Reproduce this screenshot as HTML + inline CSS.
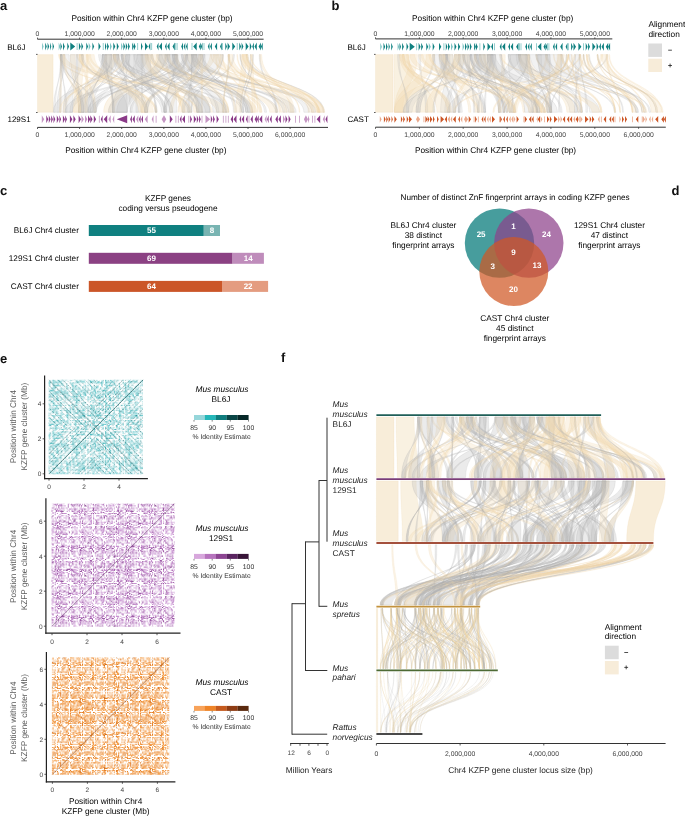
<!DOCTYPE html><html><head><meta charset="utf-8"><style>html,body{margin:0;padding:0;background:#fff;width:685px;height:816px;overflow:hidden}text{font-family:"Liberation Sans",sans-serif}.r0{fill:#f1dcb4;fill-opacity:0.5;stroke:#ecd3a4;stroke-opacity:0.6;stroke-width:0.3}.r1{fill:#f1dcb4;fill-opacity:0.3;stroke:#ecd3a4;stroke-opacity:0.6;stroke-width:0.3}.r2{fill:#bcbcbc;fill-opacity:0.2;stroke:#a8a8a8;stroke-opacity:0.6;stroke-width:0.3}.r3{fill:#f1dcb4;fill-opacity:0.4;stroke:#ecd3a4;stroke-opacity:0.5;stroke-width:0.3}.r4{fill:#f1dcb4;fill-opacity:0.3;stroke:#ecd3a4;stroke-opacity:0.5;stroke-width:0.3}.r5{fill:#bcbcbc;fill-opacity:0.3;stroke:#a8a8a8;stroke-opacity:0.6;stroke-width:0.3}.r6{fill:#bcbcbc;fill-opacity:0.3;stroke:#a8a8a8;stroke-opacity:0.5;stroke-width:0.3}.r7{fill:#f1dcb4;fill-opacity:0.3;stroke:#ecd3a4;stroke-opacity:0.4;stroke-width:0.3}.r8{fill:#bcbcbc;fill-opacity:0.2;stroke:#a8a8a8;stroke-opacity:0.4;stroke-width:0.3}.r9{fill:#f1dcb4;fill-opacity:0.2;stroke:#ecd3a4;stroke-opacity:0.3;stroke-width:0.3}.r10{fill:#bcbcbc;fill-opacity:0.1;stroke:#a8a8a8;stroke-opacity:0.2;stroke-width:0.3}</style></head><body><svg width="685" height="816" viewBox="0 0 685 816" style="font-family:'Liberation Sans',sans-serif;display:block;text-rendering:geometricPrecision;will-change:transform"><rect width="685" height="816" fill="#fff"/><text x="0" y="9.8" font-size="13" font-weight="bold" fill="#111">a</text><text x="331.4" y="9.8" font-size="13" font-weight="bold" fill="#111">b</text><text x="0" y="194.9" font-size="13" font-weight="bold" fill="#111">c</text><text x="671.6" y="195.2" font-size="13" font-weight="bold" fill="#111">d</text><text x="0" y="362.9" font-size="13" font-weight="bold" fill="#111">e</text><text x="281" y="361.5" font-size="13" font-weight="bold" fill="#111">f</text><path class="r0" d="M37.5 54.6C37.5 83.5 37.5 83.5 37.5 112.3L53.1 112.3C53.1 83.5 53.1 83.5 53.1 54.6Z"/><path class="r1" d="M150.9 54.6C150.9 83.5 250.5 83.5 250.5 112.3L256.9 112.3C256.9 83.5 158.5 83.5 158.5 54.6Z"/><path class="r2" d="M150.9 54.6C150.9 83.5 202.6 83.5 202.6 112.3L201.4 112.3C201.4 83.5 152.6 83.5 152.6 54.6Z"/><path class="r2" d="M233 54.6C233 83.5 184.3 83.5 184.3 112.3L182.8 112.3C182.8 83.5 234.5 83.5 234.5 54.6Z"/><path class="r1" d="M88.7 54.6C88.7 83.5 190.2 83.5 190.2 112.3L192 112.3C192 83.5 90.6 83.5 90.6 54.6Z"/><path class="r1" d="M185.9 54.6C185.9 83.5 311.6 83.5 311.6 112.3L320.2 112.3C320.2 83.5 196.7 83.5 196.7 54.6Z"/><path class="r2" d="M198.8 54.6C198.8 83.5 127.2 83.5 127.2 112.3L108.4 112.3C108.4 83.5 204.9 83.5 204.9 54.6Z"/><path class="r1" d="M70.3 54.6C70.3 83.5 78.6 83.5 78.6 112.3L81 112.3C81 83.5 75.2 83.5 75.2 54.6Z"/><path class="r2" d="M185.9 54.6C185.9 83.5 226.5 83.5 226.5 112.3L222.5 112.3C222.5 83.5 192.6 83.5 192.6 54.6Z"/><path class="r1" d="M183.6 54.6C183.6 83.5 227.7 83.5 227.7 112.3L228.9 112.3C228.9 83.5 185.3 83.5 185.3 54.6Z"/><path class="r2" d="M164.9 54.6C164.9 83.5 127.2 83.5 127.2 112.3L116.7 112.3C116.7 83.5 166.6 83.5 166.6 54.6Z"/><path class="r1" d="M145 54.6C145 83.5 316.7 83.5 316.7 112.3L320.2 112.3C320.2 83.5 148 83.5 148 54.6Z"/><path class="r1" d="M213 54.6C213 83.5 280.7 83.5 280.7 112.3L285.2 112.3C285.2 83.5 218.9 83.5 218.9 54.6Z"/><path class="r2" d="M121.1 54.6C121.1 83.5 166.3 83.5 166.3 112.3L164 112.3C164 83.5 122.8 83.5 122.8 54.6Z"/><path class="r2" d="M141 54.6C141 83.5 143 83.5 143 112.3L141.2 112.3C141.2 83.5 142.7 83.5 142.7 54.6Z"/><path class="r2" d="M60.5 54.6C60.5 83.5 55.3 83.5 55.3 112.3L53.5 112.3C53.5 83.5 62 83.5 62 54.6Z"/><path class="r2" d="M259.2 54.6C259.2 83.5 277.2 83.5 277.2 112.3L275.9 112.3C275.9 83.5 260.3 83.5 260.3 54.6Z"/><path class="r2" d="M181.2 54.6C181.2 83.5 266.6 83.5 266.6 112.3L264.6 112.3C264.6 83.5 183 83.5 183 54.6Z"/><path class="r2" d="M128.1 54.6C128.1 83.5 140.6 83.5 140.6 112.3L136 112.3C136 83.5 133.9 83.5 133.9 54.6Z"/><path class="r2" d="M222.2 54.6C222.2 83.5 191.6 83.5 191.6 112.3L190.6 112.3C190.6 83.5 223.1 83.5 223.1 54.6Z"/><path class="r1" d="M58.7 54.6C58.7 83.5 155.2 83.5 155.2 112.3L157 112.3C157 83.5 60.3 83.5 60.3 54.6Z"/><path class="r2" d="M203.1 54.6C203.1 83.5 236.5 83.5 236.5 112.3L233.5 112.3C233.5 83.5 204.9 83.5 204.9 54.6Z"/><path class="r1" d="M215.4 54.6C215.4 83.5 234.2 83.5 234.2 112.3L235.8 112.3C235.8 83.5 216.5 83.5 216.5 54.6Z"/><path class="r1" d="M58.7 54.6C58.7 83.5 216.6 83.5 216.6 112.3L226.5 112.3C226.5 83.5 64.8 83.5 64.8 54.6Z"/><path class="r1" d="M123.4 54.6C123.4 83.5 59.4 83.5 59.4 112.3L61.1 112.3C61.1 83.5 125.2 83.5 125.2 54.6Z"/><path class="r1" d="M141 54.6C141 83.5 193.8 83.5 193.8 112.3L200.8 112.3C200.8 83.5 150.3 83.5 150.3 54.6Z"/><path class="r1" d="M78.9 54.6C78.9 83.5 73.4 83.5 73.4 112.3L81 112.3C81 83.5 83.2 83.5 83.2 54.6Z"/><path class="r2" d="M113.3 54.6C113.3 83.5 166.3 83.5 166.3 112.3L164 112.3C164 83.5 115.3 83.5 115.3 54.6Z"/><path class="r2" d="M136.9 54.6C136.9 83.5 96.1 83.5 96.1 112.3L88 112.3C88 83.5 148 83.5 148 54.6Z"/><path class="r2" d="M193.2 54.6C193.2 83.5 249.9 83.5 249.9 112.3L248.1 112.3C248.1 83.5 196.7 83.5 196.7 54.6Z"/><path class="r2" d="M191.4 54.6C191.4 83.5 315.6 83.5 315.6 112.3L311.6 112.3C311.6 83.5 196.7 83.5 196.7 54.6Z"/><path class="r1" d="M239.8 54.6C239.8 83.5 308.4 83.5 308.4 112.3L309.1 112.3C309.1 83.5 240.6 83.5 240.6 54.6Z"/><path class="r2" d="M193.2 54.6C193.2 83.5 309.5 83.5 309.5 112.3L303.9 112.3C303.9 83.5 202.5 83.5 202.5 54.6Z"/><path class="r2" d="M110 54.6C110 83.5 92.6 83.5 92.6 112.3L85 112.3C85 83.5 118.8 83.5 118.8 54.6Z"/><path class="r2" d="M102.2 54.6C102.2 83.5 127.2 83.5 127.2 112.3L112.5 112.3C112.5 83.5 106.5 83.5 106.5 54.6Z"/><path class="r2" d="M185.9 54.6C185.9 83.5 131.9 83.5 131.9 112.3L130.1 112.3C130.1 83.5 187.6 83.5 187.6 54.6Z"/><path class="r2" d="M63 54.6C63 83.5 87.4 83.5 87.4 112.3L81.5 112.3C81.5 83.5 69.1 83.5 69.1 54.6Z"/><path class="r2" d="M113.3 54.6C113.3 83.5 228.9 83.5 228.9 112.3L225.4 112.3C225.4 83.5 118.8 83.5 118.8 54.6Z"/><path class="r2" d="M121.1 54.6C121.1 83.5 244.1 83.5 244.1 112.3L241.7 112.3C241.7 83.5 122.8 83.5 122.8 54.6Z"/><path class="r1" d="M86.3 54.6C86.3 83.5 141.2 83.5 141.2 112.3L153.5 112.3C153.5 83.5 94.2 83.5 94.2 54.6Z"/><path class="r2" d="M191.4 54.6C191.4 83.5 189.7 83.5 189.7 112.3L187.9 112.3C187.9 83.5 192.6 83.5 192.6 54.6Z"/><path class="r1" d="M220.5 54.6C220.5 83.5 177.8 83.5 177.8 112.3L178.7 112.3C178.7 83.5 221.3 83.5 221.3 54.6Z"/><path class="r2" d="M121.1 54.6C121.1 83.5 172.7 83.5 172.7 112.3L169.8 112.3C169.8 83.5 122.8 83.5 122.8 54.6Z"/><path class="r1" d="M76.5 54.6C76.5 83.5 196.8 83.5 196.8 112.3L198.5 112.3C198.5 83.5 77.7 83.5 77.7 54.6Z"/><path class="r2" d="M200.8 54.6C200.8 83.5 247.6 83.5 247.6 112.3L245.8 112.3C245.8 83.5 202.5 83.5 202.5 54.6Z"/><path class="r2" d="M183.6 54.6C183.6 83.5 96.1 83.5 96.1 112.3L93.8 112.3C93.8 83.5 185.3 83.5 185.3 54.6Z"/><path class="r1" d="M210.1 54.6C210.1 83.5 141.1 83.5 141.1 112.3L145.4 112.3C145.4 83.5 214.8 83.5 214.8 54.6Z"/><path class="r2" d="M193.2 54.6C193.2 83.5 147.6 83.5 147.6 112.3L144.7 112.3C144.7 83.5 196.7 83.5 196.7 54.6Z"/><path class="r2" d="M125.8 54.6C125.8 83.5 83.9 83.5 83.9 112.3L78.6 112.3C78.6 83.5 129.9 83.5 129.9 54.6Z"/><path class="r2" d="M174.8 54.6C174.8 83.5 110.7 83.5 110.7 112.3L108.4 112.3C108.4 83.5 176.6 83.5 176.6 54.6Z"/><path class="r1" d="M228.2 54.6C228.2 83.5 259.9 83.5 259.9 112.3L261.5 112.3C261.5 83.5 229.4 83.5 229.4 54.6Z"/><path class="r2" d="M246.4 54.6C246.4 83.5 324.3 83.5 324.3 112.3L323.3 112.3C323.3 83.5 247.9 83.5 247.9 54.6Z"/><path class="r1" d="M246.4 54.6C246.4 83.5 257.3 83.5 257.3 112.3L258.2 112.3C258.2 83.5 247.9 83.5 247.9 54.6Z"/><path class="r2" d="M185.9 54.6C185.9 83.5 147.6 83.5 147.6 112.3L144.7 112.3C144.7 83.5 187.6 83.5 187.6 54.6Z"/><path class="r1" d="M113.3 54.6C113.3 83.5 182.1 83.5 182.1 112.3L189.7 112.3C189.7 83.5 118.8 83.5 118.8 54.6Z"/><path class="r1" d="M259.6 54.6C259.6 83.5 290.5 83.5 290.5 112.3L294.3 112.3C294.3 83.5 261.7 83.5 261.7 54.6Z"/><path class="r1" d="M156.7 54.6C156.7 83.5 103.7 83.5 103.7 112.3L114.2 112.3C114.2 83.5 166.6 83.5 166.6 54.6Z"/><path class="r1" d="M60.5 54.6C60.5 83.5 59.4 83.5 59.4 112.3L61.1 112.3C61.1 83.5 62 83.5 62 54.6Z"/><path class="r1" d="M107.1 54.6C107.1 83.5 73.4 83.5 73.4 112.3L83.9 112.3C83.9 83.5 115.3 83.5 115.3 54.6Z"/><path class="r1" d="M200.8 54.6C200.8 83.5 201.4 83.5 201.4 112.3L202.6 112.3C202.6 83.5 202.5 83.5 202.5 54.6Z"/><path class="r2" d="M133.9 54.6C133.9 83.5 198.5 83.5 198.5 112.3L196.8 112.3C196.8 83.5 135.7 83.5 135.7 54.6Z"/><path class="r2" d="M172.5 54.6C172.5 83.5 287.5 83.5 287.5 112.3L283 112.3C283 83.5 176.6 83.5 176.6 54.6Z"/><path class="r1" d="M164.9 54.6C164.9 83.5 179.7 83.5 179.7 112.3L181.5 112.3C181.5 83.5 166.6 83.5 166.6 54.6Z"/><path class="r2" d="M102.2 54.6C102.2 83.5 189.7 83.5 189.7 112.3L187.9 112.3C187.9 83.5 104.1 83.5 104.1 54.6Z"/><path class="r2" d="M250.3 54.6C250.3 83.5 240.7 83.5 240.7 112.3L239.8 112.3C239.8 83.5 251.2 83.5 251.2 54.6Z"/><path class="r2" d="M164.9 54.6C164.9 83.5 277.8 83.5 277.8 112.3L275.3 112.3C275.3 83.5 166.6 83.5 166.6 54.6Z"/><path class="r1" d="M210.6 54.6C210.6 83.5 323.3 83.5 323.3 112.3L324.3 112.3C324.3 83.5 211.4 83.5 211.4 54.6Z"/><path class="r1" d="M81.4 54.6C81.4 83.5 93.8 83.5 93.8 112.3L96.1 112.3C96.1 83.5 83.2 83.5 83.2 54.6Z"/><path class="r1" d="M241.6 54.6C241.6 83.5 236.2 83.5 236.2 112.3L241.5 112.3C241.5 83.5 246.3 83.5 246.3 54.6Z"/><path class="r2" d="M150.9 54.6C150.9 83.5 247.6 83.5 247.6 112.3L245.8 112.3C245.8 83.5 152.6 83.5 152.6 54.6Z"/><path class="r1" d="M246.4 54.6C246.4 83.5 299.2 83.5 299.2 112.3L299.9 112.3C299.9 83.5 247.9 83.5 247.9 54.6Z"/><path class="r2" d="M181.2 54.6C181.2 83.5 252.8 83.5 252.8 112.3L245.8 112.3C245.8 83.5 187.6 83.5 187.6 54.6Z"/><path class="r2" d="M60.5 54.6C60.5 83.5 96.1 83.5 96.1 112.3L93.8 112.3C93.8 83.5 62 83.5 62 54.6Z"/><path class="r2" d="M60.5 54.6C60.5 83.5 83.9 83.5 83.9 112.3L81.5 112.3C81.5 83.5 62 83.5 62 54.6Z"/><path class="r1" d="M228.2 54.6C228.2 83.5 286 83.5 286 112.3L287 112.3C287 83.5 229.4 83.5 229.4 54.6Z"/><path class="r2" d="M70.3 54.6C70.3 83.5 83.9 83.5 83.9 112.3L78.6 112.3C78.6 83.5 77.7 83.5 77.7 54.6Z"/><path class="r2" d="M113.3 54.6C113.3 83.5 58.8 83.5 58.8 112.3L53.5 112.3C53.5 83.5 118.8 83.5 118.8 54.6Z"/><path class="r2" d="M174.8 54.6C174.8 83.5 166.3 83.5 166.3 112.3L164 112.3C164 83.5 176.6 83.5 176.6 54.6Z"/><path class="r1" d="M227.8 54.6C227.8 83.5 288.2 83.5 288.2 112.3L293.5 112.3C293.5 83.5 232.7 83.5 232.7 54.6Z"/><path class="r2" d="M167.2 54.6C167.2 83.5 252.8 83.5 252.8 112.3L248.1 112.3C248.1 83.5 174.8 83.5 174.8 54.6Z"/><path class="r1" d="M243.3 54.6C243.3 83.5 318.7 83.5 318.7 112.3L322.8 112.3C322.8 83.5 246.8 83.5 246.8 54.6Z"/><path class="r1" d="M86.3 54.6C86.3 83.5 85 83.5 85 112.3L87.4 112.3C87.4 83.5 88.1 83.5 88.1 54.6Z"/><path class="r2" d="M136.9 54.6C136.9 83.5 202.6 83.5 202.6 112.3L196.8 112.3C196.8 83.5 148 83.5 148 54.6Z"/><path class="r2" d="M228.2 54.6C228.2 83.5 223.8 83.5 223.8 112.3L222.9 112.3C222.9 83.5 229.4 83.5 229.4 54.6Z"/><path class="r1" d="M198.8 54.6C198.8 83.5 169.8 83.5 169.8 112.3L172.7 112.3C172.7 83.5 200.8 83.5 200.8 54.6Z"/><path class="r2" d="M105 54.6C105 83.5 114.2 83.5 114.2 112.3L112.5 112.3C112.5 83.5 106.5 83.5 106.5 54.6Z"/><path class="r2" d="M123.4 54.6C123.4 83.5 210.2 83.5 210.2 112.3L205.5 112.3C205.5 83.5 125.2 83.5 125.2 54.6Z"/><path class="r1" d="M113.3 54.6C113.3 83.5 210.8 83.5 210.8 112.3L212.5 112.3C212.5 83.5 115.3 83.5 115.3 54.6Z"/><path class="r2" d="M167.2 54.6C167.2 83.5 210.2 83.5 210.2 112.3L199.1 112.3C199.1 83.5 176.6 83.5 176.6 54.6Z"/><path class="r1" d="M145 54.6C145 83.5 182.1 83.5 182.1 112.3L185 112.3C185 83.5 148 83.5 148 54.6Z"/><path class="r1" d="M105 54.6C105 83.5 62.9 83.5 62.9 112.3L65 112.3C65 83.5 106.5 83.5 106.5 54.6Z"/><path class="r2" d="M98.5 54.6C98.5 83.5 164 83.5 164 112.3L161.6 112.3C161.6 83.5 100.7 83.5 100.7 54.6Z"/><path class="r2" d="M159 54.6C159 83.5 210.2 83.5 210.2 112.3L199.1 112.3C199.1 83.5 169.6 83.5 169.6 54.6Z"/><path class="r2" d="M239.8 54.6C239.8 83.5 277.2 83.5 277.2 112.3L275.9 112.3C275.9 83.5 240.6 83.5 240.6 54.6Z"/><path class="r1" d="M222.2 54.6C222.2 83.5 251.1 83.5 251.1 112.3L252.2 112.3C252.2 83.5 223.1 83.5 223.1 54.6Z"/><path class="r1" d="M241.6 54.6C241.6 83.5 309.9 83.5 309.9 112.3L313.7 112.3C313.7 83.5 246.3 83.5 246.3 54.6Z"/><path class="r2" d="M113.3 54.6C113.3 83.5 138.3 83.5 138.3 112.3L130.1 112.3C130.1 83.5 122.8 83.5 122.8 54.6Z"/><path class="r2" d="M105 54.6C105 83.5 87.4 83.5 87.4 112.3L78.6 112.3C78.6 83.5 111.8 83.5 111.8 54.6Z"/><path class="r2" d="M172.5 54.6C172.5 83.5 218.9 83.5 218.9 112.3L213.1 112.3C213.1 83.5 176.6 83.5 176.6 54.6Z"/><path class="r2" d="M174.8 54.6C174.8 83.5 72.4 83.5 72.4 112.3L65.2 112.3C65.2 83.5 177.7 83.5 177.7 54.6Z"/><path class="r2" d="M60.5 54.6C60.5 83.5 61.1 83.5 61.1 112.3L56.8 112.3C56.8 83.5 64.8 83.5 64.8 54.6Z"/><path class="r1" d="M174.8 54.6C174.8 83.5 225.4 83.5 225.4 112.3L228.9 112.3C228.9 83.5 177.7 83.5 177.7 54.6Z"/><path class="r2" d="M76.5 54.6C76.5 83.5 72.4 83.5 72.4 112.3L62.9 112.3C62.9 83.5 83.2 83.5 83.2 54.6Z"/><path class="r2" d="M156.7 54.6C156.7 83.5 296.2 83.5 296.2 112.3L288.6 112.3C288.6 83.5 162 83.5 162 54.6Z"/><path class="r2" d="M116.8 54.6C116.8 83.5 147.6 83.5 147.6 112.3L144.7 112.3C144.7 83.5 118.8 83.5 118.8 54.6Z"/><path class="r1" d="M148.5 54.6C148.5 83.5 269.7 83.5 269.7 112.3L277.8 112.3C277.8 83.5 152.6 83.5 152.6 54.6Z"/><path class="r2" d="M172.5 54.6C172.5 83.5 176.8 83.5 176.8 112.3L164 112.3C164 83.5 177.7 83.5 177.7 54.6Z"/><path class="r2" d="M60.5 54.6C60.5 83.5 67 83.5 67 112.3L65.2 112.3C65.2 83.5 62 83.5 62 54.6Z"/><path class="r1" d="M63 54.6C63 83.5 78.6 83.5 78.6 112.3L81 112.3C81 83.5 64.8 83.5 64.8 54.6Z"/><path class="r2" d="M125.8 54.6C125.8 83.5 127.2 83.5 127.2 112.3L112.5 112.3C112.5 83.5 129.9 83.5 129.9 54.6Z"/><path class="r1" d="M78.9 54.6C78.9 83.5 138.9 83.5 138.9 112.3L147.6 112.3C147.6 83.5 88.1 83.5 88.1 54.6Z"/><path class="r2" d="M191.4 54.6C191.4 83.5 192 83.5 192 112.3L182.1 112.3C182.1 83.5 200.8 83.5 200.8 54.6Z"/><path class="r1" d="M250.8 54.6C250.8 83.5 252.1 83.5 252.1 112.3L255.3 112.3C255.3 83.5 252.9 83.5 252.9 54.6Z"/><path class="r1" d="M236.8 54.6C236.8 83.5 279 83.5 279 112.3L280.3 112.3C280.3 83.5 237.7 83.5 237.7 54.6Z"/><path class="r2" d="M172.5 54.6C172.5 83.5 226.5 83.5 226.5 112.3L216.6 112.3C216.6 83.5 177.7 83.5 177.7 54.6Z"/><path class="r1" d="M242.1 54.6C242.1 83.5 317.6 83.5 317.6 112.3L319.3 112.3C319.3 83.5 242.9 83.5 242.9 54.6Z"/><path class="r2" d="M252.6 54.6C252.6 83.5 243.5 83.5 243.5 112.3L242.3 112.3C242.3 83.5 253.5 83.5 253.5 54.6Z"/><path class="r1" d="M250.3 54.6C250.3 83.5 317.6 83.5 317.6 112.3L319.3 112.3C319.3 83.5 251.2 83.5 251.2 54.6Z"/><path class="r1" d="M217 54.6C217 83.5 319.4 83.5 319.4 112.3L324.7 112.3C324.7 83.5 221.3 83.5 221.3 54.6Z"/><path class="r1" d="M228.2 54.6C228.2 83.5 222.9 83.5 222.9 112.3L223.8 112.3C223.8 83.5 229.4 83.5 229.4 54.6Z"/><path class="r1" d="M78.9 54.6C78.9 83.5 155.2 83.5 155.2 112.3L157 112.3C157 83.5 80.8 83.5 80.8 54.6Z"/><path class="r2" d="M81.4 54.6C81.4 83.5 147.6 83.5 147.6 112.3L144.7 112.3C144.7 83.5 83.2 83.5 83.2 54.6Z"/><path class="r1" d="M167.2 54.6C167.2 83.5 259.2 83.5 259.2 112.3L262.2 112.3C262.2 83.5 169.6 83.5 169.6 54.6Z"/><path class="r2" d="M159 54.6C159 83.5 96.1 83.5 96.1 112.3L88 112.3C88 83.5 169.6 83.5 169.6 54.6Z"/><path class="r2" d="M191.4 54.6C191.4 83.5 244.1 83.5 244.1 112.3L241.7 112.3C241.7 83.5 192.6 83.5 192.6 54.6Z"/><path class="r2" d="M102.2 54.6C102.2 83.5 90.3 83.5 90.3 112.3L88 112.3C88 83.5 104.1 83.5 104.1 54.6Z"/><path class="r2" d="M121.1 54.6C121.1 83.5 172.7 83.5 172.7 112.3L169.8 112.3C169.8 83.5 127.5 83.5 127.5 54.6Z"/><path class="r2" d="M203.1 54.6C203.1 83.5 166.3 83.5 166.3 112.3L164 112.3C164 83.5 223.5 83.5 223.5 54.6Z"/><path class="r2" d="M125.8 54.6C125.8 83.5 157 83.5 157 112.3L155.2 112.3C155.2 83.5 142.7 83.5 142.7 54.6Z"/><path class="r2" d="M167.2 54.6C167.2 83.5 198.5 83.5 198.5 112.3L196.8 112.3C196.8 83.5 183 83.5 183 54.6Z"/><path class="r2" d="M185.9 54.6C185.9 83.5 92.6 83.5 92.6 112.3L90.3 112.3C90.3 83.5 202.5 83.5 202.5 54.6Z"/><path class="r2" d="M102.2 54.6C102.2 83.5 114.2 83.5 114.2 112.3L112.5 112.3C112.5 83.5 111.8 83.5 111.8 54.6Z"/><path class="r2" d="M133.9 54.6C133.9 83.5 157 83.5 157 112.3L155.2 112.3C155.2 83.5 150.3 83.5 150.3 54.6Z"/><path class="r2" d="M102.2 54.6C102.2 83.5 72.4 83.5 72.4 112.3L69.9 112.3C69.9 83.5 111.8 83.5 111.8 54.6Z"/><text x="152" y="20.6" font-size="8.3" text-anchor="middle">Position within Chr4 KZFP gene cluster (bp)</text><line x1="37.5" y1="39.2" x2="263.6" y2="39.2" stroke="#333" stroke-width="1"/><line x1="37.5" y1="39.2" x2="37.5" y2="37.6" stroke="#333" stroke-width="0.8"/><text x="37.5" y="35.9" font-size="6.8" text-anchor="middle" fill="#444">0</text><line x1="79.6" y1="39.2" x2="79.6" y2="37.6" stroke="#333" stroke-width="0.8"/><text x="79.6" y="35.9" font-size="6.8" text-anchor="middle" fill="#444">1,000,000</text><line x1="121.7" y1="39.2" x2="121.7" y2="37.6" stroke="#333" stroke-width="0.8"/><text x="121.7" y="35.9" font-size="6.8" text-anchor="middle" fill="#444">2,000,000</text><line x1="163.8" y1="39.2" x2="163.8" y2="37.6" stroke="#333" stroke-width="0.8"/><text x="163.8" y="35.9" font-size="6.8" text-anchor="middle" fill="#444">3,000,000</text><line x1="205.9" y1="39.2" x2="205.9" y2="37.6" stroke="#333" stroke-width="0.8"/><text x="205.9" y="35.9" font-size="6.8" text-anchor="middle" fill="#444">4,000,000</text><line x1="248" y1="39.2" x2="248" y2="37.6" stroke="#333" stroke-width="0.8"/><text x="248" y="35.9" font-size="6.8" text-anchor="middle" fill="#444">5,000,000</text><line x1="37.5" y1="127.4" x2="328" y2="127.4" stroke="#333" stroke-width="1"/><line x1="37.5" y1="127.4" x2="37.5" y2="129" stroke="#333" stroke-width="0.8"/><text x="37.5" y="137.2" font-size="6.8" text-anchor="middle" fill="#444">0</text><line x1="79.6" y1="127.4" x2="79.6" y2="129" stroke="#333" stroke-width="0.8"/><text x="79.6" y="137.2" font-size="6.8" text-anchor="middle" fill="#444">1,000,000</text><line x1="121.7" y1="127.4" x2="121.7" y2="129" stroke="#333" stroke-width="0.8"/><text x="121.7" y="137.2" font-size="6.8" text-anchor="middle" fill="#444">2,000,000</text><line x1="163.8" y1="127.4" x2="163.8" y2="129" stroke="#333" stroke-width="0.8"/><text x="163.8" y="137.2" font-size="6.8" text-anchor="middle" fill="#444">3,000,000</text><line x1="205.9" y1="127.4" x2="205.9" y2="129" stroke="#333" stroke-width="0.8"/><text x="205.9" y="137.2" font-size="6.8" text-anchor="middle" fill="#444">4,000,000</text><line x1="248" y1="127.4" x2="248" y2="129" stroke="#333" stroke-width="0.8"/><text x="248" y="137.2" font-size="6.8" text-anchor="middle" fill="#444">5,000,000</text><line x1="290.1" y1="127.4" x2="290.1" y2="129" stroke="#333" stroke-width="0.8"/><text x="290.1" y="137.2" font-size="6.8" text-anchor="middle" fill="#444">6,000,000</text><text x="145.8" y="152.7" font-size="8.3" text-anchor="middle">Position within Chr4 KZFP gene cluster (bp)</text><text x="25.4" y="49.8" font-size="8" text-anchor="end">BL6J</text><text x="30.6" y="122.2" font-size="8" text-anchor="end">129S1</text><line x1="36" y1="54.4" x2="37.6" y2="54.4" stroke="#333" stroke-width="0.8"/><line x1="36" y1="112.5" x2="37.6" y2="112.5" stroke="#333" stroke-width="0.8"/><path d="M45.2 42.6L46.8 46.6L45.2 50.6ZM47.6 42.6L49.2 46.6L47.6 50.6ZM50.1 42.6L51.3 46.6L50.1 50.6ZM52.6 42.6L54.1 46.6L52.6 50.6ZM60.5 42.6L62 46.6L60.5 50.6ZM63 42.6L64.8 46.6L63 50.6ZM67.3 42.6L69.1 46.6L67.3 50.6ZM70.3 42.6L75.2 46.6L70.3 50.6ZM78.9 42.6L80.8 46.6L78.9 50.6ZM81.4 42.6L83.2 46.6L81.4 50.6ZM86.3 42.6L88.1 46.6L86.3 50.6ZM92.4 42.6L94.2 46.6L92.4 50.6ZM98.5 42.6L100.7 46.6L98.5 50.6ZM105 42.6L106.5 46.6L105 50.6ZM107.1 42.6L109 46.6L107.1 50.6ZM113.3 42.6L115.3 46.6L113.3 50.6ZM116.8 42.6L118.8 46.6L116.8 50.6ZM123.4 42.6L125.2 46.6L123.4 50.6ZM125.8 42.6L127.5 46.6L125.8 50.6ZM128.1 42.6L129.9 46.6L128.1 50.6ZM132.2 42.6L133.9 46.6L132.2 50.6ZM133.9 42.6L135.7 46.6L133.9 50.6ZM141 42.6L142.7 46.6L141 50.6ZM145 42.6L148 46.6L145 50.6ZM150.3 42.6L148.5 46.6L150.3 50.6ZM158.5 42.6L156.7 46.6L158.5 50.6ZM162 42.6L159 46.6L162 50.6ZM166.6 42.6L164.9 46.6L166.6 50.6ZM169.6 42.6L167.2 46.6L169.6 50.6ZM174.8 42.6L172.5 46.6L174.8 50.6ZM183 42.6L181.2 46.6L183 50.6ZM185.3 42.6L183.6 46.6L185.3 50.6ZM187.6 42.6L185.9 46.6L187.6 50.6ZM196.7 42.6L193.2 46.6L196.7 50.6ZM200.8 42.6L198.8 46.6L200.8 50.6ZM202.5 42.6L200.8 46.6L202.5 50.6ZM209.5 42.6L207.8 46.6L209.5 50.6ZM211.9 42.6L210.1 46.6L211.9 50.6ZM217.1 42.6L214.8 46.6L217.1 50.6ZM221.8 42.6L220 46.6L221.8 50.6ZM225.3 42.6L227 46.6L225.3 50.6ZM227.6 42.6L230 46.6L227.6 50.6ZM232.3 42.6L235.2 46.6L232.3 50.6ZM239.3 42.6L241.1 46.6L239.3 50.6ZM241.6 42.6L243.4 46.6L241.6 50.6ZM245.7 42.6L248.6 46.6L245.7 50.6ZM249.8 42.6L251.6 46.6L249.8 50.6ZM253.9 42.6L252.2 46.6L253.9 50.6ZM256.8 42.6L254.5 46.6L256.8 50.6ZM260.9 42.6L258.6 46.6L260.9 50.6ZM262.7 42.6L260.9 46.6L262.7 50.6Z" fill="#0f8080"/><path d="M42.1 42.6L43.6 46.6L42.1 50.6ZM58.7 42.6L60.3 46.6L58.7 50.6ZM76.7 43.1h0.8v7h-0.8ZM88.7 42.6L90.6 46.6L88.7 50.6ZM102.8 43.1h0.8v7h-0.8ZM110 42.6L111.8 46.6L110 50.6ZM121.1 42.6L122.8 46.6L121.1 50.6ZM137.3 43.1h0.8v7h-0.8ZM151.3 43.1h0.8v7h-0.8ZM175.3 43.1h0.8v7h-0.8ZM176.7 43.1h0.8v7h-0.8ZM191.6 43.1h0.8v7h-0.8ZM203.6 43.1h0.8v7h-0.8ZM222.2 43.1h0.8v7h-0.8ZM236.8 43.1h0.8v7h-0.8Z" fill="#7cc3c3"/><path d="M46.3 115.3L48.3 119.3L46.3 123.3ZM48.8 115.3L50.6 119.3L48.8 123.3ZM51.2 115.3L52.9 119.3L51.2 123.3ZM53.5 115.3L55.3 119.3L53.5 123.3ZM56.8 115.3L58.8 119.3L56.8 123.3ZM59.4 115.3L61.1 119.3L59.4 123.3ZM62.9 115.3L65 119.3L62.9 123.3ZM65.2 115.3L67 119.3L65.2 123.3ZM69.9 115.3L72.4 119.3L69.9 123.3ZM73.4 115.3L75.7 119.3L73.4 123.3ZM78.6 115.3L81 119.3L78.6 123.3ZM88 115.3L90.3 119.3L88 123.3ZM90.3 115.3L92.6 119.3L90.3 123.3ZM93.8 115.3L96.1 119.3L93.8 123.3ZM102.6 115.3L100.8 119.3L102.6 123.3ZM107.2 115.3L103.7 119.3L107.2 123.3ZM127.2 115.3L116.7 119.3L127.2 123.3ZM131.9 115.3L130.1 119.3L131.9 123.3ZM134.8 115.3L132.4 119.3L134.8 123.3ZM140.6 115.3L138.9 119.3L140.6 123.3ZM143 115.3L141.2 119.3L143 123.3ZM169.8 115.3L172.7 119.3L169.8 123.3ZM181.5 115.3L179.7 119.3L181.5 123.3ZM185 115.3L182.1 119.3L185 123.3ZM190.2 115.3L192 119.3L190.2 123.3ZM193.8 115.3L196.2 119.3L193.8 123.3ZM196.8 115.3L198.5 119.3L196.8 123.3ZM199.1 115.3L200.8 119.3L199.1 123.3ZM210.8 115.3L212.5 119.3L210.8 123.3ZM213.1 115.3L214.9 119.3L213.1 123.3ZM216.6 115.3L218.9 119.3L216.6 123.3ZM233 115.3L230.6 119.3L233 123.3ZM236.5 115.3L233.5 119.3L236.5 123.3ZM241.1 115.3L239.4 119.3L241.1 123.3ZM244.1 115.3L241.7 119.3L244.1 123.3ZM247.6 115.3L245.8 119.3L247.6 123.3ZM252.8 115.3L250.5 119.3L252.8 123.3ZM256.9 115.3L254.6 119.3L256.9 123.3ZM258.7 115.3L256.9 119.3L258.7 123.3ZM262.2 115.3L259.2 119.3L262.2 123.3ZM268.6 115.3L267.1 119.3L268.6 123.3ZM271.7 115.3L269.7 119.3L271.7 123.3ZM277.8 115.3L275.3 119.3L277.8 123.3ZM280.9 115.3L278.4 119.3L280.9 123.3ZM285.5 115.3L287.5 119.3L285.5 123.3ZM288.6 115.3L290.6 119.3L288.6 123.3ZM320.2 115.3L316.7 119.3L320.2 123.3ZM327.4 115.3L325.4 119.3L327.4 123.3Z" fill="#8a3a88"/><path d="M41.8 115.3L44.2 119.3L41.8 123.3ZM81.5 115.3L83.9 119.3L81.5 123.3ZM85 115.3L87.4 119.3L85 123.3ZM98.9 115.8h0.8v7h-0.8ZM110.7 115.3L108.4 119.3L110.7 123.3ZM114.2 115.3L112.5 119.3L114.2 123.3ZM138.3 115.3L136 119.3L138.3 123.3ZM147.6 115.3L144.7 119.3L147.6 123.3ZM153.5 115.3L151.7 119.3L153.5 123.3ZM155.7 115.8h0.8v7h-0.8ZM164 115.3L161.6 119.3L164 123.3ZM164 115.3L166.3 119.3L164 123.3ZM175.5 115.8h0.8v7h-0.8ZM177.9 115.8h0.8v7h-0.8ZM188.4 115.8h0.8v7h-0.8ZM201.6 115.8h0.8v7h-0.8ZM205.5 115.3L210.2 119.3L205.5 123.3ZM222.9 115.8h0.8v7h-0.8ZM225.5 115.8h0.8v7h-0.8ZM227.9 115.8h0.8v7h-0.8ZM248.6 115.8h0.8v7h-0.8ZM266.6 115.3L264.6 119.3L266.6 123.3ZM283 115.3L285 119.3L283 123.3ZM295.1 115.8h0.8v7h-0.8ZM299.2 115.8h0.8v7h-0.8ZM305.9 115.3L303.9 119.3L305.9 123.3ZM305.9 115.3L308 119.3L305.9 123.3ZM308 115.3L309.5 119.3L308 123.3ZM312 115.8h0.8v7h-0.8ZM314.5 115.8h0.8v7h-0.8ZM324.8 115.3L322.8 119.3L324.8 123.3Z" fill="#c596c3"/><path class="r0" d="M375.5 54.6C375.5 83.5 375.5 83.5 375.5 112.3L393 112.3C393 83.5 393 83.5 393 54.6Z"/><path class="r3" d="M393.9 54.6C393.9 83.5 393.9 83.5 393.9 112.3L434.7 112.3C434.7 83.5 408.4 83.5 408.4 54.6Z"/><path class="r2" d="M606.4 54.6C606.4 83.5 504.4 83.5 504.4 112.3L503.6 112.3C503.6 83.5 607.6 83.5 607.6 54.6Z"/><path class="r2" d="M491.1 54.6C491.1 83.5 500.2 83.5 500.2 112.3L498.5 112.3C498.5 83.5 493 83.5 493 54.6Z"/><path class="r2" d="M458.1 54.6C458.1 83.5 449.9 83.5 449.9 112.3L444.7 112.3C444.7 83.5 464.3 83.5 464.3 54.6Z"/><path class="r1" d="M600.3 54.6C600.3 83.5 533.3 83.5 533.3 112.3L536.2 112.3C536.2 83.5 602.7 83.5 602.7 54.6Z"/><path class="r2" d="M487.5 54.6C487.5 83.5 540 83.5 540 112.3L536.5 112.3C536.5 83.5 493 83.5 493 54.6Z"/><path class="r1" d="M474.1 54.6C474.1 83.5 452.9 83.5 452.9 112.3L455.8 112.3C455.8 83.5 475.9 83.5 475.9 54.6Z"/><path class="r2" d="M527.7 54.6C527.7 83.5 500.2 83.5 500.2 112.3L498.5 112.3C498.5 83.5 529.4 83.5 529.4 54.6Z"/><path class="r1" d="M566.1 54.6C566.1 83.5 580.9 83.5 580.9 112.3L582 112.3C582 83.5 567 83.5 567 54.6Z"/><path class="r2" d="M525.2 54.6C525.2 83.5 551.7 83.5 551.7 112.3L547 112.3C547 83.5 529.4 83.5 529.4 54.6Z"/><path class="r1" d="M527.7 54.6C527.7 83.5 578 83.5 578 112.3L579.7 112.3C579.7 83.5 529.4 83.5 529.4 54.6Z"/><path class="r1" d="M439 54.6C439 83.5 475.1 83.5 475.1 112.3L483.3 112.3C483.3 83.5 447.4 83.5 447.4 54.6Z"/><path class="r2" d="M442.9 54.6C442.9 83.5 420.1 83.5 420.1 112.3L416 112.3C416 83.5 447.4 83.5 447.4 54.6Z"/><path class="r1" d="M402.1 54.6C402.1 83.5 543.5 83.5 543.5 112.3L545.3 112.3C545.3 83.5 403.9 83.5 403.9 54.6Z"/><path class="r1" d="M583.1 54.6C583.1 83.5 541 83.5 541 112.3L541.9 112.3C541.9 83.5 584 83.5 584 54.6Z"/><path class="r2" d="M518.5 54.6C518.5 83.5 599.6 83.5 599.6 112.3L589.7 112.3C589.7 83.5 527 83.5 527 54.6Z"/><path class="r2" d="M445.8 54.6C445.8 83.5 420.1 83.5 420.1 112.3L417.8 112.3C417.8 83.5 447.4 83.5 447.4 54.6Z"/><path class="r1" d="M558.3 54.6C558.3 83.5 513.2 83.5 513.2 112.3L517 112.3C517 83.5 564.4 83.5 564.4 54.6Z"/><path class="r2" d="M418.6 54.6C418.6 83.5 427.7 83.5 427.7 112.3L425.4 112.3C425.4 83.5 420.6 83.5 420.6 54.6Z"/><path class="r1" d="M406.5 54.6C406.5 83.5 447.6 83.5 447.6 112.3L449.9 112.3C449.9 83.5 408.4 83.5 408.4 54.6Z"/><path class="r1" d="M579.2 54.6C579.2 83.5 453.6 83.5 453.6 112.3L455.1 112.3C455.1 83.5 580.7 83.5 580.7 54.6Z"/><path class="r2" d="M579.2 54.6C579.2 83.5 587.6 83.5 587.6 112.3L585.9 112.3C585.9 83.5 580.7 83.5 580.7 54.6Z"/><path class="r2" d="M474.1 54.6C474.1 83.5 557.5 83.5 557.5 112.3L549.9 112.3C549.9 83.5 477.8 83.5 477.8 54.6Z"/><path class="r2" d="M442.9 54.6C442.9 83.5 449.9 83.5 449.9 112.3L440.6 112.3C440.6 83.5 450 83.5 450 54.6Z"/><path class="r1" d="M442.9 54.6C442.9 83.5 468.7 83.5 468.7 112.3L471 112.3C471 83.5 444.9 83.5 444.9 54.6Z"/><path class="r2" d="M445.8 54.6C445.8 83.5 485.6 83.5 485.6 112.3L483.9 112.3C483.9 83.5 447.4 83.5 447.4 54.6Z"/><path class="r1" d="M553.3 54.6C553.3 83.5 619.8 83.5 619.8 112.3L620.5 112.3C620.5 83.5 554.2 83.5 554.2 54.6Z"/><path class="r1" d="M418.6 54.6C418.6 83.5 540.6 83.5 540.6 112.3L545.3 112.3C545.3 83.5 423.1 83.5 423.1 54.6Z"/><path class="r2" d="M568.8 54.6C568.8 83.5 646 83.5 646 112.3L643.9 112.3C643.9 83.5 571.5 83.5 571.5 54.6Z"/><path class="r1" d="M409.7 54.6C409.7 83.5 513.6 83.5 513.6 112.3L515.4 112.3C515.4 83.5 414.8 83.5 414.8 54.6Z"/><path class="r2" d="M518.5 54.6C518.5 83.5 540 83.5 540 112.3L531.8 112.3C531.8 83.5 527 83.5 527 54.6Z"/><path class="r2" d="M535.8 54.6C535.8 83.5 615.8 83.5 615.8 112.3L614.3 112.3C614.3 83.5 537 83.5 537 54.6Z"/><path class="r1" d="M399.5 54.6C399.5 83.5 437 83.5 437 112.3L447 112.3C447 83.5 408.4 83.5 408.4 54.6Z"/><path class="r2" d="M560.8 54.6C560.8 83.5 559.4 83.5 559.4 112.3L558.6 112.3C558.6 83.5 562 83.5 562 54.6Z"/><path class="r2" d="M469.9 54.6C469.9 83.5 504.9 83.5 504.9 112.3L503.1 112.3C503.1 83.5 471.7 83.5 471.7 54.6Z"/><path class="r1" d="M597.1 54.6C597.1 83.5 632.1 83.5 632.1 112.3L632.8 112.3C632.8 83.5 598 83.5 598 54.6Z"/><path class="r2" d="M469.9 54.6C469.9 83.5 545.3 83.5 545.3 112.3L543.5 112.3C543.5 83.5 471.7 83.5 471.7 54.6Z"/><path class="r2" d="M566.1 54.6C566.1 83.5 533.1 83.5 533.1 112.3L532.2 112.3C532.2 83.5 567 83.5 567 54.6Z"/><path class="r2" d="M439 54.6C439 83.5 507.8 83.5 507.8 112.3L506.1 112.3C506.1 83.5 441.3 83.5 441.3 54.6Z"/><path class="r2" d="M487.5 54.6C487.5 83.5 515.4 83.5 515.4 112.3L509 112.3C509 83.5 495.4 83.5 495.4 54.6Z"/><path class="r1" d="M560.8 54.6C560.8 83.5 641.8 83.5 641.8 112.3L642.5 112.3C642.5 83.5 562 83.5 562 54.6Z"/><path class="r1" d="M448 54.6C448 83.5 540.6 83.5 540.6 112.3L545.3 112.3C545.3 83.5 452.9 83.5 452.9 54.6Z"/><path class="r1" d="M479 54.6C479 83.5 531.8 83.5 531.8 112.3L540 112.3C540 83.5 490.6 83.5 490.6 54.6Z"/><path class="r2" d="M487.5 54.6C487.5 83.5 485.6 83.5 485.6 112.3L483.9 112.3C483.9 83.5 490.6 83.5 490.6 54.6Z"/><path class="r1" d="M579.2 54.6C579.2 83.5 662 83.5 662 112.3L663.2 112.3C663.2 83.5 580.7 83.5 580.7 54.6Z"/><path class="r2" d="M432.7 54.6C432.7 83.5 462.3 83.5 462.3 112.3L458.2 112.3C458.2 83.5 441.3 83.5 441.3 54.6Z"/><path class="r1" d="M567.9 54.6C567.9 83.5 500.6 83.5 500.6 112.3L501.5 112.3C501.5 83.5 568.8 83.5 568.8 54.6Z"/><path class="r1" d="M601.4 54.6C601.4 83.5 651.3 83.5 651.3 112.3L655.9 112.3C655.9 83.5 605.9 83.5 605.9 54.6Z"/><path class="r2" d="M475.9 54.6C475.9 83.5 500.2 83.5 500.2 112.3L498.5 112.3C498.5 83.5 477.8 83.5 477.8 54.6Z"/><path class="r2" d="M458.1 54.6C458.1 83.5 479.2 83.5 479.2 112.3L477.4 112.3C477.4 83.5 460.2 83.5 460.2 54.6Z"/><path class="r1" d="M454.5 54.6C454.5 83.5 425.4 83.5 425.4 112.3L432.4 112.3C432.4 83.5 464.3 83.5 464.3 54.6Z"/><path class="r2" d="M537.7 54.6C537.7 83.5 551.7 83.5 551.7 112.3L549.9 112.3C549.9 83.5 541.3 83.5 541.3 54.6Z"/><path class="r2" d="M458.1 54.6C458.1 83.5 504.9 83.5 504.9 112.3L498.5 112.3C498.5 83.5 466.8 83.5 466.8 54.6Z"/><path class="r1" d="M586.2 54.6C586.2 83.5 614.7 83.5 614.7 112.3L615.4 112.3C615.4 83.5 587.1 83.5 587.1 54.6Z"/><path class="r1" d="M462.6 54.6C462.6 83.5 509 83.5 509 112.3L515.4 112.3C515.4 83.5 469.2 83.5 469.2 54.6Z"/><path class="r2" d="M432.7 54.6C432.7 83.5 417.8 83.5 417.8 112.3L416 112.3C416 83.5 434.6 83.5 434.6 54.6Z"/><path class="r1" d="M399.5 54.6C399.5 83.5 477.4 83.5 477.4 112.3L479.2 112.3C479.2 83.5 401 83.5 401 54.6Z"/><path class="r1" d="M502.1 54.6C502.1 83.5 498.5 83.5 498.5 112.3L500.2 112.3C500.2 83.5 505.2 83.5 505.2 54.6Z"/><path class="r1" d="M583.1 54.6C583.1 83.5 632.1 83.5 632.1 112.3L632.8 112.3C632.8 83.5 584 83.5 584 54.6Z"/><path class="r2" d="M467.5 54.6C467.5 83.5 474.8 83.5 474.8 112.3L473.4 112.3C473.4 83.5 469.2 83.5 469.2 54.6Z"/><path class="r2" d="M588.6 54.6C588.6 83.5 642.5 83.5 642.5 112.3L641.8 112.3C641.8 83.5 589.5 83.5 589.5 54.6Z"/><path class="r2" d="M518.5 54.6C518.5 83.5 638.3 83.5 638.3 112.3L635.8 112.3C635.8 83.5 520.4 83.5 520.4 54.6Z"/><path class="r2" d="M518.5 54.6C518.5 83.5 582.6 83.5 582.6 112.3L580.3 112.3C580.3 83.5 520.4 83.5 520.4 54.6Z"/><path class="r1" d="M499.7 54.6C499.7 83.5 645.5 83.5 645.5 112.3L647 112.3C647 83.5 501.5 83.5 501.5 54.6Z"/><path class="r2" d="M474.1 54.6C474.1 83.5 549.4 83.5 549.4 112.3L547 112.3C547 83.5 475.9 83.5 475.9 54.6Z"/><path class="r2" d="M508.2 54.6C508.2 83.5 578 83.5 578 112.3L569.8 112.3C569.8 83.5 518.5 83.5 518.5 54.6Z"/><path class="r2" d="M432.7 54.6C432.7 83.5 455.8 83.5 455.8 112.3L452.9 112.3C452.9 83.5 434.6 83.5 434.6 54.6Z"/><path class="r1" d="M402.1 54.6C402.1 83.5 447.6 83.5 447.6 112.3L449.9 112.3C449.9 83.5 403.9 83.5 403.9 54.6Z"/><path class="r1" d="M527.7 54.6C527.7 83.5 536.5 83.5 536.5 112.3L537.7 112.3C537.7 83.5 529.4 83.5 529.4 54.6Z"/><path class="r1" d="M402.1 54.6C402.1 83.5 450.5 83.5 450.5 112.3L452.2 112.3C452.2 83.5 403.9 83.5 403.9 54.6Z"/><path class="r1" d="M483.3 54.6C483.3 83.5 523 83.5 523 112.3L524.7 112.3C524.7 83.5 485.1 83.5 485.1 54.6Z"/><path class="r1" d="M518.5 54.6C518.5 83.5 566.9 83.5 566.9 112.3L575.1 112.3C575.1 83.5 527 83.5 527 54.6Z"/><path class="r1" d="M439 54.6C439 83.5 592 83.5 592 112.3L599.6 112.3C599.6 83.5 444.9 83.5 444.9 54.6Z"/><path class="r1" d="M409.7 54.6C409.7 83.5 394.4 83.5 394.4 112.3L402.6 112.3C402.6 83.5 417.4 83.5 417.4 54.6Z"/><path class="r2" d="M454.5 54.6C454.5 83.5 408.5 83.5 408.5 112.3L403.2 112.3C403.2 83.5 460.2 83.5 460.2 54.6Z"/><path class="r1" d="M474.1 54.6C474.1 83.5 540.6 83.5 540.6 112.3L542.4 112.3C542.4 83.5 475.9 83.5 475.9 54.6Z"/><path class="r1" d="M560.8 54.6C560.8 83.5 614.7 83.5 614.7 112.3L615.4 112.3C615.4 83.5 562 83.5 562 54.6Z"/><path class="r1" d="M567.9 54.6C567.9 83.5 506.5 83.5 506.5 112.3L507.4 112.3C507.4 83.5 568.8 83.5 568.8 54.6Z"/><path class="r2" d="M491.1 54.6C491.1 83.5 459.9 83.5 459.9 112.3L458.2 112.3C458.2 83.5 493 83.5 493 54.6Z"/><path class="r1" d="M421.2 54.6C421.2 83.5 509 83.5 509 112.3L515.4 112.3C515.4 83.5 430.8 83.5 430.8 54.6Z"/><path class="r2" d="M445.8 54.6C445.8 83.5 434.7 83.5 434.7 112.3L433 112.3C433 83.5 447.4 83.5 447.4 54.6Z"/><path class="r2" d="M574.1 54.6C574.1 83.5 551.2 83.5 551.2 112.3L550.4 112.3C550.4 83.5 575.4 83.5 575.4 54.6Z"/><path class="r2" d="M491.1 54.6C491.1 83.5 533.6 83.5 533.6 112.3L524.7 112.3C524.7 83.5 501.5 83.5 501.5 54.6Z"/><path class="r2" d="M462.6 54.6C462.6 83.5 531.3 83.5 531.3 112.3L528.9 112.3C528.9 83.5 464.3 83.5 464.3 54.6Z"/><path class="r1" d="M574.1 54.6C574.1 83.5 492.8 83.5 492.8 112.3L494.2 112.3C494.2 83.5 575.4 83.5 575.4 54.6Z"/><path class="r1" d="M545.6 54.6C545.6 83.5 600.5 83.5 600.5 112.3L602 112.3C602 83.5 547.4 83.5 547.4 54.6Z"/><path class="r2" d="M454.5 54.6C454.5 83.5 540 83.5 540 112.3L537.7 112.3C537.7 83.5 456.5 83.5 456.5 54.6Z"/><path class="r1" d="M586.8 54.6C586.8 83.5 633.4 83.5 633.4 112.3L636.6 112.3C636.6 83.5 588.9 83.5 588.9 54.6Z"/><path class="r1" d="M606.4 54.6C606.4 83.5 619.8 83.5 619.8 112.3L620.5 112.3C620.5 83.5 607.6 83.5 607.6 54.6Z"/><path class="r2" d="M597.1 54.6C597.1 83.5 657.5 83.5 657.5 112.3L656 112.3C656 83.5 598 83.5 598 54.6Z"/><path class="r1" d="M545.6 54.6C545.6 83.5 513.6 83.5 513.6 112.3L515.4 112.3C515.4 83.5 547.4 83.5 547.4 54.6Z"/><path class="r2" d="M508.2 54.6C508.2 83.5 562.2 83.5 562.2 112.3L560.5 112.3C560.5 83.5 510 83.5 510 54.6Z"/><path class="r1" d="M454.5 54.6C454.5 83.5 394.4 83.5 394.4 112.3L402.6 112.3C402.6 83.5 460.2 83.5 460.2 54.6Z"/><path class="r1" d="M567.9 54.6C567.9 83.5 503.6 83.5 503.6 112.3L504.4 112.3C504.4 83.5 568.8 83.5 568.8 54.6Z"/><path class="r1" d="M426.3 54.6C426.3 83.5 394.4 83.5 394.4 112.3L405 112.3C405 83.5 434.6 83.5 434.6 54.6Z"/><path class="r1" d="M608.7 54.6C608.7 83.5 657.4 83.5 657.4 112.3L661.7 112.3C661.7 83.5 609.6 83.5 609.6 54.6Z"/><path class="r2" d="M397.6 54.6C397.6 83.5 408.5 83.5 408.5 112.3L406.7 112.3C406.7 83.5 399.2 83.5 399.2 54.6Z"/><path class="r2" d="M462.6 54.6C462.6 83.5 507.8 83.5 507.8 112.3L506.1 112.3C506.1 83.5 464.3 83.5 464.3 54.6Z"/><path class="r2" d="M445.8 54.6C445.8 83.5 537.7 83.5 537.7 112.3L536.5 112.3C536.5 83.5 447.4 83.5 447.4 54.6Z"/><path class="r1" d="M428.8 54.6C428.8 83.5 528.9 83.5 528.9 112.3L531.3 112.3C531.3 83.5 430.8 83.5 430.8 54.6Z"/><path class="r1" d="M535.8 54.6C535.8 83.5 600.5 83.5 600.5 112.3L602 112.3C602 83.5 537 83.5 537 54.6Z"/><path class="r1" d="M579.2 54.6C579.2 83.5 614.7 83.5 614.7 112.3L615.4 112.3C615.4 83.5 580.7 83.5 580.7 54.6Z"/><path class="r1" d="M586.2 54.6C586.2 83.5 632.1 83.5 632.1 112.3L632.8 112.3C632.8 83.5 587.1 83.5 587.1 54.6Z"/><path class="r2" d="M583.1 54.6C583.1 83.5 623.5 83.5 623.5 112.3L622.5 112.3C622.5 83.5 584 83.5 584 54.6Z"/><path class="r2" d="M510.6 54.6C510.6 83.5 455.8 83.5 455.8 112.3L447.6 112.3C447.6 83.5 520.4 83.5 520.4 54.6Z"/><path class="r1" d="M479 54.6C479 83.5 549.9 83.5 549.9 112.3L551.7 112.3C551.7 83.5 480.8 83.5 480.8 54.6Z"/><path class="r1" d="M557.1 54.6C557.1 83.5 545 83.5 545 112.3L547.9 112.3C547.9 83.5 560.7 83.5 560.7 54.6Z"/><path class="r2" d="M499.7 54.6C499.7 83.5 537.7 83.5 537.7 112.3L536.5 112.3C536.5 83.5 501.5 83.5 501.5 54.6Z"/><path class="r2" d="M469.9 54.6C469.9 83.5 510.7 83.5 510.7 112.3L509 112.3C509 83.5 471.7 83.5 471.7 54.6Z"/><path class="r1" d="M571.5 54.6C571.5 83.5 580.9 83.5 580.9 112.3L582 112.3C582 83.5 572.4 83.5 572.4 54.6Z"/><path class="r1" d="M567.9 54.6C567.9 83.5 643.4 83.5 643.4 112.3L644.5 112.3C644.5 83.5 568.8 83.5 568.8 54.6Z"/><path class="r1" d="M606.4 54.6C606.4 83.5 643.4 83.5 643.4 112.3L644.5 112.3C644.5 83.5 607.6 83.5 607.6 54.6Z"/><path class="r2" d="M465 54.6C465 83.5 485.6 83.5 485.6 112.3L481.5 112.3C481.5 83.5 469.2 83.5 469.2 54.6Z"/><path class="r2" d="M575.5 54.6C575.5 83.5 576.8 83.5 576.8 112.3L574.5 112.3C574.5 83.5 579.4 83.5 579.4 54.6Z"/><path class="r2" d="M479 54.6C479 83.5 412 83.5 412 112.3L403.2 112.3C403.2 83.5 490.6 83.5 490.6 54.6Z"/><path class="r1" d="M597.1 54.6C597.1 83.5 656 83.5 656 112.3L657.5 112.3C657.5 83.5 598 83.5 598 54.6Z"/><path class="r2" d="M545.6 54.6C545.6 83.5 650.6 83.5 650.6 112.3L649 112.3C649 83.5 562.6 83.5 562.6 54.6Z"/><path class="r2" d="M537.7 54.6C537.7 83.5 551.7 83.5 551.7 112.3L549.9 112.3C549.9 83.5 549.9 83.5 549.9 54.6Z"/><path class="r2" d="M516.1 54.6C516.1 83.5 549.4 83.5 549.4 112.3L547 112.3C547 83.5 529.4 83.5 529.4 54.6Z"/><path class="r2" d="M530.1 54.6C530.1 83.5 582.6 83.5 582.6 112.3L580.3 112.3C580.3 83.5 549.9 83.5 549.9 54.6Z"/><path class="r2" d="M439 54.6C439 83.5 459.9 83.5 459.9 112.3L458.2 112.3C458.2 83.5 452.9 83.5 452.9 54.6Z"/><path class="r2" d="M469.9 54.6C469.9 83.5 551.7 83.5 551.7 112.3L549.9 112.3C549.9 83.5 480.8 83.5 480.8 54.6Z"/><path class="r2" d="M469.9 54.6C469.9 83.5 504.9 83.5 504.9 112.3L503.1 112.3C503.1 83.5 485.1 83.5 485.1 54.6Z"/><path class="r2" d="M508.2 54.6C508.2 83.5 513.1 83.5 513.1 112.3L511.3 112.3C511.3 83.5 527 83.5 527 54.6Z"/><path class="r2" d="M487.5 54.6C487.5 83.5 479.2 83.5 479.2 112.3L477.4 112.3C477.4 83.5 495.4 83.5 495.4 54.6Z"/><path class="r2" d="M535.8 54.6C535.8 83.5 638.3 83.5 638.3 112.3L635.8 112.3C635.8 83.5 547.4 83.5 547.4 54.6Z"/><path class="r2" d="M475.9 54.6C475.9 83.5 579.7 83.5 579.7 112.3L578 112.3C578 83.5 495.4 83.5 495.4 54.6Z"/><text x="492.7" y="20.6" font-size="8.3" text-anchor="middle">Position within Chr4 KZFP gene cluster (bp)</text><line x1="375.5" y1="38.9" x2="612.3" y2="38.9" stroke="#333" stroke-width="1"/><line x1="375.5" y1="38.9" x2="375.5" y2="37.3" stroke="#333" stroke-width="0.8"/><text x="375.5" y="35.9" font-size="6.8" text-anchor="middle" fill="#444">0</text><line x1="419.4" y1="38.9" x2="419.4" y2="37.3" stroke="#333" stroke-width="0.8"/><text x="419.4" y="35.9" font-size="6.8" text-anchor="middle" fill="#444">1,000,000</text><line x1="463.2" y1="38.9" x2="463.2" y2="37.3" stroke="#333" stroke-width="0.8"/><text x="463.2" y="35.9" font-size="6.8" text-anchor="middle" fill="#444">2,000,000</text><line x1="507.1" y1="38.9" x2="507.1" y2="37.3" stroke="#333" stroke-width="0.8"/><text x="507.1" y="35.9" font-size="6.8" text-anchor="middle" fill="#444">3,000,000</text><line x1="550.9" y1="38.9" x2="550.9" y2="37.3" stroke="#333" stroke-width="0.8"/><text x="550.9" y="35.9" font-size="6.8" text-anchor="middle" fill="#444">4,000,000</text><line x1="594.8" y1="38.9" x2="594.8" y2="37.3" stroke="#333" stroke-width="0.8"/><text x="594.8" y="35.9" font-size="6.8" text-anchor="middle" fill="#444">5,000,000</text><line x1="375.5" y1="127.2" x2="665.8" y2="127.2" stroke="#333" stroke-width="1"/><line x1="375.5" y1="127.2" x2="375.5" y2="128.8" stroke="#333" stroke-width="0.8"/><text x="375.5" y="137.2" font-size="6.8" text-anchor="middle" fill="#444">0</text><line x1="419.4" y1="127.2" x2="419.4" y2="128.8" stroke="#333" stroke-width="0.8"/><text x="419.4" y="137.2" font-size="6.8" text-anchor="middle" fill="#444">1,000,000</text><line x1="463.2" y1="127.2" x2="463.2" y2="128.8" stroke="#333" stroke-width="0.8"/><text x="463.2" y="137.2" font-size="6.8" text-anchor="middle" fill="#444">2,000,000</text><line x1="507.1" y1="127.2" x2="507.1" y2="128.8" stroke="#333" stroke-width="0.8"/><text x="507.1" y="137.2" font-size="6.8" text-anchor="middle" fill="#444">3,000,000</text><line x1="550.9" y1="127.2" x2="550.9" y2="128.8" stroke="#333" stroke-width="0.8"/><text x="550.9" y="137.2" font-size="6.8" text-anchor="middle" fill="#444">4,000,000</text><line x1="594.8" y1="127.2" x2="594.8" y2="128.8" stroke="#333" stroke-width="0.8"/><text x="594.8" y="137.2" font-size="6.8" text-anchor="middle" fill="#444">5,000,000</text><line x1="638.6" y1="127.2" x2="638.6" y2="128.8" stroke="#333" stroke-width="0.8"/><text x="638.6" y="137.2" font-size="6.8" text-anchor="middle" fill="#444">6,000,000</text><text x="495.5" y="152.7" font-size="8.3" text-anchor="middle">Position within Chr4 KZFP gene cluster (bp)</text><text x="365.7" y="49.8" font-size="8" text-anchor="end">BL6J</text><text x="368.8" y="122.2" font-size="8" text-anchor="end">CAST</text><line x1="374" y1="54.4" x2="375.6" y2="54.4" stroke="#333" stroke-width="0.8"/><line x1="374" y1="112.5" x2="375.6" y2="112.5" stroke="#333" stroke-width="0.8"/><path d="M383.5 42.8L385.2 46.8L383.5 50.8ZM386 42.8L387.7 46.8L386 50.8ZM388.6 42.8L389.9 46.8L388.6 50.8ZM391.2 42.8L392.8 46.8L391.2 50.8ZM399.5 42.8L401 46.8L399.5 50.8ZM402.1 42.8L403.9 46.8L402.1 50.8ZM406.5 42.8L408.4 46.8L406.5 50.8ZM409.7 42.8L414.8 46.8L409.7 50.8ZM418.6 42.8L420.6 46.8L418.6 50.8ZM421.2 42.8L423.1 46.8L421.2 50.8ZM426.3 42.8L428.2 46.8L426.3 50.8ZM432.7 42.8L434.6 46.8L432.7 50.8ZM439 42.8L441.3 46.8L439 50.8ZM445.8 42.8L447.4 46.8L445.8 50.8ZM448 42.8L450 46.8L448 50.8ZM454.5 42.8L456.5 46.8L454.5 50.8ZM458.1 42.8L460.2 46.8L458.1 50.8ZM465 42.8L466.8 46.8L465 50.8ZM467.5 42.8L469.2 46.8L467.5 50.8ZM469.9 42.8L471.7 46.8L469.9 50.8ZM474.1 42.8L475.9 46.8L474.1 50.8ZM475.9 42.8L477.8 46.8L475.9 50.8ZM483.3 42.8L485.1 46.8L483.3 50.8ZM487.5 42.8L490.6 46.8L487.5 50.8ZM493 42.8L491.1 46.8L493 50.8ZM501.5 42.8L499.7 46.8L501.5 50.8ZM505.2 42.8L502.1 46.8L505.2 50.8ZM510 42.8L508.2 46.8L510 50.8ZM513.1 42.8L510.6 46.8L513.1 50.8ZM518.5 42.8L516.1 46.8L518.5 50.8ZM527 42.8L525.2 46.8L527 50.8ZM529.4 42.8L527.7 46.8L529.4 50.8ZM531.8 42.8L530.1 46.8L531.8 50.8ZM541.3 42.8L537.7 46.8L541.3 50.8ZM545.6 42.8L543.5 46.8L545.6 50.8ZM547.4 42.8L545.6 46.8L547.4 50.8ZM554.6 42.8L552.9 46.8L554.6 50.8ZM557.1 42.8L555.3 46.8L557.1 50.8ZM562.6 42.8L560.2 46.8L562.6 50.8ZM567.5 42.8L565.6 46.8L567.5 50.8ZM571.1 42.8L572.9 46.8L571.1 50.8ZM573.5 42.8L576 46.8L573.5 50.8ZM578.4 42.8L581.4 46.8L578.4 50.8ZM585.7 42.8L587.6 46.8L585.7 50.8ZM588.1 42.8L590 46.8L588.1 50.8ZM592.4 42.8L595.4 46.8L592.4 50.8ZM596.6 42.8L598.5 46.8L596.6 50.8ZM600.9 42.8L599.1 46.8L600.9 50.8ZM603.9 42.8L601.5 46.8L603.9 50.8ZM608.2 42.8L605.8 46.8L608.2 50.8ZM610.1 42.8L608.2 46.8L610.1 50.8Z" fill="#0f8080"/><path d="M380.3 42.8L381.9 46.8L380.3 50.8ZM397.6 42.8L399.2 46.8L397.6 50.8ZM416.3 43.3h0.8v7h-0.8ZM428.8 42.8L430.8 46.8L428.8 50.8ZM443.5 43.3h0.8v7h-0.8ZM451 42.8L452.9 46.8L451 50.8ZM462.6 42.8L464.3 46.8L462.6 50.8ZM479.5 43.3h0.8v7h-0.8ZM494.1 43.3h0.8v7h-0.8ZM519 43.3h0.8v7h-0.8ZM520.6 43.3h0.8v7h-0.8ZM536 43.3h0.8v7h-0.8ZM548.5 43.3h0.8v7h-0.8ZM567.9 43.3h0.8v7h-0.8ZM583.2 43.3h0.8v7h-0.8Z" fill="#7cc3c3"/><path d="M383.9 115.9L385.7 119.3L383.9 122.7ZM386.3 115.9L388 119.3L386.3 122.7ZM388.6 115.9L390.4 119.3L388.6 122.7ZM391.5 115.9L392.9 119.3L391.5 122.7ZM394.4 115.9L396.8 119.3L394.4 122.7ZM400.9 115.9L402.6 119.3L400.9 122.7ZM403.2 115.9L405 119.3L403.2 122.7ZM406.7 115.9L408.5 119.3L406.7 122.7ZM409 115.9L412 119.3L409 122.7ZM425.4 115.9L427.7 119.3L425.4 122.7ZM427.7 115.9L429.5 119.3L427.7 122.7ZM430 115.9L432.4 119.3L430 122.7ZM433 115.9L434.7 119.3L433 122.7ZM437 115.9L438.8 119.3L437 122.7ZM440.6 115.9L444.1 119.3L440.6 122.7ZM447 115.9L444.7 119.3L447 122.7ZM455.8 115.9L452.9 119.3L455.8 122.7ZM459.9 115.9L458.2 119.3L459.9 122.7ZM468.7 115.9L471 119.3L468.7 122.7ZM475.1 115.9L476.9 119.3L475.1 122.7ZM483.3 115.9L481.5 119.3L483.3 122.7ZM485.6 115.9L483.9 119.3L485.6 122.7ZM492 115.9L495 119.3L492 122.7ZM500.2 115.9L502 119.3L500.2 122.7ZM504.9 115.9L503.1 119.3L504.9 122.7ZM507.8 115.9L506.1 119.3L507.8 122.7ZM516.6 115.9L518.9 119.3L516.6 122.7ZM524.7 115.9L527.1 119.3L524.7 122.7ZM531.3 115.9L528.9 119.3L531.3 122.7ZM533.6 115.9L531.8 119.3L533.6 122.7ZM540 115.9L537.7 119.3L540 122.7ZM547 115.9L549.4 119.3L547 122.7ZM549.9 115.9L551.7 119.3L549.9 122.7ZM554 115.9L557.5 119.3L554 122.7ZM565.1 115.9L562.8 119.3L565.1 122.7ZM569.2 115.9L566.9 119.3L569.2 122.7ZM572.1 115.9L569.8 119.3L572.1 122.7ZM578 115.9L575.6 119.3L578 122.7ZM585 115.9L588.5 119.3L585 122.7ZM589.7 115.9L591.4 119.3L589.7 122.7ZM592 115.9L594.3 119.3L592 122.7ZM606.1 115.9L603.6 119.3L606.1 122.7ZM611.2 115.9L609.2 119.3L611.2 122.7ZM613.8 115.9L611.8 119.3L613.8 122.7ZM622 115.9L624 119.3L622 122.7ZM625 115.9L627.1 119.3L625 122.7ZM638.3 115.9L635.8 119.3L638.3 122.7ZM658.2 115.9L655.2 119.3L658.2 122.7ZM663.9 115.9L661.3 119.3L663.9 122.7ZM665.9 115.9L663.9 119.3L665.9 122.7Z" fill="#cc5626"/><path d="M379.8 115.9L381.6 119.3L379.8 122.7ZM417.8 115.9L416 119.3L417.8 122.7ZM417.8 115.9L420.1 119.3L417.8 122.7ZM423.5 116.4h0.8v5.8h-0.8ZM449.9 115.9L447.6 119.3L449.9 122.7ZM452.2 115.9L450.5 119.3L452.2 122.7ZM462.3 115.9L460.5 119.3L462.3 122.7ZM465.8 115.9L464 119.3L465.8 122.7ZM465.8 115.9L468.1 119.3L465.8 122.7ZM473.7 116.4h0.8v5.8h-0.8ZM477.9 116.4h0.8v5.8h-0.8ZM488.5 115.9L486.8 119.3L488.5 122.7ZM490.9 115.9L489.1 119.3L490.9 122.7ZM499 116.4h0.8v5.8h-0.8ZM510.7 115.9L509 119.3L510.7 122.7ZM513.1 115.9L511.3 119.3L513.1 122.7ZM513.6 115.9L515.4 119.3L513.6 122.7ZM523.5 116.4h0.8v5.8h-0.8ZM537.7 115.9L536.5 119.3L537.7 122.7ZM540.6 115.9L542.4 119.3L540.6 122.7ZM544 116.4h0.8v5.8h-0.8ZM558.1 115.9L559.9 119.3L558.1 122.7ZM560.5 115.9L562.2 119.3L560.5 122.7ZM575.1 115.9L573.3 119.3L575.1 122.7ZM579.7 115.9L578 119.3L579.7 122.7ZM580.3 115.9L582.6 119.3L580.3 122.7ZM599.6 115.9L597.8 119.3L599.6 122.7ZM600.9 116.4h0.8v5.8h-0.8ZM614.6 116.4h0.8v5.8h-0.8ZM619.4 115.9L620.9 119.3L619.4 122.7ZM632.1 116.4h0.8v5.8h-0.8ZM641.8 116.4h0.8v5.8h-0.8ZM642.9 115.9L645 119.3L642.9 122.7ZM645.5 115.9L647 119.3L645.5 122.7ZM650.6 115.9L649 119.3L650.6 122.7ZM653.1 115.9L651.6 119.3L653.1 122.7Z" fill="#eaa98c"/><text x="648.4" y="27.2" font-size="8.3">Alignment</text><text x="648.4" y="36.9" font-size="8.3">direction</text><rect x="648.3" y="43.5" width="13.7" height="13.4" fill="#dcdcdc"/><rect x="648.3" y="58.7" width="13.7" height="13.3" fill="#f7ecd9"/><line x1="668.2" y1="50.2" x2="671.9" y2="50.2" stroke="#222" stroke-width="0.8"/><line x1="668.2" y1="65.5" x2="672" y2="65.5" stroke="#222" stroke-width="0.8"/><line x1="670.1" y1="63.6" x2="670.1" y2="67.4" stroke="#222" stroke-width="0.8"/><text x="168" y="201" font-size="8.3" text-anchor="middle">KZFP genes</text><text x="168" y="211" font-size="8.3" text-anchor="middle">coding versus pseudogene</text><rect x="88.8" y="225" width="115" height="11" fill="#0f8080"/><rect x="203.8" y="225" width="16.2" height="11" fill="#78b4b2"/><text x="78.9" y="233.4" font-size="8.2" text-anchor="end">BL6J Chr4 cluster</text><text x="151.4" y="233.3" font-size="8" text-anchor="middle" font-weight="bold" fill="#fff">55</text><text x="211.9" y="233.3" font-size="8" text-anchor="middle" font-weight="bold" fill="#fff">8</text><rect x="88.8" y="252.8" width="143.8" height="11" fill="#8b4183"/><rect x="232.6" y="252.8" width="31.3" height="11" fill="#bf8cbb"/><text x="78.9" y="261.2" font-size="8.2" text-anchor="end">129S1 Chr4 cluster</text><text x="151.4" y="261.1" font-size="8" text-anchor="middle" font-weight="bold" fill="#fff">69</text><text x="248.2" y="261.1" font-size="8" text-anchor="middle" font-weight="bold" fill="#fff">14</text><rect x="88.8" y="280.9" width="133.2" height="11" fill="#cb5628"/><rect x="222" y="280.9" width="46.1" height="11" fill="#e49c80"/><text x="78.9" y="289.3" font-size="8.2" text-anchor="end">CAST Chr4 cluster</text><text x="151.4" y="289.2" font-size="8" text-anchor="middle" font-weight="bold" fill="#fff">64</text><text x="248.1" y="289.2" font-size="8" text-anchor="middle" font-weight="bold" fill="#fff">22</text><text x="515.1" y="200" font-size="8.2" text-anchor="middle">Number of distinct ZnF fingerprint arrays in coding KZFP genes</text><circle cx="499.5" cy="243.1" r="34.7" fill="#007777" fill-opacity="0.72"/><circle cx="528.8" cy="243.1" r="34.7" fill="#8e418b" fill-opacity="0.72"/><circle cx="513.8" cy="271.6" r="34.5" fill="#d05824" fill-opacity="0.72"/><text x="481.1" y="236.8" font-size="8" text-anchor="middle" font-weight="bold" fill="#fff">25</text><text x="513.4" y="229.4" font-size="8" text-anchor="middle" font-weight="bold" fill="#fff">1</text><text x="546.5" y="236.9" font-size="8" text-anchor="middle" font-weight="bold" fill="#fff">24</text><text x="513.5" y="254.6" font-size="8" text-anchor="middle" font-weight="bold" fill="#fff">9</text><text x="492.8" y="269" font-size="8" text-anchor="middle" font-weight="bold" fill="#fff">3</text><text x="537" y="268.3" font-size="8" text-anchor="middle" font-weight="bold" fill="#fff">13</text><text x="513.5" y="291.9" font-size="8" text-anchor="middle" font-weight="bold" fill="#fff">20</text><text x="423.4" y="228.3" font-size="8.3" text-anchor="middle">BL6J Chr4 cluster</text><text x="423.4" y="238" font-size="8.3" text-anchor="middle">38 distinct</text><text x="423.4" y="247.7" font-size="8.3" text-anchor="middle">fingerprint arrays</text><text x="609.4" y="228.3" font-size="8.3" text-anchor="middle">129S1 Chr4 cluster</text><text x="609.4" y="238" font-size="8.3" text-anchor="middle">47 distinct</text><text x="609.4" y="247.7" font-size="8.3" text-anchor="middle">fingerprint arrays</text><text x="514.8" y="321.1" font-size="8.3" text-anchor="middle">CAST Chr4 cluster</text><text x="514.8" y="330.8" font-size="8.3" text-anchor="middle">45 distinct</text><text x="514.8" y="340.5" font-size="8.3" text-anchor="middle">fingerprint arrays</text><defs><pattern id="pT" x="0" y="0" width="52.5" height="52.5" patternUnits="userSpaceOnUse"><path d="M0 8.8h1.2v1.2h-1.2ZM0 13.8h1.2v1.2h-1.2ZM0 16.2h1.2v1.2h-1.2ZM0 17.5h1.2v1.2h-1.2ZM0 20h1.2v1.2h-1.2ZM0 21.2h1.2v1.2h-1.2ZM0 23.8h1.2v1.2h-1.2ZM0 25h1.2v1.2h-1.2ZM0 26.2h1.2v1.2h-1.2ZM0 33.8h1.2v1.2h-1.2ZM0 38.8h1.2v1.2h-1.2ZM0 42.5h1.2v1.2h-1.2ZM0 45h1.2v1.2h-1.2ZM1.2 2.5h1.2v1.2h-1.2ZM1.2 3.8h1.2v1.2h-1.2ZM1.2 10h1.2v1.2h-1.2ZM1.2 12.5h1.2v1.2h-1.2ZM1.2 13.8h1.2v1.2h-1.2ZM1.2 16.2h1.2v1.2h-1.2ZM1.2 21.2h1.2v1.2h-1.2ZM1.2 22.5h1.2v1.2h-1.2ZM1.2 37.5h1.2v1.2h-1.2ZM1.2 40h1.2v1.2h-1.2ZM1.2 43.8h1.2v1.2h-1.2ZM1.2 47.5h1.2v1.2h-1.2ZM1.2 50h1.2v1.2h-1.2ZM2.5 0h1.2v1.2h-1.2ZM2.5 1.2h1.2v1.2h-1.2ZM2.5 2.5h1.2v1.2h-1.2ZM2.5 10h1.2v1.2h-1.2ZM2.5 12.5h1.2v1.2h-1.2ZM2.5 15h1.2v1.2h-1.2ZM2.5 23.8h1.2v1.2h-1.2ZM2.5 31.2h1.2v1.2h-1.2ZM2.5 43.8h1.2v1.2h-1.2ZM2.5 45h1.2v1.2h-1.2ZM2.5 47.5h1.2v1.2h-1.2ZM3.8 3.8h1.2v1.2h-1.2ZM3.8 8.8h1.2v1.2h-1.2ZM3.8 13.8h1.2v1.2h-1.2ZM3.8 15h1.2v1.2h-1.2ZM3.8 25h1.2v1.2h-1.2ZM3.8 27.5h1.2v1.2h-1.2ZM3.8 32.5h1.2v1.2h-1.2ZM3.8 40h1.2v1.2h-1.2ZM3.8 42.5h1.2v1.2h-1.2ZM3.8 43.8h1.2v1.2h-1.2ZM3.8 46.2h1.2v1.2h-1.2ZM3.8 47.5h1.2v1.2h-1.2ZM3.8 51.2h1.2v1.2h-1.2ZM5 7.5h1.2v1.2h-1.2ZM5 16.2h1.2v1.2h-1.2ZM5 22.5h1.2v1.2h-1.2ZM5 23.8h1.2v1.2h-1.2ZM5 27.5h1.2v1.2h-1.2ZM5 31.2h1.2v1.2h-1.2ZM5 35h1.2v1.2h-1.2ZM5 37.5h1.2v1.2h-1.2ZM5 43.8h1.2v1.2h-1.2ZM5 46.2h1.2v1.2h-1.2ZM5 47.5h1.2v1.2h-1.2ZM6.2 2.5h1.2v1.2h-1.2ZM6.2 3.8h1.2v1.2h-1.2ZM6.2 7.5h1.2v1.2h-1.2ZM6.2 25h1.2v1.2h-1.2ZM6.2 37.5h1.2v1.2h-1.2ZM6.2 51.2h1.2v1.2h-1.2ZM7.5 1.2h1.2v1.2h-1.2ZM7.5 5h1.2v1.2h-1.2ZM7.5 7.5h1.2v1.2h-1.2ZM7.5 8.8h1.2v1.2h-1.2ZM7.5 11.2h1.2v1.2h-1.2ZM7.5 17.5h1.2v1.2h-1.2ZM7.5 20h1.2v1.2h-1.2ZM7.5 21.2h1.2v1.2h-1.2ZM7.5 28.8h1.2v1.2h-1.2ZM7.5 30h1.2v1.2h-1.2ZM7.5 38.8h1.2v1.2h-1.2ZM7.5 40h1.2v1.2h-1.2ZM7.5 45h1.2v1.2h-1.2ZM7.5 46.2h1.2v1.2h-1.2ZM7.5 47.5h1.2v1.2h-1.2ZM7.5 50h1.2v1.2h-1.2ZM8.8 0h1.2v1.2h-1.2ZM8.8 1.2h1.2v1.2h-1.2ZM8.8 2.5h1.2v1.2h-1.2ZM8.8 3.8h1.2v1.2h-1.2ZM8.8 11.2h1.2v1.2h-1.2ZM8.8 12.5h1.2v1.2h-1.2ZM8.8 13.8h1.2v1.2h-1.2ZM8.8 20h1.2v1.2h-1.2ZM8.8 22.5h1.2v1.2h-1.2ZM8.8 30h1.2v1.2h-1.2ZM8.8 35h1.2v1.2h-1.2ZM8.8 37.5h1.2v1.2h-1.2ZM8.8 41.2h1.2v1.2h-1.2ZM8.8 42.5h1.2v1.2h-1.2ZM8.8 43.8h1.2v1.2h-1.2ZM8.8 45h1.2v1.2h-1.2ZM8.8 46.2h1.2v1.2h-1.2ZM8.8 47.5h1.2v1.2h-1.2ZM10 0h1.2v1.2h-1.2ZM10 16.2h1.2v1.2h-1.2ZM10 23.8h1.2v1.2h-1.2ZM10 33.8h1.2v1.2h-1.2ZM11.2 7.5h1.2v1.2h-1.2ZM11.2 11.2h1.2v1.2h-1.2ZM11.2 13.8h1.2v1.2h-1.2ZM11.2 20h1.2v1.2h-1.2ZM11.2 21.2h1.2v1.2h-1.2ZM11.2 22.5h1.2v1.2h-1.2ZM11.2 27.5h1.2v1.2h-1.2ZM11.2 28.8h1.2v1.2h-1.2ZM11.2 30h1.2v1.2h-1.2ZM11.2 40h1.2v1.2h-1.2ZM11.2 41.2h1.2v1.2h-1.2ZM11.2 42.5h1.2v1.2h-1.2ZM11.2 46.2h1.2v1.2h-1.2ZM11.2 48.8h1.2v1.2h-1.2ZM12.5 1.2h1.2v1.2h-1.2ZM12.5 2.5h1.2v1.2h-1.2ZM12.5 7.5h1.2v1.2h-1.2ZM12.5 8.8h1.2v1.2h-1.2ZM12.5 11.2h1.2v1.2h-1.2ZM12.5 12.5h1.2v1.2h-1.2ZM12.5 30h1.2v1.2h-1.2ZM12.5 31.2h1.2v1.2h-1.2ZM12.5 32.5h1.2v1.2h-1.2ZM12.5 42.5h1.2v1.2h-1.2ZM13.8 0h1.2v1.2h-1.2ZM13.8 1.2h1.2v1.2h-1.2ZM13.8 3.8h1.2v1.2h-1.2ZM13.8 8.8h1.2v1.2h-1.2ZM13.8 11.2h1.2v1.2h-1.2ZM13.8 17.5h1.2v1.2h-1.2ZM13.8 23.8h1.2v1.2h-1.2ZM13.8 25h1.2v1.2h-1.2ZM13.8 26.2h1.2v1.2h-1.2ZM13.8 30h1.2v1.2h-1.2ZM13.8 35h1.2v1.2h-1.2ZM15 0h1.2v1.2h-1.2ZM15 1.2h1.2v1.2h-1.2ZM15 5h1.2v1.2h-1.2ZM15 11.2h1.2v1.2h-1.2ZM15 23.8h1.2v1.2h-1.2ZM15 25h1.2v1.2h-1.2ZM15 26.2h1.2v1.2h-1.2ZM15 27.5h1.2v1.2h-1.2ZM15 28.8h1.2v1.2h-1.2ZM15 30h1.2v1.2h-1.2ZM15 32.5h1.2v1.2h-1.2ZM15 42.5h1.2v1.2h-1.2ZM15 43.8h1.2v1.2h-1.2ZM15 45h1.2v1.2h-1.2ZM15 48.8h1.2v1.2h-1.2ZM15 51.2h1.2v1.2h-1.2ZM16.2 32.5h1.2v1.2h-1.2ZM16.2 40h1.2v1.2h-1.2ZM16.2 42.5h1.2v1.2h-1.2ZM17.5 0h1.2v1.2h-1.2ZM17.5 2.5h1.2v1.2h-1.2ZM17.5 5h1.2v1.2h-1.2ZM17.5 11.2h1.2v1.2h-1.2ZM17.5 20h1.2v1.2h-1.2ZM17.5 21.2h1.2v1.2h-1.2ZM17.5 23.8h1.2v1.2h-1.2ZM17.5 28.8h1.2v1.2h-1.2ZM17.5 40h1.2v1.2h-1.2ZM17.5 42.5h1.2v1.2h-1.2ZM17.5 47.5h1.2v1.2h-1.2ZM17.5 48.8h1.2v1.2h-1.2ZM17.5 50h1.2v1.2h-1.2ZM18.8 17.5h1.2v1.2h-1.2ZM18.8 28.8h1.2v1.2h-1.2ZM18.8 33.8h1.2v1.2h-1.2ZM18.8 36.2h1.2v1.2h-1.2ZM20 6.2h1.2v1.2h-1.2ZM20 7.5h1.2v1.2h-1.2ZM20 16.2h1.2v1.2h-1.2ZM20 18.8h1.2v1.2h-1.2ZM20 23.8h1.2v1.2h-1.2ZM20 25h1.2v1.2h-1.2ZM20 26.2h1.2v1.2h-1.2ZM20 27.5h1.2v1.2h-1.2ZM20 28.8h1.2v1.2h-1.2ZM20 30h1.2v1.2h-1.2ZM20 32.5h1.2v1.2h-1.2ZM20 36.2h1.2v1.2h-1.2ZM20 40h1.2v1.2h-1.2ZM20 42.5h1.2v1.2h-1.2ZM20 43.8h1.2v1.2h-1.2ZM20 48.8h1.2v1.2h-1.2ZM20 50h1.2v1.2h-1.2ZM21.2 2.5h1.2v1.2h-1.2ZM21.2 3.8h1.2v1.2h-1.2ZM21.2 8.8h1.2v1.2h-1.2ZM21.2 11.2h1.2v1.2h-1.2ZM21.2 20h1.2v1.2h-1.2ZM21.2 22.5h1.2v1.2h-1.2ZM21.2 23.8h1.2v1.2h-1.2ZM21.2 25h1.2v1.2h-1.2ZM21.2 30h1.2v1.2h-1.2ZM21.2 37.5h1.2v1.2h-1.2ZM21.2 38.8h1.2v1.2h-1.2ZM21.2 45h1.2v1.2h-1.2ZM21.2 46.2h1.2v1.2h-1.2ZM21.2 47.5h1.2v1.2h-1.2ZM21.2 50h1.2v1.2h-1.2ZM22.5 1.2h1.2v1.2h-1.2ZM22.5 7.5h1.2v1.2h-1.2ZM22.5 8.8h1.2v1.2h-1.2ZM22.5 13.8h1.2v1.2h-1.2ZM22.5 15h1.2v1.2h-1.2ZM22.5 25h1.2v1.2h-1.2ZM22.5 26.2h1.2v1.2h-1.2ZM22.5 27.5h1.2v1.2h-1.2ZM22.5 28.8h1.2v1.2h-1.2ZM22.5 31.2h1.2v1.2h-1.2ZM22.5 35h1.2v1.2h-1.2ZM22.5 36.2h1.2v1.2h-1.2ZM22.5 37.5h1.2v1.2h-1.2ZM22.5 42.5h1.2v1.2h-1.2ZM22.5 48.8h1.2v1.2h-1.2ZM22.5 50h1.2v1.2h-1.2ZM23.8 0h1.2v1.2h-1.2ZM23.8 1.2h1.2v1.2h-1.2ZM23.8 3.8h1.2v1.2h-1.2ZM23.8 7.5h1.2v1.2h-1.2ZM23.8 8.8h1.2v1.2h-1.2ZM23.8 13.8h1.2v1.2h-1.2ZM23.8 15h1.2v1.2h-1.2ZM23.8 17.5h1.2v1.2h-1.2ZM23.8 20h1.2v1.2h-1.2ZM23.8 21.2h1.2v1.2h-1.2ZM23.8 27.5h1.2v1.2h-1.2ZM23.8 30h1.2v1.2h-1.2ZM23.8 32.5h1.2v1.2h-1.2ZM23.8 41.2h1.2v1.2h-1.2ZM23.8 48.8h1.2v1.2h-1.2ZM25 0h1.2v1.2h-1.2ZM25 1.2h1.2v1.2h-1.2ZM25 8.8h1.2v1.2h-1.2ZM25 10h1.2v1.2h-1.2ZM25 15h1.2v1.2h-1.2ZM25 18.8h1.2v1.2h-1.2ZM25 21.2h1.2v1.2h-1.2ZM25 22.5h1.2v1.2h-1.2ZM25 23.8h1.2v1.2h-1.2ZM25 25h1.2v1.2h-1.2ZM25 28.8h1.2v1.2h-1.2ZM25 31.2h1.2v1.2h-1.2ZM25 35h1.2v1.2h-1.2ZM25 38.8h1.2v1.2h-1.2ZM25 41.2h1.2v1.2h-1.2ZM25 48.8h1.2v1.2h-1.2ZM25 50h1.2v1.2h-1.2ZM25 51.2h1.2v1.2h-1.2ZM26.2 3.8h1.2v1.2h-1.2ZM26.2 7.5h1.2v1.2h-1.2ZM26.2 16.2h1.2v1.2h-1.2ZM26.2 23.8h1.2v1.2h-1.2ZM26.2 26.2h1.2v1.2h-1.2ZM26.2 31.2h1.2v1.2h-1.2ZM26.2 35h1.2v1.2h-1.2ZM26.2 40h1.2v1.2h-1.2ZM26.2 43.8h1.2v1.2h-1.2ZM26.2 46.2h1.2v1.2h-1.2ZM26.2 47.5h1.2v1.2h-1.2ZM26.2 48.8h1.2v1.2h-1.2ZM27.5 3.8h1.2v1.2h-1.2ZM27.5 12.5h1.2v1.2h-1.2ZM27.5 13.8h1.2v1.2h-1.2ZM27.5 17.5h1.2v1.2h-1.2ZM27.5 21.2h1.2v1.2h-1.2ZM27.5 22.5h1.2v1.2h-1.2ZM27.5 23.8h1.2v1.2h-1.2ZM27.5 28.8h1.2v1.2h-1.2ZM27.5 37.5h1.2v1.2h-1.2ZM27.5 41.2h1.2v1.2h-1.2ZM27.5 42.5h1.2v1.2h-1.2ZM27.5 43.8h1.2v1.2h-1.2ZM27.5 45h1.2v1.2h-1.2ZM27.5 46.2h1.2v1.2h-1.2ZM27.5 47.5h1.2v1.2h-1.2ZM27.5 48.8h1.2v1.2h-1.2ZM27.5 50h1.2v1.2h-1.2ZM28.8 3.8h1.2v1.2h-1.2ZM28.8 7.5h1.2v1.2h-1.2ZM28.8 11.2h1.2v1.2h-1.2ZM28.8 12.5h1.2v1.2h-1.2ZM28.8 22.5h1.2v1.2h-1.2ZM28.8 30h1.2v1.2h-1.2ZM28.8 31.2h1.2v1.2h-1.2ZM28.8 32.5h1.2v1.2h-1.2ZM28.8 35h1.2v1.2h-1.2ZM28.8 40h1.2v1.2h-1.2ZM28.8 42.5h1.2v1.2h-1.2ZM28.8 43.8h1.2v1.2h-1.2ZM28.8 45h1.2v1.2h-1.2ZM28.8 46.2h1.2v1.2h-1.2ZM28.8 47.5h1.2v1.2h-1.2ZM28.8 50h1.2v1.2h-1.2ZM30 3.8h1.2v1.2h-1.2ZM30 7.5h1.2v1.2h-1.2ZM30 8.8h1.2v1.2h-1.2ZM30 20h1.2v1.2h-1.2ZM30 21.2h1.2v1.2h-1.2ZM30 22.5h1.2v1.2h-1.2ZM30 25h1.2v1.2h-1.2ZM30 26.2h1.2v1.2h-1.2ZM30 28.8h1.2v1.2h-1.2ZM30 31.2h1.2v1.2h-1.2ZM30 35h1.2v1.2h-1.2ZM30 37.5h1.2v1.2h-1.2ZM30 43.8h1.2v1.2h-1.2ZM30 46.2h1.2v1.2h-1.2ZM31.2 3.8h1.2v1.2h-1.2ZM31.2 5h1.2v1.2h-1.2ZM31.2 7.5h1.2v1.2h-1.2ZM31.2 11.2h1.2v1.2h-1.2ZM31.2 12.5h1.2v1.2h-1.2ZM31.2 17.5h1.2v1.2h-1.2ZM31.2 21.2h1.2v1.2h-1.2ZM31.2 22.5h1.2v1.2h-1.2ZM31.2 23.8h1.2v1.2h-1.2ZM31.2 27.5h1.2v1.2h-1.2ZM31.2 30h1.2v1.2h-1.2ZM31.2 33.8h1.2v1.2h-1.2ZM31.2 35h1.2v1.2h-1.2ZM31.2 37.5h1.2v1.2h-1.2ZM31.2 41.2h1.2v1.2h-1.2ZM31.2 46.2h1.2v1.2h-1.2ZM31.2 50h1.2v1.2h-1.2ZM32.5 0h1.2v1.2h-1.2ZM32.5 3.8h1.2v1.2h-1.2ZM32.5 5h1.2v1.2h-1.2ZM32.5 7.5h1.2v1.2h-1.2ZM32.5 10h1.2v1.2h-1.2ZM32.5 11.2h1.2v1.2h-1.2ZM32.5 15h1.2v1.2h-1.2ZM32.5 21.2h1.2v1.2h-1.2ZM32.5 22.5h1.2v1.2h-1.2ZM32.5 23.8h1.2v1.2h-1.2ZM32.5 25h1.2v1.2h-1.2ZM32.5 38.8h1.2v1.2h-1.2ZM32.5 41.2h1.2v1.2h-1.2ZM32.5 46.2h1.2v1.2h-1.2ZM32.5 50h1.2v1.2h-1.2ZM33.8 22.5h1.2v1.2h-1.2ZM33.8 23.8h1.2v1.2h-1.2ZM33.8 38.8h1.2v1.2h-1.2ZM33.8 46.2h1.2v1.2h-1.2ZM35 2.5h1.2v1.2h-1.2ZM35 13.8h1.2v1.2h-1.2ZM35 15h1.2v1.2h-1.2ZM35 20h1.2v1.2h-1.2ZM35 21.2h1.2v1.2h-1.2ZM35 22.5h1.2v1.2h-1.2ZM35 30h1.2v1.2h-1.2ZM35 32.5h1.2v1.2h-1.2ZM35 37.5h1.2v1.2h-1.2ZM35 38.8h1.2v1.2h-1.2ZM35 41.2h1.2v1.2h-1.2ZM35 42.5h1.2v1.2h-1.2ZM35 43.8h1.2v1.2h-1.2ZM35 45h1.2v1.2h-1.2ZM35 46.2h1.2v1.2h-1.2ZM35 50h1.2v1.2h-1.2ZM35 51.2h1.2v1.2h-1.2ZM36.2 0h1.2v1.2h-1.2ZM36.2 6.2h1.2v1.2h-1.2ZM36.2 12.5h1.2v1.2h-1.2ZM36.2 16.2h1.2v1.2h-1.2ZM36.2 31.2h1.2v1.2h-1.2ZM36.2 40h1.2v1.2h-1.2ZM37.5 0h1.2v1.2h-1.2ZM37.5 8.8h1.2v1.2h-1.2ZM37.5 15h1.2v1.2h-1.2ZM37.5 22.5h1.2v1.2h-1.2ZM37.5 26.2h1.2v1.2h-1.2ZM37.5 28.8h1.2v1.2h-1.2ZM37.5 40h1.2v1.2h-1.2ZM37.5 43.8h1.2v1.2h-1.2ZM38.8 6.2h1.2v1.2h-1.2ZM38.8 7.5h1.2v1.2h-1.2ZM38.8 23.8h1.2v1.2h-1.2ZM38.8 26.2h1.2v1.2h-1.2ZM38.8 28.8h1.2v1.2h-1.2ZM38.8 30h1.2v1.2h-1.2ZM38.8 32.5h1.2v1.2h-1.2ZM38.8 42.5h1.2v1.2h-1.2ZM38.8 43.8h1.2v1.2h-1.2ZM38.8 46.2h1.2v1.2h-1.2ZM38.8 47.5h1.2v1.2h-1.2ZM38.8 48.8h1.2v1.2h-1.2ZM38.8 50h1.2v1.2h-1.2ZM40 8.8h1.2v1.2h-1.2ZM40 12.5h1.2v1.2h-1.2ZM40 21.2h1.2v1.2h-1.2ZM40 25h1.2v1.2h-1.2ZM40 26.2h1.2v1.2h-1.2ZM40 32.5h1.2v1.2h-1.2ZM40 37.5h1.2v1.2h-1.2ZM40 41.2h1.2v1.2h-1.2ZM40 42.5h1.2v1.2h-1.2ZM40 50h1.2v1.2h-1.2ZM41.2 3.8h1.2v1.2h-1.2ZM41.2 5h1.2v1.2h-1.2ZM41.2 12.5h1.2v1.2h-1.2ZM41.2 13.8h1.2v1.2h-1.2ZM41.2 15h1.2v1.2h-1.2ZM41.2 17.5h1.2v1.2h-1.2ZM41.2 18.8h1.2v1.2h-1.2ZM41.2 20h1.2v1.2h-1.2ZM41.2 21.2h1.2v1.2h-1.2ZM41.2 23.8h1.2v1.2h-1.2ZM41.2 27.5h1.2v1.2h-1.2ZM41.2 28.8h1.2v1.2h-1.2ZM41.2 32.5h1.2v1.2h-1.2ZM41.2 33.8h1.2v1.2h-1.2ZM41.2 37.5h1.2v1.2h-1.2ZM41.2 42.5h1.2v1.2h-1.2ZM41.2 43.8h1.2v1.2h-1.2ZM41.2 45h1.2v1.2h-1.2ZM41.2 47.5h1.2v1.2h-1.2ZM41.2 48.8h1.2v1.2h-1.2ZM42.5 1.2h1.2v1.2h-1.2ZM42.5 6.2h1.2v1.2h-1.2ZM42.5 8.8h1.2v1.2h-1.2ZM42.5 13.8h1.2v1.2h-1.2ZM42.5 15h1.2v1.2h-1.2ZM42.5 20h1.2v1.2h-1.2ZM42.5 21.2h1.2v1.2h-1.2ZM42.5 22.5h1.2v1.2h-1.2ZM42.5 26.2h1.2v1.2h-1.2ZM42.5 27.5h1.2v1.2h-1.2ZM42.5 28.8h1.2v1.2h-1.2ZM42.5 33.8h1.2v1.2h-1.2ZM42.5 37.5h1.2v1.2h-1.2ZM42.5 42.5h1.2v1.2h-1.2ZM42.5 46.2h1.2v1.2h-1.2ZM42.5 47.5h1.2v1.2h-1.2ZM42.5 48.8h1.2v1.2h-1.2ZM42.5 50h1.2v1.2h-1.2ZM43.8 0h1.2v1.2h-1.2ZM43.8 1.2h1.2v1.2h-1.2ZM43.8 2.5h1.2v1.2h-1.2ZM43.8 17.5h1.2v1.2h-1.2ZM43.8 25h1.2v1.2h-1.2ZM43.8 35h1.2v1.2h-1.2ZM43.8 37.5h1.2v1.2h-1.2ZM43.8 40h1.2v1.2h-1.2ZM43.8 41.2h1.2v1.2h-1.2ZM43.8 42.5h1.2v1.2h-1.2ZM43.8 43.8h1.2v1.2h-1.2ZM43.8 51.2h1.2v1.2h-1.2ZM45 1.2h1.2v1.2h-1.2ZM45 8.8h1.2v1.2h-1.2ZM45 10h1.2v1.2h-1.2ZM45 22.5h1.2v1.2h-1.2ZM45 23.8h1.2v1.2h-1.2ZM45 25h1.2v1.2h-1.2ZM45 35h1.2v1.2h-1.2ZM45 37.5h1.2v1.2h-1.2ZM45 41.2h1.2v1.2h-1.2ZM45 50h1.2v1.2h-1.2ZM46.2 2.5h1.2v1.2h-1.2ZM46.2 7.5h1.2v1.2h-1.2ZM46.2 15h1.2v1.2h-1.2ZM46.2 21.2h1.2v1.2h-1.2ZM46.2 26.2h1.2v1.2h-1.2ZM46.2 27.5h1.2v1.2h-1.2ZM46.2 37.5h1.2v1.2h-1.2ZM46.2 41.2h1.2v1.2h-1.2ZM46.2 42.5h1.2v1.2h-1.2ZM46.2 50h1.2v1.2h-1.2ZM47.5 5h1.2v1.2h-1.2ZM47.5 21.2h1.2v1.2h-1.2ZM47.5 23.8h1.2v1.2h-1.2ZM47.5 26.2h1.2v1.2h-1.2ZM47.5 27.5h1.2v1.2h-1.2ZM47.5 32.5h1.2v1.2h-1.2ZM47.5 35h1.2v1.2h-1.2ZM47.5 36.2h1.2v1.2h-1.2ZM47.5 46.2h1.2v1.2h-1.2ZM48.8 0h1.2v1.2h-1.2ZM48.8 2.5h1.2v1.2h-1.2ZM48.8 3.8h1.2v1.2h-1.2ZM48.8 8.8h1.2v1.2h-1.2ZM48.8 12.5h1.2v1.2h-1.2ZM48.8 21.2h1.2v1.2h-1.2ZM48.8 22.5h1.2v1.2h-1.2ZM48.8 26.2h1.2v1.2h-1.2ZM48.8 32.5h1.2v1.2h-1.2ZM48.8 37.5h1.2v1.2h-1.2ZM48.8 38.8h1.2v1.2h-1.2ZM48.8 41.2h1.2v1.2h-1.2ZM48.8 42.5h1.2v1.2h-1.2ZM48.8 46.2h1.2v1.2h-1.2ZM48.8 47.5h1.2v1.2h-1.2ZM50 1.2h1.2v1.2h-1.2ZM50 12.5h1.2v1.2h-1.2ZM50 13.8h1.2v1.2h-1.2ZM50 15h1.2v1.2h-1.2ZM50 23.8h1.2v1.2h-1.2ZM50 25h1.2v1.2h-1.2ZM50 26.2h1.2v1.2h-1.2ZM50 27.5h1.2v1.2h-1.2ZM50 28.8h1.2v1.2h-1.2ZM50 30h1.2v1.2h-1.2ZM50 35h1.2v1.2h-1.2ZM50 37.5h1.2v1.2h-1.2ZM50 38.8h1.2v1.2h-1.2ZM50 40h1.2v1.2h-1.2ZM50 42.5h1.2v1.2h-1.2ZM50 45h1.2v1.2h-1.2ZM50 50h1.2v1.2h-1.2ZM51.2 41.2h1.2v1.2h-1.2ZM51.2 43.8h1.2v1.2h-1.2ZM51.2 47.5h1.2v1.2h-1.2Z" fill="#ace0e3"/><path d="M0 1.2h1.2v1.2h-1.2ZM0 3.8h1.2v1.2h-1.2ZM0 11.2h1.2v1.2h-1.2ZM0 15h1.2v1.2h-1.2ZM0 22.5h1.2v1.2h-1.2ZM0 28.8h1.2v1.2h-1.2ZM0 32.5h1.2v1.2h-1.2ZM0 35h1.2v1.2h-1.2ZM0 37.5h1.2v1.2h-1.2ZM0 47.5h1.2v1.2h-1.2ZM0 51.2h1.2v1.2h-1.2ZM1.2 15h1.2v1.2h-1.2ZM1.2 17.5h1.2v1.2h-1.2ZM1.2 18.8h1.2v1.2h-1.2ZM1.2 20h1.2v1.2h-1.2ZM1.2 25h1.2v1.2h-1.2ZM1.2 30h1.2v1.2h-1.2ZM1.2 35h1.2v1.2h-1.2ZM1.2 36.2h1.2v1.2h-1.2ZM1.2 42.5h1.2v1.2h-1.2ZM2.5 5h1.2v1.2h-1.2ZM2.5 6.2h1.2v1.2h-1.2ZM2.5 7.5h1.2v1.2h-1.2ZM2.5 8.8h1.2v1.2h-1.2ZM2.5 13.8h1.2v1.2h-1.2ZM2.5 17.5h1.2v1.2h-1.2ZM2.5 20h1.2v1.2h-1.2ZM2.5 25h1.2v1.2h-1.2ZM2.5 37.5h1.2v1.2h-1.2ZM3.8 0h1.2v1.2h-1.2ZM3.8 5h1.2v1.2h-1.2ZM3.8 7.5h1.2v1.2h-1.2ZM3.8 23.8h1.2v1.2h-1.2ZM3.8 37.5h1.2v1.2h-1.2ZM3.8 38.8h1.2v1.2h-1.2ZM5 0h1.2v1.2h-1.2ZM5 1.2h1.2v1.2h-1.2ZM5 3.8h1.2v1.2h-1.2ZM5 17.5h1.2v1.2h-1.2ZM5 25h1.2v1.2h-1.2ZM5 40h1.2v1.2h-1.2ZM5 41.2h1.2v1.2h-1.2ZM6.2 12.5h1.2v1.2h-1.2ZM6.2 13.8h1.2v1.2h-1.2ZM6.2 17.5h1.2v1.2h-1.2ZM6.2 23.8h1.2v1.2h-1.2ZM6.2 47.5h1.2v1.2h-1.2ZM6.2 50h1.2v1.2h-1.2ZM7.5 0h1.2v1.2h-1.2ZM7.5 2.5h1.2v1.2h-1.2ZM7.5 13.8h1.2v1.2h-1.2ZM7.5 15h1.2v1.2h-1.2ZM7.5 22.5h1.2v1.2h-1.2ZM7.5 26.2h1.2v1.2h-1.2ZM7.5 32.5h1.2v1.2h-1.2ZM7.5 35h1.2v1.2h-1.2ZM7.5 36.2h1.2v1.2h-1.2ZM7.5 37.5h1.2v1.2h-1.2ZM7.5 42.5h1.2v1.2h-1.2ZM8.8 8.8h1.2v1.2h-1.2ZM8.8 21.2h1.2v1.2h-1.2ZM8.8 23.8h1.2v1.2h-1.2ZM8.8 25h1.2v1.2h-1.2ZM8.8 31.2h1.2v1.2h-1.2ZM8.8 50h1.2v1.2h-1.2ZM10 17.5h1.2v1.2h-1.2ZM10 46.2h1.2v1.2h-1.2ZM10 51.2h1.2v1.2h-1.2ZM11.2 0h1.2v1.2h-1.2ZM11.2 1.2h1.2v1.2h-1.2ZM11.2 23.8h1.2v1.2h-1.2ZM11.2 25h1.2v1.2h-1.2ZM11.2 35h1.2v1.2h-1.2ZM12.5 22.5h1.2v1.2h-1.2ZM12.5 25h1.2v1.2h-1.2ZM12.5 27.5h1.2v1.2h-1.2ZM12.5 28.8h1.2v1.2h-1.2ZM12.5 37.5h1.2v1.2h-1.2ZM12.5 40h1.2v1.2h-1.2ZM13.8 7.5h1.2v1.2h-1.2ZM13.8 16.2h1.2v1.2h-1.2ZM13.8 21.2h1.2v1.2h-1.2ZM13.8 41.2h1.2v1.2h-1.2ZM13.8 42.5h1.2v1.2h-1.2ZM13.8 46.2h1.2v1.2h-1.2ZM13.8 47.5h1.2v1.2h-1.2ZM13.8 48.8h1.2v1.2h-1.2ZM15 2.5h1.2v1.2h-1.2ZM15 20h1.2v1.2h-1.2ZM15 46.2h1.2v1.2h-1.2ZM15 47.5h1.2v1.2h-1.2ZM15 50h1.2v1.2h-1.2ZM16.2 7.5h1.2v1.2h-1.2ZM16.2 27.5h1.2v1.2h-1.2ZM16.2 43.8h1.2v1.2h-1.2ZM17.5 3.8h1.2v1.2h-1.2ZM17.5 12.5h1.2v1.2h-1.2ZM17.5 43.8h1.2v1.2h-1.2ZM17.5 45h1.2v1.2h-1.2ZM18.8 16.2h1.2v1.2h-1.2ZM18.8 23.8h1.2v1.2h-1.2ZM18.8 37.5h1.2v1.2h-1.2ZM20 0h1.2v1.2h-1.2ZM20 11.2h1.2v1.2h-1.2ZM20 20h1.2v1.2h-1.2ZM20 46.2h1.2v1.2h-1.2ZM21.2 26.2h1.2v1.2h-1.2ZM21.2 31.2h1.2v1.2h-1.2ZM21.2 41.2h1.2v1.2h-1.2ZM21.2 43.8h1.2v1.2h-1.2ZM22.5 0h1.2v1.2h-1.2ZM22.5 2.5h1.2v1.2h-1.2ZM22.5 3.8h1.2v1.2h-1.2ZM22.5 5h1.2v1.2h-1.2ZM22.5 10h1.2v1.2h-1.2ZM22.5 11.2h1.2v1.2h-1.2ZM22.5 17.5h1.2v1.2h-1.2ZM22.5 21.2h1.2v1.2h-1.2ZM22.5 32.5h1.2v1.2h-1.2ZM22.5 45h1.2v1.2h-1.2ZM23.8 12.5h1.2v1.2h-1.2ZM23.8 26.2h1.2v1.2h-1.2ZM23.8 31.2h1.2v1.2h-1.2ZM23.8 35h1.2v1.2h-1.2ZM23.8 40h1.2v1.2h-1.2ZM23.8 45h1.2v1.2h-1.2ZM25 11.2h1.2v1.2h-1.2ZM25 26.2h1.2v1.2h-1.2ZM25 32.5h1.2v1.2h-1.2ZM25 42.5h1.2v1.2h-1.2ZM25 45h1.2v1.2h-1.2ZM26.2 0h1.2v1.2h-1.2ZM26.2 1.2h1.2v1.2h-1.2ZM26.2 13.8h1.2v1.2h-1.2ZM26.2 20h1.2v1.2h-1.2ZM26.2 21.2h1.2v1.2h-1.2ZM26.2 25h1.2v1.2h-1.2ZM26.2 32.5h1.2v1.2h-1.2ZM27.5 11.2h1.2v1.2h-1.2ZM27.5 26.2h1.2v1.2h-1.2ZM28.8 0h1.2v1.2h-1.2ZM28.8 2.5h1.2v1.2h-1.2ZM28.8 8.8h1.2v1.2h-1.2ZM28.8 13.8h1.2v1.2h-1.2ZM28.8 23.8h1.2v1.2h-1.2ZM28.8 28.8h1.2v1.2h-1.2ZM28.8 38.8h1.2v1.2h-1.2ZM28.8 48.8h1.2v1.2h-1.2ZM30 11.2h1.2v1.2h-1.2ZM30 13.8h1.2v1.2h-1.2ZM30 18.8h1.2v1.2h-1.2ZM30 36.2h1.2v1.2h-1.2ZM30 41.2h1.2v1.2h-1.2ZM30 42.5h1.2v1.2h-1.2ZM30 45h1.2v1.2h-1.2ZM31.2 13.8h1.2v1.2h-1.2ZM31.2 26.2h1.2v1.2h-1.2ZM31.2 40h1.2v1.2h-1.2ZM31.2 42.5h1.2v1.2h-1.2ZM31.2 45h1.2v1.2h-1.2ZM32.5 8.8h1.2v1.2h-1.2ZM32.5 17.5h1.2v1.2h-1.2ZM32.5 20h1.2v1.2h-1.2ZM32.5 27.5h1.2v1.2h-1.2ZM32.5 35h1.2v1.2h-1.2ZM33.8 5h1.2v1.2h-1.2ZM33.8 7.5h1.2v1.2h-1.2ZM33.8 8.8h1.2v1.2h-1.2ZM35 3.8h1.2v1.2h-1.2ZM35 11.2h1.2v1.2h-1.2ZM35 17.5h1.2v1.2h-1.2ZM35 25h1.2v1.2h-1.2ZM35 28.8h1.2v1.2h-1.2ZM35 31.2h1.2v1.2h-1.2ZM35 40h1.2v1.2h-1.2ZM36.2 47.5h1.2v1.2h-1.2ZM37.5 3.8h1.2v1.2h-1.2ZM37.5 5h1.2v1.2h-1.2ZM37.5 12.5h1.2v1.2h-1.2ZM37.5 30h1.2v1.2h-1.2ZM37.5 33.8h1.2v1.2h-1.2ZM37.5 37.5h1.2v1.2h-1.2ZM37.5 46.2h1.2v1.2h-1.2ZM37.5 47.5h1.2v1.2h-1.2ZM38.8 11.2h1.2v1.2h-1.2ZM38.8 18.8h1.2v1.2h-1.2ZM38.8 20h1.2v1.2h-1.2ZM38.8 37.5h1.2v1.2h-1.2ZM38.8 41.2h1.2v1.2h-1.2ZM38.8 45h1.2v1.2h-1.2ZM40 0h1.2v1.2h-1.2ZM40 1.2h1.2v1.2h-1.2ZM40 2.5h1.2v1.2h-1.2ZM40 5h1.2v1.2h-1.2ZM40 7.5h1.2v1.2h-1.2ZM40 13.8h1.2v1.2h-1.2ZM40 23.8h1.2v1.2h-1.2ZM40 35h1.2v1.2h-1.2ZM40 43.8h1.2v1.2h-1.2ZM40 47.5h1.2v1.2h-1.2ZM41.2 1.2h1.2v1.2h-1.2ZM41.2 7.5h1.2v1.2h-1.2ZM41.2 10h1.2v1.2h-1.2ZM41.2 11.2h1.2v1.2h-1.2ZM41.2 26.2h1.2v1.2h-1.2ZM41.2 31.2h1.2v1.2h-1.2ZM41.2 38.8h1.2v1.2h-1.2ZM41.2 51.2h1.2v1.2h-1.2ZM42.5 5h1.2v1.2h-1.2ZM42.5 23.8h1.2v1.2h-1.2ZM42.5 25h1.2v1.2h-1.2ZM42.5 45h1.2v1.2h-1.2ZM43.8 5h1.2v1.2h-1.2ZM43.8 12.5h1.2v1.2h-1.2ZM43.8 15h1.2v1.2h-1.2ZM43.8 18.8h1.2v1.2h-1.2ZM43.8 20h1.2v1.2h-1.2ZM43.8 28.8h1.2v1.2h-1.2ZM43.8 30h1.2v1.2h-1.2ZM43.8 46.2h1.2v1.2h-1.2ZM43.8 47.5h1.2v1.2h-1.2ZM45 5h1.2v1.2h-1.2ZM45 13.8h1.2v1.2h-1.2ZM45 15h1.2v1.2h-1.2ZM45 18.8h1.2v1.2h-1.2ZM45 43.8h1.2v1.2h-1.2ZM45 46.2h1.2v1.2h-1.2ZM45 47.5h1.2v1.2h-1.2ZM45 48.8h1.2v1.2h-1.2ZM46.2 1.2h1.2v1.2h-1.2ZM46.2 6.2h1.2v1.2h-1.2ZM46.2 13.8h1.2v1.2h-1.2ZM46.2 23.8h1.2v1.2h-1.2ZM46.2 28.8h1.2v1.2h-1.2ZM46.2 32.5h1.2v1.2h-1.2ZM46.2 35h1.2v1.2h-1.2ZM46.2 36.2h1.2v1.2h-1.2ZM46.2 40h1.2v1.2h-1.2ZM46.2 43.8h1.2v1.2h-1.2ZM46.2 47.5h1.2v1.2h-1.2ZM47.5 2.5h1.2v1.2h-1.2ZM47.5 15h1.2v1.2h-1.2ZM47.5 20h1.2v1.2h-1.2ZM47.5 30h1.2v1.2h-1.2ZM47.5 41.2h1.2v1.2h-1.2ZM47.5 45h1.2v1.2h-1.2ZM47.5 47.5h1.2v1.2h-1.2ZM47.5 50h1.2v1.2h-1.2ZM48.8 5h1.2v1.2h-1.2ZM48.8 13.8h1.2v1.2h-1.2ZM48.8 15h1.2v1.2h-1.2ZM48.8 17.5h1.2v1.2h-1.2ZM48.8 36.2h1.2v1.2h-1.2ZM48.8 50h1.2v1.2h-1.2ZM50 3.8h1.2v1.2h-1.2ZM50 5h1.2v1.2h-1.2ZM50 32.5h1.2v1.2h-1.2ZM50 41.2h1.2v1.2h-1.2ZM50 51.2h1.2v1.2h-1.2ZM51.2 0h1.2v1.2h-1.2ZM51.2 3.8h1.2v1.2h-1.2ZM51.2 20h1.2v1.2h-1.2ZM51.2 26.2h1.2v1.2h-1.2Z" fill="#6fcbd0"/><path d="M0 7.5h1.2v1.2h-1.2ZM0 12.5h1.2v1.2h-1.2ZM0 27.5h1.2v1.2h-1.2ZM0 41.2h1.2v1.2h-1.2ZM0 43.8h1.2v1.2h-1.2ZM1.2 1.2h1.2v1.2h-1.2ZM1.2 48.8h1.2v1.2h-1.2ZM2.5 26.2h1.2v1.2h-1.2ZM2.5 40h1.2v1.2h-1.2ZM2.5 41.2h1.2v1.2h-1.2ZM3.8 17.5h1.2v1.2h-1.2ZM3.8 28.8h1.2v1.2h-1.2ZM3.8 31.2h1.2v1.2h-1.2ZM3.8 45h1.2v1.2h-1.2ZM5 12.5h1.2v1.2h-1.2ZM5 15h1.2v1.2h-1.2ZM5 30h1.2v1.2h-1.2ZM5 32.5h1.2v1.2h-1.2ZM7.5 48.8h1.2v1.2h-1.2ZM8.8 16.2h1.2v1.2h-1.2ZM10 8.8h1.2v1.2h-1.2ZM10 11.2h1.2v1.2h-1.2ZM10 26.2h1.2v1.2h-1.2ZM11.2 5h1.2v1.2h-1.2ZM11.2 6.2h1.2v1.2h-1.2ZM12.5 3.8h1.2v1.2h-1.2ZM13.8 18.8h1.2v1.2h-1.2ZM13.8 43.8h1.2v1.2h-1.2ZM16.2 37.5h1.2v1.2h-1.2ZM17.5 8.8h1.2v1.2h-1.2ZM17.5 15h1.2v1.2h-1.2ZM17.5 31.2h1.2v1.2h-1.2ZM17.5 41.2h1.2v1.2h-1.2ZM20 15h1.2v1.2h-1.2ZM20 17.5h1.2v1.2h-1.2ZM20 21.2h1.2v1.2h-1.2ZM20 22.5h1.2v1.2h-1.2ZM20 38.8h1.2v1.2h-1.2ZM20 41.2h1.2v1.2h-1.2ZM21.2 28.8h1.2v1.2h-1.2ZM22.5 18.8h1.2v1.2h-1.2ZM23.8 28.8h1.2v1.2h-1.2ZM23.8 33.8h1.2v1.2h-1.2ZM23.8 37.5h1.2v1.2h-1.2ZM25 6.2h1.2v1.2h-1.2ZM25 7.5h1.2v1.2h-1.2ZM25 13.8h1.2v1.2h-1.2ZM25 43.8h1.2v1.2h-1.2ZM26.2 42.5h1.2v1.2h-1.2ZM26.2 50h1.2v1.2h-1.2ZM27.5 2.5h1.2v1.2h-1.2ZM27.5 27.5h1.2v1.2h-1.2ZM30 47.5h1.2v1.2h-1.2ZM31.2 2.5h1.2v1.2h-1.2ZM31.2 25h1.2v1.2h-1.2ZM31.2 47.5h1.2v1.2h-1.2ZM31.2 48.8h1.2v1.2h-1.2ZM32.5 1.2h1.2v1.2h-1.2ZM32.5 6.2h1.2v1.2h-1.2ZM32.5 26.2h1.2v1.2h-1.2ZM35 1.2h1.2v1.2h-1.2ZM35 47.5h1.2v1.2h-1.2ZM37.5 13.8h1.2v1.2h-1.2ZM37.5 17.5h1.2v1.2h-1.2ZM37.5 25h1.2v1.2h-1.2ZM37.5 41.2h1.2v1.2h-1.2ZM38.8 13.8h1.2v1.2h-1.2ZM38.8 21.2h1.2v1.2h-1.2ZM38.8 27.5h1.2v1.2h-1.2ZM38.8 38.8h1.2v1.2h-1.2ZM40 40h1.2v1.2h-1.2ZM40 46.2h1.2v1.2h-1.2ZM41.2 2.5h1.2v1.2h-1.2ZM41.2 8.8h1.2v1.2h-1.2ZM41.2 22.5h1.2v1.2h-1.2ZM41.2 41.2h1.2v1.2h-1.2ZM42.5 43.8h1.2v1.2h-1.2ZM45 7.5h1.2v1.2h-1.2ZM45 27.5h1.2v1.2h-1.2ZM45 30h1.2v1.2h-1.2ZM46.2 30h1.2v1.2h-1.2ZM46.2 46.2h1.2v1.2h-1.2ZM48.8 16.2h1.2v1.2h-1.2ZM48.8 28.8h1.2v1.2h-1.2ZM50 7.5h1.2v1.2h-1.2ZM50 22.5h1.2v1.2h-1.2ZM51.2 22.5h1.2v1.2h-1.2ZM51.2 33.8h1.2v1.2h-1.2Z" fill="#35b0b5"/><path d="M11.1 27.5L13.3 25.6M34.4 6.9L36.2 4M34.4 25.1L36.2 22.7M34.4 42.7L36.2 44.6M42.7 34.4L44.6 36.2M45.5 51.8L48.3 48.9M48.9 33.6L51.8 31.8" stroke="#1d4f52" stroke-width="0.55" stroke-opacity="0.5" fill="none"/></pattern><pattern id="pP" x="0" y="0" width="70" height="70" patternUnits="userSpaceOnUse"><path d="M0 1.1h1.1v1.1h-1.1ZM0 6.6h1.1v1.1h-1.1ZM0 8.8h1.1v1.1h-1.1ZM0 14.2h1.1v1.1h-1.1ZM0 33.9h1.1v1.1h-1.1ZM0 45.9h1.1v1.1h-1.1ZM0 52.5h1.1v1.1h-1.1ZM0 56.9h1.1v1.1h-1.1ZM0 67.8h1.1v1.1h-1.1ZM1.1 4.4h1.1v1.1h-1.1ZM1.1 10.9h1.1v1.1h-1.1ZM1.1 12h1.1v1.1h-1.1ZM1.1 15.3h1.1v1.1h-1.1ZM1.1 17.5h1.1v1.1h-1.1ZM1.1 18.6h1.1v1.1h-1.1ZM1.1 19.7h1.1v1.1h-1.1ZM1.1 20.8h1.1v1.1h-1.1ZM1.1 25.2h1.1v1.1h-1.1ZM1.1 30.6h1.1v1.1h-1.1ZM1.1 31.7h1.1v1.1h-1.1ZM1.1 40.5h1.1v1.1h-1.1ZM1.1 42.7h1.1v1.1h-1.1ZM1.1 43.8h1.1v1.1h-1.1ZM1.1 47h1.1v1.1h-1.1ZM1.1 48.1h1.1v1.1h-1.1ZM1.1 49.2h1.1v1.1h-1.1ZM1.1 50.3h1.1v1.1h-1.1ZM1.1 51.4h1.1v1.1h-1.1ZM1.1 52.5h1.1v1.1h-1.1ZM1.1 62.3h1.1v1.1h-1.1ZM1.1 63.4h1.1v1.1h-1.1ZM1.1 67.8h1.1v1.1h-1.1ZM1.1 68.9h1.1v1.1h-1.1ZM2.2 4.4h1.1v1.1h-1.1ZM2.2 10.9h1.1v1.1h-1.1ZM2.2 18.6h1.1v1.1h-1.1ZM2.2 19.7h1.1v1.1h-1.1ZM2.2 26.2h1.1v1.1h-1.1ZM2.2 31.7h1.1v1.1h-1.1ZM2.2 36.1h1.1v1.1h-1.1ZM2.2 39.4h1.1v1.1h-1.1ZM2.2 48.1h1.1v1.1h-1.1ZM2.2 49.2h1.1v1.1h-1.1ZM2.2 52.5h1.1v1.1h-1.1ZM2.2 54.7h1.1v1.1h-1.1ZM3.3 1.1h1.1v1.1h-1.1ZM3.3 3.3h1.1v1.1h-1.1ZM3.3 4.4h1.1v1.1h-1.1ZM3.3 6.6h1.1v1.1h-1.1ZM3.3 8.8h1.1v1.1h-1.1ZM3.3 15.3h1.1v1.1h-1.1ZM3.3 16.4h1.1v1.1h-1.1ZM3.3 17.5h1.1v1.1h-1.1ZM3.3 18.6h1.1v1.1h-1.1ZM3.3 27.3h1.1v1.1h-1.1ZM3.3 28.4h1.1v1.1h-1.1ZM3.3 37.2h1.1v1.1h-1.1ZM3.3 40.5h1.1v1.1h-1.1ZM3.3 41.6h1.1v1.1h-1.1ZM3.3 47h1.1v1.1h-1.1ZM3.3 54.7h1.1v1.1h-1.1ZM3.3 60.2h1.1v1.1h-1.1ZM3.3 61.2h1.1v1.1h-1.1ZM3.3 63.4h1.1v1.1h-1.1ZM4.4 9.8h1.1v1.1h-1.1ZM4.4 10.9h1.1v1.1h-1.1ZM4.4 13.1h1.1v1.1h-1.1ZM4.4 15.3h1.1v1.1h-1.1ZM4.4 20.8h1.1v1.1h-1.1ZM4.4 25.2h1.1v1.1h-1.1ZM4.4 26.2h1.1v1.1h-1.1ZM4.4 32.8h1.1v1.1h-1.1ZM4.4 33.9h1.1v1.1h-1.1ZM4.4 37.2h1.1v1.1h-1.1ZM4.4 38.3h1.1v1.1h-1.1ZM4.4 39.4h1.1v1.1h-1.1ZM4.4 42.7h1.1v1.1h-1.1ZM4.4 45.9h1.1v1.1h-1.1ZM4.4 52.5h1.1v1.1h-1.1ZM4.4 53.6h1.1v1.1h-1.1ZM4.4 60.2h1.1v1.1h-1.1ZM4.4 62.3h1.1v1.1h-1.1ZM4.4 63.4h1.1v1.1h-1.1ZM4.4 64.5h1.1v1.1h-1.1ZM4.4 67.8h1.1v1.1h-1.1ZM5.5 3.3h1.1v1.1h-1.1ZM5.5 8.8h1.1v1.1h-1.1ZM5.5 9.8h1.1v1.1h-1.1ZM5.5 10.9h1.1v1.1h-1.1ZM5.5 15.3h1.1v1.1h-1.1ZM5.5 19.7h1.1v1.1h-1.1ZM5.5 26.2h1.1v1.1h-1.1ZM5.5 37.2h1.1v1.1h-1.1ZM5.5 39.4h1.1v1.1h-1.1ZM5.5 41.6h1.1v1.1h-1.1ZM5.5 43.8h1.1v1.1h-1.1ZM5.5 45.9h1.1v1.1h-1.1ZM5.5 47h1.1v1.1h-1.1ZM5.5 49.2h1.1v1.1h-1.1ZM5.5 56.9h1.1v1.1h-1.1ZM5.5 58h1.1v1.1h-1.1ZM5.5 65.6h1.1v1.1h-1.1ZM6.6 0h1.1v1.1h-1.1ZM6.6 1.1h1.1v1.1h-1.1ZM6.6 4.4h1.1v1.1h-1.1ZM6.6 7.7h1.1v1.1h-1.1ZM6.6 12h1.1v1.1h-1.1ZM6.6 15.3h1.1v1.1h-1.1ZM6.6 17.5h1.1v1.1h-1.1ZM6.6 18.6h1.1v1.1h-1.1ZM6.6 28.4h1.1v1.1h-1.1ZM6.6 32.8h1.1v1.1h-1.1ZM6.6 38.3h1.1v1.1h-1.1ZM6.6 40.5h1.1v1.1h-1.1ZM6.6 41.6h1.1v1.1h-1.1ZM6.6 43.8h1.1v1.1h-1.1ZM6.6 45.9h1.1v1.1h-1.1ZM6.6 48.1h1.1v1.1h-1.1ZM6.6 51.4h1.1v1.1h-1.1ZM6.6 52.5h1.1v1.1h-1.1ZM6.6 56.9h1.1v1.1h-1.1ZM6.6 59.1h1.1v1.1h-1.1ZM6.6 60.2h1.1v1.1h-1.1ZM6.6 67.8h1.1v1.1h-1.1ZM7.7 7.7h1.1v1.1h-1.1ZM7.7 15.3h1.1v1.1h-1.1ZM7.7 19.7h1.1v1.1h-1.1ZM7.7 24.1h1.1v1.1h-1.1ZM7.7 32.8h1.1v1.1h-1.1ZM7.7 35h1.1v1.1h-1.1ZM7.7 49.2h1.1v1.1h-1.1ZM7.7 56.9h1.1v1.1h-1.1ZM7.7 58h1.1v1.1h-1.1ZM7.7 62.3h1.1v1.1h-1.1ZM7.7 63.4h1.1v1.1h-1.1ZM7.7 67.8h1.1v1.1h-1.1ZM7.7 68.9h1.1v1.1h-1.1ZM8.8 4.4h1.1v1.1h-1.1ZM8.8 6.6h1.1v1.1h-1.1ZM8.8 8.8h1.1v1.1h-1.1ZM8.8 9.8h1.1v1.1h-1.1ZM8.8 10.9h1.1v1.1h-1.1ZM8.8 12h1.1v1.1h-1.1ZM8.8 13.1h1.1v1.1h-1.1ZM8.8 17.5h1.1v1.1h-1.1ZM8.8 27.3h1.1v1.1h-1.1ZM8.8 39.4h1.1v1.1h-1.1ZM8.8 43.8h1.1v1.1h-1.1ZM8.8 47h1.1v1.1h-1.1ZM8.8 49.2h1.1v1.1h-1.1ZM8.8 50.3h1.1v1.1h-1.1ZM8.8 60.2h1.1v1.1h-1.1ZM8.8 61.2h1.1v1.1h-1.1ZM8.8 63.4h1.1v1.1h-1.1ZM9.8 1.1h1.1v1.1h-1.1ZM9.8 3.3h1.1v1.1h-1.1ZM9.8 6.6h1.1v1.1h-1.1ZM9.8 7.7h1.1v1.1h-1.1ZM9.8 17.5h1.1v1.1h-1.1ZM9.8 18.6h1.1v1.1h-1.1ZM9.8 20.8h1.1v1.1h-1.1ZM9.8 24.1h1.1v1.1h-1.1ZM9.8 32.8h1.1v1.1h-1.1ZM9.8 33.9h1.1v1.1h-1.1ZM9.8 35h1.1v1.1h-1.1ZM9.8 36.1h1.1v1.1h-1.1ZM9.8 40.5h1.1v1.1h-1.1ZM9.8 48.1h1.1v1.1h-1.1ZM9.8 50.3h1.1v1.1h-1.1ZM9.8 51.4h1.1v1.1h-1.1ZM9.8 54.7h1.1v1.1h-1.1ZM9.8 67.8h1.1v1.1h-1.1ZM10.9 3.3h1.1v1.1h-1.1ZM10.9 4.4h1.1v1.1h-1.1ZM10.9 6.6h1.1v1.1h-1.1ZM10.9 16.4h1.1v1.1h-1.1ZM10.9 17.5h1.1v1.1h-1.1ZM10.9 19.7h1.1v1.1h-1.1ZM10.9 23h1.1v1.1h-1.1ZM10.9 26.2h1.1v1.1h-1.1ZM10.9 28.4h1.1v1.1h-1.1ZM10.9 32.8h1.1v1.1h-1.1ZM10.9 42.7h1.1v1.1h-1.1ZM10.9 52.5h1.1v1.1h-1.1ZM10.9 61.2h1.1v1.1h-1.1ZM10.9 62.3h1.1v1.1h-1.1ZM10.9 63.4h1.1v1.1h-1.1ZM10.9 66.7h1.1v1.1h-1.1ZM12 1.1h1.1v1.1h-1.1ZM12 4.4h1.1v1.1h-1.1ZM12 9.8h1.1v1.1h-1.1ZM12 13.1h1.1v1.1h-1.1ZM12 23h1.1v1.1h-1.1ZM12 25.2h1.1v1.1h-1.1ZM12 28.4h1.1v1.1h-1.1ZM12 38.3h1.1v1.1h-1.1ZM12 40.5h1.1v1.1h-1.1ZM12 47h1.1v1.1h-1.1ZM12 48.1h1.1v1.1h-1.1ZM12 50.3h1.1v1.1h-1.1ZM12 52.5h1.1v1.1h-1.1ZM12 54.7h1.1v1.1h-1.1ZM12 58h1.1v1.1h-1.1ZM12 61.2h1.1v1.1h-1.1ZM12 62.3h1.1v1.1h-1.1ZM12 63.4h1.1v1.1h-1.1ZM12 64.5h1.1v1.1h-1.1ZM12 65.6h1.1v1.1h-1.1ZM12 68.9h1.1v1.1h-1.1ZM13.1 4.4h1.1v1.1h-1.1ZM13.1 17.5h1.1v1.1h-1.1ZM13.1 18.6h1.1v1.1h-1.1ZM13.1 20.8h1.1v1.1h-1.1ZM13.1 23h1.1v1.1h-1.1ZM13.1 27.3h1.1v1.1h-1.1ZM13.1 28.4h1.1v1.1h-1.1ZM13.1 29.5h1.1v1.1h-1.1ZM13.1 32.8h1.1v1.1h-1.1ZM13.1 33.9h1.1v1.1h-1.1ZM13.1 36.1h1.1v1.1h-1.1ZM13.1 40.5h1.1v1.1h-1.1ZM13.1 43.8h1.1v1.1h-1.1ZM13.1 47h1.1v1.1h-1.1ZM13.1 48.1h1.1v1.1h-1.1ZM13.1 50.3h1.1v1.1h-1.1ZM13.1 51.4h1.1v1.1h-1.1ZM13.1 54.7h1.1v1.1h-1.1ZM13.1 55.8h1.1v1.1h-1.1ZM13.1 60.2h1.1v1.1h-1.1ZM13.1 62.3h1.1v1.1h-1.1ZM13.1 63.4h1.1v1.1h-1.1ZM13.1 66.7h1.1v1.1h-1.1ZM13.1 67.8h1.1v1.1h-1.1ZM13.1 68.9h1.1v1.1h-1.1ZM14.2 6.6h1.1v1.1h-1.1ZM14.2 8.8h1.1v1.1h-1.1ZM14.2 14.2h1.1v1.1h-1.1ZM14.2 19.7h1.1v1.1h-1.1ZM14.2 20.8h1.1v1.1h-1.1ZM14.2 25.2h1.1v1.1h-1.1ZM14.2 27.3h1.1v1.1h-1.1ZM14.2 28.4h1.1v1.1h-1.1ZM14.2 31.7h1.1v1.1h-1.1ZM14.2 33.9h1.1v1.1h-1.1ZM14.2 38.3h1.1v1.1h-1.1ZM14.2 39.4h1.1v1.1h-1.1ZM14.2 41.6h1.1v1.1h-1.1ZM14.2 42.7h1.1v1.1h-1.1ZM14.2 43.8h1.1v1.1h-1.1ZM14.2 44.8h1.1v1.1h-1.1ZM14.2 45.9h1.1v1.1h-1.1ZM14.2 47h1.1v1.1h-1.1ZM14.2 54.7h1.1v1.1h-1.1ZM14.2 56.9h1.1v1.1h-1.1ZM14.2 58h1.1v1.1h-1.1ZM14.2 59.1h1.1v1.1h-1.1ZM14.2 62.3h1.1v1.1h-1.1ZM14.2 68.9h1.1v1.1h-1.1ZM15.3 3.3h1.1v1.1h-1.1ZM15.3 4.4h1.1v1.1h-1.1ZM15.3 6.6h1.1v1.1h-1.1ZM15.3 25.2h1.1v1.1h-1.1ZM15.3 26.2h1.1v1.1h-1.1ZM15.3 27.3h1.1v1.1h-1.1ZM15.3 28.4h1.1v1.1h-1.1ZM15.3 30.6h1.1v1.1h-1.1ZM15.3 32.8h1.1v1.1h-1.1ZM15.3 36.1h1.1v1.1h-1.1ZM15.3 37.2h1.1v1.1h-1.1ZM15.3 39.4h1.1v1.1h-1.1ZM15.3 42.7h1.1v1.1h-1.1ZM15.3 43.8h1.1v1.1h-1.1ZM15.3 48.1h1.1v1.1h-1.1ZM15.3 49.2h1.1v1.1h-1.1ZM15.3 50.3h1.1v1.1h-1.1ZM15.3 62.3h1.1v1.1h-1.1ZM16.4 4.4h1.1v1.1h-1.1ZM16.4 7.7h1.1v1.1h-1.1ZM16.4 12h1.1v1.1h-1.1ZM16.4 21.9h1.1v1.1h-1.1ZM16.4 24.1h1.1v1.1h-1.1ZM16.4 26.2h1.1v1.1h-1.1ZM16.4 31.7h1.1v1.1h-1.1ZM16.4 35h1.1v1.1h-1.1ZM16.4 64.5h1.1v1.1h-1.1ZM17.5 2.2h1.1v1.1h-1.1ZM17.5 3.3h1.1v1.1h-1.1ZM17.5 9.8h1.1v1.1h-1.1ZM17.5 12h1.1v1.1h-1.1ZM17.5 13.1h1.1v1.1h-1.1ZM17.5 14.2h1.1v1.1h-1.1ZM17.5 18.6h1.1v1.1h-1.1ZM17.5 26.2h1.1v1.1h-1.1ZM17.5 27.3h1.1v1.1h-1.1ZM17.5 28.4h1.1v1.1h-1.1ZM17.5 30.6h1.1v1.1h-1.1ZM17.5 33.9h1.1v1.1h-1.1ZM17.5 39.4h1.1v1.1h-1.1ZM17.5 41.6h1.1v1.1h-1.1ZM17.5 43.8h1.1v1.1h-1.1ZM17.5 47h1.1v1.1h-1.1ZM17.5 50.3h1.1v1.1h-1.1ZM17.5 53.6h1.1v1.1h-1.1ZM17.5 58h1.1v1.1h-1.1ZM17.5 66.7h1.1v1.1h-1.1ZM18.6 1.1h1.1v1.1h-1.1ZM18.6 3.3h1.1v1.1h-1.1ZM18.6 4.4h1.1v1.1h-1.1ZM18.6 14.2h1.1v1.1h-1.1ZM18.6 17.5h1.1v1.1h-1.1ZM18.6 18.6h1.1v1.1h-1.1ZM18.6 20.8h1.1v1.1h-1.1ZM18.6 23h1.1v1.1h-1.1ZM18.6 27.3h1.1v1.1h-1.1ZM18.6 32.8h1.1v1.1h-1.1ZM18.6 36.1h1.1v1.1h-1.1ZM18.6 37.2h1.1v1.1h-1.1ZM18.6 39.4h1.1v1.1h-1.1ZM18.6 41.6h1.1v1.1h-1.1ZM18.6 43.8h1.1v1.1h-1.1ZM18.6 50.3h1.1v1.1h-1.1ZM18.6 60.2h1.1v1.1h-1.1ZM18.6 62.3h1.1v1.1h-1.1ZM18.6 63.4h1.1v1.1h-1.1ZM18.6 64.5h1.1v1.1h-1.1ZM18.6 65.6h1.1v1.1h-1.1ZM19.7 2.2h1.1v1.1h-1.1ZM19.7 6.6h1.1v1.1h-1.1ZM19.7 8.8h1.1v1.1h-1.1ZM19.7 9.8h1.1v1.1h-1.1ZM19.7 12h1.1v1.1h-1.1ZM19.7 13.1h1.1v1.1h-1.1ZM19.7 15.3h1.1v1.1h-1.1ZM19.7 31.7h1.1v1.1h-1.1ZM19.7 32.8h1.1v1.1h-1.1ZM19.7 36.1h1.1v1.1h-1.1ZM19.7 37.2h1.1v1.1h-1.1ZM19.7 41.6h1.1v1.1h-1.1ZM19.7 47h1.1v1.1h-1.1ZM19.7 48.1h1.1v1.1h-1.1ZM19.7 49.2h1.1v1.1h-1.1ZM19.7 51.4h1.1v1.1h-1.1ZM19.7 60.2h1.1v1.1h-1.1ZM19.7 63.4h1.1v1.1h-1.1ZM19.7 65.6h1.1v1.1h-1.1ZM19.7 66.7h1.1v1.1h-1.1ZM19.7 67.8h1.1v1.1h-1.1ZM20.8 2.2h1.1v1.1h-1.1ZM20.8 4.4h1.1v1.1h-1.1ZM20.8 10.9h1.1v1.1h-1.1ZM20.8 17.5h1.1v1.1h-1.1ZM20.8 20.8h1.1v1.1h-1.1ZM20.8 24.1h1.1v1.1h-1.1ZM20.8 25.2h1.1v1.1h-1.1ZM20.8 26.2h1.1v1.1h-1.1ZM20.8 33.9h1.1v1.1h-1.1ZM20.8 36.1h1.1v1.1h-1.1ZM20.8 38.3h1.1v1.1h-1.1ZM20.8 40.5h1.1v1.1h-1.1ZM20.8 41.6h1.1v1.1h-1.1ZM20.8 42.7h1.1v1.1h-1.1ZM20.8 45.9h1.1v1.1h-1.1ZM20.8 48.1h1.1v1.1h-1.1ZM20.8 50.3h1.1v1.1h-1.1ZM20.8 52.5h1.1v1.1h-1.1ZM20.8 54.7h1.1v1.1h-1.1ZM20.8 60.2h1.1v1.1h-1.1ZM20.8 61.2h1.1v1.1h-1.1ZM20.8 63.4h1.1v1.1h-1.1ZM21.9 1.1h1.1v1.1h-1.1ZM21.9 5.5h1.1v1.1h-1.1ZM21.9 14.2h1.1v1.1h-1.1ZM21.9 21.9h1.1v1.1h-1.1ZM21.9 23h1.1v1.1h-1.1ZM21.9 39.4h1.1v1.1h-1.1ZM21.9 49.2h1.1v1.1h-1.1ZM21.9 55.8h1.1v1.1h-1.1ZM21.9 60.2h1.1v1.1h-1.1ZM23 6.6h1.1v1.1h-1.1ZM23 13.1h1.1v1.1h-1.1ZM23 15.3h1.1v1.1h-1.1ZM23 24.1h1.1v1.1h-1.1ZM23 25.2h1.1v1.1h-1.1ZM23 26.2h1.1v1.1h-1.1ZM23 30.6h1.1v1.1h-1.1ZM23 31.7h1.1v1.1h-1.1ZM23 43.8h1.1v1.1h-1.1ZM23 48.1h1.1v1.1h-1.1ZM23 49.2h1.1v1.1h-1.1ZM23 53.6h1.1v1.1h-1.1ZM23 55.8h1.1v1.1h-1.1ZM23 67.8h1.1v1.1h-1.1ZM23 68.9h1.1v1.1h-1.1ZM24.1 6.6h1.1v1.1h-1.1ZM24.1 15.3h1.1v1.1h-1.1ZM24.1 28.4h1.1v1.1h-1.1ZM24.1 45.9h1.1v1.1h-1.1ZM24.1 56.9h1.1v1.1h-1.1ZM24.1 62.3h1.1v1.1h-1.1ZM25.2 0h1.1v1.1h-1.1ZM25.2 2.2h1.1v1.1h-1.1ZM25.2 3.3h1.1v1.1h-1.1ZM25.2 4.4h1.1v1.1h-1.1ZM25.2 5.5h1.1v1.1h-1.1ZM25.2 12h1.1v1.1h-1.1ZM25.2 16.4h1.1v1.1h-1.1ZM25.2 17.5h1.1v1.1h-1.1ZM25.2 18.6h1.1v1.1h-1.1ZM25.2 31.7h1.1v1.1h-1.1ZM25.2 39.4h1.1v1.1h-1.1ZM25.2 40.5h1.1v1.1h-1.1ZM25.2 41.6h1.1v1.1h-1.1ZM25.2 45.9h1.1v1.1h-1.1ZM25.2 48.1h1.1v1.1h-1.1ZM25.2 49.2h1.1v1.1h-1.1ZM25.2 59.1h1.1v1.1h-1.1ZM25.2 63.4h1.1v1.1h-1.1ZM25.2 64.5h1.1v1.1h-1.1ZM25.2 65.6h1.1v1.1h-1.1ZM26.2 4.4h1.1v1.1h-1.1ZM26.2 13.1h1.1v1.1h-1.1ZM26.2 14.2h1.1v1.1h-1.1ZM26.2 16.4h1.1v1.1h-1.1ZM26.2 18.6h1.1v1.1h-1.1ZM26.2 26.2h1.1v1.1h-1.1ZM26.2 29.5h1.1v1.1h-1.1ZM26.2 33.9h1.1v1.1h-1.1ZM26.2 36.1h1.1v1.1h-1.1ZM26.2 42.7h1.1v1.1h-1.1ZM26.2 56.9h1.1v1.1h-1.1ZM26.2 58h1.1v1.1h-1.1ZM26.2 59.1h1.1v1.1h-1.1ZM26.2 65.6h1.1v1.1h-1.1ZM26.2 68.9h1.1v1.1h-1.1ZM27.3 1.1h1.1v1.1h-1.1ZM27.3 12h1.1v1.1h-1.1ZM27.3 14.2h1.1v1.1h-1.1ZM27.3 18.6h1.1v1.1h-1.1ZM27.3 20.8h1.1v1.1h-1.1ZM27.3 21.9h1.1v1.1h-1.1ZM27.3 28.4h1.1v1.1h-1.1ZM27.3 37.2h1.1v1.1h-1.1ZM27.3 40.5h1.1v1.1h-1.1ZM27.3 42.7h1.1v1.1h-1.1ZM27.3 43.8h1.1v1.1h-1.1ZM27.3 49.2h1.1v1.1h-1.1ZM27.3 54.7h1.1v1.1h-1.1ZM27.3 55.8h1.1v1.1h-1.1ZM27.3 58h1.1v1.1h-1.1ZM27.3 59.1h1.1v1.1h-1.1ZM27.3 63.4h1.1v1.1h-1.1ZM27.3 68.9h1.1v1.1h-1.1ZM28.4 6.6h1.1v1.1h-1.1ZM28.4 8.8h1.1v1.1h-1.1ZM28.4 14.2h1.1v1.1h-1.1ZM28.4 17.5h1.1v1.1h-1.1ZM28.4 18.6h1.1v1.1h-1.1ZM28.4 26.2h1.1v1.1h-1.1ZM28.4 28.4h1.1v1.1h-1.1ZM28.4 32.8h1.1v1.1h-1.1ZM28.4 33.9h1.1v1.1h-1.1ZM28.4 36.1h1.1v1.1h-1.1ZM28.4 38.3h1.1v1.1h-1.1ZM28.4 39.4h1.1v1.1h-1.1ZM28.4 45.9h1.1v1.1h-1.1ZM28.4 48.1h1.1v1.1h-1.1ZM28.4 49.2h1.1v1.1h-1.1ZM28.4 50.3h1.1v1.1h-1.1ZM28.4 52.5h1.1v1.1h-1.1ZM28.4 55.8h1.1v1.1h-1.1ZM28.4 63.4h1.1v1.1h-1.1ZM28.4 65.6h1.1v1.1h-1.1ZM29.5 5.5h1.1v1.1h-1.1ZM29.5 7.7h1.1v1.1h-1.1ZM29.5 28.4h1.1v1.1h-1.1ZM29.5 39.4h1.1v1.1h-1.1ZM29.5 66.7h1.1v1.1h-1.1ZM29.5 67.8h1.1v1.1h-1.1ZM30.6 2.2h1.1v1.1h-1.1ZM30.6 9.8h1.1v1.1h-1.1ZM30.6 13.1h1.1v1.1h-1.1ZM30.6 14.2h1.1v1.1h-1.1ZM30.6 23h1.1v1.1h-1.1ZM30.6 29.5h1.1v1.1h-1.1ZM30.6 30.6h1.1v1.1h-1.1ZM30.6 32.8h1.1v1.1h-1.1ZM30.6 33.9h1.1v1.1h-1.1ZM30.6 35h1.1v1.1h-1.1ZM30.6 38.3h1.1v1.1h-1.1ZM30.6 42.7h1.1v1.1h-1.1ZM30.6 43.8h1.1v1.1h-1.1ZM30.6 44.8h1.1v1.1h-1.1ZM30.6 50.3h1.1v1.1h-1.1ZM30.6 55.8h1.1v1.1h-1.1ZM30.6 60.2h1.1v1.1h-1.1ZM30.6 61.2h1.1v1.1h-1.1ZM30.6 62.3h1.1v1.1h-1.1ZM30.6 67.8h1.1v1.1h-1.1ZM31.7 8.8h1.1v1.1h-1.1ZM31.7 17.5h1.1v1.1h-1.1ZM31.7 21.9h1.1v1.1h-1.1ZM31.7 27.3h1.1v1.1h-1.1ZM31.7 31.7h1.1v1.1h-1.1ZM31.7 32.8h1.1v1.1h-1.1ZM31.7 38.3h1.1v1.1h-1.1ZM31.7 40.5h1.1v1.1h-1.1ZM31.7 43.8h1.1v1.1h-1.1ZM31.7 54.7h1.1v1.1h-1.1ZM31.7 63.4h1.1v1.1h-1.1ZM31.7 64.5h1.1v1.1h-1.1ZM31.7 68.9h1.1v1.1h-1.1ZM32.8 2.2h1.1v1.1h-1.1ZM32.8 7.7h1.1v1.1h-1.1ZM32.8 9.8h1.1v1.1h-1.1ZM32.8 12h1.1v1.1h-1.1ZM32.8 15.3h1.1v1.1h-1.1ZM32.8 19.7h1.1v1.1h-1.1ZM32.8 26.2h1.1v1.1h-1.1ZM32.8 27.3h1.1v1.1h-1.1ZM32.8 31.7h1.1v1.1h-1.1ZM32.8 33.9h1.1v1.1h-1.1ZM32.8 45.9h1.1v1.1h-1.1ZM32.8 47h1.1v1.1h-1.1ZM32.8 61.2h1.1v1.1h-1.1ZM32.8 63.4h1.1v1.1h-1.1ZM32.8 65.6h1.1v1.1h-1.1ZM33.9 0h1.1v1.1h-1.1ZM33.9 1.1h1.1v1.1h-1.1ZM33.9 2.2h1.1v1.1h-1.1ZM33.9 13.1h1.1v1.1h-1.1ZM33.9 15.3h1.1v1.1h-1.1ZM33.9 21.9h1.1v1.1h-1.1ZM33.9 23h1.1v1.1h-1.1ZM33.9 28.4h1.1v1.1h-1.1ZM33.9 32.8h1.1v1.1h-1.1ZM33.9 38.3h1.1v1.1h-1.1ZM33.9 39.4h1.1v1.1h-1.1ZM33.9 40.5h1.1v1.1h-1.1ZM33.9 45.9h1.1v1.1h-1.1ZM33.9 47h1.1v1.1h-1.1ZM33.9 52.5h1.1v1.1h-1.1ZM33.9 55.8h1.1v1.1h-1.1ZM33.9 59.1h1.1v1.1h-1.1ZM33.9 61.2h1.1v1.1h-1.1ZM33.9 62.3h1.1v1.1h-1.1ZM35 3.3h1.1v1.1h-1.1ZM35 5.5h1.1v1.1h-1.1ZM35 17.5h1.1v1.1h-1.1ZM35 18.6h1.1v1.1h-1.1ZM35 20.8h1.1v1.1h-1.1ZM35 23h1.1v1.1h-1.1ZM35 40.5h1.1v1.1h-1.1ZM35 48.1h1.1v1.1h-1.1ZM36.1 1.1h1.1v1.1h-1.1ZM36.1 2.2h1.1v1.1h-1.1ZM36.1 5.5h1.1v1.1h-1.1ZM36.1 6.6h1.1v1.1h-1.1ZM36.1 7.7h1.1v1.1h-1.1ZM36.1 14.2h1.1v1.1h-1.1ZM36.1 19.7h1.1v1.1h-1.1ZM36.1 23h1.1v1.1h-1.1ZM36.1 30.6h1.1v1.1h-1.1ZM36.1 33.9h1.1v1.1h-1.1ZM36.1 37.2h1.1v1.1h-1.1ZM36.1 38.3h1.1v1.1h-1.1ZM36.1 40.5h1.1v1.1h-1.1ZM36.1 42.7h1.1v1.1h-1.1ZM36.1 45.9h1.1v1.1h-1.1ZM36.1 50.3h1.1v1.1h-1.1ZM36.1 51.4h1.1v1.1h-1.1ZM36.1 52.5h1.1v1.1h-1.1ZM36.1 56.9h1.1v1.1h-1.1ZM36.1 58h1.1v1.1h-1.1ZM36.1 63.4h1.1v1.1h-1.1ZM36.1 67.8h1.1v1.1h-1.1ZM37.2 2.2h1.1v1.1h-1.1ZM37.2 3.3h1.1v1.1h-1.1ZM37.2 6.6h1.1v1.1h-1.1ZM37.2 8.8h1.1v1.1h-1.1ZM37.2 9.8h1.1v1.1h-1.1ZM37.2 24.1h1.1v1.1h-1.1ZM37.2 26.2h1.1v1.1h-1.1ZM37.2 27.3h1.1v1.1h-1.1ZM37.2 30.6h1.1v1.1h-1.1ZM37.2 35h1.1v1.1h-1.1ZM37.2 37.2h1.1v1.1h-1.1ZM37.2 47h1.1v1.1h-1.1ZM37.2 50.3h1.1v1.1h-1.1ZM37.2 52.5h1.1v1.1h-1.1ZM37.2 61.2h1.1v1.1h-1.1ZM37.2 62.3h1.1v1.1h-1.1ZM37.2 63.4h1.1v1.1h-1.1ZM37.2 65.6h1.1v1.1h-1.1ZM37.2 66.7h1.1v1.1h-1.1ZM37.2 67.8h1.1v1.1h-1.1ZM38.3 3.3h1.1v1.1h-1.1ZM38.3 8.8h1.1v1.1h-1.1ZM38.3 13.1h1.1v1.1h-1.1ZM38.3 14.2h1.1v1.1h-1.1ZM38.3 15.3h1.1v1.1h-1.1ZM38.3 16.4h1.1v1.1h-1.1ZM38.3 18.6h1.1v1.1h-1.1ZM38.3 24.1h1.1v1.1h-1.1ZM38.3 27.3h1.1v1.1h-1.1ZM38.3 29.5h1.1v1.1h-1.1ZM38.3 36.1h1.1v1.1h-1.1ZM38.3 41.6h1.1v1.1h-1.1ZM38.3 43.8h1.1v1.1h-1.1ZM38.3 47h1.1v1.1h-1.1ZM38.3 48.1h1.1v1.1h-1.1ZM38.3 50.3h1.1v1.1h-1.1ZM38.3 52.5h1.1v1.1h-1.1ZM38.3 55.8h1.1v1.1h-1.1ZM38.3 59.1h1.1v1.1h-1.1ZM38.3 60.2h1.1v1.1h-1.1ZM38.3 61.2h1.1v1.1h-1.1ZM38.3 62.3h1.1v1.1h-1.1ZM38.3 65.6h1.1v1.1h-1.1ZM39.4 5.5h1.1v1.1h-1.1ZM39.4 6.6h1.1v1.1h-1.1ZM39.4 10.9h1.1v1.1h-1.1ZM39.4 14.2h1.1v1.1h-1.1ZM39.4 27.3h1.1v1.1h-1.1ZM39.4 31.7h1.1v1.1h-1.1ZM39.4 32.8h1.1v1.1h-1.1ZM39.4 33.9h1.1v1.1h-1.1ZM39.4 37.2h1.1v1.1h-1.1ZM39.4 43.8h1.1v1.1h-1.1ZM39.4 51.4h1.1v1.1h-1.1ZM39.4 55.8h1.1v1.1h-1.1ZM39.4 60.2h1.1v1.1h-1.1ZM39.4 62.3h1.1v1.1h-1.1ZM39.4 63.4h1.1v1.1h-1.1ZM40.5 5.5h1.1v1.1h-1.1ZM40.5 7.7h1.1v1.1h-1.1ZM40.5 10.9h1.1v1.1h-1.1ZM40.5 12h1.1v1.1h-1.1ZM40.5 23h1.1v1.1h-1.1ZM40.5 25.2h1.1v1.1h-1.1ZM40.5 26.2h1.1v1.1h-1.1ZM40.5 28.4h1.1v1.1h-1.1ZM40.5 30.6h1.1v1.1h-1.1ZM40.5 37.2h1.1v1.1h-1.1ZM40.5 39.4h1.1v1.1h-1.1ZM40.5 51.4h1.1v1.1h-1.1ZM40.5 54.7h1.1v1.1h-1.1ZM40.5 58h1.1v1.1h-1.1ZM40.5 59.1h1.1v1.1h-1.1ZM40.5 61.2h1.1v1.1h-1.1ZM40.5 62.3h1.1v1.1h-1.1ZM40.5 63.4h1.1v1.1h-1.1ZM41.6 1.1h1.1v1.1h-1.1ZM41.6 2.2h1.1v1.1h-1.1ZM41.6 3.3h1.1v1.1h-1.1ZM41.6 4.4h1.1v1.1h-1.1ZM41.6 5.5h1.1v1.1h-1.1ZM41.6 15.3h1.1v1.1h-1.1ZM41.6 17.5h1.1v1.1h-1.1ZM41.6 25.2h1.1v1.1h-1.1ZM41.6 26.2h1.1v1.1h-1.1ZM41.6 36.1h1.1v1.1h-1.1ZM41.6 37.2h1.1v1.1h-1.1ZM41.6 38.3h1.1v1.1h-1.1ZM41.6 40.5h1.1v1.1h-1.1ZM41.6 42.7h1.1v1.1h-1.1ZM41.6 43.8h1.1v1.1h-1.1ZM41.6 47h1.1v1.1h-1.1ZM41.6 51.4h1.1v1.1h-1.1ZM41.6 56.9h1.1v1.1h-1.1ZM41.6 59.1h1.1v1.1h-1.1ZM41.6 60.2h1.1v1.1h-1.1ZM41.6 61.2h1.1v1.1h-1.1ZM42.7 0h1.1v1.1h-1.1ZM42.7 2.2h1.1v1.1h-1.1ZM42.7 6.6h1.1v1.1h-1.1ZM42.7 7.7h1.1v1.1h-1.1ZM42.7 8.8h1.1v1.1h-1.1ZM42.7 10.9h1.1v1.1h-1.1ZM42.7 13.1h1.1v1.1h-1.1ZM42.7 23h1.1v1.1h-1.1ZM42.7 26.2h1.1v1.1h-1.1ZM42.7 27.3h1.1v1.1h-1.1ZM42.7 42.7h1.1v1.1h-1.1ZM42.7 44.8h1.1v1.1h-1.1ZM42.7 47h1.1v1.1h-1.1ZM42.7 48.1h1.1v1.1h-1.1ZM42.7 50.3h1.1v1.1h-1.1ZM42.7 66.7h1.1v1.1h-1.1ZM42.7 68.9h1.1v1.1h-1.1ZM43.8 3.3h1.1v1.1h-1.1ZM43.8 12h1.1v1.1h-1.1ZM43.8 13.1h1.1v1.1h-1.1ZM43.8 15.3h1.1v1.1h-1.1ZM43.8 18.6h1.1v1.1h-1.1ZM43.8 26.2h1.1v1.1h-1.1ZM43.8 28.4h1.1v1.1h-1.1ZM43.8 37.2h1.1v1.1h-1.1ZM43.8 39.4h1.1v1.1h-1.1ZM43.8 41.6h1.1v1.1h-1.1ZM43.8 51.4h1.1v1.1h-1.1ZM43.8 59.1h1.1v1.1h-1.1ZM43.8 62.3h1.1v1.1h-1.1ZM43.8 68.9h1.1v1.1h-1.1ZM44.8 8.8h1.1v1.1h-1.1ZM44.8 14.2h1.1v1.1h-1.1ZM44.8 42.7h1.1v1.1h-1.1ZM44.8 64.5h1.1v1.1h-1.1ZM44.8 66.7h1.1v1.1h-1.1ZM45.9 8.8h1.1v1.1h-1.1ZM45.9 9.8h1.1v1.1h-1.1ZM45.9 13.1h1.1v1.1h-1.1ZM45.9 20.8h1.1v1.1h-1.1ZM45.9 25.2h1.1v1.1h-1.1ZM45.9 32.8h1.1v1.1h-1.1ZM45.9 33.9h1.1v1.1h-1.1ZM45.9 40.5h1.1v1.1h-1.1ZM45.9 45.9h1.1v1.1h-1.1ZM45.9 47h1.1v1.1h-1.1ZM45.9 48.1h1.1v1.1h-1.1ZM45.9 50.3h1.1v1.1h-1.1ZM45.9 52.5h1.1v1.1h-1.1ZM45.9 53.6h1.1v1.1h-1.1ZM45.9 54.7h1.1v1.1h-1.1ZM45.9 59.1h1.1v1.1h-1.1ZM45.9 63.4h1.1v1.1h-1.1ZM45.9 67.8h1.1v1.1h-1.1ZM45.9 68.9h1.1v1.1h-1.1ZM47 0h1.1v1.1h-1.1ZM47 10.9h1.1v1.1h-1.1ZM47 13.1h1.1v1.1h-1.1ZM47 14.2h1.1v1.1h-1.1ZM47 17.5h1.1v1.1h-1.1ZM47 18.6h1.1v1.1h-1.1ZM47 26.2h1.1v1.1h-1.1ZM47 32.8h1.1v1.1h-1.1ZM47 41.6h1.1v1.1h-1.1ZM47 45.9h1.1v1.1h-1.1ZM47 51.4h1.1v1.1h-1.1ZM47 52.5h1.1v1.1h-1.1ZM47 56.9h1.1v1.1h-1.1ZM47 59.1h1.1v1.1h-1.1ZM47 60.2h1.1v1.1h-1.1ZM47 62.3h1.1v1.1h-1.1ZM48.1 10.9h1.1v1.1h-1.1ZM48.1 12h1.1v1.1h-1.1ZM48.1 15.3h1.1v1.1h-1.1ZM48.1 21.9h1.1v1.1h-1.1ZM48.1 26.2h1.1v1.1h-1.1ZM48.1 29.5h1.1v1.1h-1.1ZM48.1 35h1.1v1.1h-1.1ZM48.1 36.1h1.1v1.1h-1.1ZM48.1 38.3h1.1v1.1h-1.1ZM48.1 43.8h1.1v1.1h-1.1ZM48.1 44.8h1.1v1.1h-1.1ZM48.1 48.1h1.1v1.1h-1.1ZM48.1 49.2h1.1v1.1h-1.1ZM48.1 51.4h1.1v1.1h-1.1ZM48.1 52.5h1.1v1.1h-1.1ZM48.1 56.9h1.1v1.1h-1.1ZM48.1 65.6h1.1v1.1h-1.1ZM49.2 3.3h1.1v1.1h-1.1ZM49.2 7.7h1.1v1.1h-1.1ZM49.2 27.3h1.1v1.1h-1.1ZM49.2 28.4h1.1v1.1h-1.1ZM49.2 38.3h1.1v1.1h-1.1ZM49.2 40.5h1.1v1.1h-1.1ZM49.2 41.6h1.1v1.1h-1.1ZM49.2 44.8h1.1v1.1h-1.1ZM49.2 48.1h1.1v1.1h-1.1ZM49.2 49.2h1.1v1.1h-1.1ZM49.2 50.3h1.1v1.1h-1.1ZM49.2 52.5h1.1v1.1h-1.1ZM49.2 58h1.1v1.1h-1.1ZM49.2 59.1h1.1v1.1h-1.1ZM49.2 62.3h1.1v1.1h-1.1ZM49.2 63.4h1.1v1.1h-1.1ZM49.2 67.8h1.1v1.1h-1.1ZM50.3 2.2h1.1v1.1h-1.1ZM50.3 3.3h1.1v1.1h-1.1ZM50.3 8.8h1.1v1.1h-1.1ZM50.3 12h1.1v1.1h-1.1ZM50.3 13.1h1.1v1.1h-1.1ZM50.3 18.6h1.1v1.1h-1.1ZM50.3 23h1.1v1.1h-1.1ZM50.3 30.6h1.1v1.1h-1.1ZM50.3 33.9h1.1v1.1h-1.1ZM50.3 35h1.1v1.1h-1.1ZM50.3 37.2h1.1v1.1h-1.1ZM50.3 38.3h1.1v1.1h-1.1ZM50.3 42.7h1.1v1.1h-1.1ZM50.3 43.8h1.1v1.1h-1.1ZM50.3 45.9h1.1v1.1h-1.1ZM50.3 47h1.1v1.1h-1.1ZM50.3 49.2h1.1v1.1h-1.1ZM50.3 55.8h1.1v1.1h-1.1ZM50.3 60.2h1.1v1.1h-1.1ZM50.3 62.3h1.1v1.1h-1.1ZM50.3 65.6h1.1v1.1h-1.1ZM50.3 68.9h1.1v1.1h-1.1ZM51.4 1.1h1.1v1.1h-1.1ZM51.4 3.3h1.1v1.1h-1.1ZM51.4 5.5h1.1v1.1h-1.1ZM51.4 6.6h1.1v1.1h-1.1ZM51.4 8.8h1.1v1.1h-1.1ZM51.4 10.9h1.1v1.1h-1.1ZM51.4 12h1.1v1.1h-1.1ZM51.4 27.3h1.1v1.1h-1.1ZM51.4 30.6h1.1v1.1h-1.1ZM51.4 32.8h1.1v1.1h-1.1ZM51.4 38.3h1.1v1.1h-1.1ZM51.4 40.5h1.1v1.1h-1.1ZM51.4 41.6h1.1v1.1h-1.1ZM51.4 42.7h1.1v1.1h-1.1ZM51.4 43.8h1.1v1.1h-1.1ZM51.4 49.2h1.1v1.1h-1.1ZM51.4 50.3h1.1v1.1h-1.1ZM51.4 52.5h1.1v1.1h-1.1ZM51.4 56.9h1.1v1.1h-1.1ZM51.4 58h1.1v1.1h-1.1ZM51.4 61.2h1.1v1.1h-1.1ZM51.4 64.5h1.1v1.1h-1.1ZM51.4 65.6h1.1v1.1h-1.1ZM52.5 3.3h1.1v1.1h-1.1ZM52.5 10.9h1.1v1.1h-1.1ZM52.5 12h1.1v1.1h-1.1ZM52.5 15.3h1.1v1.1h-1.1ZM52.5 19.7h1.1v1.1h-1.1ZM52.5 26.2h1.1v1.1h-1.1ZM52.5 29.5h1.1v1.1h-1.1ZM52.5 31.7h1.1v1.1h-1.1ZM52.5 37.2h1.1v1.1h-1.1ZM52.5 39.4h1.1v1.1h-1.1ZM52.5 42.7h1.1v1.1h-1.1ZM52.5 44.8h1.1v1.1h-1.1ZM52.5 47h1.1v1.1h-1.1ZM52.5 49.2h1.1v1.1h-1.1ZM52.5 50.3h1.1v1.1h-1.1ZM52.5 56.9h1.1v1.1h-1.1ZM52.5 61.2h1.1v1.1h-1.1ZM52.5 65.6h1.1v1.1h-1.1ZM52.5 66.7h1.1v1.1h-1.1ZM53.6 9.8h1.1v1.1h-1.1ZM53.6 13.1h1.1v1.1h-1.1ZM53.6 18.6h1.1v1.1h-1.1ZM53.6 30.6h1.1v1.1h-1.1ZM53.6 35h1.1v1.1h-1.1ZM53.6 39.4h1.1v1.1h-1.1ZM53.6 41.6h1.1v1.1h-1.1ZM53.6 52.5h1.1v1.1h-1.1ZM53.6 65.6h1.1v1.1h-1.1ZM54.7 4.4h1.1v1.1h-1.1ZM54.7 10.9h1.1v1.1h-1.1ZM54.7 12h1.1v1.1h-1.1ZM54.7 23h1.1v1.1h-1.1ZM54.7 28.4h1.1v1.1h-1.1ZM54.7 30.6h1.1v1.1h-1.1ZM54.7 31.7h1.1v1.1h-1.1ZM54.7 37.2h1.1v1.1h-1.1ZM54.7 38.3h1.1v1.1h-1.1ZM54.7 42.7h1.1v1.1h-1.1ZM54.7 44.8h1.1v1.1h-1.1ZM54.7 45.9h1.1v1.1h-1.1ZM54.7 48.1h1.1v1.1h-1.1ZM54.7 52.5h1.1v1.1h-1.1ZM54.7 60.2h1.1v1.1h-1.1ZM54.7 61.2h1.1v1.1h-1.1ZM54.7 62.3h1.1v1.1h-1.1ZM54.7 68.9h1.1v1.1h-1.1ZM55.8 0h1.1v1.1h-1.1ZM55.8 2.2h1.1v1.1h-1.1ZM55.8 4.4h1.1v1.1h-1.1ZM55.8 8.8h1.1v1.1h-1.1ZM55.8 9.8h1.1v1.1h-1.1ZM55.8 10.9h1.1v1.1h-1.1ZM55.8 12h1.1v1.1h-1.1ZM55.8 13.1h1.1v1.1h-1.1ZM55.8 28.4h1.1v1.1h-1.1ZM55.8 29.5h1.1v1.1h-1.1ZM55.8 31.7h1.1v1.1h-1.1ZM55.8 33.9h1.1v1.1h-1.1ZM55.8 42.7h1.1v1.1h-1.1ZM55.8 49.2h1.1v1.1h-1.1ZM55.8 50.3h1.1v1.1h-1.1ZM55.8 60.2h1.1v1.1h-1.1ZM55.8 61.2h1.1v1.1h-1.1ZM55.8 62.3h1.1v1.1h-1.1ZM55.8 65.6h1.1v1.1h-1.1ZM56.9 4.4h1.1v1.1h-1.1ZM56.9 5.5h1.1v1.1h-1.1ZM56.9 6.6h1.1v1.1h-1.1ZM56.9 8.8h1.1v1.1h-1.1ZM56.9 12h1.1v1.1h-1.1ZM56.9 20.8h1.1v1.1h-1.1ZM56.9 26.2h1.1v1.1h-1.1ZM56.9 45.9h1.1v1.1h-1.1ZM56.9 48.1h1.1v1.1h-1.1ZM56.9 58h1.1v1.1h-1.1ZM56.9 62.3h1.1v1.1h-1.1ZM56.9 63.4h1.1v1.1h-1.1ZM56.9 68.9h1.1v1.1h-1.1ZM58 1.1h1.1v1.1h-1.1ZM58 2.2h1.1v1.1h-1.1ZM58 3.3h1.1v1.1h-1.1ZM58 4.4h1.1v1.1h-1.1ZM58 5.5h1.1v1.1h-1.1ZM58 12h1.1v1.1h-1.1ZM58 13.1h1.1v1.1h-1.1ZM58 25.2h1.1v1.1h-1.1ZM58 29.5h1.1v1.1h-1.1ZM58 35h1.1v1.1h-1.1ZM58 36.1h1.1v1.1h-1.1ZM58 40.5h1.1v1.1h-1.1ZM58 42.7h1.1v1.1h-1.1ZM58 43.8h1.1v1.1h-1.1ZM58 55.8h1.1v1.1h-1.1ZM58 62.3h1.1v1.1h-1.1ZM58 64.5h1.1v1.1h-1.1ZM59.1 1.1h1.1v1.1h-1.1ZM59.1 2.2h1.1v1.1h-1.1ZM59.1 10.9h1.1v1.1h-1.1ZM59.1 13.1h1.1v1.1h-1.1ZM59.1 18.6h1.1v1.1h-1.1ZM59.1 20.8h1.1v1.1h-1.1ZM59.1 24.1h1.1v1.1h-1.1ZM59.1 28.4h1.1v1.1h-1.1ZM59.1 41.6h1.1v1.1h-1.1ZM59.1 55.8h1.1v1.1h-1.1ZM59.1 56.9h1.1v1.1h-1.1ZM59.1 60.2h1.1v1.1h-1.1ZM59.1 62.3h1.1v1.1h-1.1ZM59.1 67.8h1.1v1.1h-1.1ZM60.2 3.3h1.1v1.1h-1.1ZM60.2 10.9h1.1v1.1h-1.1ZM60.2 13.1h1.1v1.1h-1.1ZM60.2 18.6h1.1v1.1h-1.1ZM60.2 19.7h1.1v1.1h-1.1ZM60.2 23h1.1v1.1h-1.1ZM60.2 24.1h1.1v1.1h-1.1ZM60.2 27.3h1.1v1.1h-1.1ZM60.2 32.8h1.1v1.1h-1.1ZM60.2 35h1.1v1.1h-1.1ZM60.2 38.3h1.1v1.1h-1.1ZM60.2 43.8h1.1v1.1h-1.1ZM60.2 45.9h1.1v1.1h-1.1ZM60.2 47h1.1v1.1h-1.1ZM60.2 55.8h1.1v1.1h-1.1ZM60.2 59.1h1.1v1.1h-1.1ZM60.2 60.2h1.1v1.1h-1.1ZM60.2 61.2h1.1v1.1h-1.1ZM60.2 63.4h1.1v1.1h-1.1ZM60.2 64.5h1.1v1.1h-1.1ZM61.2 3.3h1.1v1.1h-1.1ZM61.2 5.5h1.1v1.1h-1.1ZM61.2 12h1.1v1.1h-1.1ZM61.2 28.4h1.1v1.1h-1.1ZM61.2 30.6h1.1v1.1h-1.1ZM61.2 31.7h1.1v1.1h-1.1ZM61.2 36.1h1.1v1.1h-1.1ZM61.2 37.2h1.1v1.1h-1.1ZM61.2 51.4h1.1v1.1h-1.1ZM61.2 52.5h1.1v1.1h-1.1ZM61.2 54.7h1.1v1.1h-1.1ZM61.2 56.9h1.1v1.1h-1.1ZM61.2 58h1.1v1.1h-1.1ZM61.2 68.9h1.1v1.1h-1.1ZM62.3 1.1h1.1v1.1h-1.1ZM62.3 2.2h1.1v1.1h-1.1ZM62.3 4.4h1.1v1.1h-1.1ZM62.3 10.9h1.1v1.1h-1.1ZM62.3 13.1h1.1v1.1h-1.1ZM62.3 15.3h1.1v1.1h-1.1ZM62.3 17.5h1.1v1.1h-1.1ZM62.3 18.6h1.1v1.1h-1.1ZM62.3 38.3h1.1v1.1h-1.1ZM62.3 39.4h1.1v1.1h-1.1ZM62.3 40.5h1.1v1.1h-1.1ZM62.3 42.7h1.1v1.1h-1.1ZM62.3 47h1.1v1.1h-1.1ZM62.3 48.1h1.1v1.1h-1.1ZM62.3 49.2h1.1v1.1h-1.1ZM62.3 50.3h1.1v1.1h-1.1ZM62.3 56.9h1.1v1.1h-1.1ZM62.3 58h1.1v1.1h-1.1ZM62.3 59.1h1.1v1.1h-1.1ZM62.3 63.4h1.1v1.1h-1.1ZM62.3 68.9h1.1v1.1h-1.1ZM63.4 1.1h1.1v1.1h-1.1ZM63.4 2.2h1.1v1.1h-1.1ZM63.4 3.3h1.1v1.1h-1.1ZM63.4 8.8h1.1v1.1h-1.1ZM63.4 15.3h1.1v1.1h-1.1ZM63.4 18.6h1.1v1.1h-1.1ZM63.4 25.2h1.1v1.1h-1.1ZM63.4 27.3h1.1v1.1h-1.1ZM63.4 33.9h1.1v1.1h-1.1ZM63.4 37.2h1.1v1.1h-1.1ZM63.4 39.4h1.1v1.1h-1.1ZM63.4 52.5h1.1v1.1h-1.1ZM63.4 54.7h1.1v1.1h-1.1ZM63.4 56.9h1.1v1.1h-1.1ZM63.4 61.2h1.1v1.1h-1.1ZM63.4 62.3h1.1v1.1h-1.1ZM63.4 64.5h1.1v1.1h-1.1ZM63.4 67.8h1.1v1.1h-1.1ZM63.4 68.9h1.1v1.1h-1.1ZM64.5 27.3h1.1v1.1h-1.1ZM64.5 49.2h1.1v1.1h-1.1ZM64.5 51.4h1.1v1.1h-1.1ZM64.5 54.7h1.1v1.1h-1.1ZM64.5 55.8h1.1v1.1h-1.1ZM64.5 60.2h1.1v1.1h-1.1ZM64.5 62.3h1.1v1.1h-1.1ZM65.6 2.2h1.1v1.1h-1.1ZM65.6 6.6h1.1v1.1h-1.1ZM65.6 8.8h1.1v1.1h-1.1ZM65.6 12h1.1v1.1h-1.1ZM65.6 26.2h1.1v1.1h-1.1ZM65.6 27.3h1.1v1.1h-1.1ZM65.6 30.6h1.1v1.1h-1.1ZM65.6 32.8h1.1v1.1h-1.1ZM65.6 33.9h1.1v1.1h-1.1ZM65.6 44.8h1.1v1.1h-1.1ZM65.6 49.2h1.1v1.1h-1.1ZM65.6 50.3h1.1v1.1h-1.1ZM65.6 61.2h1.1v1.1h-1.1ZM65.6 68.9h1.1v1.1h-1.1ZM66.7 17.5h1.1v1.1h-1.1ZM66.7 18.6h1.1v1.1h-1.1ZM66.7 26.2h1.1v1.1h-1.1ZM66.7 42.7h1.1v1.1h-1.1ZM66.7 48.1h1.1v1.1h-1.1ZM66.7 55.8h1.1v1.1h-1.1ZM66.7 62.3h1.1v1.1h-1.1ZM66.7 66.7h1.1v1.1h-1.1ZM67.8 1.1h1.1v1.1h-1.1ZM67.8 19.7h1.1v1.1h-1.1ZM67.8 27.3h1.1v1.1h-1.1ZM67.8 37.2h1.1v1.1h-1.1ZM67.8 40.5h1.1v1.1h-1.1ZM67.8 48.1h1.1v1.1h-1.1ZM67.8 49.2h1.1v1.1h-1.1ZM67.8 52.5h1.1v1.1h-1.1ZM67.8 59.1h1.1v1.1h-1.1ZM67.8 61.2h1.1v1.1h-1.1ZM67.8 65.6h1.1v1.1h-1.1ZM68.9 1.1h1.1v1.1h-1.1ZM68.9 7.7h1.1v1.1h-1.1ZM68.9 13.1h1.1v1.1h-1.1ZM68.9 19.7h1.1v1.1h-1.1ZM68.9 20.8h1.1v1.1h-1.1ZM68.9 24.1h1.1v1.1h-1.1ZM68.9 25.2h1.1v1.1h-1.1ZM68.9 29.5h1.1v1.1h-1.1ZM68.9 33.9h1.1v1.1h-1.1ZM68.9 37.2h1.1v1.1h-1.1ZM68.9 42.7h1.1v1.1h-1.1ZM68.9 45.9h1.1v1.1h-1.1ZM68.9 47h1.1v1.1h-1.1ZM68.9 50.3h1.1v1.1h-1.1ZM68.9 51.4h1.1v1.1h-1.1ZM68.9 54.7h1.1v1.1h-1.1ZM68.9 59.1h1.1v1.1h-1.1ZM68.9 62.3h1.1v1.1h-1.1ZM68.9 63.4h1.1v1.1h-1.1ZM68.9 65.6h1.1v1.1h-1.1Z" fill="#e2c4e7"/><path d="M0 2.2h1.1v1.1h-1.1ZM0 5.5h1.1v1.1h-1.1ZM0 7.7h1.1v1.1h-1.1ZM0 9.8h1.1v1.1h-1.1ZM0 18.6h1.1v1.1h-1.1ZM0 29.5h1.1v1.1h-1.1ZM0 35h1.1v1.1h-1.1ZM0 49.2h1.1v1.1h-1.1ZM1.1 2.2h1.1v1.1h-1.1ZM1.1 5.5h1.1v1.1h-1.1ZM1.1 9.8h1.1v1.1h-1.1ZM1.1 13.1h1.1v1.1h-1.1ZM1.1 26.2h1.1v1.1h-1.1ZM1.1 32.8h1.1v1.1h-1.1ZM1.1 54.7h1.1v1.1h-1.1ZM1.1 55.8h1.1v1.1h-1.1ZM1.1 58h1.1v1.1h-1.1ZM1.1 59.1h1.1v1.1h-1.1ZM1.1 60.2h1.1v1.1h-1.1ZM2.2 2.2h1.1v1.1h-1.1ZM2.2 8.8h1.1v1.1h-1.1ZM2.2 14.2h1.1v1.1h-1.1ZM2.2 25.2h1.1v1.1h-1.1ZM2.2 32.8h1.1v1.1h-1.1ZM2.2 33.9h1.1v1.1h-1.1ZM2.2 37.2h1.1v1.1h-1.1ZM2.2 42.7h1.1v1.1h-1.1ZM2.2 55.8h1.1v1.1h-1.1ZM2.2 56.9h1.1v1.1h-1.1ZM2.2 58h1.1v1.1h-1.1ZM2.2 59.1h1.1v1.1h-1.1ZM2.2 68.9h1.1v1.1h-1.1ZM3.3 9.8h1.1v1.1h-1.1ZM3.3 12h1.1v1.1h-1.1ZM3.3 14.2h1.1v1.1h-1.1ZM3.3 20.8h1.1v1.1h-1.1ZM3.3 23h1.1v1.1h-1.1ZM3.3 26.2h1.1v1.1h-1.1ZM3.3 29.5h1.1v1.1h-1.1ZM3.3 31.7h1.1v1.1h-1.1ZM3.3 33.9h1.1v1.1h-1.1ZM3.3 50.3h1.1v1.1h-1.1ZM3.3 52.5h1.1v1.1h-1.1ZM3.3 55.8h1.1v1.1h-1.1ZM3.3 58h1.1v1.1h-1.1ZM3.3 62.3h1.1v1.1h-1.1ZM3.3 65.6h1.1v1.1h-1.1ZM4.4 1.1h1.1v1.1h-1.1ZM4.4 8.8h1.1v1.1h-1.1ZM4.4 12h1.1v1.1h-1.1ZM4.4 14.2h1.1v1.1h-1.1ZM4.4 17.5h1.1v1.1h-1.1ZM4.4 21.9h1.1v1.1h-1.1ZM4.4 23h1.1v1.1h-1.1ZM4.4 36.1h1.1v1.1h-1.1ZM4.4 43.8h1.1v1.1h-1.1ZM4.4 47h1.1v1.1h-1.1ZM4.4 50.3h1.1v1.1h-1.1ZM4.4 65.6h1.1v1.1h-1.1ZM5.5 0h1.1v1.1h-1.1ZM5.5 6.6h1.1v1.1h-1.1ZM5.5 12h1.1v1.1h-1.1ZM5.5 13.1h1.1v1.1h-1.1ZM5.5 18.6h1.1v1.1h-1.1ZM5.5 23h1.1v1.1h-1.1ZM5.5 28.4h1.1v1.1h-1.1ZM5.5 31.7h1.1v1.1h-1.1ZM5.5 32.8h1.1v1.1h-1.1ZM5.5 33.9h1.1v1.1h-1.1ZM5.5 40.5h1.1v1.1h-1.1ZM5.5 42.7h1.1v1.1h-1.1ZM5.5 54.7h1.1v1.1h-1.1ZM6.6 2.2h1.1v1.1h-1.1ZM6.6 6.6h1.1v1.1h-1.1ZM6.6 9.8h1.1v1.1h-1.1ZM6.6 13.1h1.1v1.1h-1.1ZM6.6 20.8h1.1v1.1h-1.1ZM6.6 21.9h1.1v1.1h-1.1ZM6.6 23h1.1v1.1h-1.1ZM6.6 26.2h1.1v1.1h-1.1ZM6.6 31.7h1.1v1.1h-1.1ZM6.6 33.9h1.1v1.1h-1.1ZM6.6 37.2h1.1v1.1h-1.1ZM6.6 42.7h1.1v1.1h-1.1ZM6.6 54.7h1.1v1.1h-1.1ZM6.6 61.2h1.1v1.1h-1.1ZM6.6 66.7h1.1v1.1h-1.1ZM7.7 13.1h1.1v1.1h-1.1ZM7.7 20.8h1.1v1.1h-1.1ZM7.7 47h1.1v1.1h-1.1ZM8.8 1.1h1.1v1.1h-1.1ZM8.8 2.2h1.1v1.1h-1.1ZM8.8 14.2h1.1v1.1h-1.1ZM8.8 20.8h1.1v1.1h-1.1ZM8.8 24.1h1.1v1.1h-1.1ZM8.8 26.2h1.1v1.1h-1.1ZM8.8 28.4h1.1v1.1h-1.1ZM8.8 32.8h1.1v1.1h-1.1ZM8.8 40.5h1.1v1.1h-1.1ZM8.8 45.9h1.1v1.1h-1.1ZM8.8 48.1h1.1v1.1h-1.1ZM8.8 55.8h1.1v1.1h-1.1ZM8.8 66.7h1.1v1.1h-1.1ZM9.8 2.2h1.1v1.1h-1.1ZM9.8 4.4h1.1v1.1h-1.1ZM9.8 8.8h1.1v1.1h-1.1ZM9.8 13.1h1.1v1.1h-1.1ZM9.8 14.2h1.1v1.1h-1.1ZM9.8 23h1.1v1.1h-1.1ZM9.8 25.2h1.1v1.1h-1.1ZM9.8 30.6h1.1v1.1h-1.1ZM9.8 31.7h1.1v1.1h-1.1ZM9.8 37.2h1.1v1.1h-1.1ZM9.8 41.6h1.1v1.1h-1.1ZM9.8 52.5h1.1v1.1h-1.1ZM9.8 56.9h1.1v1.1h-1.1ZM9.8 61.2h1.1v1.1h-1.1ZM9.8 63.4h1.1v1.1h-1.1ZM9.8 64.5h1.1v1.1h-1.1ZM9.8 68.9h1.1v1.1h-1.1ZM10.9 0h1.1v1.1h-1.1ZM10.9 1.1h1.1v1.1h-1.1ZM10.9 8.8h1.1v1.1h-1.1ZM10.9 9.8h1.1v1.1h-1.1ZM10.9 18.6h1.1v1.1h-1.1ZM10.9 20.8h1.1v1.1h-1.1ZM10.9 21.9h1.1v1.1h-1.1ZM10.9 39.4h1.1v1.1h-1.1ZM10.9 41.6h1.1v1.1h-1.1ZM10.9 45.9h1.1v1.1h-1.1ZM10.9 47h1.1v1.1h-1.1ZM10.9 56.9h1.1v1.1h-1.1ZM10.9 67.8h1.1v1.1h-1.1ZM12 8.8h1.1v1.1h-1.1ZM12 12h1.1v1.1h-1.1ZM12 14.2h1.1v1.1h-1.1ZM12 18.6h1.1v1.1h-1.1ZM12 20.8h1.1v1.1h-1.1ZM12 27.3h1.1v1.1h-1.1ZM12 31.7h1.1v1.1h-1.1ZM12 35h1.1v1.1h-1.1ZM12 39.4h1.1v1.1h-1.1ZM12 43.8h1.1v1.1h-1.1ZM12 49.2h1.1v1.1h-1.1ZM12 53.6h1.1v1.1h-1.1ZM12 56.9h1.1v1.1h-1.1ZM12 60.2h1.1v1.1h-1.1ZM13.1 5.5h1.1v1.1h-1.1ZM13.1 37.2h1.1v1.1h-1.1ZM13.1 39.4h1.1v1.1h-1.1ZM13.1 41.6h1.1v1.1h-1.1ZM13.1 42.7h1.1v1.1h-1.1ZM13.1 45.9h1.1v1.1h-1.1ZM13.1 52.5h1.1v1.1h-1.1ZM13.1 59.1h1.1v1.1h-1.1ZM13.1 61.2h1.1v1.1h-1.1ZM14.2 5.5h1.1v1.1h-1.1ZM14.2 10.9h1.1v1.1h-1.1ZM14.2 13.1h1.1v1.1h-1.1ZM14.2 21.9h1.1v1.1h-1.1ZM14.2 23h1.1v1.1h-1.1ZM14.2 32.8h1.1v1.1h-1.1ZM14.2 37.2h1.1v1.1h-1.1ZM14.2 49.2h1.1v1.1h-1.1ZM14.2 63.4h1.1v1.1h-1.1ZM15.3 1.1h1.1v1.1h-1.1ZM15.3 2.2h1.1v1.1h-1.1ZM15.3 8.8h1.1v1.1h-1.1ZM15.3 10.9h1.1v1.1h-1.1ZM15.3 18.6h1.1v1.1h-1.1ZM15.3 24.1h1.1v1.1h-1.1ZM15.3 45.9h1.1v1.1h-1.1ZM15.3 47h1.1v1.1h-1.1ZM15.3 51.4h1.1v1.1h-1.1ZM15.3 54.7h1.1v1.1h-1.1ZM15.3 60.2h1.1v1.1h-1.1ZM15.3 61.2h1.1v1.1h-1.1ZM15.3 63.4h1.1v1.1h-1.1ZM15.3 66.7h1.1v1.1h-1.1ZM16.4 5.5h1.1v1.1h-1.1ZM16.4 13.1h1.1v1.1h-1.1ZM16.4 20.8h1.1v1.1h-1.1ZM16.4 36.1h1.1v1.1h-1.1ZM16.4 37.2h1.1v1.1h-1.1ZM16.4 41.6h1.1v1.1h-1.1ZM16.4 44.8h1.1v1.1h-1.1ZM17.5 1.1h1.1v1.1h-1.1ZM17.5 4.4h1.1v1.1h-1.1ZM17.5 5.5h1.1v1.1h-1.1ZM17.5 10.9h1.1v1.1h-1.1ZM17.5 15.3h1.1v1.1h-1.1ZM17.5 16.4h1.1v1.1h-1.1ZM17.5 17.5h1.1v1.1h-1.1ZM17.5 19.7h1.1v1.1h-1.1ZM17.5 23h1.1v1.1h-1.1ZM17.5 25.2h1.1v1.1h-1.1ZM17.5 37.2h1.1v1.1h-1.1ZM17.5 45.9h1.1v1.1h-1.1ZM17.5 51.4h1.1v1.1h-1.1ZM17.5 54.7h1.1v1.1h-1.1ZM17.5 55.8h1.1v1.1h-1.1ZM17.5 62.3h1.1v1.1h-1.1ZM17.5 63.4h1.1v1.1h-1.1ZM18.6 2.2h1.1v1.1h-1.1ZM18.6 5.5h1.1v1.1h-1.1ZM18.6 6.6h1.1v1.1h-1.1ZM18.6 8.8h1.1v1.1h-1.1ZM18.6 25.2h1.1v1.1h-1.1ZM18.6 26.2h1.1v1.1h-1.1ZM18.6 28.4h1.1v1.1h-1.1ZM18.6 29.5h1.1v1.1h-1.1ZM18.6 48.1h1.1v1.1h-1.1ZM18.6 49.2h1.1v1.1h-1.1ZM18.6 58h1.1v1.1h-1.1ZM18.6 59.1h1.1v1.1h-1.1ZM18.6 68.9h1.1v1.1h-1.1ZM19.7 1.1h1.1v1.1h-1.1ZM19.7 3.3h1.1v1.1h-1.1ZM19.7 17.5h1.1v1.1h-1.1ZM19.7 20.8h1.1v1.1h-1.1ZM19.7 27.3h1.1v1.1h-1.1ZM19.7 28.4h1.1v1.1h-1.1ZM19.7 30.6h1.1v1.1h-1.1ZM19.7 33.9h1.1v1.1h-1.1ZM19.7 38.3h1.1v1.1h-1.1ZM19.7 43.8h1.1v1.1h-1.1ZM19.7 45.9h1.1v1.1h-1.1ZM19.7 52.5h1.1v1.1h-1.1ZM19.7 56.9h1.1v1.1h-1.1ZM19.7 61.2h1.1v1.1h-1.1ZM20.8 1.1h1.1v1.1h-1.1ZM20.8 27.3h1.1v1.1h-1.1ZM20.8 29.5h1.1v1.1h-1.1ZM20.8 30.6h1.1v1.1h-1.1ZM20.8 31.7h1.1v1.1h-1.1ZM20.8 32.8h1.1v1.1h-1.1ZM20.8 53.6h1.1v1.1h-1.1ZM20.8 55.8h1.1v1.1h-1.1ZM20.8 56.9h1.1v1.1h-1.1ZM20.8 65.6h1.1v1.1h-1.1ZM21.9 2.2h1.1v1.1h-1.1ZM21.9 4.4h1.1v1.1h-1.1ZM21.9 17.5h1.1v1.1h-1.1ZM21.9 42.7h1.1v1.1h-1.1ZM21.9 44.8h1.1v1.1h-1.1ZM21.9 54.7h1.1v1.1h-1.1ZM21.9 58h1.1v1.1h-1.1ZM21.9 68.9h1.1v1.1h-1.1ZM23 1.1h1.1v1.1h-1.1ZM23 3.3h1.1v1.1h-1.1ZM23 4.4h1.1v1.1h-1.1ZM23 5.5h1.1v1.1h-1.1ZM23 7.7h1.1v1.1h-1.1ZM23 9.8h1.1v1.1h-1.1ZM23 10.9h1.1v1.1h-1.1ZM23 20.8h1.1v1.1h-1.1ZM23 27.3h1.1v1.1h-1.1ZM23 28.4h1.1v1.1h-1.1ZM23 32.8h1.1v1.1h-1.1ZM23 39.4h1.1v1.1h-1.1ZM23 40.5h1.1v1.1h-1.1ZM23 45.9h1.1v1.1h-1.1ZM23 51.4h1.1v1.1h-1.1ZM23 56.9h1.1v1.1h-1.1ZM24.1 7.7h1.1v1.1h-1.1ZM24.1 12h1.1v1.1h-1.1ZM24.1 17.5h1.1v1.1h-1.1ZM24.1 19.7h1.1v1.1h-1.1ZM24.1 21.9h1.1v1.1h-1.1ZM24.1 38.3h1.1v1.1h-1.1ZM24.1 48.1h1.1v1.1h-1.1ZM25.2 1.1h1.1v1.1h-1.1ZM25.2 10.9h1.1v1.1h-1.1ZM25.2 15.3h1.1v1.1h-1.1ZM25.2 33.9h1.1v1.1h-1.1ZM25.2 38.3h1.1v1.1h-1.1ZM25.2 42.7h1.1v1.1h-1.1ZM25.2 47h1.1v1.1h-1.1ZM25.2 50.3h1.1v1.1h-1.1ZM25.2 51.4h1.1v1.1h-1.1ZM25.2 55.8h1.1v1.1h-1.1ZM25.2 58h1.1v1.1h-1.1ZM26.2 0h1.1v1.1h-1.1ZM26.2 2.2h1.1v1.1h-1.1ZM26.2 8.8h1.1v1.1h-1.1ZM26.2 9.8h1.1v1.1h-1.1ZM26.2 17.5h1.1v1.1h-1.1ZM26.2 19.7h1.1v1.1h-1.1ZM26.2 25.2h1.1v1.1h-1.1ZM26.2 32.8h1.1v1.1h-1.1ZM26.2 38.3h1.1v1.1h-1.1ZM26.2 40.5h1.1v1.1h-1.1ZM26.2 41.6h1.1v1.1h-1.1ZM26.2 47h1.1v1.1h-1.1ZM27.3 6.6h1.1v1.1h-1.1ZM27.3 10.9h1.1v1.1h-1.1ZM27.3 13.1h1.1v1.1h-1.1ZM27.3 23h1.1v1.1h-1.1ZM27.3 25.2h1.1v1.1h-1.1ZM27.3 29.5h1.1v1.1h-1.1ZM27.3 31.7h1.1v1.1h-1.1ZM27.3 32.8h1.1v1.1h-1.1ZM27.3 33.9h1.1v1.1h-1.1ZM27.3 39.4h1.1v1.1h-1.1ZM27.3 47h1.1v1.1h-1.1ZM27.3 48.1h1.1v1.1h-1.1ZM27.3 51.4h1.1v1.1h-1.1ZM27.3 65.6h1.1v1.1h-1.1ZM27.3 67.8h1.1v1.1h-1.1ZM28.4 7.7h1.1v1.1h-1.1ZM28.4 13.1h1.1v1.1h-1.1ZM28.4 15.3h1.1v1.1h-1.1ZM28.4 19.7h1.1v1.1h-1.1ZM28.4 23h1.1v1.1h-1.1ZM28.4 25.2h1.1v1.1h-1.1ZM28.4 29.5h1.1v1.1h-1.1ZM28.4 31.7h1.1v1.1h-1.1ZM28.4 42.7h1.1v1.1h-1.1ZM28.4 56.9h1.1v1.1h-1.1ZM28.4 58h1.1v1.1h-1.1ZM28.4 60.2h1.1v1.1h-1.1ZM28.4 68.9h1.1v1.1h-1.1ZM29.5 12h1.1v1.1h-1.1ZM29.5 16.4h1.1v1.1h-1.1ZM29.5 27.3h1.1v1.1h-1.1ZM29.5 38.3h1.1v1.1h-1.1ZM29.5 47h1.1v1.1h-1.1ZM29.5 54.7h1.1v1.1h-1.1ZM29.5 63.4h1.1v1.1h-1.1ZM30.6 3.3h1.1v1.1h-1.1ZM30.6 4.4h1.1v1.1h-1.1ZM30.6 5.5h1.1v1.1h-1.1ZM30.6 12h1.1v1.1h-1.1ZM30.6 18.6h1.1v1.1h-1.1ZM30.6 20.8h1.1v1.1h-1.1ZM30.6 25.2h1.1v1.1h-1.1ZM30.6 31.7h1.1v1.1h-1.1ZM30.6 39.4h1.1v1.1h-1.1ZM30.6 40.5h1.1v1.1h-1.1ZM30.6 48.1h1.1v1.1h-1.1ZM30.6 49.2h1.1v1.1h-1.1ZM30.6 54.7h1.1v1.1h-1.1ZM30.6 59.1h1.1v1.1h-1.1ZM30.6 63.4h1.1v1.1h-1.1ZM30.6 68.9h1.1v1.1h-1.1ZM31.7 1.1h1.1v1.1h-1.1ZM31.7 3.3h1.1v1.1h-1.1ZM31.7 5.5h1.1v1.1h-1.1ZM31.7 12h1.1v1.1h-1.1ZM31.7 14.2h1.1v1.1h-1.1ZM31.7 18.6h1.1v1.1h-1.1ZM31.7 19.7h1.1v1.1h-1.1ZM31.7 28.4h1.1v1.1h-1.1ZM31.7 33.9h1.1v1.1h-1.1ZM31.7 36.1h1.1v1.1h-1.1ZM31.7 39.4h1.1v1.1h-1.1ZM31.7 41.6h1.1v1.1h-1.1ZM31.7 42.7h1.1v1.1h-1.1ZM31.7 49.2h1.1v1.1h-1.1ZM31.7 50.3h1.1v1.1h-1.1ZM31.7 52.5h1.1v1.1h-1.1ZM31.7 53.6h1.1v1.1h-1.1ZM31.7 56.9h1.1v1.1h-1.1ZM31.7 60.2h1.1v1.1h-1.1ZM31.7 61.2h1.1v1.1h-1.1ZM31.7 62.3h1.1v1.1h-1.1ZM31.7 65.6h1.1v1.1h-1.1ZM31.7 66.7h1.1v1.1h-1.1ZM31.7 67.8h1.1v1.1h-1.1ZM32.8 0h1.1v1.1h-1.1ZM32.8 3.3h1.1v1.1h-1.1ZM32.8 6.6h1.1v1.1h-1.1ZM32.8 10.9h1.1v1.1h-1.1ZM32.8 13.1h1.1v1.1h-1.1ZM32.8 18.6h1.1v1.1h-1.1ZM32.8 25.2h1.1v1.1h-1.1ZM32.8 37.2h1.1v1.1h-1.1ZM32.8 38.3h1.1v1.1h-1.1ZM32.8 39.4h1.1v1.1h-1.1ZM32.8 40.5h1.1v1.1h-1.1ZM32.8 41.6h1.1v1.1h-1.1ZM32.8 43.8h1.1v1.1h-1.1ZM32.8 55.8h1.1v1.1h-1.1ZM32.8 59.1h1.1v1.1h-1.1ZM32.8 60.2h1.1v1.1h-1.1ZM32.8 62.3h1.1v1.1h-1.1ZM32.8 67.8h1.1v1.1h-1.1ZM33.9 4.4h1.1v1.1h-1.1ZM33.9 5.5h1.1v1.1h-1.1ZM33.9 8.8h1.1v1.1h-1.1ZM33.9 9.8h1.1v1.1h-1.1ZM33.9 17.5h1.1v1.1h-1.1ZM33.9 19.7h1.1v1.1h-1.1ZM33.9 25.2h1.1v1.1h-1.1ZM33.9 31.7h1.1v1.1h-1.1ZM33.9 36.1h1.1v1.1h-1.1ZM33.9 53.6h1.1v1.1h-1.1ZM33.9 60.2h1.1v1.1h-1.1ZM35 9.8h1.1v1.1h-1.1ZM35 31.7h1.1v1.1h-1.1ZM35 43.8h1.1v1.1h-1.1ZM35 45.9h1.1v1.1h-1.1ZM35 52.5h1.1v1.1h-1.1ZM35 56.9h1.1v1.1h-1.1ZM35 61.2h1.1v1.1h-1.1ZM35 62.3h1.1v1.1h-1.1ZM36.1 8.8h1.1v1.1h-1.1ZM36.1 9.8h1.1v1.1h-1.1ZM36.1 10.9h1.1v1.1h-1.1ZM36.1 12h1.1v1.1h-1.1ZM36.1 20.8h1.1v1.1h-1.1ZM36.1 25.2h1.1v1.1h-1.1ZM36.1 28.4h1.1v1.1h-1.1ZM36.1 48.1h1.1v1.1h-1.1ZM36.1 55.8h1.1v1.1h-1.1ZM36.1 61.2h1.1v1.1h-1.1ZM36.1 64.5h1.1v1.1h-1.1ZM37.2 1.1h1.1v1.1h-1.1ZM37.2 5.5h1.1v1.1h-1.1ZM37.2 20.8h1.1v1.1h-1.1ZM37.2 28.4h1.1v1.1h-1.1ZM37.2 31.7h1.1v1.1h-1.1ZM37.2 42.7h1.1v1.1h-1.1ZM37.2 43.8h1.1v1.1h-1.1ZM37.2 51.4h1.1v1.1h-1.1ZM38.3 1.1h1.1v1.1h-1.1ZM38.3 2.2h1.1v1.1h-1.1ZM38.3 4.4h1.1v1.1h-1.1ZM38.3 5.5h1.1v1.1h-1.1ZM38.3 19.7h1.1v1.1h-1.1ZM38.3 23h1.1v1.1h-1.1ZM38.3 42.7h1.1v1.1h-1.1ZM38.3 49.2h1.1v1.1h-1.1ZM38.3 54.7h1.1v1.1h-1.1ZM38.3 58h1.1v1.1h-1.1ZM38.3 67.8h1.1v1.1h-1.1ZM39.4 4.4h1.1v1.1h-1.1ZM39.4 15.3h1.1v1.1h-1.1ZM39.4 17.5h1.1v1.1h-1.1ZM39.4 18.6h1.1v1.1h-1.1ZM39.4 24.1h1.1v1.1h-1.1ZM39.4 28.4h1.1v1.1h-1.1ZM39.4 39.4h1.1v1.1h-1.1ZM39.4 40.5h1.1v1.1h-1.1ZM39.4 42.7h1.1v1.1h-1.1ZM39.4 47h1.1v1.1h-1.1ZM39.4 50.3h1.1v1.1h-1.1ZM39.4 56.9h1.1v1.1h-1.1ZM39.4 58h1.1v1.1h-1.1ZM39.4 64.5h1.1v1.1h-1.1ZM39.4 65.6h1.1v1.1h-1.1ZM40.5 4.4h1.1v1.1h-1.1ZM40.5 9.8h1.1v1.1h-1.1ZM40.5 13.1h1.1v1.1h-1.1ZM40.5 15.3h1.1v1.1h-1.1ZM40.5 20.8h1.1v1.1h-1.1ZM40.5 32.8h1.1v1.1h-1.1ZM40.5 36.1h1.1v1.1h-1.1ZM40.5 38.3h1.1v1.1h-1.1ZM40.5 45.9h1.1v1.1h-1.1ZM40.5 56.9h1.1v1.1h-1.1ZM40.5 60.2h1.1v1.1h-1.1ZM41.6 9.8h1.1v1.1h-1.1ZM41.6 12h1.1v1.1h-1.1ZM41.6 13.1h1.1v1.1h-1.1ZM41.6 18.6h1.1v1.1h-1.1ZM41.6 19.7h1.1v1.1h-1.1ZM41.6 28.4h1.1v1.1h-1.1ZM41.6 30.6h1.1v1.1h-1.1ZM41.6 31.7h1.1v1.1h-1.1ZM41.6 32.8h1.1v1.1h-1.1ZM41.6 41.6h1.1v1.1h-1.1ZM41.6 64.5h1.1v1.1h-1.1ZM42.7 5.5h1.1v1.1h-1.1ZM42.7 9.8h1.1v1.1h-1.1ZM42.7 12h1.1v1.1h-1.1ZM42.7 14.2h1.1v1.1h-1.1ZM42.7 15.3h1.1v1.1h-1.1ZM42.7 25.2h1.1v1.1h-1.1ZM42.7 36.1h1.1v1.1h-1.1ZM42.7 38.3h1.1v1.1h-1.1ZM42.7 39.4h1.1v1.1h-1.1ZM42.7 41.6h1.1v1.1h-1.1ZM42.7 43.8h1.1v1.1h-1.1ZM42.7 45.9h1.1v1.1h-1.1ZM42.7 55.8h1.1v1.1h-1.1ZM42.7 64.5h1.1v1.1h-1.1ZM43.8 0h1.1v1.1h-1.1ZM43.8 1.1h1.1v1.1h-1.1ZM43.8 5.5h1.1v1.1h-1.1ZM43.8 17.5h1.1v1.1h-1.1ZM43.8 20.8h1.1v1.1h-1.1ZM43.8 23h1.1v1.1h-1.1ZM43.8 31.7h1.1v1.1h-1.1ZM43.8 35h1.1v1.1h-1.1ZM43.8 38.3h1.1v1.1h-1.1ZM43.8 47h1.1v1.1h-1.1ZM43.8 49.2h1.1v1.1h-1.1ZM43.8 55.8h1.1v1.1h-1.1ZM43.8 56.9h1.1v1.1h-1.1ZM43.8 60.2h1.1v1.1h-1.1ZM43.8 61.2h1.1v1.1h-1.1ZM44.8 23h1.1v1.1h-1.1ZM44.8 25.2h1.1v1.1h-1.1ZM44.8 37.2h1.1v1.1h-1.1ZM44.8 41.6h1.1v1.1h-1.1ZM45.9 1.1h1.1v1.1h-1.1ZM45.9 5.5h1.1v1.1h-1.1ZM45.9 6.6h1.1v1.1h-1.1ZM45.9 23h1.1v1.1h-1.1ZM45.9 28.4h1.1v1.1h-1.1ZM45.9 36.1h1.1v1.1h-1.1ZM45.9 39.4h1.1v1.1h-1.1ZM45.9 43.8h1.1v1.1h-1.1ZM45.9 49.2h1.1v1.1h-1.1ZM45.9 55.8h1.1v1.1h-1.1ZM45.9 61.2h1.1v1.1h-1.1ZM45.9 65.6h1.1v1.1h-1.1ZM47 1.1h1.1v1.1h-1.1ZM47 3.3h1.1v1.1h-1.1ZM47 6.6h1.1v1.1h-1.1ZM47 8.8h1.1v1.1h-1.1ZM47 9.8h1.1v1.1h-1.1ZM47 12h1.1v1.1h-1.1ZM47 20.8h1.1v1.1h-1.1ZM47 28.4h1.1v1.1h-1.1ZM47 33.9h1.1v1.1h-1.1ZM47 39.4h1.1v1.1h-1.1ZM47 42.7h1.1v1.1h-1.1ZM47 49.2h1.1v1.1h-1.1ZM47 50.3h1.1v1.1h-1.1ZM47 55.8h1.1v1.1h-1.1ZM47 58h1.1v1.1h-1.1ZM47 68.9h1.1v1.1h-1.1ZM48.1 1.1h1.1v1.1h-1.1ZM48.1 3.3h1.1v1.1h-1.1ZM48.1 5.5h1.1v1.1h-1.1ZM48.1 8.8h1.1v1.1h-1.1ZM48.1 14.2h1.1v1.1h-1.1ZM48.1 17.5h1.1v1.1h-1.1ZM48.1 18.6h1.1v1.1h-1.1ZM48.1 23h1.1v1.1h-1.1ZM48.1 27.3h1.1v1.1h-1.1ZM48.1 31.7h1.1v1.1h-1.1ZM48.1 32.8h1.1v1.1h-1.1ZM48.1 33.9h1.1v1.1h-1.1ZM48.1 37.2h1.1v1.1h-1.1ZM48.1 39.4h1.1v1.1h-1.1ZM48.1 40.5h1.1v1.1h-1.1ZM48.1 41.6h1.1v1.1h-1.1ZM48.1 47h1.1v1.1h-1.1ZM48.1 50.3h1.1v1.1h-1.1ZM48.1 55.8h1.1v1.1h-1.1ZM48.1 62.3h1.1v1.1h-1.1ZM49.2 0h1.1v1.1h-1.1ZM49.2 4.4h1.1v1.1h-1.1ZM49.2 5.5h1.1v1.1h-1.1ZM49.2 6.6h1.1v1.1h-1.1ZM49.2 9.8h1.1v1.1h-1.1ZM49.2 10.9h1.1v1.1h-1.1ZM49.2 12h1.1v1.1h-1.1ZM49.2 16.4h1.1v1.1h-1.1ZM49.2 23h1.1v1.1h-1.1ZM49.2 26.2h1.1v1.1h-1.1ZM49.2 33.9h1.1v1.1h-1.1ZM49.2 36.1h1.1v1.1h-1.1ZM49.2 39.4h1.1v1.1h-1.1ZM49.2 60.2h1.1v1.1h-1.1ZM49.2 61.2h1.1v1.1h-1.1ZM49.2 64.5h1.1v1.1h-1.1ZM49.2 65.6h1.1v1.1h-1.1ZM49.2 68.9h1.1v1.1h-1.1ZM50.3 1.1h1.1v1.1h-1.1ZM50.3 4.4h1.1v1.1h-1.1ZM50.3 7.7h1.1v1.1h-1.1ZM50.3 19.7h1.1v1.1h-1.1ZM50.3 24.1h1.1v1.1h-1.1ZM50.3 26.2h1.1v1.1h-1.1ZM50.3 28.4h1.1v1.1h-1.1ZM50.3 31.7h1.1v1.1h-1.1ZM50.3 32.8h1.1v1.1h-1.1ZM50.3 39.4h1.1v1.1h-1.1ZM50.3 40.5h1.1v1.1h-1.1ZM50.3 48.1h1.1v1.1h-1.1ZM50.3 52.5h1.1v1.1h-1.1ZM50.3 58h1.1v1.1h-1.1ZM50.3 63.4h1.1v1.1h-1.1ZM51.4 0h1.1v1.1h-1.1ZM51.4 17.5h1.1v1.1h-1.1ZM51.4 19.7h1.1v1.1h-1.1ZM51.4 20.8h1.1v1.1h-1.1ZM51.4 33.9h1.1v1.1h-1.1ZM51.4 39.4h1.1v1.1h-1.1ZM51.4 48.1h1.1v1.1h-1.1ZM51.4 53.6h1.1v1.1h-1.1ZM51.4 60.2h1.1v1.1h-1.1ZM51.4 62.3h1.1v1.1h-1.1ZM51.4 68.9h1.1v1.1h-1.1ZM52.5 7.7h1.1v1.1h-1.1ZM52.5 13.1h1.1v1.1h-1.1ZM52.5 21.9h1.1v1.1h-1.1ZM52.5 23h1.1v1.1h-1.1ZM52.5 28.4h1.1v1.1h-1.1ZM52.5 30.6h1.1v1.1h-1.1ZM52.5 32.8h1.1v1.1h-1.1ZM52.5 33.9h1.1v1.1h-1.1ZM52.5 36.1h1.1v1.1h-1.1ZM52.5 38.3h1.1v1.1h-1.1ZM52.5 40.5h1.1v1.1h-1.1ZM52.5 41.6h1.1v1.1h-1.1ZM52.5 48.1h1.1v1.1h-1.1ZM52.5 54.7h1.1v1.1h-1.1ZM52.5 59.1h1.1v1.1h-1.1ZM52.5 60.2h1.1v1.1h-1.1ZM52.5 62.3h1.1v1.1h-1.1ZM53.6 14.2h1.1v1.1h-1.1ZM53.6 16.4h1.1v1.1h-1.1ZM53.6 56.9h1.1v1.1h-1.1ZM53.6 66.7h1.1v1.1h-1.1ZM54.7 0h1.1v1.1h-1.1ZM54.7 1.1h1.1v1.1h-1.1ZM54.7 2.2h1.1v1.1h-1.1ZM54.7 7.7h1.1v1.1h-1.1ZM54.7 9.8h1.1v1.1h-1.1ZM54.7 13.1h1.1v1.1h-1.1ZM54.7 21.9h1.1v1.1h-1.1ZM54.7 24.1h1.1v1.1h-1.1ZM54.7 27.3h1.1v1.1h-1.1ZM54.7 32.8h1.1v1.1h-1.1ZM54.7 33.9h1.1v1.1h-1.1ZM54.7 41.6h1.1v1.1h-1.1ZM54.7 47h1.1v1.1h-1.1ZM54.7 49.2h1.1v1.1h-1.1ZM54.7 50.3h1.1v1.1h-1.1ZM54.7 64.5h1.1v1.1h-1.1ZM54.7 66.7h1.1v1.1h-1.1ZM55.8 1.1h1.1v1.1h-1.1ZM55.8 5.5h1.1v1.1h-1.1ZM55.8 7.7h1.1v1.1h-1.1ZM55.8 14.2h1.1v1.1h-1.1ZM55.8 15.3h1.1v1.1h-1.1ZM55.8 17.5h1.1v1.1h-1.1ZM55.8 30.6h1.1v1.1h-1.1ZM55.8 32.8h1.1v1.1h-1.1ZM55.8 37.2h1.1v1.1h-1.1ZM55.8 38.3h1.1v1.1h-1.1ZM55.8 41.6h1.1v1.1h-1.1ZM55.8 45.9h1.1v1.1h-1.1ZM55.8 52.5h1.1v1.1h-1.1ZM55.8 56.9h1.1v1.1h-1.1ZM55.8 58h1.1v1.1h-1.1ZM55.8 63.4h1.1v1.1h-1.1ZM56.9 2.2h1.1v1.1h-1.1ZM56.9 10.9h1.1v1.1h-1.1ZM56.9 14.2h1.1v1.1h-1.1ZM56.9 18.6h1.1v1.1h-1.1ZM56.9 19.7h1.1v1.1h-1.1ZM56.9 23h1.1v1.1h-1.1ZM56.9 32.8h1.1v1.1h-1.1ZM56.9 36.1h1.1v1.1h-1.1ZM56.9 38.3h1.1v1.1h-1.1ZM56.9 42.7h1.1v1.1h-1.1ZM56.9 43.8h1.1v1.1h-1.1ZM56.9 47h1.1v1.1h-1.1ZM56.9 50.3h1.1v1.1h-1.1ZM56.9 52.5h1.1v1.1h-1.1ZM56.9 56.9h1.1v1.1h-1.1ZM58 0h1.1v1.1h-1.1ZM58 6.6h1.1v1.1h-1.1ZM58 8.8h1.1v1.1h-1.1ZM58 10.9h1.1v1.1h-1.1ZM58 16.4h1.1v1.1h-1.1ZM58 17.5h1.1v1.1h-1.1ZM58 19.7h1.1v1.1h-1.1ZM58 20.8h1.1v1.1h-1.1ZM58 26.2h1.1v1.1h-1.1ZM58 38.3h1.1v1.1h-1.1ZM58 41.6h1.1v1.1h-1.1ZM58 45.9h1.1v1.1h-1.1ZM58 52.5h1.1v1.1h-1.1ZM58 59.1h1.1v1.1h-1.1ZM58 61.2h1.1v1.1h-1.1ZM58 68.9h1.1v1.1h-1.1ZM59.1 3.3h1.1v1.1h-1.1ZM59.1 6.6h1.1v1.1h-1.1ZM59.1 8.8h1.1v1.1h-1.1ZM59.1 9.8h1.1v1.1h-1.1ZM59.1 12h1.1v1.1h-1.1ZM59.1 14.2h1.1v1.1h-1.1ZM59.1 15.3h1.1v1.1h-1.1ZM59.1 17.5h1.1v1.1h-1.1ZM59.1 19.7h1.1v1.1h-1.1ZM59.1 26.2h1.1v1.1h-1.1ZM59.1 27.3h1.1v1.1h-1.1ZM59.1 33.9h1.1v1.1h-1.1ZM59.1 36.1h1.1v1.1h-1.1ZM59.1 48.1h1.1v1.1h-1.1ZM59.1 52.5h1.1v1.1h-1.1ZM59.1 68.9h1.1v1.1h-1.1ZM60.2 2.2h1.1v1.1h-1.1ZM60.2 5.5h1.1v1.1h-1.1ZM60.2 6.6h1.1v1.1h-1.1ZM60.2 8.8h1.1v1.1h-1.1ZM60.2 9.8h1.1v1.1h-1.1ZM60.2 12h1.1v1.1h-1.1ZM60.2 14.2h1.1v1.1h-1.1ZM60.2 15.3h1.1v1.1h-1.1ZM60.2 26.2h1.1v1.1h-1.1ZM60.2 29.5h1.1v1.1h-1.1ZM60.2 30.6h1.1v1.1h-1.1ZM60.2 37.2h1.1v1.1h-1.1ZM60.2 41.6h1.1v1.1h-1.1ZM60.2 48.1h1.1v1.1h-1.1ZM60.2 50.3h1.1v1.1h-1.1ZM60.2 56.9h1.1v1.1h-1.1ZM60.2 65.6h1.1v1.1h-1.1ZM60.2 67.8h1.1v1.1h-1.1ZM61.2 4.4h1.1v1.1h-1.1ZM61.2 8.8h1.1v1.1h-1.1ZM61.2 10.9h1.1v1.1h-1.1ZM61.2 13.1h1.1v1.1h-1.1ZM61.2 14.2h1.1v1.1h-1.1ZM61.2 19.7h1.1v1.1h-1.1ZM61.2 21.9h1.1v1.1h-1.1ZM61.2 23h1.1v1.1h-1.1ZM61.2 25.2h1.1v1.1h-1.1ZM61.2 40.5h1.1v1.1h-1.1ZM61.2 41.6h1.1v1.1h-1.1ZM61.2 42.7h1.1v1.1h-1.1ZM61.2 45.9h1.1v1.1h-1.1ZM61.2 47h1.1v1.1h-1.1ZM61.2 53.6h1.1v1.1h-1.1ZM61.2 59.1h1.1v1.1h-1.1ZM61.2 61.2h1.1v1.1h-1.1ZM61.2 63.4h1.1v1.1h-1.1ZM62.3 0h1.1v1.1h-1.1ZM62.3 5.5h1.1v1.1h-1.1ZM62.3 12h1.1v1.1h-1.1ZM62.3 25.2h1.1v1.1h-1.1ZM62.3 29.5h1.1v1.1h-1.1ZM62.3 31.7h1.1v1.1h-1.1ZM62.3 36.1h1.1v1.1h-1.1ZM62.3 37.2h1.1v1.1h-1.1ZM62.3 41.6h1.1v1.1h-1.1ZM62.3 43.8h1.1v1.1h-1.1ZM62.3 60.2h1.1v1.1h-1.1ZM62.3 61.2h1.1v1.1h-1.1ZM62.3 65.6h1.1v1.1h-1.1ZM62.3 67.8h1.1v1.1h-1.1ZM63.4 6.6h1.1v1.1h-1.1ZM63.4 12h1.1v1.1h-1.1ZM63.4 13.1h1.1v1.1h-1.1ZM63.4 17.5h1.1v1.1h-1.1ZM63.4 23h1.1v1.1h-1.1ZM63.4 31.7h1.1v1.1h-1.1ZM63.4 35h1.1v1.1h-1.1ZM63.4 42.7h1.1v1.1h-1.1ZM63.4 47h1.1v1.1h-1.1ZM63.4 48.1h1.1v1.1h-1.1ZM63.4 49.2h1.1v1.1h-1.1ZM63.4 53.6h1.1v1.1h-1.1ZM63.4 60.2h1.1v1.1h-1.1ZM63.4 63.4h1.1v1.1h-1.1ZM63.4 65.6h1.1v1.1h-1.1ZM64.5 15.3h1.1v1.1h-1.1ZM64.5 23h1.1v1.1h-1.1ZM64.5 37.2h1.1v1.1h-1.1ZM64.5 39.4h1.1v1.1h-1.1ZM64.5 41.6h1.1v1.1h-1.1ZM64.5 43.8h1.1v1.1h-1.1ZM64.5 47h1.1v1.1h-1.1ZM64.5 50.3h1.1v1.1h-1.1ZM64.5 67.8h1.1v1.1h-1.1ZM65.6 1.1h1.1v1.1h-1.1ZM65.6 3.3h1.1v1.1h-1.1ZM65.6 4.4h1.1v1.1h-1.1ZM65.6 17.5h1.1v1.1h-1.1ZM65.6 23h1.1v1.1h-1.1ZM65.6 25.2h1.1v1.1h-1.1ZM65.6 28.4h1.1v1.1h-1.1ZM65.6 31.7h1.1v1.1h-1.1ZM65.6 35h1.1v1.1h-1.1ZM65.6 37.2h1.1v1.1h-1.1ZM65.6 39.4h1.1v1.1h-1.1ZM65.6 43.8h1.1v1.1h-1.1ZM65.6 45.9h1.1v1.1h-1.1ZM65.6 47h1.1v1.1h-1.1ZM65.6 51.4h1.1v1.1h-1.1ZM65.6 54.7h1.1v1.1h-1.1ZM65.6 56.9h1.1v1.1h-1.1ZM65.6 60.2h1.1v1.1h-1.1ZM65.6 63.4h1.1v1.1h-1.1ZM65.6 65.6h1.1v1.1h-1.1ZM65.6 67.8h1.1v1.1h-1.1ZM66.7 1.1h1.1v1.1h-1.1ZM66.7 12h1.1v1.1h-1.1ZM66.7 20.8h1.1v1.1h-1.1ZM66.7 31.7h1.1v1.1h-1.1ZM66.7 37.2h1.1v1.1h-1.1ZM66.7 43.8h1.1v1.1h-1.1ZM67.8 2.2h1.1v1.1h-1.1ZM67.8 4.4h1.1v1.1h-1.1ZM67.8 13.1h1.1v1.1h-1.1ZM67.8 14.2h1.1v1.1h-1.1ZM67.8 15.3h1.1v1.1h-1.1ZM67.8 26.2h1.1v1.1h-1.1ZM67.8 28.4h1.1v1.1h-1.1ZM67.8 30.6h1.1v1.1h-1.1ZM67.8 32.8h1.1v1.1h-1.1ZM67.8 33.9h1.1v1.1h-1.1ZM67.8 36.1h1.1v1.1h-1.1ZM67.8 55.8h1.1v1.1h-1.1ZM67.8 56.9h1.1v1.1h-1.1ZM67.8 63.4h1.1v1.1h-1.1ZM68.9 2.2h1.1v1.1h-1.1ZM68.9 3.3h1.1v1.1h-1.1ZM68.9 5.5h1.1v1.1h-1.1ZM68.9 10.9h1.1v1.1h-1.1ZM68.9 18.6h1.1v1.1h-1.1ZM68.9 28.4h1.1v1.1h-1.1ZM68.9 36.1h1.1v1.1h-1.1ZM68.9 48.1h1.1v1.1h-1.1ZM68.9 55.8h1.1v1.1h-1.1ZM68.9 64.5h1.1v1.1h-1.1Z" fill="#c792cf"/><path d="M0 32.8h1.1v1.1h-1.1ZM0 47h1.1v1.1h-1.1ZM0 60.2h1.1v1.1h-1.1ZM1.1 8.8h1.1v1.1h-1.1ZM1.1 14.2h1.1v1.1h-1.1ZM1.1 37.2h1.1v1.1h-1.1ZM1.1 45.9h1.1v1.1h-1.1ZM1.1 56.9h1.1v1.1h-1.1ZM1.1 61.2h1.1v1.1h-1.1ZM2.2 1.1h1.1v1.1h-1.1ZM2.2 3.3h1.1v1.1h-1.1ZM2.2 9.8h1.1v1.1h-1.1ZM2.2 15.3h1.1v1.1h-1.1ZM2.2 20.8h1.1v1.1h-1.1ZM2.2 28.4h1.1v1.1h-1.1ZM2.2 41.6h1.1v1.1h-1.1ZM2.2 47h1.1v1.1h-1.1ZM2.2 51.4h1.1v1.1h-1.1ZM2.2 61.2h1.1v1.1h-1.1ZM2.2 63.4h1.1v1.1h-1.1ZM3.3 10.9h1.1v1.1h-1.1ZM3.3 30.6h1.1v1.1h-1.1ZM3.3 49.2h1.1v1.1h-1.1ZM3.3 51.4h1.1v1.1h-1.1ZM3.3 56.9h1.1v1.1h-1.1ZM3.3 68.9h1.1v1.1h-1.1ZM4.4 6.6h1.1v1.1h-1.1ZM4.4 18.6h1.1v1.1h-1.1ZM4.4 19.7h1.1v1.1h-1.1ZM4.4 28.4h1.1v1.1h-1.1ZM4.4 29.5h1.1v1.1h-1.1ZM4.4 30.6h1.1v1.1h-1.1ZM4.4 55.8h1.1v1.1h-1.1ZM4.4 58h1.1v1.1h-1.1ZM4.4 61.2h1.1v1.1h-1.1ZM5.5 1.1h1.1v1.1h-1.1ZM5.5 4.4h1.1v1.1h-1.1ZM5.5 25.2h1.1v1.1h-1.1ZM6.6 14.2h1.1v1.1h-1.1ZM6.6 55.8h1.1v1.1h-1.1ZM6.6 58h1.1v1.1h-1.1ZM8.8 3.3h1.1v1.1h-1.1ZM8.8 15.3h1.1v1.1h-1.1ZM8.8 19.7h1.1v1.1h-1.1ZM8.8 21.9h1.1v1.1h-1.1ZM8.8 54.7h1.1v1.1h-1.1ZM8.8 56.9h1.1v1.1h-1.1ZM8.8 64.5h1.1v1.1h-1.1ZM9.8 10.9h1.1v1.1h-1.1ZM9.8 28.4h1.1v1.1h-1.1ZM9.8 59.1h1.1v1.1h-1.1ZM9.8 60.2h1.1v1.1h-1.1ZM9.8 62.3h1.1v1.1h-1.1ZM10.9 5.5h1.1v1.1h-1.1ZM10.9 10.9h1.1v1.1h-1.1ZM10.9 15.3h1.1v1.1h-1.1ZM10.9 27.3h1.1v1.1h-1.1ZM10.9 51.4h1.1v1.1h-1.1ZM10.9 58h1.1v1.1h-1.1ZM10.9 60.2h1.1v1.1h-1.1ZM12 2.2h1.1v1.1h-1.1ZM12 19.7h1.1v1.1h-1.1ZM12 30.6h1.1v1.1h-1.1ZM12 32.8h1.1v1.1h-1.1ZM12 41.6h1.1v1.1h-1.1ZM12 45.9h1.1v1.1h-1.1ZM12 67.8h1.1v1.1h-1.1ZM13.1 9.8h1.1v1.1h-1.1ZM13.1 56.9h1.1v1.1h-1.1ZM14.2 4.4h1.1v1.1h-1.1ZM14.2 15.3h1.1v1.1h-1.1ZM14.2 18.6h1.1v1.1h-1.1ZM14.2 24.1h1.1v1.1h-1.1ZM14.2 48.1h1.1v1.1h-1.1ZM14.2 50.3h1.1v1.1h-1.1ZM14.2 60.2h1.1v1.1h-1.1ZM15.3 9.8h1.1v1.1h-1.1ZM15.3 15.3h1.1v1.1h-1.1ZM15.3 20.8h1.1v1.1h-1.1ZM15.3 40.5h1.1v1.1h-1.1ZM15.3 55.8h1.1v1.1h-1.1ZM15.3 56.9h1.1v1.1h-1.1ZM16.4 61.2h1.1v1.1h-1.1ZM17.5 6.6h1.1v1.1h-1.1ZM17.5 42.7h1.1v1.1h-1.1ZM17.5 52.5h1.1v1.1h-1.1ZM17.5 65.6h1.1v1.1h-1.1ZM18.6 9.8h1.1v1.1h-1.1ZM18.6 12h1.1v1.1h-1.1ZM18.6 33.9h1.1v1.1h-1.1ZM18.6 45.9h1.1v1.1h-1.1ZM18.6 52.5h1.1v1.1h-1.1ZM18.6 61.2h1.1v1.1h-1.1ZM19.7 0h1.1v1.1h-1.1ZM19.7 10.9h1.1v1.1h-1.1ZM19.7 25.2h1.1v1.1h-1.1ZM19.7 50.3h1.1v1.1h-1.1ZM19.7 55.8h1.1v1.1h-1.1ZM19.7 58h1.1v1.1h-1.1ZM20.8 0h1.1v1.1h-1.1ZM20.8 3.3h1.1v1.1h-1.1ZM20.8 8.8h1.1v1.1h-1.1ZM20.8 12h1.1v1.1h-1.1ZM20.8 13.1h1.1v1.1h-1.1ZM20.8 23h1.1v1.1h-1.1ZM20.8 37.2h1.1v1.1h-1.1ZM20.8 49.2h1.1v1.1h-1.1ZM20.8 58h1.1v1.1h-1.1ZM20.8 62.3h1.1v1.1h-1.1ZM21.9 19.7h1.1v1.1h-1.1ZM21.9 47h1.1v1.1h-1.1ZM21.9 59.1h1.1v1.1h-1.1ZM21.9 65.6h1.1v1.1h-1.1ZM23 8.8h1.1v1.1h-1.1ZM23 14.2h1.1v1.1h-1.1ZM23 17.5h1.1v1.1h-1.1ZM23 18.6h1.1v1.1h-1.1ZM23 19.7h1.1v1.1h-1.1ZM23 23h1.1v1.1h-1.1ZM23 54.7h1.1v1.1h-1.1ZM23 60.2h1.1v1.1h-1.1ZM23 61.2h1.1v1.1h-1.1ZM24.1 50.3h1.1v1.1h-1.1ZM25.2 6.6h1.1v1.1h-1.1ZM25.2 7.7h1.1v1.1h-1.1ZM25.2 14.2h1.1v1.1h-1.1ZM25.2 19.7h1.1v1.1h-1.1ZM25.2 23h1.1v1.1h-1.1ZM25.2 29.5h1.1v1.1h-1.1ZM25.2 36.1h1.1v1.1h-1.1ZM25.2 37.2h1.1v1.1h-1.1ZM25.2 52.5h1.1v1.1h-1.1ZM25.2 62.3h1.1v1.1h-1.1ZM26.2 30.6h1.1v1.1h-1.1ZM26.2 31.7h1.1v1.1h-1.1ZM26.2 52.5h1.1v1.1h-1.1ZM26.2 61.2h1.1v1.1h-1.1ZM26.2 67.8h1.1v1.1h-1.1ZM27.3 5.5h1.1v1.1h-1.1ZM27.3 15.3h1.1v1.1h-1.1ZM27.3 17.5h1.1v1.1h-1.1ZM27.3 53.6h1.1v1.1h-1.1ZM27.3 56.9h1.1v1.1h-1.1ZM27.3 61.2h1.1v1.1h-1.1ZM27.3 64.5h1.1v1.1h-1.1ZM28.4 5.5h1.1v1.1h-1.1ZM28.4 12h1.1v1.1h-1.1ZM28.4 54.7h1.1v1.1h-1.1ZM28.4 59.1h1.1v1.1h-1.1ZM29.5 0h1.1v1.1h-1.1ZM29.5 6.6h1.1v1.1h-1.1ZM29.5 58h1.1v1.1h-1.1ZM29.5 65.6h1.1v1.1h-1.1ZM30.6 6.6h1.1v1.1h-1.1ZM30.6 16.4h1.1v1.1h-1.1ZM30.6 21.9h1.1v1.1h-1.1ZM30.6 26.2h1.1v1.1h-1.1ZM30.6 27.3h1.1v1.1h-1.1ZM30.6 36.1h1.1v1.1h-1.1ZM30.6 37.2h1.1v1.1h-1.1ZM30.6 56.9h1.1v1.1h-1.1ZM31.7 2.2h1.1v1.1h-1.1ZM31.7 9.8h1.1v1.1h-1.1ZM31.7 55.8h1.1v1.1h-1.1ZM31.7 58h1.1v1.1h-1.1ZM32.8 14.2h1.1v1.1h-1.1ZM32.8 21.9h1.1v1.1h-1.1ZM32.8 54.7h1.1v1.1h-1.1ZM32.8 58h1.1v1.1h-1.1ZM33.9 3.3h1.1v1.1h-1.1ZM33.9 6.6h1.1v1.1h-1.1ZM33.9 26.2h1.1v1.1h-1.1ZM33.9 27.3h1.1v1.1h-1.1ZM33.9 37.2h1.1v1.1h-1.1ZM33.9 51.4h1.1v1.1h-1.1ZM33.9 58h1.1v1.1h-1.1ZM35 25.2h1.1v1.1h-1.1ZM35 68.9h1.1v1.1h-1.1ZM36.1 15.3h1.1v1.1h-1.1ZM36.1 18.6h1.1v1.1h-1.1ZM36.1 26.2h1.1v1.1h-1.1ZM36.1 36.1h1.1v1.1h-1.1ZM36.1 41.6h1.1v1.1h-1.1ZM36.1 54.7h1.1v1.1h-1.1ZM36.1 59.1h1.1v1.1h-1.1ZM37.2 17.5h1.1v1.1h-1.1ZM37.2 32.8h1.1v1.1h-1.1ZM37.2 38.3h1.1v1.1h-1.1ZM37.2 54.7h1.1v1.1h-1.1ZM37.2 59.1h1.1v1.1h-1.1ZM38.3 6.6h1.1v1.1h-1.1ZM38.3 12h1.1v1.1h-1.1ZM38.3 28.4h1.1v1.1h-1.1ZM38.3 30.6h1.1v1.1h-1.1ZM38.3 38.3h1.1v1.1h-1.1ZM38.3 45.9h1.1v1.1h-1.1ZM38.3 66.7h1.1v1.1h-1.1ZM39.4 3.3h1.1v1.1h-1.1ZM39.4 8.8h1.1v1.1h-1.1ZM39.4 12h1.1v1.1h-1.1ZM39.4 20.8h1.1v1.1h-1.1ZM39.4 23h1.1v1.1h-1.1ZM39.4 26.2h1.1v1.1h-1.1ZM39.4 38.3h1.1v1.1h-1.1ZM39.4 44.8h1.1v1.1h-1.1ZM40.5 3.3h1.1v1.1h-1.1ZM40.5 17.5h1.1v1.1h-1.1ZM40.5 40.5h1.1v1.1h-1.1ZM40.5 43.8h1.1v1.1h-1.1ZM40.5 47h1.1v1.1h-1.1ZM40.5 49.2h1.1v1.1h-1.1ZM40.5 55.8h1.1v1.1h-1.1ZM41.6 8.8h1.1v1.1h-1.1ZM41.6 23h1.1v1.1h-1.1ZM41.6 27.3h1.1v1.1h-1.1ZM41.6 58h1.1v1.1h-1.1ZM41.6 62.3h1.1v1.1h-1.1ZM42.7 4.4h1.1v1.1h-1.1ZM42.7 28.4h1.1v1.1h-1.1ZM42.7 49.2h1.1v1.1h-1.1ZM42.7 52.5h1.1v1.1h-1.1ZM42.7 58h1.1v1.1h-1.1ZM42.7 61.2h1.1v1.1h-1.1ZM43.8 2.2h1.1v1.1h-1.1ZM43.8 8.8h1.1v1.1h-1.1ZM43.8 9.8h1.1v1.1h-1.1ZM43.8 43.8h1.1v1.1h-1.1ZM43.8 50.3h1.1v1.1h-1.1ZM43.8 63.4h1.1v1.1h-1.1ZM43.8 65.6h1.1v1.1h-1.1ZM43.8 66.7h1.1v1.1h-1.1ZM44.8 26.2h1.1v1.1h-1.1ZM44.8 65.6h1.1v1.1h-1.1ZM45.9 12h1.1v1.1h-1.1ZM45.9 16.4h1.1v1.1h-1.1ZM45.9 30.6h1.1v1.1h-1.1ZM45.9 37.2h1.1v1.1h-1.1ZM45.9 38.3h1.1v1.1h-1.1ZM45.9 41.6h1.1v1.1h-1.1ZM45.9 60.2h1.1v1.1h-1.1ZM47 2.2h1.1v1.1h-1.1ZM47 5.5h1.1v1.1h-1.1ZM47 19.7h1.1v1.1h-1.1ZM47 24.1h1.1v1.1h-1.1ZM47 38.3h1.1v1.1h-1.1ZM47 63.4h1.1v1.1h-1.1ZM47 65.6h1.1v1.1h-1.1ZM48.1 9.8h1.1v1.1h-1.1ZM48.1 13.1h1.1v1.1h-1.1ZM48.1 16.4h1.1v1.1h-1.1ZM48.1 19.7h1.1v1.1h-1.1ZM48.1 20.8h1.1v1.1h-1.1ZM48.1 24.1h1.1v1.1h-1.1ZM48.1 28.4h1.1v1.1h-1.1ZM48.1 42.7h1.1v1.1h-1.1ZM49.2 14.2h1.1v1.1h-1.1ZM49.2 21.9h1.1v1.1h-1.1ZM49.2 25.2h1.1v1.1h-1.1ZM50.3 6.6h1.1v1.1h-1.1ZM50.3 20.8h1.1v1.1h-1.1ZM50.3 27.3h1.1v1.1h-1.1ZM51.4 2.2h1.1v1.1h-1.1ZM51.4 9.8h1.1v1.1h-1.1ZM51.4 26.2h1.1v1.1h-1.1ZM51.4 47h1.1v1.1h-1.1ZM51.4 59.1h1.1v1.1h-1.1ZM52.5 1.1h1.1v1.1h-1.1ZM52.5 2.2h1.1v1.1h-1.1ZM52.5 17.5h1.1v1.1h-1.1ZM52.5 25.2h1.1v1.1h-1.1ZM52.5 53.6h1.1v1.1h-1.1ZM52.5 68.9h1.1v1.1h-1.1ZM53.6 10.9h1.1v1.1h-1.1ZM53.6 37.2h1.1v1.1h-1.1ZM53.6 67.8h1.1v1.1h-1.1ZM54.7 5.5h1.1v1.1h-1.1ZM54.7 6.6h1.1v1.1h-1.1ZM54.7 8.8h1.1v1.1h-1.1ZM54.7 14.2h1.1v1.1h-1.1ZM54.7 18.6h1.1v1.1h-1.1ZM54.7 35h1.1v1.1h-1.1ZM54.7 65.6h1.1v1.1h-1.1ZM55.8 3.3h1.1v1.1h-1.1ZM55.8 19.7h1.1v1.1h-1.1ZM55.8 20.8h1.1v1.1h-1.1ZM55.8 40.5h1.1v1.1h-1.1ZM55.8 43.8h1.1v1.1h-1.1ZM55.8 55.8h1.1v1.1h-1.1ZM55.8 59.1h1.1v1.1h-1.1ZM55.8 66.7h1.1v1.1h-1.1ZM56.9 9.8h1.1v1.1h-1.1ZM56.9 13.1h1.1v1.1h-1.1ZM56.9 27.3h1.1v1.1h-1.1ZM56.9 31.7h1.1v1.1h-1.1ZM56.9 35h1.1v1.1h-1.1ZM56.9 37.2h1.1v1.1h-1.1ZM56.9 51.4h1.1v1.1h-1.1ZM56.9 54.7h1.1v1.1h-1.1ZM56.9 66.7h1.1v1.1h-1.1ZM58 7.7h1.1v1.1h-1.1ZM58 15.3h1.1v1.1h-1.1ZM58 31.7h1.1v1.1h-1.1ZM58 37.2h1.1v1.1h-1.1ZM58 48.1h1.1v1.1h-1.1ZM58 60.2h1.1v1.1h-1.1ZM58 65.6h1.1v1.1h-1.1ZM59.1 30.6h1.1v1.1h-1.1ZM59.1 32.8h1.1v1.1h-1.1ZM59.1 38.3h1.1v1.1h-1.1ZM59.1 44.8h1.1v1.1h-1.1ZM59.1 45.9h1.1v1.1h-1.1ZM59.1 65.6h1.1v1.1h-1.1ZM60.2 1.1h1.1v1.1h-1.1ZM60.2 4.4h1.1v1.1h-1.1ZM60.2 20.8h1.1v1.1h-1.1ZM60.2 36.1h1.1v1.1h-1.1ZM60.2 39.4h1.1v1.1h-1.1ZM60.2 42.7h1.1v1.1h-1.1ZM60.2 62.3h1.1v1.1h-1.1ZM60.2 66.7h1.1v1.1h-1.1ZM61.2 15.3h1.1v1.1h-1.1ZM61.2 17.5h1.1v1.1h-1.1ZM61.2 20.8h1.1v1.1h-1.1ZM61.2 33.9h1.1v1.1h-1.1ZM61.2 49.2h1.1v1.1h-1.1ZM61.2 55.8h1.1v1.1h-1.1ZM62.3 3.3h1.1v1.1h-1.1ZM62.3 20.8h1.1v1.1h-1.1ZM62.3 23h1.1v1.1h-1.1ZM62.3 54.7h1.1v1.1h-1.1ZM62.3 55.8h1.1v1.1h-1.1ZM62.3 62.3h1.1v1.1h-1.1ZM63.4 4.4h1.1v1.1h-1.1ZM63.4 9.8h1.1v1.1h-1.1ZM63.4 30.6h1.1v1.1h-1.1ZM63.4 38.3h1.1v1.1h-1.1ZM63.4 43.8h1.1v1.1h-1.1ZM63.4 55.8h1.1v1.1h-1.1ZM63.4 59.1h1.1v1.1h-1.1ZM64.5 30.6h1.1v1.1h-1.1ZM65.6 9.8h1.1v1.1h-1.1ZM65.6 42.7h1.1v1.1h-1.1ZM65.6 62.3h1.1v1.1h-1.1ZM66.7 8.8h1.1v1.1h-1.1ZM66.7 9.8h1.1v1.1h-1.1ZM67.8 8.8h1.1v1.1h-1.1ZM67.8 16.4h1.1v1.1h-1.1ZM67.8 24.1h1.1v1.1h-1.1ZM67.8 31.7h1.1v1.1h-1.1ZM67.8 58h1.1v1.1h-1.1ZM67.8 60.2h1.1v1.1h-1.1ZM67.8 67.8h1.1v1.1h-1.1ZM68.9 4.4h1.1v1.1h-1.1ZM68.9 8.8h1.1v1.1h-1.1ZM68.9 27.3h1.1v1.1h-1.1ZM68.9 32.8h1.1v1.1h-1.1ZM68.9 41.6h1.1v1.1h-1.1Z" fill="#9d5aa6"/><path d="M3.6 16.6L5.3 14.2M3.6 22.5L5.3 24.5M11.4 10.8L13.7 8.5M11.4 60L13.7 57.4M14.2 7.9L16.6 5.7M14.2 14.2L16.6 16.6M14.2 24.5L16.6 22.5M14.2 35.3L16.6 32.9M14.2 67.5L16.6 69.6M17.3 53.8L19.2 51.8M19.8 3L22 0.6M22.5 47.9L24.5 45.8M25.3 32.9L27 35.3M30.7 7.9L32.5 5.7M30.7 36L32.5 37.9M30.7 66.8L32.5 65.3M38.3 30.7L40 32.5M38.3 37.9L40 36M38.3 66.8L40 65.3M40.6 42.4L42.4 40.6M40.6 56.7L42.4 54.4M43.2 22.5L45.3 24.5M43.2 38.3L45.3 40M43.2 62.2L45.3 60.4M43.2 66.8L45.3 65.3M45.8 7.9L47.9 5.7M48.5 53.8L51 51.8M51.8 32.9L53.8 35.3M54.4 62.9L56.7 64.6M57.4 7.9L60 5.7M57.4 45.3L60 43.2M57.4 60L60 57.4M60.4 47.9L62.2 45.8M62.9 22L64.6 19.8M67.5 35.3L69.6 32.9" stroke="#4a2050" stroke-width="0.55" stroke-opacity="0.5" fill="none"/></pattern><pattern id="pO" x="0" y="0" width="70" height="70" patternUnits="userSpaceOnUse"><path d="M0 1.1h1.1v1.1h-1.1ZM0 2.2h1.1v1.1h-1.1ZM0 3.3h1.1v1.1h-1.1ZM0 5.5h1.1v1.1h-1.1ZM0 12h1.1v1.1h-1.1ZM0 17.5h1.1v1.1h-1.1ZM0 19.7h1.1v1.1h-1.1ZM0 20.8h1.1v1.1h-1.1ZM0 21.9h1.1v1.1h-1.1ZM0 32.8h1.1v1.1h-1.1ZM0 33.9h1.1v1.1h-1.1ZM0 35h1.1v1.1h-1.1ZM0 39.4h1.1v1.1h-1.1ZM0 48.1h1.1v1.1h-1.1ZM0 53.6h1.1v1.1h-1.1ZM0 66.7h1.1v1.1h-1.1ZM1.1 2.2h1.1v1.1h-1.1ZM1.1 5.5h1.1v1.1h-1.1ZM1.1 6.6h1.1v1.1h-1.1ZM1.1 12h1.1v1.1h-1.1ZM1.1 15.3h1.1v1.1h-1.1ZM1.1 18.6h1.1v1.1h-1.1ZM1.1 23h1.1v1.1h-1.1ZM1.1 25.2h1.1v1.1h-1.1ZM1.1 29.5h1.1v1.1h-1.1ZM1.1 31.7h1.1v1.1h-1.1ZM1.1 33.9h1.1v1.1h-1.1ZM1.1 37.2h1.1v1.1h-1.1ZM1.1 39.4h1.1v1.1h-1.1ZM1.1 48.1h1.1v1.1h-1.1ZM1.1 53.6h1.1v1.1h-1.1ZM1.1 54.7h1.1v1.1h-1.1ZM1.1 55.8h1.1v1.1h-1.1ZM1.1 61.2h1.1v1.1h-1.1ZM1.1 66.7h1.1v1.1h-1.1ZM1.1 67.8h1.1v1.1h-1.1ZM2.2 6.6h1.1v1.1h-1.1ZM2.2 7.7h1.1v1.1h-1.1ZM2.2 8.8h1.1v1.1h-1.1ZM2.2 12h1.1v1.1h-1.1ZM2.2 17.5h1.1v1.1h-1.1ZM2.2 20.8h1.1v1.1h-1.1ZM2.2 21.9h1.1v1.1h-1.1ZM2.2 23h1.1v1.1h-1.1ZM2.2 29.5h1.1v1.1h-1.1ZM2.2 31.7h1.1v1.1h-1.1ZM2.2 32.8h1.1v1.1h-1.1ZM2.2 33.9h1.1v1.1h-1.1ZM2.2 37.2h1.1v1.1h-1.1ZM2.2 48.1h1.1v1.1h-1.1ZM2.2 49.2h1.1v1.1h-1.1ZM2.2 64.5h1.1v1.1h-1.1ZM2.2 65.6h1.1v1.1h-1.1ZM3.3 0h1.1v1.1h-1.1ZM3.3 4.4h1.1v1.1h-1.1ZM3.3 6.6h1.1v1.1h-1.1ZM3.3 7.7h1.1v1.1h-1.1ZM3.3 14.2h1.1v1.1h-1.1ZM3.3 17.5h1.1v1.1h-1.1ZM3.3 18.6h1.1v1.1h-1.1ZM3.3 21.9h1.1v1.1h-1.1ZM3.3 23h1.1v1.1h-1.1ZM3.3 35h1.1v1.1h-1.1ZM3.3 40.5h1.1v1.1h-1.1ZM3.3 43.8h1.1v1.1h-1.1ZM3.3 49.2h1.1v1.1h-1.1ZM3.3 51.4h1.1v1.1h-1.1ZM3.3 54.7h1.1v1.1h-1.1ZM3.3 62.3h1.1v1.1h-1.1ZM3.3 64.5h1.1v1.1h-1.1ZM4.4 0h1.1v1.1h-1.1ZM4.4 1.1h1.1v1.1h-1.1ZM4.4 5.5h1.1v1.1h-1.1ZM4.4 7.7h1.1v1.1h-1.1ZM4.4 8.8h1.1v1.1h-1.1ZM4.4 12h1.1v1.1h-1.1ZM4.4 14.2h1.1v1.1h-1.1ZM4.4 16.4h1.1v1.1h-1.1ZM4.4 17.5h1.1v1.1h-1.1ZM4.4 19.7h1.1v1.1h-1.1ZM4.4 20.8h1.1v1.1h-1.1ZM4.4 25.2h1.1v1.1h-1.1ZM4.4 31.7h1.1v1.1h-1.1ZM4.4 43.8h1.1v1.1h-1.1ZM4.4 64.5h1.1v1.1h-1.1ZM4.4 67.8h1.1v1.1h-1.1ZM5.5 5.5h1.1v1.1h-1.1ZM5.5 6.6h1.1v1.1h-1.1ZM5.5 7.7h1.1v1.1h-1.1ZM5.5 19.7h1.1v1.1h-1.1ZM5.5 21.9h1.1v1.1h-1.1ZM5.5 27.3h1.1v1.1h-1.1ZM5.5 29.5h1.1v1.1h-1.1ZM5.5 31.7h1.1v1.1h-1.1ZM5.5 39.4h1.1v1.1h-1.1ZM5.5 43.8h1.1v1.1h-1.1ZM5.5 45.9h1.1v1.1h-1.1ZM5.5 55.8h1.1v1.1h-1.1ZM5.5 62.3h1.1v1.1h-1.1ZM5.5 67.8h1.1v1.1h-1.1ZM6.6 1.1h1.1v1.1h-1.1ZM6.6 2.2h1.1v1.1h-1.1ZM6.6 3.3h1.1v1.1h-1.1ZM6.6 6.6h1.1v1.1h-1.1ZM6.6 7.7h1.1v1.1h-1.1ZM6.6 10.9h1.1v1.1h-1.1ZM6.6 12h1.1v1.1h-1.1ZM6.6 17.5h1.1v1.1h-1.1ZM6.6 19.7h1.1v1.1h-1.1ZM6.6 20.8h1.1v1.1h-1.1ZM6.6 25.2h1.1v1.1h-1.1ZM6.6 26.2h1.1v1.1h-1.1ZM6.6 27.3h1.1v1.1h-1.1ZM6.6 33.9h1.1v1.1h-1.1ZM6.6 35h1.1v1.1h-1.1ZM6.6 38.3h1.1v1.1h-1.1ZM6.6 43.8h1.1v1.1h-1.1ZM6.6 47h1.1v1.1h-1.1ZM6.6 50.3h1.1v1.1h-1.1ZM6.6 51.4h1.1v1.1h-1.1ZM6.6 67.8h1.1v1.1h-1.1ZM7.7 0h1.1v1.1h-1.1ZM7.7 2.2h1.1v1.1h-1.1ZM7.7 3.3h1.1v1.1h-1.1ZM7.7 4.4h1.1v1.1h-1.1ZM7.7 7.7h1.1v1.1h-1.1ZM7.7 17.5h1.1v1.1h-1.1ZM7.7 18.6h1.1v1.1h-1.1ZM7.7 20.8h1.1v1.1h-1.1ZM7.7 25.2h1.1v1.1h-1.1ZM7.7 32.8h1.1v1.1h-1.1ZM7.7 33.9h1.1v1.1h-1.1ZM7.7 39.4h1.1v1.1h-1.1ZM7.7 40.5h1.1v1.1h-1.1ZM7.7 43.8h1.1v1.1h-1.1ZM7.7 48.1h1.1v1.1h-1.1ZM7.7 52.5h1.1v1.1h-1.1ZM7.7 56.9h1.1v1.1h-1.1ZM7.7 59.1h1.1v1.1h-1.1ZM7.7 60.2h1.1v1.1h-1.1ZM7.7 61.2h1.1v1.1h-1.1ZM7.7 65.6h1.1v1.1h-1.1ZM8.8 3.3h1.1v1.1h-1.1ZM8.8 4.4h1.1v1.1h-1.1ZM8.8 5.5h1.1v1.1h-1.1ZM8.8 9.8h1.1v1.1h-1.1ZM8.8 10.9h1.1v1.1h-1.1ZM8.8 18.6h1.1v1.1h-1.1ZM8.8 27.3h1.1v1.1h-1.1ZM8.8 29.5h1.1v1.1h-1.1ZM8.8 30.6h1.1v1.1h-1.1ZM8.8 32.8h1.1v1.1h-1.1ZM8.8 39.4h1.1v1.1h-1.1ZM8.8 41.6h1.1v1.1h-1.1ZM8.8 44.8h1.1v1.1h-1.1ZM8.8 45.9h1.1v1.1h-1.1ZM8.8 48.1h1.1v1.1h-1.1ZM8.8 49.2h1.1v1.1h-1.1ZM8.8 51.4h1.1v1.1h-1.1ZM8.8 56.9h1.1v1.1h-1.1ZM8.8 60.2h1.1v1.1h-1.1ZM8.8 61.2h1.1v1.1h-1.1ZM8.8 62.3h1.1v1.1h-1.1ZM8.8 67.8h1.1v1.1h-1.1ZM9.8 0h1.1v1.1h-1.1ZM9.8 8.8h1.1v1.1h-1.1ZM9.8 14.2h1.1v1.1h-1.1ZM9.8 15.3h1.1v1.1h-1.1ZM9.8 17.5h1.1v1.1h-1.1ZM9.8 20.8h1.1v1.1h-1.1ZM9.8 21.9h1.1v1.1h-1.1ZM9.8 26.2h1.1v1.1h-1.1ZM9.8 27.3h1.1v1.1h-1.1ZM9.8 29.5h1.1v1.1h-1.1ZM9.8 32.8h1.1v1.1h-1.1ZM9.8 39.4h1.1v1.1h-1.1ZM9.8 55.8h1.1v1.1h-1.1ZM9.8 58h1.1v1.1h-1.1ZM9.8 60.2h1.1v1.1h-1.1ZM9.8 66.7h1.1v1.1h-1.1ZM10.9 7.7h1.1v1.1h-1.1ZM10.9 8.8h1.1v1.1h-1.1ZM10.9 23h1.1v1.1h-1.1ZM10.9 25.2h1.1v1.1h-1.1ZM10.9 31.7h1.1v1.1h-1.1ZM10.9 35h1.1v1.1h-1.1ZM10.9 52.5h1.1v1.1h-1.1ZM10.9 53.6h1.1v1.1h-1.1ZM10.9 61.2h1.1v1.1h-1.1ZM10.9 64.5h1.1v1.1h-1.1ZM10.9 65.6h1.1v1.1h-1.1ZM12 1.1h1.1v1.1h-1.1ZM12 14.2h1.1v1.1h-1.1ZM12 15.3h1.1v1.1h-1.1ZM12 31.7h1.1v1.1h-1.1ZM12 32.8h1.1v1.1h-1.1ZM12 38.3h1.1v1.1h-1.1ZM12 39.4h1.1v1.1h-1.1ZM12 42.7h1.1v1.1h-1.1ZM12 45.9h1.1v1.1h-1.1ZM12 48.1h1.1v1.1h-1.1ZM12 49.2h1.1v1.1h-1.1ZM12 53.6h1.1v1.1h-1.1ZM12 64.5h1.1v1.1h-1.1ZM12 66.7h1.1v1.1h-1.1ZM12 67.8h1.1v1.1h-1.1ZM13.1 15.3h1.1v1.1h-1.1ZM13.1 18.6h1.1v1.1h-1.1ZM13.1 28.4h1.1v1.1h-1.1ZM13.1 41.6h1.1v1.1h-1.1ZM13.1 43.8h1.1v1.1h-1.1ZM14.2 0h1.1v1.1h-1.1ZM14.2 2.2h1.1v1.1h-1.1ZM14.2 4.4h1.1v1.1h-1.1ZM14.2 8.8h1.1v1.1h-1.1ZM14.2 12h1.1v1.1h-1.1ZM14.2 13.1h1.1v1.1h-1.1ZM14.2 14.2h1.1v1.1h-1.1ZM14.2 15.3h1.1v1.1h-1.1ZM14.2 27.3h1.1v1.1h-1.1ZM14.2 29.5h1.1v1.1h-1.1ZM14.2 33.9h1.1v1.1h-1.1ZM14.2 35h1.1v1.1h-1.1ZM14.2 37.2h1.1v1.1h-1.1ZM14.2 39.4h1.1v1.1h-1.1ZM14.2 41.6h1.1v1.1h-1.1ZM14.2 48.1h1.1v1.1h-1.1ZM14.2 60.2h1.1v1.1h-1.1ZM14.2 62.3h1.1v1.1h-1.1ZM14.2 67.8h1.1v1.1h-1.1ZM15.3 4.4h1.1v1.1h-1.1ZM15.3 6.6h1.1v1.1h-1.1ZM15.3 9.8h1.1v1.1h-1.1ZM15.3 18.6h1.1v1.1h-1.1ZM15.3 21.9h1.1v1.1h-1.1ZM15.3 33.9h1.1v1.1h-1.1ZM15.3 43.8h1.1v1.1h-1.1ZM15.3 49.2h1.1v1.1h-1.1ZM15.3 52.5h1.1v1.1h-1.1ZM15.3 54.7h1.1v1.1h-1.1ZM15.3 65.6h1.1v1.1h-1.1ZM15.3 68.9h1.1v1.1h-1.1ZM16.4 0h1.1v1.1h-1.1ZM16.4 1.1h1.1v1.1h-1.1ZM16.4 5.5h1.1v1.1h-1.1ZM16.4 9.8h1.1v1.1h-1.1ZM16.4 17.5h1.1v1.1h-1.1ZM16.4 19.7h1.1v1.1h-1.1ZM16.4 20.8h1.1v1.1h-1.1ZM16.4 25.2h1.1v1.1h-1.1ZM16.4 31.7h1.1v1.1h-1.1ZM16.4 33.9h1.1v1.1h-1.1ZM16.4 35h1.1v1.1h-1.1ZM16.4 37.2h1.1v1.1h-1.1ZM16.4 38.3h1.1v1.1h-1.1ZM16.4 43.8h1.1v1.1h-1.1ZM16.4 44.8h1.1v1.1h-1.1ZM16.4 47h1.1v1.1h-1.1ZM16.4 48.1h1.1v1.1h-1.1ZM16.4 52.5h1.1v1.1h-1.1ZM16.4 58h1.1v1.1h-1.1ZM16.4 60.2h1.1v1.1h-1.1ZM16.4 63.4h1.1v1.1h-1.1ZM16.4 64.5h1.1v1.1h-1.1ZM16.4 66.7h1.1v1.1h-1.1ZM17.5 0h1.1v1.1h-1.1ZM17.5 5.5h1.1v1.1h-1.1ZM17.5 7.7h1.1v1.1h-1.1ZM17.5 17.5h1.1v1.1h-1.1ZM17.5 21.9h1.1v1.1h-1.1ZM17.5 33.9h1.1v1.1h-1.1ZM17.5 35h1.1v1.1h-1.1ZM17.5 39.4h1.1v1.1h-1.1ZM17.5 43.8h1.1v1.1h-1.1ZM17.5 49.2h1.1v1.1h-1.1ZM17.5 52.5h1.1v1.1h-1.1ZM17.5 60.2h1.1v1.1h-1.1ZM17.5 64.5h1.1v1.1h-1.1ZM17.5 67.8h1.1v1.1h-1.1ZM18.6 5.5h1.1v1.1h-1.1ZM18.6 6.6h1.1v1.1h-1.1ZM18.6 7.7h1.1v1.1h-1.1ZM18.6 9.8h1.1v1.1h-1.1ZM18.6 14.2h1.1v1.1h-1.1ZM18.6 15.3h1.1v1.1h-1.1ZM18.6 17.5h1.1v1.1h-1.1ZM18.6 18.6h1.1v1.1h-1.1ZM18.6 21.9h1.1v1.1h-1.1ZM18.6 27.3h1.1v1.1h-1.1ZM18.6 39.4h1.1v1.1h-1.1ZM18.6 41.6h1.1v1.1h-1.1ZM18.6 43.8h1.1v1.1h-1.1ZM18.6 53.6h1.1v1.1h-1.1ZM18.6 62.3h1.1v1.1h-1.1ZM18.6 64.5h1.1v1.1h-1.1ZM18.6 65.6h1.1v1.1h-1.1ZM18.6 66.7h1.1v1.1h-1.1ZM19.7 1.1h1.1v1.1h-1.1ZM19.7 6.6h1.1v1.1h-1.1ZM19.7 7.7h1.1v1.1h-1.1ZM19.7 10.9h1.1v1.1h-1.1ZM19.7 13.1h1.1v1.1h-1.1ZM19.7 15.3h1.1v1.1h-1.1ZM19.7 16.4h1.1v1.1h-1.1ZM19.7 23h1.1v1.1h-1.1ZM19.7 24.1h1.1v1.1h-1.1ZM19.7 25.2h1.1v1.1h-1.1ZM19.7 26.2h1.1v1.1h-1.1ZM19.7 29.5h1.1v1.1h-1.1ZM19.7 31.7h1.1v1.1h-1.1ZM19.7 37.2h1.1v1.1h-1.1ZM19.7 41.6h1.1v1.1h-1.1ZM19.7 45.9h1.1v1.1h-1.1ZM19.7 48.1h1.1v1.1h-1.1ZM19.7 54.7h1.1v1.1h-1.1ZM19.7 63.4h1.1v1.1h-1.1ZM19.7 65.6h1.1v1.1h-1.1ZM19.7 66.7h1.1v1.1h-1.1ZM19.7 67.8h1.1v1.1h-1.1ZM20.8 3.3h1.1v1.1h-1.1ZM20.8 4.4h1.1v1.1h-1.1ZM20.8 6.6h1.1v1.1h-1.1ZM20.8 8.8h1.1v1.1h-1.1ZM20.8 14.2h1.1v1.1h-1.1ZM20.8 15.3h1.1v1.1h-1.1ZM20.8 21.9h1.1v1.1h-1.1ZM20.8 25.2h1.1v1.1h-1.1ZM20.8 29.5h1.1v1.1h-1.1ZM20.8 37.2h1.1v1.1h-1.1ZM20.8 49.2h1.1v1.1h-1.1ZM20.8 53.6h1.1v1.1h-1.1ZM20.8 56.9h1.1v1.1h-1.1ZM20.8 60.2h1.1v1.1h-1.1ZM20.8 64.5h1.1v1.1h-1.1ZM21.9 1.1h1.1v1.1h-1.1ZM21.9 3.3h1.1v1.1h-1.1ZM21.9 14.2h1.1v1.1h-1.1ZM21.9 15.3h1.1v1.1h-1.1ZM21.9 16.4h1.1v1.1h-1.1ZM21.9 18.6h1.1v1.1h-1.1ZM21.9 19.7h1.1v1.1h-1.1ZM21.9 21.9h1.1v1.1h-1.1ZM21.9 23h1.1v1.1h-1.1ZM21.9 30.6h1.1v1.1h-1.1ZM21.9 31.7h1.1v1.1h-1.1ZM21.9 35h1.1v1.1h-1.1ZM21.9 40.5h1.1v1.1h-1.1ZM21.9 42.7h1.1v1.1h-1.1ZM21.9 45.9h1.1v1.1h-1.1ZM21.9 51.4h1.1v1.1h-1.1ZM21.9 52.5h1.1v1.1h-1.1ZM21.9 53.6h1.1v1.1h-1.1ZM21.9 54.7h1.1v1.1h-1.1ZM21.9 59.1h1.1v1.1h-1.1ZM21.9 62.3h1.1v1.1h-1.1ZM21.9 65.6h1.1v1.1h-1.1ZM21.9 67.8h1.1v1.1h-1.1ZM23 1.1h1.1v1.1h-1.1ZM23 2.2h1.1v1.1h-1.1ZM23 15.3h1.1v1.1h-1.1ZM23 19.7h1.1v1.1h-1.1ZM23 25.2h1.1v1.1h-1.1ZM23 26.2h1.1v1.1h-1.1ZM23 29.5h1.1v1.1h-1.1ZM23 32.8h1.1v1.1h-1.1ZM23 33.9h1.1v1.1h-1.1ZM23 35h1.1v1.1h-1.1ZM23 39.4h1.1v1.1h-1.1ZM23 44.8h1.1v1.1h-1.1ZM23 51.4h1.1v1.1h-1.1ZM23 52.5h1.1v1.1h-1.1ZM23 53.6h1.1v1.1h-1.1ZM23 58h1.1v1.1h-1.1ZM23 64.5h1.1v1.1h-1.1ZM24.1 5.5h1.1v1.1h-1.1ZM24.1 18.6h1.1v1.1h-1.1ZM24.1 19.7h1.1v1.1h-1.1ZM24.1 29.5h1.1v1.1h-1.1ZM24.1 47h1.1v1.1h-1.1ZM24.1 49.2h1.1v1.1h-1.1ZM25.2 9.8h1.1v1.1h-1.1ZM25.2 14.2h1.1v1.1h-1.1ZM25.2 21.9h1.1v1.1h-1.1ZM25.2 23h1.1v1.1h-1.1ZM25.2 27.3h1.1v1.1h-1.1ZM25.2 31.7h1.1v1.1h-1.1ZM25.2 36.1h1.1v1.1h-1.1ZM25.2 37.2h1.1v1.1h-1.1ZM25.2 49.2h1.1v1.1h-1.1ZM25.2 52.5h1.1v1.1h-1.1ZM25.2 53.6h1.1v1.1h-1.1ZM25.2 54.7h1.1v1.1h-1.1ZM25.2 59.1h1.1v1.1h-1.1ZM25.2 60.2h1.1v1.1h-1.1ZM25.2 64.5h1.1v1.1h-1.1ZM25.2 66.7h1.1v1.1h-1.1ZM26.2 6.6h1.1v1.1h-1.1ZM26.2 15.3h1.1v1.1h-1.1ZM26.2 17.5h1.1v1.1h-1.1ZM26.2 20.8h1.1v1.1h-1.1ZM26.2 25.2h1.1v1.1h-1.1ZM26.2 42.7h1.1v1.1h-1.1ZM26.2 44.8h1.1v1.1h-1.1ZM26.2 51.4h1.1v1.1h-1.1ZM26.2 56.9h1.1v1.1h-1.1ZM26.2 61.2h1.1v1.1h-1.1ZM26.2 62.3h1.1v1.1h-1.1ZM27.3 1.1h1.1v1.1h-1.1ZM27.3 2.2h1.1v1.1h-1.1ZM27.3 6.6h1.1v1.1h-1.1ZM27.3 8.8h1.1v1.1h-1.1ZM27.3 12h1.1v1.1h-1.1ZM27.3 15.3h1.1v1.1h-1.1ZM27.3 25.2h1.1v1.1h-1.1ZM27.3 29.5h1.1v1.1h-1.1ZM27.3 37.2h1.1v1.1h-1.1ZM27.3 41.6h1.1v1.1h-1.1ZM27.3 43.8h1.1v1.1h-1.1ZM27.3 47h1.1v1.1h-1.1ZM27.3 54.7h1.1v1.1h-1.1ZM27.3 61.2h1.1v1.1h-1.1ZM27.3 62.3h1.1v1.1h-1.1ZM27.3 64.5h1.1v1.1h-1.1ZM27.3 65.6h1.1v1.1h-1.1ZM27.3 66.7h1.1v1.1h-1.1ZM28.4 14.2h1.1v1.1h-1.1ZM28.4 15.3h1.1v1.1h-1.1ZM28.4 37.2h1.1v1.1h-1.1ZM28.4 41.6h1.1v1.1h-1.1ZM29.5 0h1.1v1.1h-1.1ZM29.5 2.2h1.1v1.1h-1.1ZM29.5 8.8h1.1v1.1h-1.1ZM29.5 9.8h1.1v1.1h-1.1ZM29.5 12h1.1v1.1h-1.1ZM29.5 19.7h1.1v1.1h-1.1ZM29.5 27.3h1.1v1.1h-1.1ZM29.5 29.5h1.1v1.1h-1.1ZM29.5 30.6h1.1v1.1h-1.1ZM29.5 31.7h1.1v1.1h-1.1ZM29.5 43.8h1.1v1.1h-1.1ZM29.5 44.8h1.1v1.1h-1.1ZM29.5 48.1h1.1v1.1h-1.1ZM29.5 49.2h1.1v1.1h-1.1ZM29.5 51.4h1.1v1.1h-1.1ZM29.5 53.6h1.1v1.1h-1.1ZM29.5 58h1.1v1.1h-1.1ZM29.5 65.6h1.1v1.1h-1.1ZM29.5 66.7h1.1v1.1h-1.1ZM30.6 8.8h1.1v1.1h-1.1ZM30.6 14.2h1.1v1.1h-1.1ZM30.6 16.4h1.1v1.1h-1.1ZM30.6 31.7h1.1v1.1h-1.1ZM30.6 56.9h1.1v1.1h-1.1ZM30.6 58h1.1v1.1h-1.1ZM31.7 2.2h1.1v1.1h-1.1ZM31.7 6.6h1.1v1.1h-1.1ZM31.7 10.9h1.1v1.1h-1.1ZM31.7 16.4h1.1v1.1h-1.1ZM31.7 25.2h1.1v1.1h-1.1ZM31.7 27.3h1.1v1.1h-1.1ZM31.7 28.4h1.1v1.1h-1.1ZM31.7 33.9h1.1v1.1h-1.1ZM31.7 39.4h1.1v1.1h-1.1ZM31.7 41.6h1.1v1.1h-1.1ZM31.7 44.8h1.1v1.1h-1.1ZM31.7 45.9h1.1v1.1h-1.1ZM31.7 51.4h1.1v1.1h-1.1ZM31.7 55.8h1.1v1.1h-1.1ZM31.7 56.9h1.1v1.1h-1.1ZM31.7 58h1.1v1.1h-1.1ZM31.7 60.2h1.1v1.1h-1.1ZM31.7 62.3h1.1v1.1h-1.1ZM31.7 67.8h1.1v1.1h-1.1ZM32.8 1.1h1.1v1.1h-1.1ZM32.8 4.4h1.1v1.1h-1.1ZM32.8 5.5h1.1v1.1h-1.1ZM32.8 8.8h1.1v1.1h-1.1ZM32.8 16.4h1.1v1.1h-1.1ZM32.8 32.8h1.1v1.1h-1.1ZM32.8 45.9h1.1v1.1h-1.1ZM32.8 47h1.1v1.1h-1.1ZM32.8 52.5h1.1v1.1h-1.1ZM32.8 54.7h1.1v1.1h-1.1ZM32.8 56.9h1.1v1.1h-1.1ZM32.8 64.5h1.1v1.1h-1.1ZM32.8 65.6h1.1v1.1h-1.1ZM33.9 3.3h1.1v1.1h-1.1ZM33.9 8.8h1.1v1.1h-1.1ZM33.9 9.8h1.1v1.1h-1.1ZM33.9 14.2h1.1v1.1h-1.1ZM33.9 15.3h1.1v1.1h-1.1ZM33.9 19.7h1.1v1.1h-1.1ZM33.9 27.3h1.1v1.1h-1.1ZM33.9 39.4h1.1v1.1h-1.1ZM33.9 41.6h1.1v1.1h-1.1ZM33.9 48.1h1.1v1.1h-1.1ZM33.9 52.5h1.1v1.1h-1.1ZM33.9 56.9h1.1v1.1h-1.1ZM33.9 58h1.1v1.1h-1.1ZM35 1.1h1.1v1.1h-1.1ZM35 9.8h1.1v1.1h-1.1ZM35 14.2h1.1v1.1h-1.1ZM35 20.8h1.1v1.1h-1.1ZM35 23h1.1v1.1h-1.1ZM35 25.2h1.1v1.1h-1.1ZM35 29.5h1.1v1.1h-1.1ZM35 31.7h1.1v1.1h-1.1ZM35 37.2h1.1v1.1h-1.1ZM35 38.3h1.1v1.1h-1.1ZM35 48.1h1.1v1.1h-1.1ZM35 54.7h1.1v1.1h-1.1ZM35 60.2h1.1v1.1h-1.1ZM35 64.5h1.1v1.1h-1.1ZM35 65.6h1.1v1.1h-1.1ZM36.1 0h1.1v1.1h-1.1ZM36.1 9.8h1.1v1.1h-1.1ZM36.1 14.2h1.1v1.1h-1.1ZM36.1 23h1.1v1.1h-1.1ZM36.1 24.1h1.1v1.1h-1.1ZM36.1 25.2h1.1v1.1h-1.1ZM36.1 27.3h1.1v1.1h-1.1ZM36.1 42.7h1.1v1.1h-1.1ZM36.1 48.1h1.1v1.1h-1.1ZM36.1 56.9h1.1v1.1h-1.1ZM37.2 6.6h1.1v1.1h-1.1ZM37.2 9.8h1.1v1.1h-1.1ZM37.2 15.3h1.1v1.1h-1.1ZM37.2 18.6h1.1v1.1h-1.1ZM37.2 20.8h1.1v1.1h-1.1ZM37.2 21.9h1.1v1.1h-1.1ZM37.2 23h1.1v1.1h-1.1ZM37.2 27.3h1.1v1.1h-1.1ZM37.2 33.9h1.1v1.1h-1.1ZM37.2 38.3h1.1v1.1h-1.1ZM37.2 50.3h1.1v1.1h-1.1ZM37.2 58h1.1v1.1h-1.1ZM38.3 0h1.1v1.1h-1.1ZM38.3 30.6h1.1v1.1h-1.1ZM38.3 33.9h1.1v1.1h-1.1ZM38.3 43.8h1.1v1.1h-1.1ZM38.3 50.3h1.1v1.1h-1.1ZM39.4 4.4h1.1v1.1h-1.1ZM39.4 9.8h1.1v1.1h-1.1ZM39.4 12h1.1v1.1h-1.1ZM39.4 13.1h1.1v1.1h-1.1ZM39.4 14.2h1.1v1.1h-1.1ZM39.4 17.5h1.1v1.1h-1.1ZM39.4 21.9h1.1v1.1h-1.1ZM39.4 31.7h1.1v1.1h-1.1ZM39.4 41.6h1.1v1.1h-1.1ZM39.4 45.9h1.1v1.1h-1.1ZM39.4 47h1.1v1.1h-1.1ZM39.4 48.1h1.1v1.1h-1.1ZM39.4 54.7h1.1v1.1h-1.1ZM39.4 55.8h1.1v1.1h-1.1ZM39.4 60.2h1.1v1.1h-1.1ZM39.4 64.5h1.1v1.1h-1.1ZM39.4 65.6h1.1v1.1h-1.1ZM40.5 3.3h1.1v1.1h-1.1ZM40.5 5.5h1.1v1.1h-1.1ZM40.5 6.6h1.1v1.1h-1.1ZM40.5 15.3h1.1v1.1h-1.1ZM40.5 16.4h1.1v1.1h-1.1ZM40.5 21.9h1.1v1.1h-1.1ZM40.5 26.2h1.1v1.1h-1.1ZM40.5 27.3h1.1v1.1h-1.1ZM40.5 35h1.1v1.1h-1.1ZM40.5 40.5h1.1v1.1h-1.1ZM40.5 45.9h1.1v1.1h-1.1ZM40.5 47h1.1v1.1h-1.1ZM40.5 53.6h1.1v1.1h-1.1ZM40.5 63.4h1.1v1.1h-1.1ZM41.6 1.1h1.1v1.1h-1.1ZM41.6 3.3h1.1v1.1h-1.1ZM41.6 6.6h1.1v1.1h-1.1ZM41.6 8.8h1.1v1.1h-1.1ZM41.6 15.3h1.1v1.1h-1.1ZM41.6 17.5h1.1v1.1h-1.1ZM41.6 23h1.1v1.1h-1.1ZM41.6 32.8h1.1v1.1h-1.1ZM41.6 45.9h1.1v1.1h-1.1ZM41.6 50.3h1.1v1.1h-1.1ZM41.6 55.8h1.1v1.1h-1.1ZM41.6 58h1.1v1.1h-1.1ZM41.6 60.2h1.1v1.1h-1.1ZM41.6 65.6h1.1v1.1h-1.1ZM41.6 67.8h1.1v1.1h-1.1ZM42.7 4.4h1.1v1.1h-1.1ZM42.7 8.8h1.1v1.1h-1.1ZM42.7 29.5h1.1v1.1h-1.1ZM42.7 33.9h1.1v1.1h-1.1ZM42.7 41.6h1.1v1.1h-1.1ZM42.7 43.8h1.1v1.1h-1.1ZM42.7 47h1.1v1.1h-1.1ZM43.8 1.1h1.1v1.1h-1.1ZM43.8 6.6h1.1v1.1h-1.1ZM43.8 7.7h1.1v1.1h-1.1ZM43.8 12h1.1v1.1h-1.1ZM43.8 13.1h1.1v1.1h-1.1ZM43.8 15.3h1.1v1.1h-1.1ZM43.8 16.4h1.1v1.1h-1.1ZM43.8 19.7h1.1v1.1h-1.1ZM43.8 32.8h1.1v1.1h-1.1ZM43.8 33.9h1.1v1.1h-1.1ZM43.8 39.4h1.1v1.1h-1.1ZM43.8 47h1.1v1.1h-1.1ZM43.8 59.1h1.1v1.1h-1.1ZM43.8 62.3h1.1v1.1h-1.1ZM43.8 66.7h1.1v1.1h-1.1ZM44.8 8.8h1.1v1.1h-1.1ZM44.8 16.4h1.1v1.1h-1.1ZM44.8 24.1h1.1v1.1h-1.1ZM44.8 25.2h1.1v1.1h-1.1ZM44.8 33.9h1.1v1.1h-1.1ZM44.8 41.6h1.1v1.1h-1.1ZM44.8 55.8h1.1v1.1h-1.1ZM44.8 56.9h1.1v1.1h-1.1ZM44.8 60.2h1.1v1.1h-1.1ZM44.8 66.7h1.1v1.1h-1.1ZM45.9 17.5h1.1v1.1h-1.1ZM45.9 19.7h1.1v1.1h-1.1ZM45.9 27.3h1.1v1.1h-1.1ZM45.9 39.4h1.1v1.1h-1.1ZM45.9 43.8h1.1v1.1h-1.1ZM45.9 48.1h1.1v1.1h-1.1ZM45.9 49.2h1.1v1.1h-1.1ZM45.9 54.7h1.1v1.1h-1.1ZM45.9 56.9h1.1v1.1h-1.1ZM45.9 65.6h1.1v1.1h-1.1ZM45.9 67.8h1.1v1.1h-1.1ZM47 6.6h1.1v1.1h-1.1ZM47 16.4h1.1v1.1h-1.1ZM47 32.8h1.1v1.1h-1.1ZM47 47h1.1v1.1h-1.1ZM47 48.1h1.1v1.1h-1.1ZM47 55.8h1.1v1.1h-1.1ZM47 58h1.1v1.1h-1.1ZM47 67.8h1.1v1.1h-1.1ZM48.1 0h1.1v1.1h-1.1ZM48.1 4.4h1.1v1.1h-1.1ZM48.1 5.5h1.1v1.1h-1.1ZM48.1 6.6h1.1v1.1h-1.1ZM48.1 13.1h1.1v1.1h-1.1ZM48.1 14.2h1.1v1.1h-1.1ZM48.1 17.5h1.1v1.1h-1.1ZM48.1 18.6h1.1v1.1h-1.1ZM48.1 19.7h1.1v1.1h-1.1ZM48.1 28.4h1.1v1.1h-1.1ZM48.1 29.5h1.1v1.1h-1.1ZM48.1 33.9h1.1v1.1h-1.1ZM48.1 37.2h1.1v1.1h-1.1ZM48.1 39.4h1.1v1.1h-1.1ZM48.1 45.9h1.1v1.1h-1.1ZM48.1 49.2h1.1v1.1h-1.1ZM48.1 51.4h1.1v1.1h-1.1ZM48.1 58h1.1v1.1h-1.1ZM48.1 59.1h1.1v1.1h-1.1ZM48.1 63.4h1.1v1.1h-1.1ZM48.1 67.8h1.1v1.1h-1.1ZM49.2 0h1.1v1.1h-1.1ZM49.2 1.1h1.1v1.1h-1.1ZM49.2 3.3h1.1v1.1h-1.1ZM49.2 9.8h1.1v1.1h-1.1ZM49.2 13.1h1.1v1.1h-1.1ZM49.2 14.2h1.1v1.1h-1.1ZM49.2 15.3h1.1v1.1h-1.1ZM49.2 17.5h1.1v1.1h-1.1ZM49.2 23h1.1v1.1h-1.1ZM49.2 25.2h1.1v1.1h-1.1ZM49.2 26.2h1.1v1.1h-1.1ZM49.2 28.4h1.1v1.1h-1.1ZM49.2 32.8h1.1v1.1h-1.1ZM49.2 36.1h1.1v1.1h-1.1ZM49.2 45.9h1.1v1.1h-1.1ZM49.2 48.1h1.1v1.1h-1.1ZM49.2 52.5h1.1v1.1h-1.1ZM49.2 56.9h1.1v1.1h-1.1ZM49.2 65.6h1.1v1.1h-1.1ZM49.2 68.9h1.1v1.1h-1.1ZM50.3 2.2h1.1v1.1h-1.1ZM50.3 4.4h1.1v1.1h-1.1ZM50.3 19.7h1.1v1.1h-1.1ZM50.3 21.9h1.1v1.1h-1.1ZM50.3 31.7h1.1v1.1h-1.1ZM50.3 47h1.1v1.1h-1.1ZM50.3 52.5h1.1v1.1h-1.1ZM50.3 55.8h1.1v1.1h-1.1ZM50.3 66.7h1.1v1.1h-1.1ZM51.4 5.5h1.1v1.1h-1.1ZM51.4 6.6h1.1v1.1h-1.1ZM51.4 7.7h1.1v1.1h-1.1ZM51.4 14.2h1.1v1.1h-1.1ZM51.4 16.4h1.1v1.1h-1.1ZM51.4 17.5h1.1v1.1h-1.1ZM51.4 37.2h1.1v1.1h-1.1ZM51.4 38.3h1.1v1.1h-1.1ZM51.4 43.8h1.1v1.1h-1.1ZM51.4 51.4h1.1v1.1h-1.1ZM51.4 52.5h1.1v1.1h-1.1ZM51.4 54.7h1.1v1.1h-1.1ZM51.4 58h1.1v1.1h-1.1ZM51.4 59.1h1.1v1.1h-1.1ZM51.4 60.2h1.1v1.1h-1.1ZM51.4 62.3h1.1v1.1h-1.1ZM51.4 65.6h1.1v1.1h-1.1ZM51.4 66.7h1.1v1.1h-1.1ZM52.5 7.7h1.1v1.1h-1.1ZM52.5 12h1.1v1.1h-1.1ZM52.5 14.2h1.1v1.1h-1.1ZM52.5 17.5h1.1v1.1h-1.1ZM52.5 18.6h1.1v1.1h-1.1ZM52.5 21.9h1.1v1.1h-1.1ZM52.5 25.2h1.1v1.1h-1.1ZM52.5 29.5h1.1v1.1h-1.1ZM52.5 36.1h1.1v1.1h-1.1ZM52.5 39.4h1.1v1.1h-1.1ZM52.5 43.8h1.1v1.1h-1.1ZM52.5 49.2h1.1v1.1h-1.1ZM52.5 52.5h1.1v1.1h-1.1ZM52.5 60.2h1.1v1.1h-1.1ZM52.5 62.3h1.1v1.1h-1.1ZM52.5 66.7h1.1v1.1h-1.1ZM53.6 0h1.1v1.1h-1.1ZM53.6 10.9h1.1v1.1h-1.1ZM53.6 12h1.1v1.1h-1.1ZM53.6 15.3h1.1v1.1h-1.1ZM53.6 16.4h1.1v1.1h-1.1ZM53.6 23h1.1v1.1h-1.1ZM53.6 24.1h1.1v1.1h-1.1ZM53.6 30.6h1.1v1.1h-1.1ZM53.6 39.4h1.1v1.1h-1.1ZM53.6 47h1.1v1.1h-1.1ZM53.6 53.6h1.1v1.1h-1.1ZM53.6 54.7h1.1v1.1h-1.1ZM53.6 58h1.1v1.1h-1.1ZM53.6 64.5h1.1v1.1h-1.1ZM53.6 65.6h1.1v1.1h-1.1ZM54.7 7.7h1.1v1.1h-1.1ZM54.7 9.8h1.1v1.1h-1.1ZM54.7 12h1.1v1.1h-1.1ZM54.7 16.4h1.1v1.1h-1.1ZM54.7 23h1.1v1.1h-1.1ZM54.7 29.5h1.1v1.1h-1.1ZM54.7 37.2h1.1v1.1h-1.1ZM54.7 40.5h1.1v1.1h-1.1ZM54.7 44.8h1.1v1.1h-1.1ZM54.7 53.6h1.1v1.1h-1.1ZM54.7 55.8h1.1v1.1h-1.1ZM54.7 59.1h1.1v1.1h-1.1ZM54.7 63.4h1.1v1.1h-1.1ZM54.7 64.5h1.1v1.1h-1.1ZM54.7 65.6h1.1v1.1h-1.1ZM54.7 66.7h1.1v1.1h-1.1ZM54.7 67.8h1.1v1.1h-1.1ZM55.8 10.9h1.1v1.1h-1.1ZM55.8 16.4h1.1v1.1h-1.1ZM55.8 26.2h1.1v1.1h-1.1ZM55.8 30.6h1.1v1.1h-1.1ZM55.8 61.2h1.1v1.1h-1.1ZM55.8 67.8h1.1v1.1h-1.1ZM56.9 2.2h1.1v1.1h-1.1ZM56.9 3.3h1.1v1.1h-1.1ZM56.9 5.5h1.1v1.1h-1.1ZM56.9 7.7h1.1v1.1h-1.1ZM56.9 21.9h1.1v1.1h-1.1ZM56.9 24.1h1.1v1.1h-1.1ZM56.9 25.2h1.1v1.1h-1.1ZM56.9 31.7h1.1v1.1h-1.1ZM56.9 33.9h1.1v1.1h-1.1ZM56.9 37.2h1.1v1.1h-1.1ZM56.9 39.4h1.1v1.1h-1.1ZM56.9 43.8h1.1v1.1h-1.1ZM56.9 50.3h1.1v1.1h-1.1ZM56.9 51.4h1.1v1.1h-1.1ZM56.9 55.8h1.1v1.1h-1.1ZM56.9 60.2h1.1v1.1h-1.1ZM56.9 64.5h1.1v1.1h-1.1ZM56.9 67.8h1.1v1.1h-1.1ZM58 2.2h1.1v1.1h-1.1ZM58 6.6h1.1v1.1h-1.1ZM58 15.3h1.1v1.1h-1.1ZM58 18.6h1.1v1.1h-1.1ZM58 19.7h1.1v1.1h-1.1ZM58 20.8h1.1v1.1h-1.1ZM58 21.9h1.1v1.1h-1.1ZM58 24.1h1.1v1.1h-1.1ZM58 25.2h1.1v1.1h-1.1ZM58 29.5h1.1v1.1h-1.1ZM58 30.6h1.1v1.1h-1.1ZM58 31.7h1.1v1.1h-1.1ZM58 38.3h1.1v1.1h-1.1ZM58 41.6h1.1v1.1h-1.1ZM58 52.5h1.1v1.1h-1.1ZM59.1 10.9h1.1v1.1h-1.1ZM59.1 17.5h1.1v1.1h-1.1ZM59.1 23h1.1v1.1h-1.1ZM59.1 31.7h1.1v1.1h-1.1ZM59.1 38.3h1.1v1.1h-1.1ZM59.1 41.6h1.1v1.1h-1.1ZM59.1 64.5h1.1v1.1h-1.1ZM60.2 7.7h1.1v1.1h-1.1ZM60.2 14.2h1.1v1.1h-1.1ZM60.2 15.3h1.1v1.1h-1.1ZM60.2 16.4h1.1v1.1h-1.1ZM60.2 18.6h1.1v1.1h-1.1ZM60.2 23h1.1v1.1h-1.1ZM60.2 26.2h1.1v1.1h-1.1ZM60.2 33.9h1.1v1.1h-1.1ZM60.2 41.6h1.1v1.1h-1.1ZM60.2 44.8h1.1v1.1h-1.1ZM60.2 51.4h1.1v1.1h-1.1ZM60.2 52.5h1.1v1.1h-1.1ZM60.2 56.9h1.1v1.1h-1.1ZM60.2 61.2h1.1v1.1h-1.1ZM60.2 66.7h1.1v1.1h-1.1ZM60.2 68.9h1.1v1.1h-1.1ZM61.2 8.8h1.1v1.1h-1.1ZM61.2 50.3h1.1v1.1h-1.1ZM62.3 5.5h1.1v1.1h-1.1ZM62.3 6.6h1.1v1.1h-1.1ZM62.3 7.7h1.1v1.1h-1.1ZM62.3 8.8h1.1v1.1h-1.1ZM62.3 12h1.1v1.1h-1.1ZM62.3 15.3h1.1v1.1h-1.1ZM62.3 17.5h1.1v1.1h-1.1ZM62.3 18.6h1.1v1.1h-1.1ZM62.3 19.7h1.1v1.1h-1.1ZM62.3 21.9h1.1v1.1h-1.1ZM62.3 23h1.1v1.1h-1.1ZM62.3 25.2h1.1v1.1h-1.1ZM62.3 33.9h1.1v1.1h-1.1ZM62.3 37.2h1.1v1.1h-1.1ZM62.3 40.5h1.1v1.1h-1.1ZM62.3 41.6h1.1v1.1h-1.1ZM62.3 43.8h1.1v1.1h-1.1ZM62.3 45.9h1.1v1.1h-1.1ZM62.3 47h1.1v1.1h-1.1ZM62.3 56.9h1.1v1.1h-1.1ZM62.3 62.3h1.1v1.1h-1.1ZM62.3 65.6h1.1v1.1h-1.1ZM63.4 12h1.1v1.1h-1.1ZM63.4 29.5h1.1v1.1h-1.1ZM63.4 30.6h1.1v1.1h-1.1ZM63.4 33.9h1.1v1.1h-1.1ZM63.4 40.5h1.1v1.1h-1.1ZM63.4 41.6h1.1v1.1h-1.1ZM63.4 45.9h1.1v1.1h-1.1ZM63.4 50.3h1.1v1.1h-1.1ZM63.4 51.4h1.1v1.1h-1.1ZM63.4 62.3h1.1v1.1h-1.1ZM63.4 63.4h1.1v1.1h-1.1ZM63.4 65.6h1.1v1.1h-1.1ZM63.4 68.9h1.1v1.1h-1.1ZM64.5 1.1h1.1v1.1h-1.1ZM64.5 4.4h1.1v1.1h-1.1ZM64.5 10.9h1.1v1.1h-1.1ZM64.5 12h1.1v1.1h-1.1ZM64.5 13.1h1.1v1.1h-1.1ZM64.5 14.2h1.1v1.1h-1.1ZM64.5 17.5h1.1v1.1h-1.1ZM64.5 21.9h1.1v1.1h-1.1ZM64.5 31.7h1.1v1.1h-1.1ZM64.5 36.1h1.1v1.1h-1.1ZM64.5 43.8h1.1v1.1h-1.1ZM64.5 45.9h1.1v1.1h-1.1ZM64.5 54.7h1.1v1.1h-1.1ZM64.5 64.5h1.1v1.1h-1.1ZM64.5 65.6h1.1v1.1h-1.1ZM64.5 66.7h1.1v1.1h-1.1ZM64.5 67.8h1.1v1.1h-1.1ZM65.6 2.2h1.1v1.1h-1.1ZM65.6 15.3h1.1v1.1h-1.1ZM65.6 16.4h1.1v1.1h-1.1ZM65.6 18.6h1.1v1.1h-1.1ZM65.6 20.8h1.1v1.1h-1.1ZM65.6 27.3h1.1v1.1h-1.1ZM65.6 29.5h1.1v1.1h-1.1ZM65.6 32.8h1.1v1.1h-1.1ZM65.6 39.4h1.1v1.1h-1.1ZM65.6 52.5h1.1v1.1h-1.1ZM65.6 58h1.1v1.1h-1.1ZM65.6 65.6h1.1v1.1h-1.1ZM66.7 2.2h1.1v1.1h-1.1ZM66.7 3.3h1.1v1.1h-1.1ZM66.7 4.4h1.1v1.1h-1.1ZM66.7 7.7h1.1v1.1h-1.1ZM66.7 14.2h1.1v1.1h-1.1ZM66.7 15.3h1.1v1.1h-1.1ZM66.7 17.5h1.1v1.1h-1.1ZM66.7 19.7h1.1v1.1h-1.1ZM66.7 23h1.1v1.1h-1.1ZM66.7 35h1.1v1.1h-1.1ZM66.7 37.2h1.1v1.1h-1.1ZM66.7 39.4h1.1v1.1h-1.1ZM66.7 41.6h1.1v1.1h-1.1ZM66.7 45.9h1.1v1.1h-1.1ZM66.7 51.4h1.1v1.1h-1.1ZM66.7 52.5h1.1v1.1h-1.1ZM66.7 53.6h1.1v1.1h-1.1ZM66.7 55.8h1.1v1.1h-1.1ZM66.7 58h1.1v1.1h-1.1ZM66.7 64.5h1.1v1.1h-1.1ZM67.8 1.1h1.1v1.1h-1.1ZM67.8 2.2h1.1v1.1h-1.1ZM67.8 5.5h1.1v1.1h-1.1ZM67.8 8.8h1.1v1.1h-1.1ZM67.8 9.8h1.1v1.1h-1.1ZM67.8 10.9h1.1v1.1h-1.1ZM67.8 12h1.1v1.1h-1.1ZM67.8 14.2h1.1v1.1h-1.1ZM67.8 15.3h1.1v1.1h-1.1ZM67.8 19.7h1.1v1.1h-1.1ZM67.8 29.5h1.1v1.1h-1.1ZM67.8 31.7h1.1v1.1h-1.1ZM67.8 36.1h1.1v1.1h-1.1ZM67.8 38.3h1.1v1.1h-1.1ZM67.8 51.4h1.1v1.1h-1.1ZM67.8 61.2h1.1v1.1h-1.1ZM67.8 62.3h1.1v1.1h-1.1ZM67.8 66.7h1.1v1.1h-1.1ZM68.9 16.4h1.1v1.1h-1.1ZM68.9 29.5h1.1v1.1h-1.1ZM68.9 40.5h1.1v1.1h-1.1ZM68.9 47h1.1v1.1h-1.1ZM68.9 61.2h1.1v1.1h-1.1Z" fill="#f9c593"/><path d="M0 4.4h1.1v1.1h-1.1ZM0 7.7h1.1v1.1h-1.1ZM0 10.9h1.1v1.1h-1.1ZM0 14.2h1.1v1.1h-1.1ZM0 15.3h1.1v1.1h-1.1ZM0 23h1.1v1.1h-1.1ZM0 25.2h1.1v1.1h-1.1ZM0 26.2h1.1v1.1h-1.1ZM0 27.3h1.1v1.1h-1.1ZM0 30.6h1.1v1.1h-1.1ZM0 36.1h1.1v1.1h-1.1ZM0 37.2h1.1v1.1h-1.1ZM0 41.6h1.1v1.1h-1.1ZM0 43.8h1.1v1.1h-1.1ZM0 45.9h1.1v1.1h-1.1ZM0 47h1.1v1.1h-1.1ZM0 54.7h1.1v1.1h-1.1ZM0 56.9h1.1v1.1h-1.1ZM0 58h1.1v1.1h-1.1ZM0 64.5h1.1v1.1h-1.1ZM1.1 4.4h1.1v1.1h-1.1ZM1.1 7.7h1.1v1.1h-1.1ZM1.1 8.8h1.1v1.1h-1.1ZM1.1 9.8h1.1v1.1h-1.1ZM1.1 26.2h1.1v1.1h-1.1ZM1.1 27.3h1.1v1.1h-1.1ZM1.1 45.9h1.1v1.1h-1.1ZM1.1 56.9h1.1v1.1h-1.1ZM1.1 58h1.1v1.1h-1.1ZM1.1 64.5h1.1v1.1h-1.1ZM1.1 65.6h1.1v1.1h-1.1ZM2.2 1.1h1.1v1.1h-1.1ZM2.2 2.2h1.1v1.1h-1.1ZM2.2 5.5h1.1v1.1h-1.1ZM2.2 9.8h1.1v1.1h-1.1ZM2.2 14.2h1.1v1.1h-1.1ZM2.2 16.4h1.1v1.1h-1.1ZM2.2 18.6h1.1v1.1h-1.1ZM2.2 19.7h1.1v1.1h-1.1ZM2.2 27.3h1.1v1.1h-1.1ZM2.2 40.5h1.1v1.1h-1.1ZM2.2 43.8h1.1v1.1h-1.1ZM2.2 51.4h1.1v1.1h-1.1ZM2.2 56.9h1.1v1.1h-1.1ZM2.2 58h1.1v1.1h-1.1ZM2.2 63.4h1.1v1.1h-1.1ZM2.2 66.7h1.1v1.1h-1.1ZM3.3 1.1h1.1v1.1h-1.1ZM3.3 3.3h1.1v1.1h-1.1ZM3.3 8.8h1.1v1.1h-1.1ZM3.3 12h1.1v1.1h-1.1ZM3.3 16.4h1.1v1.1h-1.1ZM3.3 19.7h1.1v1.1h-1.1ZM3.3 20.8h1.1v1.1h-1.1ZM3.3 25.2h1.1v1.1h-1.1ZM3.3 27.3h1.1v1.1h-1.1ZM3.3 32.8h1.1v1.1h-1.1ZM3.3 33.9h1.1v1.1h-1.1ZM3.3 36.1h1.1v1.1h-1.1ZM3.3 39.4h1.1v1.1h-1.1ZM3.3 45.9h1.1v1.1h-1.1ZM3.3 53.6h1.1v1.1h-1.1ZM3.3 56.9h1.1v1.1h-1.1ZM3.3 61.2h1.1v1.1h-1.1ZM3.3 65.6h1.1v1.1h-1.1ZM3.3 66.7h1.1v1.1h-1.1ZM3.3 67.8h1.1v1.1h-1.1ZM4.4 2.2h1.1v1.1h-1.1ZM4.4 3.3h1.1v1.1h-1.1ZM4.4 10.9h1.1v1.1h-1.1ZM4.4 30.6h1.1v1.1h-1.1ZM4.4 35h1.1v1.1h-1.1ZM4.4 36.1h1.1v1.1h-1.1ZM4.4 37.2h1.1v1.1h-1.1ZM4.4 48.1h1.1v1.1h-1.1ZM4.4 49.2h1.1v1.1h-1.1ZM4.4 51.4h1.1v1.1h-1.1ZM4.4 53.6h1.1v1.1h-1.1ZM4.4 60.2h1.1v1.1h-1.1ZM4.4 66.7h1.1v1.1h-1.1ZM5.5 0h1.1v1.1h-1.1ZM5.5 1.1h1.1v1.1h-1.1ZM5.5 8.8h1.1v1.1h-1.1ZM5.5 12h1.1v1.1h-1.1ZM5.5 14.2h1.1v1.1h-1.1ZM5.5 15.3h1.1v1.1h-1.1ZM5.5 18.6h1.1v1.1h-1.1ZM5.5 23h1.1v1.1h-1.1ZM5.5 30.6h1.1v1.1h-1.1ZM5.5 32.8h1.1v1.1h-1.1ZM5.5 47h1.1v1.1h-1.1ZM5.5 50.3h1.1v1.1h-1.1ZM5.5 52.5h1.1v1.1h-1.1ZM5.5 53.6h1.1v1.1h-1.1ZM5.5 60.2h1.1v1.1h-1.1ZM5.5 64.5h1.1v1.1h-1.1ZM5.5 65.6h1.1v1.1h-1.1ZM5.5 66.7h1.1v1.1h-1.1ZM6.6 0h1.1v1.1h-1.1ZM6.6 5.5h1.1v1.1h-1.1ZM6.6 8.8h1.1v1.1h-1.1ZM6.6 9.8h1.1v1.1h-1.1ZM6.6 13.1h1.1v1.1h-1.1ZM6.6 14.2h1.1v1.1h-1.1ZM6.6 15.3h1.1v1.1h-1.1ZM6.6 18.6h1.1v1.1h-1.1ZM6.6 28.4h1.1v1.1h-1.1ZM6.6 32.8h1.1v1.1h-1.1ZM6.6 37.2h1.1v1.1h-1.1ZM6.6 48.1h1.1v1.1h-1.1ZM6.6 58h1.1v1.1h-1.1ZM6.6 64.5h1.1v1.1h-1.1ZM7.7 1.1h1.1v1.1h-1.1ZM7.7 8.8h1.1v1.1h-1.1ZM7.7 16.4h1.1v1.1h-1.1ZM7.7 19.7h1.1v1.1h-1.1ZM7.7 23h1.1v1.1h-1.1ZM7.7 26.2h1.1v1.1h-1.1ZM7.7 27.3h1.1v1.1h-1.1ZM7.7 29.5h1.1v1.1h-1.1ZM7.7 31.7h1.1v1.1h-1.1ZM7.7 35h1.1v1.1h-1.1ZM7.7 37.2h1.1v1.1h-1.1ZM7.7 42.7h1.1v1.1h-1.1ZM7.7 45.9h1.1v1.1h-1.1ZM7.7 66.7h1.1v1.1h-1.1ZM8.8 0h1.1v1.1h-1.1ZM8.8 1.1h1.1v1.1h-1.1ZM8.8 2.2h1.1v1.1h-1.1ZM8.8 13.1h1.1v1.1h-1.1ZM8.8 15.3h1.1v1.1h-1.1ZM8.8 16.4h1.1v1.1h-1.1ZM8.8 20.8h1.1v1.1h-1.1ZM8.8 21.9h1.1v1.1h-1.1ZM8.8 28.4h1.1v1.1h-1.1ZM8.8 33.9h1.1v1.1h-1.1ZM8.8 37.2h1.1v1.1h-1.1ZM8.8 42.7h1.1v1.1h-1.1ZM8.8 43.8h1.1v1.1h-1.1ZM8.8 52.5h1.1v1.1h-1.1ZM8.8 53.6h1.1v1.1h-1.1ZM9.8 3.3h1.1v1.1h-1.1ZM9.8 4.4h1.1v1.1h-1.1ZM9.8 5.5h1.1v1.1h-1.1ZM9.8 18.6h1.1v1.1h-1.1ZM9.8 31.7h1.1v1.1h-1.1ZM9.8 41.6h1.1v1.1h-1.1ZM9.8 43.8h1.1v1.1h-1.1ZM9.8 48.1h1.1v1.1h-1.1ZM9.8 53.6h1.1v1.1h-1.1ZM9.8 62.3h1.1v1.1h-1.1ZM9.8 65.6h1.1v1.1h-1.1ZM10.9 3.3h1.1v1.1h-1.1ZM10.9 4.4h1.1v1.1h-1.1ZM10.9 12h1.1v1.1h-1.1ZM10.9 41.6h1.1v1.1h-1.1ZM10.9 43.8h1.1v1.1h-1.1ZM10.9 44.8h1.1v1.1h-1.1ZM10.9 49.2h1.1v1.1h-1.1ZM10.9 50.3h1.1v1.1h-1.1ZM10.9 67.8h1.1v1.1h-1.1ZM12 0h1.1v1.1h-1.1ZM12 6.6h1.1v1.1h-1.1ZM12 7.7h1.1v1.1h-1.1ZM12 8.8h1.1v1.1h-1.1ZM12 17.5h1.1v1.1h-1.1ZM12 18.6h1.1v1.1h-1.1ZM12 20.8h1.1v1.1h-1.1ZM12 21.9h1.1v1.1h-1.1ZM12 27.3h1.1v1.1h-1.1ZM12 35h1.1v1.1h-1.1ZM12 37.2h1.1v1.1h-1.1ZM12 41.6h1.1v1.1h-1.1ZM12 43.8h1.1v1.1h-1.1ZM12 47h1.1v1.1h-1.1ZM12 56.9h1.1v1.1h-1.1ZM12 60.2h1.1v1.1h-1.1ZM12 62.3h1.1v1.1h-1.1ZM12 65.6h1.1v1.1h-1.1ZM13.1 1.1h1.1v1.1h-1.1ZM13.1 3.3h1.1v1.1h-1.1ZM13.1 7.7h1.1v1.1h-1.1ZM13.1 13.1h1.1v1.1h-1.1ZM13.1 21.9h1.1v1.1h-1.1ZM13.1 37.2h1.1v1.1h-1.1ZM13.1 42.7h1.1v1.1h-1.1ZM13.1 44.8h1.1v1.1h-1.1ZM13.1 52.5h1.1v1.1h-1.1ZM13.1 59.1h1.1v1.1h-1.1ZM13.1 63.4h1.1v1.1h-1.1ZM13.1 66.7h1.1v1.1h-1.1ZM13.1 68.9h1.1v1.1h-1.1ZM14.2 1.1h1.1v1.1h-1.1ZM14.2 6.6h1.1v1.1h-1.1ZM14.2 7.7h1.1v1.1h-1.1ZM14.2 9.8h1.1v1.1h-1.1ZM14.2 16.4h1.1v1.1h-1.1ZM14.2 17.5h1.1v1.1h-1.1ZM14.2 20.8h1.1v1.1h-1.1ZM14.2 38.3h1.1v1.1h-1.1ZM14.2 42.7h1.1v1.1h-1.1ZM14.2 43.8h1.1v1.1h-1.1ZM14.2 52.5h1.1v1.1h-1.1ZM14.2 56.9h1.1v1.1h-1.1ZM14.2 58h1.1v1.1h-1.1ZM14.2 64.5h1.1v1.1h-1.1ZM14.2 65.6h1.1v1.1h-1.1ZM14.2 68.9h1.1v1.1h-1.1ZM15.3 0h1.1v1.1h-1.1ZM15.3 3.3h1.1v1.1h-1.1ZM15.3 8.8h1.1v1.1h-1.1ZM15.3 15.3h1.1v1.1h-1.1ZM15.3 16.4h1.1v1.1h-1.1ZM15.3 25.2h1.1v1.1h-1.1ZM15.3 29.5h1.1v1.1h-1.1ZM15.3 37.2h1.1v1.1h-1.1ZM15.3 45.9h1.1v1.1h-1.1ZM15.3 47h1.1v1.1h-1.1ZM15.3 51.4h1.1v1.1h-1.1ZM15.3 53.6h1.1v1.1h-1.1ZM15.3 61.2h1.1v1.1h-1.1ZM15.3 62.3h1.1v1.1h-1.1ZM15.3 63.4h1.1v1.1h-1.1ZM15.3 66.7h1.1v1.1h-1.1ZM15.3 67.8h1.1v1.1h-1.1ZM16.4 4.4h1.1v1.1h-1.1ZM16.4 8.8h1.1v1.1h-1.1ZM16.4 12h1.1v1.1h-1.1ZM16.4 14.2h1.1v1.1h-1.1ZM16.4 18.6h1.1v1.1h-1.1ZM16.4 23h1.1v1.1h-1.1ZM16.4 24.1h1.1v1.1h-1.1ZM16.4 29.5h1.1v1.1h-1.1ZM16.4 53.6h1.1v1.1h-1.1ZM16.4 54.7h1.1v1.1h-1.1ZM17.5 1.1h1.1v1.1h-1.1ZM17.5 2.2h1.1v1.1h-1.1ZM17.5 3.3h1.1v1.1h-1.1ZM17.5 4.4h1.1v1.1h-1.1ZM17.5 9.8h1.1v1.1h-1.1ZM17.5 12h1.1v1.1h-1.1ZM17.5 15.3h1.1v1.1h-1.1ZM17.5 16.4h1.1v1.1h-1.1ZM17.5 19.7h1.1v1.1h-1.1ZM17.5 23h1.1v1.1h-1.1ZM17.5 27.3h1.1v1.1h-1.1ZM17.5 28.4h1.1v1.1h-1.1ZM17.5 32.8h1.1v1.1h-1.1ZM17.5 48.1h1.1v1.1h-1.1ZM17.5 53.6h1.1v1.1h-1.1ZM17.5 63.4h1.1v1.1h-1.1ZM18.6 2.2h1.1v1.1h-1.1ZM18.6 3.3h1.1v1.1h-1.1ZM18.6 4.4h1.1v1.1h-1.1ZM18.6 8.8h1.1v1.1h-1.1ZM18.6 12h1.1v1.1h-1.1ZM18.6 23h1.1v1.1h-1.1ZM18.6 29.5h1.1v1.1h-1.1ZM18.6 31.7h1.1v1.1h-1.1ZM18.6 33.9h1.1v1.1h-1.1ZM18.6 47h1.1v1.1h-1.1ZM18.6 52.5h1.1v1.1h-1.1ZM18.6 60.2h1.1v1.1h-1.1ZM18.6 67.8h1.1v1.1h-1.1ZM19.7 3.3h1.1v1.1h-1.1ZM19.7 4.4h1.1v1.1h-1.1ZM19.7 14.2h1.1v1.1h-1.1ZM19.7 17.5h1.1v1.1h-1.1ZM19.7 18.6h1.1v1.1h-1.1ZM19.7 19.7h1.1v1.1h-1.1ZM19.7 20.8h1.1v1.1h-1.1ZM19.7 38.3h1.1v1.1h-1.1ZM19.7 39.4h1.1v1.1h-1.1ZM19.7 49.2h1.1v1.1h-1.1ZM19.7 51.4h1.1v1.1h-1.1ZM19.7 53.6h1.1v1.1h-1.1ZM19.7 56.9h1.1v1.1h-1.1ZM19.7 64.5h1.1v1.1h-1.1ZM20.8 7.7h1.1v1.1h-1.1ZM20.8 17.5h1.1v1.1h-1.1ZM20.8 18.6h1.1v1.1h-1.1ZM20.8 19.7h1.1v1.1h-1.1ZM20.8 23h1.1v1.1h-1.1ZM20.8 27.3h1.1v1.1h-1.1ZM20.8 30.6h1.1v1.1h-1.1ZM20.8 31.7h1.1v1.1h-1.1ZM20.8 32.8h1.1v1.1h-1.1ZM20.8 36.1h1.1v1.1h-1.1ZM20.8 48.1h1.1v1.1h-1.1ZM20.8 50.3h1.1v1.1h-1.1ZM20.8 52.5h1.1v1.1h-1.1ZM20.8 58h1.1v1.1h-1.1ZM20.8 62.3h1.1v1.1h-1.1ZM21.9 0h1.1v1.1h-1.1ZM21.9 6.6h1.1v1.1h-1.1ZM21.9 7.7h1.1v1.1h-1.1ZM21.9 8.8h1.1v1.1h-1.1ZM21.9 9.8h1.1v1.1h-1.1ZM21.9 25.2h1.1v1.1h-1.1ZM21.9 32.8h1.1v1.1h-1.1ZM21.9 33.9h1.1v1.1h-1.1ZM21.9 37.2h1.1v1.1h-1.1ZM21.9 39.4h1.1v1.1h-1.1ZM21.9 41.6h1.1v1.1h-1.1ZM21.9 44.8h1.1v1.1h-1.1ZM21.9 48.1h1.1v1.1h-1.1ZM21.9 49.2h1.1v1.1h-1.1ZM21.9 60.2h1.1v1.1h-1.1ZM21.9 64.5h1.1v1.1h-1.1ZM23 0h1.1v1.1h-1.1ZM23 14.2h1.1v1.1h-1.1ZM23 16.4h1.1v1.1h-1.1ZM23 20.8h1.1v1.1h-1.1ZM23 21.9h1.1v1.1h-1.1ZM23 27.3h1.1v1.1h-1.1ZM23 28.4h1.1v1.1h-1.1ZM23 31.7h1.1v1.1h-1.1ZM23 37.2h1.1v1.1h-1.1ZM23 41.6h1.1v1.1h-1.1ZM23 42.7h1.1v1.1h-1.1ZM23 43.8h1.1v1.1h-1.1ZM23 45.9h1.1v1.1h-1.1ZM23 47h1.1v1.1h-1.1ZM23 48.1h1.1v1.1h-1.1ZM23 49.2h1.1v1.1h-1.1ZM23 54.7h1.1v1.1h-1.1ZM23 62.3h1.1v1.1h-1.1ZM23 66.7h1.1v1.1h-1.1ZM24.1 1.1h1.1v1.1h-1.1ZM24.1 12h1.1v1.1h-1.1ZM24.1 16.4h1.1v1.1h-1.1ZM24.1 20.8h1.1v1.1h-1.1ZM24.1 23h1.1v1.1h-1.1ZM24.1 26.2h1.1v1.1h-1.1ZM24.1 44.8h1.1v1.1h-1.1ZM24.1 55.8h1.1v1.1h-1.1ZM24.1 58h1.1v1.1h-1.1ZM25.2 2.2h1.1v1.1h-1.1ZM25.2 3.3h1.1v1.1h-1.1ZM25.2 6.6h1.1v1.1h-1.1ZM25.2 7.7h1.1v1.1h-1.1ZM25.2 13.1h1.1v1.1h-1.1ZM25.2 20.8h1.1v1.1h-1.1ZM25.2 28.4h1.1v1.1h-1.1ZM25.2 29.5h1.1v1.1h-1.1ZM25.2 32.8h1.1v1.1h-1.1ZM25.2 35h1.1v1.1h-1.1ZM25.2 38.3h1.1v1.1h-1.1ZM25.2 39.4h1.1v1.1h-1.1ZM25.2 41.6h1.1v1.1h-1.1ZM25.2 43.8h1.1v1.1h-1.1ZM25.2 44.8h1.1v1.1h-1.1ZM25.2 47h1.1v1.1h-1.1ZM25.2 48.1h1.1v1.1h-1.1ZM25.2 58h1.1v1.1h-1.1ZM25.2 61.2h1.1v1.1h-1.1ZM25.2 62.3h1.1v1.1h-1.1ZM25.2 65.6h1.1v1.1h-1.1ZM26.2 4.4h1.1v1.1h-1.1ZM26.2 5.5h1.1v1.1h-1.1ZM26.2 19.7h1.1v1.1h-1.1ZM26.2 33.9h1.1v1.1h-1.1ZM26.2 40.5h1.1v1.1h-1.1ZM26.2 50.3h1.1v1.1h-1.1ZM26.2 52.5h1.1v1.1h-1.1ZM26.2 58h1.1v1.1h-1.1ZM26.2 66.7h1.1v1.1h-1.1ZM26.2 67.8h1.1v1.1h-1.1ZM27.3 0h1.1v1.1h-1.1ZM27.3 4.4h1.1v1.1h-1.1ZM27.3 9.8h1.1v1.1h-1.1ZM27.3 14.2h1.1v1.1h-1.1ZM27.3 17.5h1.1v1.1h-1.1ZM27.3 18.6h1.1v1.1h-1.1ZM27.3 27.3h1.1v1.1h-1.1ZM27.3 28.4h1.1v1.1h-1.1ZM27.3 31.7h1.1v1.1h-1.1ZM27.3 33.9h1.1v1.1h-1.1ZM27.3 45.9h1.1v1.1h-1.1ZM27.3 48.1h1.1v1.1h-1.1ZM27.3 52.5h1.1v1.1h-1.1ZM27.3 58h1.1v1.1h-1.1ZM27.3 63.4h1.1v1.1h-1.1ZM28.4 2.2h1.1v1.1h-1.1ZM28.4 6.6h1.1v1.1h-1.1ZM28.4 9.8h1.1v1.1h-1.1ZM28.4 12h1.1v1.1h-1.1ZM28.4 35h1.1v1.1h-1.1ZM28.4 40.5h1.1v1.1h-1.1ZM28.4 42.7h1.1v1.1h-1.1ZM28.4 53.6h1.1v1.1h-1.1ZM29.5 1.1h1.1v1.1h-1.1ZM29.5 14.2h1.1v1.1h-1.1ZM29.5 15.3h1.1v1.1h-1.1ZM29.5 25.2h1.1v1.1h-1.1ZM29.5 26.2h1.1v1.1h-1.1ZM29.5 32.8h1.1v1.1h-1.1ZM29.5 33.9h1.1v1.1h-1.1ZM29.5 39.4h1.1v1.1h-1.1ZM29.5 41.6h1.1v1.1h-1.1ZM29.5 45.9h1.1v1.1h-1.1ZM29.5 56.9h1.1v1.1h-1.1ZM29.5 59.1h1.1v1.1h-1.1ZM29.5 60.2h1.1v1.1h-1.1ZM29.5 62.3h1.1v1.1h-1.1ZM29.5 67.8h1.1v1.1h-1.1ZM30.6 7.7h1.1v1.1h-1.1ZM30.6 9.8h1.1v1.1h-1.1ZM30.6 13.1h1.1v1.1h-1.1ZM30.6 18.6h1.1v1.1h-1.1ZM30.6 20.8h1.1v1.1h-1.1ZM30.6 29.5h1.1v1.1h-1.1ZM30.6 48.1h1.1v1.1h-1.1ZM30.6 53.6h1.1v1.1h-1.1ZM30.6 55.8h1.1v1.1h-1.1ZM30.6 65.6h1.1v1.1h-1.1ZM30.6 67.8h1.1v1.1h-1.1ZM31.7 0h1.1v1.1h-1.1ZM31.7 7.7h1.1v1.1h-1.1ZM31.7 8.8h1.1v1.1h-1.1ZM31.7 12h1.1v1.1h-1.1ZM31.7 19.7h1.1v1.1h-1.1ZM31.7 20.8h1.1v1.1h-1.1ZM31.7 21.9h1.1v1.1h-1.1ZM31.7 29.5h1.1v1.1h-1.1ZM31.7 31.7h1.1v1.1h-1.1ZM31.7 32.8h1.1v1.1h-1.1ZM31.7 49.2h1.1v1.1h-1.1ZM31.7 53.6h1.1v1.1h-1.1ZM31.7 59.1h1.1v1.1h-1.1ZM31.7 64.5h1.1v1.1h-1.1ZM31.7 65.6h1.1v1.1h-1.1ZM31.7 66.7h1.1v1.1h-1.1ZM32.8 0h1.1v1.1h-1.1ZM32.8 2.2h1.1v1.1h-1.1ZM32.8 7.7h1.1v1.1h-1.1ZM32.8 9.8h1.1v1.1h-1.1ZM32.8 12h1.1v1.1h-1.1ZM32.8 25.2h1.1v1.1h-1.1ZM32.8 28.4h1.1v1.1h-1.1ZM32.8 30.6h1.1v1.1h-1.1ZM32.8 31.7h1.1v1.1h-1.1ZM32.8 35h1.1v1.1h-1.1ZM32.8 37.2h1.1v1.1h-1.1ZM32.8 41.6h1.1v1.1h-1.1ZM32.8 43.8h1.1v1.1h-1.1ZM32.8 49.2h1.1v1.1h-1.1ZM32.8 51.4h1.1v1.1h-1.1ZM32.8 53.6h1.1v1.1h-1.1ZM32.8 58h1.1v1.1h-1.1ZM33.9 1.1h1.1v1.1h-1.1ZM33.9 6.6h1.1v1.1h-1.1ZM33.9 7.7h1.1v1.1h-1.1ZM33.9 12h1.1v1.1h-1.1ZM33.9 16.4h1.1v1.1h-1.1ZM33.9 23h1.1v1.1h-1.1ZM33.9 26.2h1.1v1.1h-1.1ZM33.9 29.5h1.1v1.1h-1.1ZM33.9 32.8h1.1v1.1h-1.1ZM33.9 33.9h1.1v1.1h-1.1ZM33.9 36.1h1.1v1.1h-1.1ZM33.9 37.2h1.1v1.1h-1.1ZM33.9 42.7h1.1v1.1h-1.1ZM33.9 43.8h1.1v1.1h-1.1ZM33.9 45.9h1.1v1.1h-1.1ZM33.9 47h1.1v1.1h-1.1ZM33.9 64.5h1.1v1.1h-1.1ZM33.9 65.6h1.1v1.1h-1.1ZM33.9 68.9h1.1v1.1h-1.1ZM35 2.2h1.1v1.1h-1.1ZM35 3.3h1.1v1.1h-1.1ZM35 5.5h1.1v1.1h-1.1ZM35 8.8h1.1v1.1h-1.1ZM35 15.3h1.1v1.1h-1.1ZM35 18.6h1.1v1.1h-1.1ZM35 27.3h1.1v1.1h-1.1ZM35 30.6h1.1v1.1h-1.1ZM35 32.8h1.1v1.1h-1.1ZM35 45.9h1.1v1.1h-1.1ZM35 52.5h1.1v1.1h-1.1ZM35 56.9h1.1v1.1h-1.1ZM35 62.3h1.1v1.1h-1.1ZM36.1 10.9h1.1v1.1h-1.1ZM36.1 15.3h1.1v1.1h-1.1ZM36.1 41.6h1.1v1.1h-1.1ZM36.1 49.2h1.1v1.1h-1.1ZM36.1 53.6h1.1v1.1h-1.1ZM37.2 0h1.1v1.1h-1.1ZM37.2 5.5h1.1v1.1h-1.1ZM37.2 7.7h1.1v1.1h-1.1ZM37.2 12h1.1v1.1h-1.1ZM37.2 19.7h1.1v1.1h-1.1ZM37.2 28.4h1.1v1.1h-1.1ZM37.2 31.7h1.1v1.1h-1.1ZM37.2 35h1.1v1.1h-1.1ZM37.2 36.1h1.1v1.1h-1.1ZM37.2 37.2h1.1v1.1h-1.1ZM37.2 40.5h1.1v1.1h-1.1ZM37.2 45.9h1.1v1.1h-1.1ZM37.2 49.2h1.1v1.1h-1.1ZM37.2 52.5h1.1v1.1h-1.1ZM37.2 54.7h1.1v1.1h-1.1ZM37.2 56.9h1.1v1.1h-1.1ZM37.2 59.1h1.1v1.1h-1.1ZM37.2 60.2h1.1v1.1h-1.1ZM37.2 64.5h1.1v1.1h-1.1ZM37.2 66.7h1.1v1.1h-1.1ZM37.2 67.8h1.1v1.1h-1.1ZM38.3 8.8h1.1v1.1h-1.1ZM38.3 18.6h1.1v1.1h-1.1ZM38.3 38.3h1.1v1.1h-1.1ZM38.3 53.6h1.1v1.1h-1.1ZM38.3 55.8h1.1v1.1h-1.1ZM38.3 64.5h1.1v1.1h-1.1ZM38.3 66.7h1.1v1.1h-1.1ZM39.4 1.1h1.1v1.1h-1.1ZM39.4 3.3h1.1v1.1h-1.1ZM39.4 16.4h1.1v1.1h-1.1ZM39.4 20.8h1.1v1.1h-1.1ZM39.4 25.2h1.1v1.1h-1.1ZM39.4 29.5h1.1v1.1h-1.1ZM39.4 33.9h1.1v1.1h-1.1ZM39.4 35h1.1v1.1h-1.1ZM39.4 37.2h1.1v1.1h-1.1ZM39.4 38.3h1.1v1.1h-1.1ZM39.4 39.4h1.1v1.1h-1.1ZM39.4 49.2h1.1v1.1h-1.1ZM39.4 51.4h1.1v1.1h-1.1ZM39.4 52.5h1.1v1.1h-1.1ZM39.4 53.6h1.1v1.1h-1.1ZM39.4 58h1.1v1.1h-1.1ZM39.4 62.3h1.1v1.1h-1.1ZM39.4 67.8h1.1v1.1h-1.1ZM40.5 2.2h1.1v1.1h-1.1ZM40.5 9.8h1.1v1.1h-1.1ZM40.5 10.9h1.1v1.1h-1.1ZM40.5 33.9h1.1v1.1h-1.1ZM40.5 44.8h1.1v1.1h-1.1ZM40.5 49.2h1.1v1.1h-1.1ZM40.5 52.5h1.1v1.1h-1.1ZM40.5 55.8h1.1v1.1h-1.1ZM40.5 65.6h1.1v1.1h-1.1ZM41.6 0h1.1v1.1h-1.1ZM41.6 5.5h1.1v1.1h-1.1ZM41.6 10.9h1.1v1.1h-1.1ZM41.6 12h1.1v1.1h-1.1ZM41.6 14.2h1.1v1.1h-1.1ZM41.6 19.7h1.1v1.1h-1.1ZM41.6 20.8h1.1v1.1h-1.1ZM41.6 28.4h1.1v1.1h-1.1ZM41.6 29.5h1.1v1.1h-1.1ZM41.6 37.2h1.1v1.1h-1.1ZM41.6 39.4h1.1v1.1h-1.1ZM41.6 41.6h1.1v1.1h-1.1ZM41.6 43.8h1.1v1.1h-1.1ZM41.6 47h1.1v1.1h-1.1ZM41.6 52.5h1.1v1.1h-1.1ZM41.6 62.3h1.1v1.1h-1.1ZM41.6 66.7h1.1v1.1h-1.1ZM42.7 6.6h1.1v1.1h-1.1ZM42.7 7.7h1.1v1.1h-1.1ZM42.7 9.8h1.1v1.1h-1.1ZM42.7 23h1.1v1.1h-1.1ZM42.7 30.6h1.1v1.1h-1.1ZM42.7 42.7h1.1v1.1h-1.1ZM42.7 53.6h1.1v1.1h-1.1ZM42.7 56.9h1.1v1.1h-1.1ZM42.7 67.8h1.1v1.1h-1.1ZM42.7 68.9h1.1v1.1h-1.1ZM43.8 0h1.1v1.1h-1.1ZM43.8 2.2h1.1v1.1h-1.1ZM43.8 5.5h1.1v1.1h-1.1ZM43.8 9.8h1.1v1.1h-1.1ZM43.8 18.6h1.1v1.1h-1.1ZM43.8 21.9h1.1v1.1h-1.1ZM43.8 26.2h1.1v1.1h-1.1ZM43.8 42.7h1.1v1.1h-1.1ZM43.8 43.8h1.1v1.1h-1.1ZM43.8 49.2h1.1v1.1h-1.1ZM43.8 50.3h1.1v1.1h-1.1ZM43.8 53.6h1.1v1.1h-1.1ZM43.8 56.9h1.1v1.1h-1.1ZM43.8 58h1.1v1.1h-1.1ZM43.8 61.2h1.1v1.1h-1.1ZM43.8 64.5h1.1v1.1h-1.1ZM43.8 65.6h1.1v1.1h-1.1ZM43.8 67.8h1.1v1.1h-1.1ZM44.8 43.8h1.1v1.1h-1.1ZM44.8 45.9h1.1v1.1h-1.1ZM44.8 48.1h1.1v1.1h-1.1ZM44.8 53.6h1.1v1.1h-1.1ZM44.8 58h1.1v1.1h-1.1ZM45.9 3.3h1.1v1.1h-1.1ZM45.9 6.6h1.1v1.1h-1.1ZM45.9 7.7h1.1v1.1h-1.1ZM45.9 9.8h1.1v1.1h-1.1ZM45.9 14.2h1.1v1.1h-1.1ZM45.9 15.3h1.1v1.1h-1.1ZM45.9 18.6h1.1v1.1h-1.1ZM45.9 20.8h1.1v1.1h-1.1ZM45.9 21.9h1.1v1.1h-1.1ZM45.9 24.1h1.1v1.1h-1.1ZM45.9 25.2h1.1v1.1h-1.1ZM45.9 31.7h1.1v1.1h-1.1ZM45.9 32.8h1.1v1.1h-1.1ZM45.9 33.9h1.1v1.1h-1.1ZM45.9 45.9h1.1v1.1h-1.1ZM45.9 47h1.1v1.1h-1.1ZM45.9 52.5h1.1v1.1h-1.1ZM45.9 55.8h1.1v1.1h-1.1ZM45.9 60.2h1.1v1.1h-1.1ZM45.9 62.3h1.1v1.1h-1.1ZM47 1.1h1.1v1.1h-1.1ZM47 2.2h1.1v1.1h-1.1ZM47 3.3h1.1v1.1h-1.1ZM47 4.4h1.1v1.1h-1.1ZM47 9.8h1.1v1.1h-1.1ZM47 14.2h1.1v1.1h-1.1ZM47 15.3h1.1v1.1h-1.1ZM47 19.7h1.1v1.1h-1.1ZM47 20.8h1.1v1.1h-1.1ZM47 21.9h1.1v1.1h-1.1ZM47 23h1.1v1.1h-1.1ZM47 31.7h1.1v1.1h-1.1ZM47 33.9h1.1v1.1h-1.1ZM47 36.1h1.1v1.1h-1.1ZM47 37.2h1.1v1.1h-1.1ZM47 39.4h1.1v1.1h-1.1ZM47 41.6h1.1v1.1h-1.1ZM47 42.7h1.1v1.1h-1.1ZM47 43.8h1.1v1.1h-1.1ZM47 49.2h1.1v1.1h-1.1ZM47 56.9h1.1v1.1h-1.1ZM47 62.3h1.1v1.1h-1.1ZM47 66.7h1.1v1.1h-1.1ZM48.1 3.3h1.1v1.1h-1.1ZM48.1 12h1.1v1.1h-1.1ZM48.1 15.3h1.1v1.1h-1.1ZM48.1 16.4h1.1v1.1h-1.1ZM48.1 24.1h1.1v1.1h-1.1ZM48.1 31.7h1.1v1.1h-1.1ZM48.1 32.8h1.1v1.1h-1.1ZM48.1 36.1h1.1v1.1h-1.1ZM48.1 38.3h1.1v1.1h-1.1ZM48.1 42.7h1.1v1.1h-1.1ZM48.1 48.1h1.1v1.1h-1.1ZM48.1 52.5h1.1v1.1h-1.1ZM48.1 53.6h1.1v1.1h-1.1ZM48.1 56.9h1.1v1.1h-1.1ZM48.1 60.2h1.1v1.1h-1.1ZM48.1 66.7h1.1v1.1h-1.1ZM48.1 68.9h1.1v1.1h-1.1ZM49.2 4.4h1.1v1.1h-1.1ZM49.2 18.6h1.1v1.1h-1.1ZM49.2 20.8h1.1v1.1h-1.1ZM49.2 31.7h1.1v1.1h-1.1ZM49.2 47h1.1v1.1h-1.1ZM49.2 49.2h1.1v1.1h-1.1ZM49.2 60.2h1.1v1.1h-1.1ZM49.2 64.5h1.1v1.1h-1.1ZM50.3 7.7h1.1v1.1h-1.1ZM50.3 20.8h1.1v1.1h-1.1ZM50.3 43.8h1.1v1.1h-1.1ZM50.3 44.8h1.1v1.1h-1.1ZM50.3 49.2h1.1v1.1h-1.1ZM50.3 50.3h1.1v1.1h-1.1ZM51.4 4.4h1.1v1.1h-1.1ZM51.4 8.8h1.1v1.1h-1.1ZM51.4 9.8h1.1v1.1h-1.1ZM51.4 12h1.1v1.1h-1.1ZM51.4 18.6h1.1v1.1h-1.1ZM51.4 19.7h1.1v1.1h-1.1ZM51.4 21.9h1.1v1.1h-1.1ZM51.4 23h1.1v1.1h-1.1ZM51.4 35h1.1v1.1h-1.1ZM51.4 39.4h1.1v1.1h-1.1ZM51.4 41.6h1.1v1.1h-1.1ZM51.4 47h1.1v1.1h-1.1ZM51.4 55.8h1.1v1.1h-1.1ZM52.5 0h1.1v1.1h-1.1ZM52.5 1.1h1.1v1.1h-1.1ZM52.5 2.2h1.1v1.1h-1.1ZM52.5 3.3h1.1v1.1h-1.1ZM52.5 5.5h1.1v1.1h-1.1ZM52.5 15.3h1.1v1.1h-1.1ZM52.5 19.7h1.1v1.1h-1.1ZM52.5 20.8h1.1v1.1h-1.1ZM52.5 23h1.1v1.1h-1.1ZM52.5 27.3h1.1v1.1h-1.1ZM52.5 28.4h1.1v1.1h-1.1ZM52.5 32.8h1.1v1.1h-1.1ZM52.5 47h1.1v1.1h-1.1ZM52.5 51.4h1.1v1.1h-1.1ZM52.5 54.7h1.1v1.1h-1.1ZM52.5 58h1.1v1.1h-1.1ZM52.5 61.2h1.1v1.1h-1.1ZM52.5 65.6h1.1v1.1h-1.1ZM52.5 67.8h1.1v1.1h-1.1ZM53.6 5.5h1.1v1.1h-1.1ZM53.6 7.7h1.1v1.1h-1.1ZM53.6 8.8h1.1v1.1h-1.1ZM53.6 14.2h1.1v1.1h-1.1ZM53.6 17.5h1.1v1.1h-1.1ZM53.6 18.6h1.1v1.1h-1.1ZM53.6 20.8h1.1v1.1h-1.1ZM53.6 21.9h1.1v1.1h-1.1ZM53.6 25.2h1.1v1.1h-1.1ZM53.6 32.8h1.1v1.1h-1.1ZM53.6 35h1.1v1.1h-1.1ZM53.6 43.8h1.1v1.1h-1.1ZM53.6 49.2h1.1v1.1h-1.1ZM53.6 51.4h1.1v1.1h-1.1ZM53.6 60.2h1.1v1.1h-1.1ZM53.6 66.7h1.1v1.1h-1.1ZM53.6 67.8h1.1v1.1h-1.1ZM54.7 4.4h1.1v1.1h-1.1ZM54.7 6.6h1.1v1.1h-1.1ZM54.7 17.5h1.1v1.1h-1.1ZM54.7 21.9h1.1v1.1h-1.1ZM54.7 25.2h1.1v1.1h-1.1ZM54.7 33.9h1.1v1.1h-1.1ZM54.7 39.4h1.1v1.1h-1.1ZM54.7 42.7h1.1v1.1h-1.1ZM54.7 45.9h1.1v1.1h-1.1ZM54.7 54.7h1.1v1.1h-1.1ZM54.7 56.9h1.1v1.1h-1.1ZM54.7 60.2h1.1v1.1h-1.1ZM55.8 4.4h1.1v1.1h-1.1ZM55.8 6.6h1.1v1.1h-1.1ZM55.8 17.5h1.1v1.1h-1.1ZM55.8 19.7h1.1v1.1h-1.1ZM55.8 56.9h1.1v1.1h-1.1ZM55.8 60.2h1.1v1.1h-1.1ZM56.9 8.8h1.1v1.1h-1.1ZM56.9 9.8h1.1v1.1h-1.1ZM56.9 15.3h1.1v1.1h-1.1ZM56.9 16.4h1.1v1.1h-1.1ZM56.9 23h1.1v1.1h-1.1ZM56.9 30.6h1.1v1.1h-1.1ZM56.9 32.8h1.1v1.1h-1.1ZM56.9 41.6h1.1v1.1h-1.1ZM56.9 47h1.1v1.1h-1.1ZM56.9 52.5h1.1v1.1h-1.1ZM56.9 53.6h1.1v1.1h-1.1ZM56.9 54.7h1.1v1.1h-1.1ZM56.9 56.9h1.1v1.1h-1.1ZM56.9 63.4h1.1v1.1h-1.1ZM56.9 65.6h1.1v1.1h-1.1ZM56.9 66.7h1.1v1.1h-1.1ZM58 3.3h1.1v1.1h-1.1ZM58 5.5h1.1v1.1h-1.1ZM58 9.8h1.1v1.1h-1.1ZM58 12h1.1v1.1h-1.1ZM58 16.4h1.1v1.1h-1.1ZM58 23h1.1v1.1h-1.1ZM58 26.2h1.1v1.1h-1.1ZM58 27.3h1.1v1.1h-1.1ZM58 32.8h1.1v1.1h-1.1ZM58 39.4h1.1v1.1h-1.1ZM58 47h1.1v1.1h-1.1ZM58 48.1h1.1v1.1h-1.1ZM58 49.2h1.1v1.1h-1.1ZM58 54.7h1.1v1.1h-1.1ZM58 58h1.1v1.1h-1.1ZM58 60.2h1.1v1.1h-1.1ZM58 62.3h1.1v1.1h-1.1ZM58 65.6h1.1v1.1h-1.1ZM59.1 8.8h1.1v1.1h-1.1ZM59.1 16.4h1.1v1.1h-1.1ZM59.1 20.8h1.1v1.1h-1.1ZM59.1 27.3h1.1v1.1h-1.1ZM59.1 51.4h1.1v1.1h-1.1ZM59.1 54.7h1.1v1.1h-1.1ZM59.1 67.8h1.1v1.1h-1.1ZM60.2 3.3h1.1v1.1h-1.1ZM60.2 4.4h1.1v1.1h-1.1ZM60.2 12h1.1v1.1h-1.1ZM60.2 17.5h1.1v1.1h-1.1ZM60.2 20.8h1.1v1.1h-1.1ZM60.2 30.6h1.1v1.1h-1.1ZM60.2 32.8h1.1v1.1h-1.1ZM60.2 35h1.1v1.1h-1.1ZM60.2 43.8h1.1v1.1h-1.1ZM60.2 45.9h1.1v1.1h-1.1ZM60.2 47h1.1v1.1h-1.1ZM60.2 48.1h1.1v1.1h-1.1ZM60.2 49.2h1.1v1.1h-1.1ZM60.2 53.6h1.1v1.1h-1.1ZM60.2 54.7h1.1v1.1h-1.1ZM60.2 58h1.1v1.1h-1.1ZM60.2 60.2h1.1v1.1h-1.1ZM61.2 0h1.1v1.1h-1.1ZM61.2 13.1h1.1v1.1h-1.1ZM61.2 24.1h1.1v1.1h-1.1ZM61.2 25.2h1.1v1.1h-1.1ZM61.2 37.2h1.1v1.1h-1.1ZM61.2 39.4h1.1v1.1h-1.1ZM61.2 54.7h1.1v1.1h-1.1ZM61.2 55.8h1.1v1.1h-1.1ZM61.2 66.7h1.1v1.1h-1.1ZM62.3 1.1h1.1v1.1h-1.1ZM62.3 2.2h1.1v1.1h-1.1ZM62.3 3.3h1.1v1.1h-1.1ZM62.3 28.4h1.1v1.1h-1.1ZM62.3 32.8h1.1v1.1h-1.1ZM62.3 36.1h1.1v1.1h-1.1ZM62.3 39.4h1.1v1.1h-1.1ZM62.3 48.1h1.1v1.1h-1.1ZM62.3 51.4h1.1v1.1h-1.1ZM62.3 53.6h1.1v1.1h-1.1ZM62.3 54.7h1.1v1.1h-1.1ZM62.3 60.2h1.1v1.1h-1.1ZM62.3 66.7h1.1v1.1h-1.1ZM62.3 67.8h1.1v1.1h-1.1ZM63.4 1.1h1.1v1.1h-1.1ZM63.4 3.3h1.1v1.1h-1.1ZM63.4 7.7h1.1v1.1h-1.1ZM63.4 16.4h1.1v1.1h-1.1ZM63.4 17.5h1.1v1.1h-1.1ZM63.4 18.6h1.1v1.1h-1.1ZM63.4 20.8h1.1v1.1h-1.1ZM63.4 31.7h1.1v1.1h-1.1ZM63.4 37.2h1.1v1.1h-1.1ZM63.4 38.3h1.1v1.1h-1.1ZM63.4 44.8h1.1v1.1h-1.1ZM63.4 54.7h1.1v1.1h-1.1ZM63.4 59.1h1.1v1.1h-1.1ZM63.4 60.2h1.1v1.1h-1.1ZM63.4 64.5h1.1v1.1h-1.1ZM63.4 66.7h1.1v1.1h-1.1ZM64.5 0h1.1v1.1h-1.1ZM64.5 5.5h1.1v1.1h-1.1ZM64.5 6.6h1.1v1.1h-1.1ZM64.5 9.8h1.1v1.1h-1.1ZM64.5 15.3h1.1v1.1h-1.1ZM64.5 16.4h1.1v1.1h-1.1ZM64.5 19.7h1.1v1.1h-1.1ZM64.5 28.4h1.1v1.1h-1.1ZM64.5 35h1.1v1.1h-1.1ZM64.5 37.2h1.1v1.1h-1.1ZM64.5 41.6h1.1v1.1h-1.1ZM64.5 47h1.1v1.1h-1.1ZM64.5 49.2h1.1v1.1h-1.1ZM64.5 51.4h1.1v1.1h-1.1ZM64.5 53.6h1.1v1.1h-1.1ZM64.5 55.8h1.1v1.1h-1.1ZM64.5 60.2h1.1v1.1h-1.1ZM64.5 61.2h1.1v1.1h-1.1ZM64.5 62.3h1.1v1.1h-1.1ZM64.5 68.9h1.1v1.1h-1.1ZM65.6 1.1h1.1v1.1h-1.1ZM65.6 4.4h1.1v1.1h-1.1ZM65.6 5.5h1.1v1.1h-1.1ZM65.6 7.7h1.1v1.1h-1.1ZM65.6 8.8h1.1v1.1h-1.1ZM65.6 17.5h1.1v1.1h-1.1ZM65.6 19.7h1.1v1.1h-1.1ZM65.6 23h1.1v1.1h-1.1ZM65.6 30.6h1.1v1.1h-1.1ZM65.6 31.7h1.1v1.1h-1.1ZM65.6 33.9h1.1v1.1h-1.1ZM65.6 47h1.1v1.1h-1.1ZM65.6 48.1h1.1v1.1h-1.1ZM65.6 60.2h1.1v1.1h-1.1ZM65.6 66.7h1.1v1.1h-1.1ZM65.6 67.8h1.1v1.1h-1.1ZM66.7 1.1h1.1v1.1h-1.1ZM66.7 8.8h1.1v1.1h-1.1ZM66.7 9.8h1.1v1.1h-1.1ZM66.7 12h1.1v1.1h-1.1ZM66.7 16.4h1.1v1.1h-1.1ZM66.7 21.9h1.1v1.1h-1.1ZM66.7 25.2h1.1v1.1h-1.1ZM66.7 30.6h1.1v1.1h-1.1ZM66.7 31.7h1.1v1.1h-1.1ZM66.7 40.5h1.1v1.1h-1.1ZM66.7 47h1.1v1.1h-1.1ZM66.7 48.1h1.1v1.1h-1.1ZM66.7 50.3h1.1v1.1h-1.1ZM66.7 56.9h1.1v1.1h-1.1ZM66.7 60.2h1.1v1.1h-1.1ZM66.7 63.4h1.1v1.1h-1.1ZM66.7 65.6h1.1v1.1h-1.1ZM66.7 66.7h1.1v1.1h-1.1ZM66.7 67.8h1.1v1.1h-1.1ZM67.8 3.3h1.1v1.1h-1.1ZM67.8 4.4h1.1v1.1h-1.1ZM67.8 13.1h1.1v1.1h-1.1ZM67.8 16.4h1.1v1.1h-1.1ZM67.8 20.8h1.1v1.1h-1.1ZM67.8 21.9h1.1v1.1h-1.1ZM67.8 23h1.1v1.1h-1.1ZM67.8 24.1h1.1v1.1h-1.1ZM67.8 28.4h1.1v1.1h-1.1ZM67.8 37.2h1.1v1.1h-1.1ZM67.8 39.4h1.1v1.1h-1.1ZM67.8 41.6h1.1v1.1h-1.1ZM67.8 42.7h1.1v1.1h-1.1ZM67.8 47h1.1v1.1h-1.1ZM67.8 49.2h1.1v1.1h-1.1ZM67.8 52.5h1.1v1.1h-1.1ZM67.8 54.7h1.1v1.1h-1.1ZM67.8 60.2h1.1v1.1h-1.1ZM68.9 2.2h1.1v1.1h-1.1ZM68.9 20.8h1.1v1.1h-1.1ZM68.9 23h1.1v1.1h-1.1ZM68.9 44.8h1.1v1.1h-1.1Z" fill="#f4a04e"/><path d="M0 0h1.1v1.1h-1.1ZM0 6.6h1.1v1.1h-1.1ZM0 8.8h1.1v1.1h-1.1ZM0 9.8h1.1v1.1h-1.1ZM0 13.1h1.1v1.1h-1.1ZM0 16.4h1.1v1.1h-1.1ZM0 18.6h1.1v1.1h-1.1ZM0 29.5h1.1v1.1h-1.1ZM0 42.7h1.1v1.1h-1.1ZM0 62.3h1.1v1.1h-1.1ZM1.1 1.1h1.1v1.1h-1.1ZM1.1 16.4h1.1v1.1h-1.1ZM1.1 20.8h1.1v1.1h-1.1ZM1.1 43.8h1.1v1.1h-1.1ZM1.1 47h1.1v1.1h-1.1ZM1.1 49.2h1.1v1.1h-1.1ZM2.2 41.6h1.1v1.1h-1.1ZM2.2 52.5h1.1v1.1h-1.1ZM2.2 55.8h1.1v1.1h-1.1ZM2.2 67.8h1.1v1.1h-1.1ZM3.3 2.2h1.1v1.1h-1.1ZM3.3 5.5h1.1v1.1h-1.1ZM3.3 29.5h1.1v1.1h-1.1ZM3.3 31.7h1.1v1.1h-1.1ZM3.3 47h1.1v1.1h-1.1ZM3.3 59.1h1.1v1.1h-1.1ZM3.3 63.4h1.1v1.1h-1.1ZM4.4 9.8h1.1v1.1h-1.1ZM4.4 18.6h1.1v1.1h-1.1ZM4.4 21.9h1.1v1.1h-1.1ZM4.4 23h1.1v1.1h-1.1ZM4.4 40.5h1.1v1.1h-1.1ZM4.4 58h1.1v1.1h-1.1ZM4.4 62.3h1.1v1.1h-1.1ZM4.4 65.6h1.1v1.1h-1.1ZM5.5 9.8h1.1v1.1h-1.1ZM5.5 16.4h1.1v1.1h-1.1ZM5.5 17.5h1.1v1.1h-1.1ZM5.5 20.8h1.1v1.1h-1.1ZM5.5 35h1.1v1.1h-1.1ZM5.5 49.2h1.1v1.1h-1.1ZM5.5 56.9h1.1v1.1h-1.1ZM5.5 58h1.1v1.1h-1.1ZM6.6 4.4h1.1v1.1h-1.1ZM6.6 39.4h1.1v1.1h-1.1ZM6.6 41.6h1.1v1.1h-1.1ZM6.6 54.7h1.1v1.1h-1.1ZM6.6 59.1h1.1v1.1h-1.1ZM6.6 60.2h1.1v1.1h-1.1ZM6.6 62.3h1.1v1.1h-1.1ZM7.7 5.5h1.1v1.1h-1.1ZM7.7 14.2h1.1v1.1h-1.1ZM7.7 15.3h1.1v1.1h-1.1ZM7.7 21.9h1.1v1.1h-1.1ZM7.7 50.3h1.1v1.1h-1.1ZM7.7 54.7h1.1v1.1h-1.1ZM7.7 62.3h1.1v1.1h-1.1ZM7.7 64.5h1.1v1.1h-1.1ZM8.8 7.7h1.1v1.1h-1.1ZM8.8 12h1.1v1.1h-1.1ZM8.8 31.7h1.1v1.1h-1.1ZM8.8 47h1.1v1.1h-1.1ZM8.8 54.7h1.1v1.1h-1.1ZM8.8 58h1.1v1.1h-1.1ZM8.8 64.5h1.1v1.1h-1.1ZM8.8 66.7h1.1v1.1h-1.1ZM9.8 1.1h1.1v1.1h-1.1ZM9.8 2.2h1.1v1.1h-1.1ZM9.8 12h1.1v1.1h-1.1ZM9.8 16.4h1.1v1.1h-1.1ZM9.8 23h1.1v1.1h-1.1ZM9.8 25.2h1.1v1.1h-1.1ZM9.8 33.9h1.1v1.1h-1.1ZM9.8 35h1.1v1.1h-1.1ZM9.8 37.2h1.1v1.1h-1.1ZM9.8 44.8h1.1v1.1h-1.1ZM9.8 47h1.1v1.1h-1.1ZM9.8 49.2h1.1v1.1h-1.1ZM9.8 52.5h1.1v1.1h-1.1ZM9.8 54.7h1.1v1.1h-1.1ZM9.8 67.8h1.1v1.1h-1.1ZM9.8 68.9h1.1v1.1h-1.1ZM10.9 2.2h1.1v1.1h-1.1ZM10.9 16.4h1.1v1.1h-1.1ZM10.9 17.5h1.1v1.1h-1.1ZM12 3.3h1.1v1.1h-1.1ZM12 12h1.1v1.1h-1.1ZM12 23h1.1v1.1h-1.1ZM12 24.1h1.1v1.1h-1.1ZM12 25.2h1.1v1.1h-1.1ZM12 30.6h1.1v1.1h-1.1ZM12 33.9h1.1v1.1h-1.1ZM12 52.5h1.1v1.1h-1.1ZM12 59.1h1.1v1.1h-1.1ZM12 68.9h1.1v1.1h-1.1ZM13.1 10.9h1.1v1.1h-1.1ZM13.1 12h1.1v1.1h-1.1ZM13.1 17.5h1.1v1.1h-1.1ZM14.2 5.5h1.1v1.1h-1.1ZM14.2 18.6h1.1v1.1h-1.1ZM14.2 19.7h1.1v1.1h-1.1ZM14.2 23h1.1v1.1h-1.1ZM14.2 25.2h1.1v1.1h-1.1ZM14.2 28.4h1.1v1.1h-1.1ZM14.2 45.9h1.1v1.1h-1.1ZM14.2 49.2h1.1v1.1h-1.1ZM14.2 51.4h1.1v1.1h-1.1ZM14.2 54.7h1.1v1.1h-1.1ZM14.2 66.7h1.1v1.1h-1.1ZM15.3 1.1h1.1v1.1h-1.1ZM15.3 7.7h1.1v1.1h-1.1ZM15.3 10.9h1.1v1.1h-1.1ZM15.3 19.7h1.1v1.1h-1.1ZM15.3 20.8h1.1v1.1h-1.1ZM15.3 23h1.1v1.1h-1.1ZM15.3 31.7h1.1v1.1h-1.1ZM15.3 35h1.1v1.1h-1.1ZM15.3 39.4h1.1v1.1h-1.1ZM15.3 40.5h1.1v1.1h-1.1ZM15.3 41.6h1.1v1.1h-1.1ZM15.3 60.2h1.1v1.1h-1.1ZM15.3 64.5h1.1v1.1h-1.1ZM16.4 2.2h1.1v1.1h-1.1ZM16.4 6.6h1.1v1.1h-1.1ZM16.4 7.7h1.1v1.1h-1.1ZM16.4 15.3h1.1v1.1h-1.1ZM16.4 21.9h1.1v1.1h-1.1ZM16.4 27.3h1.1v1.1h-1.1ZM16.4 32.8h1.1v1.1h-1.1ZM16.4 51.4h1.1v1.1h-1.1ZM16.4 59.1h1.1v1.1h-1.1ZM16.4 62.3h1.1v1.1h-1.1ZM16.4 65.6h1.1v1.1h-1.1ZM17.5 6.6h1.1v1.1h-1.1ZM17.5 8.8h1.1v1.1h-1.1ZM17.5 20.8h1.1v1.1h-1.1ZM17.5 25.2h1.1v1.1h-1.1ZM17.5 29.5h1.1v1.1h-1.1ZM17.5 37.2h1.1v1.1h-1.1ZM17.5 45.9h1.1v1.1h-1.1ZM17.5 51.4h1.1v1.1h-1.1ZM17.5 56.9h1.1v1.1h-1.1ZM17.5 58h1.1v1.1h-1.1ZM17.5 62.3h1.1v1.1h-1.1ZM17.5 66.7h1.1v1.1h-1.1ZM18.6 25.2h1.1v1.1h-1.1ZM18.6 51.4h1.1v1.1h-1.1ZM18.6 56.9h1.1v1.1h-1.1ZM18.6 58h1.1v1.1h-1.1ZM18.6 59.1h1.1v1.1h-1.1ZM19.7 2.2h1.1v1.1h-1.1ZM19.7 8.8h1.1v1.1h-1.1ZM19.7 12h1.1v1.1h-1.1ZM19.7 21.9h1.1v1.1h-1.1ZM19.7 35h1.1v1.1h-1.1ZM19.7 43.8h1.1v1.1h-1.1ZM20.8 5.5h1.1v1.1h-1.1ZM20.8 16.4h1.1v1.1h-1.1ZM20.8 26.2h1.1v1.1h-1.1ZM20.8 33.9h1.1v1.1h-1.1ZM20.8 35h1.1v1.1h-1.1ZM20.8 39.4h1.1v1.1h-1.1ZM20.8 65.6h1.1v1.1h-1.1ZM21.9 2.2h1.1v1.1h-1.1ZM21.9 4.4h1.1v1.1h-1.1ZM21.9 17.5h1.1v1.1h-1.1ZM21.9 20.8h1.1v1.1h-1.1ZM21.9 27.3h1.1v1.1h-1.1ZM21.9 47h1.1v1.1h-1.1ZM21.9 66.7h1.1v1.1h-1.1ZM23 4.4h1.1v1.1h-1.1ZM23 6.6h1.1v1.1h-1.1ZM23 12h1.1v1.1h-1.1ZM23 18.6h1.1v1.1h-1.1ZM23 56.9h1.1v1.1h-1.1ZM24.1 7.7h1.1v1.1h-1.1ZM24.1 15.3h1.1v1.1h-1.1ZM24.1 17.5h1.1v1.1h-1.1ZM24.1 62.3h1.1v1.1h-1.1ZM25.2 0h1.1v1.1h-1.1ZM25.2 4.4h1.1v1.1h-1.1ZM25.2 25.2h1.1v1.1h-1.1ZM25.2 30.6h1.1v1.1h-1.1ZM25.2 56.9h1.1v1.1h-1.1ZM27.3 5.5h1.1v1.1h-1.1ZM27.3 7.7h1.1v1.1h-1.1ZM27.3 30.6h1.1v1.1h-1.1ZM27.3 35h1.1v1.1h-1.1ZM27.3 38.3h1.1v1.1h-1.1ZM27.3 39.4h1.1v1.1h-1.1ZM27.3 53.6h1.1v1.1h-1.1ZM28.4 0h1.1v1.1h-1.1ZM28.4 7.7h1.1v1.1h-1.1ZM28.4 19.7h1.1v1.1h-1.1ZM28.4 29.5h1.1v1.1h-1.1ZM28.4 62.3h1.1v1.1h-1.1ZM29.5 5.5h1.1v1.1h-1.1ZM29.5 16.4h1.1v1.1h-1.1ZM29.5 20.8h1.1v1.1h-1.1ZM29.5 23h1.1v1.1h-1.1ZM29.5 35h1.1v1.1h-1.1ZM29.5 52.5h1.1v1.1h-1.1ZM29.5 54.7h1.1v1.1h-1.1ZM29.5 64.5h1.1v1.1h-1.1ZM30.6 49.2h1.1v1.1h-1.1ZM30.6 51.4h1.1v1.1h-1.1ZM30.6 66.7h1.1v1.1h-1.1ZM31.7 3.3h1.1v1.1h-1.1ZM31.7 4.4h1.1v1.1h-1.1ZM31.7 14.2h1.1v1.1h-1.1ZM31.7 47h1.1v1.1h-1.1ZM31.7 48.1h1.1v1.1h-1.1ZM31.7 52.5h1.1v1.1h-1.1ZM32.8 6.6h1.1v1.1h-1.1ZM32.8 17.5h1.1v1.1h-1.1ZM32.8 21.9h1.1v1.1h-1.1ZM32.8 23h1.1v1.1h-1.1ZM32.8 29.5h1.1v1.1h-1.1ZM32.8 33.9h1.1v1.1h-1.1ZM32.8 66.7h1.1v1.1h-1.1ZM33.9 0h1.1v1.1h-1.1ZM33.9 2.2h1.1v1.1h-1.1ZM33.9 4.4h1.1v1.1h-1.1ZM33.9 18.6h1.1v1.1h-1.1ZM33.9 20.8h1.1v1.1h-1.1ZM33.9 30.6h1.1v1.1h-1.1ZM33.9 35h1.1v1.1h-1.1ZM33.9 66.7h1.1v1.1h-1.1ZM33.9 67.8h1.1v1.1h-1.1ZM35 0h1.1v1.1h-1.1ZM35 16.4h1.1v1.1h-1.1ZM35 17.5h1.1v1.1h-1.1ZM35 21.9h1.1v1.1h-1.1ZM35 33.9h1.1v1.1h-1.1ZM35 41.6h1.1v1.1h-1.1ZM35 51.4h1.1v1.1h-1.1ZM35 59.1h1.1v1.1h-1.1ZM35 67.8h1.1v1.1h-1.1ZM36.1 29.5h1.1v1.1h-1.1ZM36.1 33.9h1.1v1.1h-1.1ZM36.1 67.8h1.1v1.1h-1.1ZM37.2 1.1h1.1v1.1h-1.1ZM37.2 16.4h1.1v1.1h-1.1ZM37.2 39.4h1.1v1.1h-1.1ZM37.2 41.6h1.1v1.1h-1.1ZM37.2 43.8h1.1v1.1h-1.1ZM37.2 44.8h1.1v1.1h-1.1ZM37.2 47h1.1v1.1h-1.1ZM37.2 48.1h1.1v1.1h-1.1ZM37.2 53.6h1.1v1.1h-1.1ZM37.2 62.3h1.1v1.1h-1.1ZM38.3 13.1h1.1v1.1h-1.1ZM38.3 16.4h1.1v1.1h-1.1ZM38.3 51.4h1.1v1.1h-1.1ZM38.3 59.1h1.1v1.1h-1.1ZM39.4 0h1.1v1.1h-1.1ZM39.4 6.6h1.1v1.1h-1.1ZM39.4 8.8h1.1v1.1h-1.1ZM39.4 18.6h1.1v1.1h-1.1ZM39.4 19.7h1.1v1.1h-1.1ZM39.4 23h1.1v1.1h-1.1ZM39.4 43.8h1.1v1.1h-1.1ZM40.5 12h1.1v1.1h-1.1ZM40.5 23h1.1v1.1h-1.1ZM40.5 66.7h1.1v1.1h-1.1ZM41.6 7.7h1.1v1.1h-1.1ZM41.6 9.8h1.1v1.1h-1.1ZM41.6 18.6h1.1v1.1h-1.1ZM41.6 21.9h1.1v1.1h-1.1ZM41.6 33.9h1.1v1.1h-1.1ZM41.6 35h1.1v1.1h-1.1ZM41.6 49.2h1.1v1.1h-1.1ZM41.6 54.7h1.1v1.1h-1.1ZM41.6 64.5h1.1v1.1h-1.1ZM42.7 0h1.1v1.1h-1.1ZM42.7 5.5h1.1v1.1h-1.1ZM42.7 14.2h1.1v1.1h-1.1ZM42.7 26.2h1.1v1.1h-1.1ZM42.7 32.8h1.1v1.1h-1.1ZM42.7 36.1h1.1v1.1h-1.1ZM42.7 52.5h1.1v1.1h-1.1ZM43.8 4.4h1.1v1.1h-1.1ZM43.8 8.8h1.1v1.1h-1.1ZM43.8 14.2h1.1v1.1h-1.1ZM43.8 25.2h1.1v1.1h-1.1ZM43.8 29.5h1.1v1.1h-1.1ZM43.8 31.7h1.1v1.1h-1.1ZM43.8 41.6h1.1v1.1h-1.1ZM43.8 45.9h1.1v1.1h-1.1ZM43.8 48.1h1.1v1.1h-1.1ZM43.8 51.4h1.1v1.1h-1.1ZM43.8 52.5h1.1v1.1h-1.1ZM43.8 54.7h1.1v1.1h-1.1ZM44.8 6.6h1.1v1.1h-1.1ZM44.8 12h1.1v1.1h-1.1ZM44.8 13.1h1.1v1.1h-1.1ZM44.8 15.3h1.1v1.1h-1.1ZM44.8 44.8h1.1v1.1h-1.1ZM44.8 50.3h1.1v1.1h-1.1ZM44.8 64.5h1.1v1.1h-1.1ZM45.9 0h1.1v1.1h-1.1ZM45.9 1.1h1.1v1.1h-1.1ZM45.9 23h1.1v1.1h-1.1ZM45.9 36.1h1.1v1.1h-1.1ZM45.9 40.5h1.1v1.1h-1.1ZM45.9 41.6h1.1v1.1h-1.1ZM45.9 53.6h1.1v1.1h-1.1ZM47 0h1.1v1.1h-1.1ZM47 12h1.1v1.1h-1.1ZM47 17.5h1.1v1.1h-1.1ZM47 18.6h1.1v1.1h-1.1ZM47 59.1h1.1v1.1h-1.1ZM47 60.2h1.1v1.1h-1.1ZM47 64.5h1.1v1.1h-1.1ZM48.1 8.8h1.1v1.1h-1.1ZM48.1 21.9h1.1v1.1h-1.1ZM48.1 25.2h1.1v1.1h-1.1ZM48.1 43.8h1.1v1.1h-1.1ZM48.1 47h1.1v1.1h-1.1ZM48.1 54.7h1.1v1.1h-1.1ZM48.1 55.8h1.1v1.1h-1.1ZM49.2 7.7h1.1v1.1h-1.1ZM50.3 12h1.1v1.1h-1.1ZM50.3 13.1h1.1v1.1h-1.1ZM50.3 15.3h1.1v1.1h-1.1ZM50.3 28.4h1.1v1.1h-1.1ZM50.3 29.5h1.1v1.1h-1.1ZM50.3 51.4h1.1v1.1h-1.1ZM50.3 61.2h1.1v1.1h-1.1ZM50.3 62.3h1.1v1.1h-1.1ZM50.3 68.9h1.1v1.1h-1.1ZM51.4 0h1.1v1.1h-1.1ZM51.4 2.2h1.1v1.1h-1.1ZM51.4 13.1h1.1v1.1h-1.1ZM51.4 15.3h1.1v1.1h-1.1ZM51.4 31.7h1.1v1.1h-1.1ZM51.4 32.8h1.1v1.1h-1.1ZM51.4 49.2h1.1v1.1h-1.1ZM51.4 56.9h1.1v1.1h-1.1ZM51.4 64.5h1.1v1.1h-1.1ZM51.4 67.8h1.1v1.1h-1.1ZM52.5 4.4h1.1v1.1h-1.1ZM52.5 16.4h1.1v1.1h-1.1ZM52.5 31.7h1.1v1.1h-1.1ZM52.5 53.6h1.1v1.1h-1.1ZM52.5 64.5h1.1v1.1h-1.1ZM52.5 68.9h1.1v1.1h-1.1ZM53.6 9.8h1.1v1.1h-1.1ZM53.6 41.6h1.1v1.1h-1.1ZM53.6 48.1h1.1v1.1h-1.1ZM53.6 52.5h1.1v1.1h-1.1ZM54.7 1.1h1.1v1.1h-1.1ZM54.7 20.8h1.1v1.1h-1.1ZM54.7 32.8h1.1v1.1h-1.1ZM54.7 47h1.1v1.1h-1.1ZM54.7 49.2h1.1v1.1h-1.1ZM54.7 52.5h1.1v1.1h-1.1ZM55.8 13.1h1.1v1.1h-1.1ZM55.8 14.2h1.1v1.1h-1.1ZM55.8 15.3h1.1v1.1h-1.1ZM55.8 50.3h1.1v1.1h-1.1ZM55.8 52.5h1.1v1.1h-1.1ZM56.9 1.1h1.1v1.1h-1.1ZM56.9 4.4h1.1v1.1h-1.1ZM56.9 6.6h1.1v1.1h-1.1ZM56.9 12h1.1v1.1h-1.1ZM56.9 17.5h1.1v1.1h-1.1ZM56.9 19.7h1.1v1.1h-1.1ZM56.9 28.4h1.1v1.1h-1.1ZM56.9 35h1.1v1.1h-1.1ZM56.9 45.9h1.1v1.1h-1.1ZM56.9 49.2h1.1v1.1h-1.1ZM56.9 58h1.1v1.1h-1.1ZM58 4.4h1.1v1.1h-1.1ZM58 7.7h1.1v1.1h-1.1ZM58 40.5h1.1v1.1h-1.1ZM58 64.5h1.1v1.1h-1.1ZM59.1 13.1h1.1v1.1h-1.1ZM59.1 24.1h1.1v1.1h-1.1ZM59.1 25.2h1.1v1.1h-1.1ZM59.1 49.2h1.1v1.1h-1.1ZM59.1 58h1.1v1.1h-1.1ZM59.1 62.3h1.1v1.1h-1.1ZM60.2 0h1.1v1.1h-1.1ZM60.2 6.6h1.1v1.1h-1.1ZM60.2 19.7h1.1v1.1h-1.1ZM60.2 21.9h1.1v1.1h-1.1ZM60.2 25.2h1.1v1.1h-1.1ZM60.2 62.3h1.1v1.1h-1.1ZM60.2 63.4h1.1v1.1h-1.1ZM60.2 64.5h1.1v1.1h-1.1ZM60.2 65.6h1.1v1.1h-1.1ZM61.2 3.3h1.1v1.1h-1.1ZM61.2 41.6h1.1v1.1h-1.1ZM61.2 49.2h1.1v1.1h-1.1ZM61.2 68.9h1.1v1.1h-1.1ZM62.3 0h1.1v1.1h-1.1ZM62.3 4.4h1.1v1.1h-1.1ZM62.3 9.8h1.1v1.1h-1.1ZM62.3 14.2h1.1v1.1h-1.1ZM62.3 16.4h1.1v1.1h-1.1ZM62.3 20.8h1.1v1.1h-1.1ZM62.3 26.2h1.1v1.1h-1.1ZM62.3 38.3h1.1v1.1h-1.1ZM62.3 44.8h1.1v1.1h-1.1ZM62.3 49.2h1.1v1.1h-1.1ZM62.3 59.1h1.1v1.1h-1.1ZM62.3 64.5h1.1v1.1h-1.1ZM63.4 27.3h1.1v1.1h-1.1ZM63.4 35h1.1v1.1h-1.1ZM63.4 47h1.1v1.1h-1.1ZM63.4 56.9h1.1v1.1h-1.1ZM64.5 2.2h1.1v1.1h-1.1ZM64.5 3.3h1.1v1.1h-1.1ZM64.5 7.7h1.1v1.1h-1.1ZM64.5 8.8h1.1v1.1h-1.1ZM64.5 27.3h1.1v1.1h-1.1ZM64.5 29.5h1.1v1.1h-1.1ZM64.5 33.9h1.1v1.1h-1.1ZM64.5 48.1h1.1v1.1h-1.1ZM64.5 52.5h1.1v1.1h-1.1ZM65.6 9.8h1.1v1.1h-1.1ZM65.6 21.9h1.1v1.1h-1.1ZM65.6 26.2h1.1v1.1h-1.1ZM65.6 41.6h1.1v1.1h-1.1ZM65.6 43.8h1.1v1.1h-1.1ZM65.6 51.4h1.1v1.1h-1.1ZM65.6 53.6h1.1v1.1h-1.1ZM65.6 56.9h1.1v1.1h-1.1ZM65.6 63.4h1.1v1.1h-1.1ZM65.6 64.5h1.1v1.1h-1.1ZM66.7 5.5h1.1v1.1h-1.1ZM66.7 18.6h1.1v1.1h-1.1ZM66.7 29.5h1.1v1.1h-1.1ZM66.7 33.9h1.1v1.1h-1.1ZM66.7 62.3h1.1v1.1h-1.1ZM67.8 32.8h1.1v1.1h-1.1ZM67.8 35h1.1v1.1h-1.1ZM67.8 43.8h1.1v1.1h-1.1ZM67.8 58h1.1v1.1h-1.1ZM67.8 64.5h1.1v1.1h-1.1ZM68.9 1.1h1.1v1.1h-1.1ZM68.9 19.7h1.1v1.1h-1.1ZM68.9 35h1.1v1.1h-1.1ZM68.9 38.3h1.1v1.1h-1.1ZM68.9 39.4h1.1v1.1h-1.1ZM68.9 50.3h1.1v1.1h-1.1Z" fill="#e4802a"/><path d="M0.3 21.4L1.8 18.9M0.3 26.2L1.8 24.7M0.3 39.3L1.8 40.7M0.3 66.6L1.8 64.3M2.5 36.8L4 38.6M4.6 26.2L6.4 24.7M9.3 1.8L11.2 0.3M11.6 29.1L13.1 30.7M11.6 48.6L13.1 50.4M13.7 4L16.1 2.5M16.6 39.3L18.2 40.7M18.9 36.8L21.4 38.6M22 48.6L23.9 50.4M22 53.8L23.9 55.9M26.9 4L28.7 2.5M26.9 16.6L28.7 18.2M29.1 16.6L30.7 18.2M29.1 48L30.7 45.9M31.2 13.7L33.6 16.1M34 36.1L36.1 34M34 61.4L36.1 59.6M34 69L36.1 67.1M45.9 18.2L48 16.6M45.9 22L48 23.9M45.9 26.9L48 28.7M45.9 36.1L48 34M45.9 64.3L48 66.6M51.1 59L53.3 56.5M53.8 33.6L55.9 31.2M53.8 55.9L55.9 53.8M59.6 8.9L61.4 6.9M59.6 33.6L61.4 31.2M59.6 41.1L61.4 42.8M62.2 28.7L63.7 26.9M64.3 18.9L66.6 21.4" stroke="#7a4018" stroke-width="0.55" stroke-opacity="0.5" fill="none"/></pattern></defs><rect x="48.5" y="379.8" width="94.5" height="94.5" fill="url(#pT)"/><clipPath id="q1"><rect x="49" y="426.8" width="47" height="47"/><rect x="96" y="379.8" width="47" height="47"/></clipPath><clipPath id="q2"><rect x="49" y="379.8" width="47" height="47"/><rect x="96" y="426.8" width="47" height="47"/></clipPath><g clip-path="url(#q1)" stroke="#0d4d4f" stroke-width="0.75" fill="none"><path d="M49 380.6L143 286.7" stroke-opacity="0.4" stroke-dasharray="1.3 0.9" stroke-dashoffset="2.3"/><path d="M49 384.3L143 290.4" stroke-opacity="0.5" stroke-dasharray="1.6 1.7" stroke-dashoffset="2.8"/><path d="M49 388.7L143 294.7" stroke-opacity="0.3" stroke-dasharray="1.7 1.6" stroke-dashoffset="2.7"/><path d="M49 392.8L143 298.8" stroke-opacity="0.3" stroke-dasharray="1.6 1.7" stroke-dashoffset="2"/><path d="M49 398.1L143 304.2" stroke-opacity="0.5" stroke-dasharray="1.5 2.1" stroke-dashoffset="2.3"/><path d="M49 402.4L143 308.5" stroke-opacity="0.3" stroke-dasharray="1.6 1" stroke-dashoffset="0.6"/><path d="M49 408.2L143 314.2" stroke-opacity="0.7" stroke-dasharray="1.9 1.3" stroke-dashoffset="1.8"/><path d="M49 414L143 320" stroke-opacity="0.7" stroke-dasharray="1.6 0.9" stroke-dashoffset="0.5"/><path d="M49 419.2L143 325.2" stroke-opacity="0.7" stroke-dasharray="2 2.2" stroke-dashoffset="2"/><path d="M49 422.3L143 328.3" stroke-opacity="0.6" stroke-dasharray="1 1.4" stroke-dashoffset="0.2"/><path d="M49 426.5L143 332.5" stroke-opacity="0.3" stroke-dasharray="1.1 1.1" stroke-dashoffset="1"/><path d="M49 430.9L143 337" stroke-opacity="0.3" stroke-dasharray="1.3 1.9" stroke-dashoffset="0.6"/><path d="M49 434.7L143 340.7" stroke-opacity="0.4" stroke-dasharray="1.6 1.8" stroke-dashoffset="2.1"/><path d="M49 440.2L143 346.3" stroke-opacity="0.5" stroke-dasharray="1.2 2" stroke-dashoffset="2.2"/><path d="M49 444.9L143 351" stroke-opacity="0.3" stroke-dasharray="1.7 0.8" stroke-dashoffset="0.5"/><path d="M49 448.4L143 354.5" stroke-opacity="0.5" stroke-dasharray="1.2 0.9" stroke-dashoffset="2.3"/><path d="M49 453.7L143 359.7" stroke-opacity="0.6" stroke-dasharray="2.4 0.8" stroke-dashoffset="0.6"/><path d="M49 456.9L143 362.9" stroke-opacity="0.3" stroke-dasharray="1.5 1.5" stroke-dashoffset="0.6"/><path d="M49 461L143 367" stroke-opacity="0.4" stroke-dasharray="2.3 1.2" stroke-dashoffset="1.1"/><path d="M49 464.2L143 370.3" stroke-opacity="0.6" stroke-dasharray="2.4 2.1" stroke-dashoffset="1.2"/><path d="M49 468.5L143 374.5" stroke-opacity="0.5" stroke-dasharray="1.5 1.6" stroke-dashoffset="0.9"/><path d="M49 473.9L143 380" stroke-opacity="0.6" stroke-dasharray="2.2 0.9" stroke-dashoffset="2"/><path d="M49 477.6L143 383.7" stroke-opacity="0.3" stroke-dasharray="1.5 1.8" stroke-dashoffset="1.3"/><path d="M49 483.3L143 389.4" stroke-opacity="0.7" stroke-dasharray="1.4 1.4" stroke-dashoffset="2.6"/><path d="M49 488.5L143 394.6" stroke-opacity="0.4" stroke-dasharray="1.9 2.1" stroke-dashoffset="2.6"/><path d="M49 492.7L143 398.7" stroke-opacity="0.4" stroke-dasharray="2.1 1.6" stroke-dashoffset="2"/><path d="M49 497.4L143 403.4" stroke-opacity="0.4" stroke-dasharray="2.6 1.7" stroke-dashoffset="1.1"/><path d="M49 502.9L143 408.9" stroke-opacity="0.6" stroke-dasharray="1.6 1.7" stroke-dashoffset="2.9"/><path d="M49 506.4L143 412.4" stroke-opacity="0.5" stroke-dasharray="2.1 0.9" stroke-dashoffset="2"/><path d="M49 511.5L143 417.5" stroke-opacity="0.6" stroke-dasharray="2.4 1" stroke-dashoffset="1"/><path d="M49 515.6L143 421.6" stroke-opacity="0.3" stroke-dasharray="1.2 1.5" stroke-dashoffset="0.9"/><path d="M49 520.5L143 426.5" stroke-opacity="0.6" stroke-dasharray="2.2 0.9" stroke-dashoffset="1.3"/><path d="M49 524.1L143 430.1" stroke-opacity="0.5" stroke-dasharray="2.2 1.8" stroke-dashoffset="1.6"/><path d="M49 528.8L143 434.8" stroke-opacity="0.6" stroke-dasharray="2 1.8" stroke-dashoffset="0.6"/><path d="M49 531.9L143 437.9" stroke-opacity="0.5" stroke-dasharray="1.2 1.1" stroke-dashoffset="2.9"/><path d="M49 536L143 442" stroke-opacity="0.7" stroke-dasharray="1.6 1.5" stroke-dashoffset="1.8"/><path d="M49 539.9L143 445.9" stroke-opacity="0.6" stroke-dasharray="2.2 2.2" stroke-dashoffset="1.2"/><path d="M49 543.3L143 449.4" stroke-opacity="0.3" stroke-dasharray="1.7 0.8" stroke-dashoffset="1.3"/><path d="M49 548.7L143 454.7" stroke-opacity="0.7" stroke-dasharray="2.1 1.3" stroke-dashoffset="0.5"/><path d="M49 552.4L143 458.4" stroke-opacity="0.7" stroke-dasharray="1.4 1.5" stroke-dashoffset="1.1"/><path d="M49 557.7L143 463.8" stroke-opacity="0.7" stroke-dasharray="2.5 1.4" stroke-dashoffset="2.7"/><path d="M49 562.1L143 468.1" stroke-opacity="0.4" stroke-dasharray="1.3 0.7" stroke-dashoffset="1.4"/><path d="M49 565.1L143 471.1" stroke-opacity="0.4" stroke-dasharray="1.5 1.4" stroke-dashoffset="2.2"/></g><g clip-path="url(#q2)" stroke="#0d4d4f" stroke-width="0.75" fill="none"><path d="M49 286.9L143 380.9" stroke-opacity="0.4" stroke-dasharray="2 1.5" stroke-dashoffset="0.5"/><path d="M49 291.6L143 385.5" stroke-opacity="0.4" stroke-dasharray="1.1 0.7" stroke-dashoffset="0.7"/><path d="M49 296.7L143 390.7" stroke-opacity="0.6" stroke-dasharray="1.3 1.3" stroke-dashoffset="1.3"/><path d="M49 301.9L143 395.9" stroke-opacity="0.4" stroke-dasharray="1.2 0.9" stroke-dashoffset="1.1"/><path d="M49 306.5L143 400.5" stroke-opacity="0.6" stroke-dasharray="1.3 1.5" stroke-dashoffset="2"/><path d="M49 311.8L143 405.8" stroke-opacity="0.6" stroke-dasharray="1.1 1.7" stroke-dashoffset="2.5"/><path d="M49 315.2L143 409.2" stroke-opacity="0.5" stroke-dasharray="1.1 1.8" stroke-dashoffset="0.5"/><path d="M49 320.6L143 414.6" stroke-opacity="0.6" stroke-dasharray="2.1 1.6" stroke-dashoffset="1.8"/><path d="M49 324.6L143 418.6" stroke-opacity="0.5" stroke-dasharray="1.1 1.1" stroke-dashoffset="0.6"/><path d="M49 328.1L143 422.1" stroke-opacity="0.7" stroke-dasharray="1.2 1.4" stroke-dashoffset="2.2"/><path d="M49 331.1L143 425.1" stroke-opacity="0.3" stroke-dasharray="1.6 1.7" stroke-dashoffset="2.4"/><path d="M49 334.8L143 428.8" stroke-opacity="0.6" stroke-dasharray="1.7 1.9" stroke-dashoffset="0.2"/><path d="M49 340.1L143 434.1" stroke-opacity="0.6" stroke-dasharray="2.4 1.9" stroke-dashoffset="1.1"/><path d="M49 344L143 437.9" stroke-opacity="0.4" stroke-dasharray="1.1 1.2" stroke-dashoffset="0.5"/><path d="M49 349.6L143 443.6" stroke-opacity="0.4" stroke-dasharray="2.4 1.9" stroke-dashoffset="0.4"/><path d="M49 353.8L143 447.8" stroke-opacity="0.5" stroke-dasharray="1.1 1.2" stroke-dashoffset="1"/><path d="M49 357.7L143 451.7" stroke-opacity="0.3" stroke-dasharray="1.5 1.9" stroke-dashoffset="2.4"/><path d="M49 362.4L143 456.4" stroke-opacity="0.3" stroke-dasharray="1.9 1.7" stroke-dashoffset="2.6"/><path d="M49 366.3L143 460.2" stroke-opacity="0.7" stroke-dasharray="1.6 1.4" stroke-dashoffset="0.7"/><path d="M49 370.7L143 464.7" stroke-opacity="0.5" stroke-dasharray="2.6 0.9" stroke-dashoffset="0.5"/><path d="M49 375.3L143 469.3" stroke-opacity="0.3" stroke-dasharray="1.7 1.5" stroke-dashoffset="0.6"/><path d="M49 380.8L143 474.8" stroke-opacity="0.7" stroke-dasharray="1.3 1.1" stroke-dashoffset="0.8"/><path d="M49 385.5L143 479.4" stroke-opacity="0.5" stroke-dasharray="1.7 0.6" stroke-dashoffset="1.5"/><path d="M49 391.1L143 485" stroke-opacity="0.5" stroke-dasharray="2.6 0.7" stroke-dashoffset="1"/><path d="M49 394.4L143 488.4" stroke-opacity="0.5" stroke-dasharray="2.5 0.7" stroke-dashoffset="0.7"/><path d="M49 399L143 493" stroke-opacity="0.4" stroke-dasharray="1.3 2" stroke-dashoffset="0.6"/><path d="M49 404.3L143 498.3" stroke-opacity="0.4" stroke-dasharray="1.2 1.8" stroke-dashoffset="2.5"/><path d="M49 408L143 502" stroke-opacity="0.5" stroke-dasharray="2 1.7" stroke-dashoffset="2.6"/><path d="M49 412.5L143 506.5" stroke-opacity="0.6" stroke-dasharray="1.4 1.4" stroke-dashoffset="1.3"/><path d="M49 417L143 511" stroke-opacity="0.6" stroke-dasharray="1.1 1" stroke-dashoffset="1"/><path d="M49 420.5L143 514.5" stroke-opacity="0.3" stroke-dasharray="2.3 0.6" stroke-dashoffset="0.2"/><path d="M49 424.1L143 518" stroke-opacity="0.4" stroke-dasharray="1.1 1.1" stroke-dashoffset="2.8"/><path d="M49 427.8L143 521.7" stroke-opacity="0.6" stroke-dasharray="1.9 1.1" stroke-dashoffset="0.3"/><path d="M49 431.7L143 525.7" stroke-opacity="0.4" stroke-dasharray="1.2 1.1" stroke-dashoffset="1.4"/><path d="M49 437.4L143 531.4" stroke-opacity="0.5" stroke-dasharray="1 1" stroke-dashoffset="2.5"/><path d="M49 441.4L143 535.4" stroke-opacity="0.4" stroke-dasharray="1.6 1.1" stroke-dashoffset="1.6"/><path d="M49 446.6L143 540.6" stroke-opacity="0.3" stroke-dasharray="1 0.9" stroke-dashoffset="1.9"/><path d="M49 451.8L143 545.7" stroke-opacity="0.3" stroke-dasharray="1.1 0.6" stroke-dashoffset="1.3"/><path d="M49 456.7L143 550.7" stroke-opacity="0.4" stroke-dasharray="2.6 1.2" stroke-dashoffset="2.6"/><path d="M49 461.8L143 555.8" stroke-opacity="0.6" stroke-dasharray="2.4 1" stroke-dashoffset="2.4"/><path d="M49 465.6L143 559.6" stroke-opacity="0.3" stroke-dasharray="1.4 2.1" stroke-dashoffset="1"/><path d="M49 468.9L143 562.9" stroke-opacity="0.4" stroke-dasharray="2.4 1.6" stroke-dashoffset="1.3"/><path d="M49 473.1L143 567.1" stroke-opacity="0.3" stroke-dasharray="1 1.8" stroke-dashoffset="1.2"/></g><line x1="49" y1="379.8" x2="143" y2="473.8" stroke="#0d4d4f" stroke-width="0.6" stroke-opacity="0.45"/><line x1="49" y1="473.8" x2="143" y2="379.8" stroke="#0d4d4f" stroke-width="0.7" stroke-opacity="0.7"/><line x1="44.6" y1="375.5" x2="44.6" y2="479.3" stroke="#222" stroke-width="1.2"/><line x1="44" y1="478.7" x2="147.9" y2="478.7" stroke="#222" stroke-width="1.2"/><line x1="49" y1="478.7" x2="49" y2="480.7" stroke="#333" stroke-width="0.8"/><line x1="42.6" y1="473.8" x2="44.6" y2="473.8" stroke="#333" stroke-width="0.8"/><text x="49" y="489" font-size="6.5" text-anchor="middle" fill="#444">0</text><text x="41.4" y="476.1" font-size="6.5" text-anchor="end" fill="#444">0</text><line x1="84" y1="478.7" x2="84" y2="480.7" stroke="#333" stroke-width="0.8"/><line x1="42.6" y1="438.8" x2="44.6" y2="438.8" stroke="#333" stroke-width="0.8"/><text x="84" y="489" font-size="6.5" text-anchor="middle" fill="#444">2</text><text x="41.4" y="441.1" font-size="6.5" text-anchor="end" fill="#444">2</text><line x1="119" y1="478.7" x2="119" y2="480.7" stroke="#333" stroke-width="0.8"/><line x1="42.6" y1="403.8" x2="44.6" y2="403.8" stroke="#333" stroke-width="0.8"/><text x="119" y="489" font-size="6.5" text-anchor="middle" fill="#444">4</text><text x="41.4" y="406.1" font-size="6.5" text-anchor="end" fill="#444">4</text><text transform="translate(16.2 426.6) rotate(-90)" font-size="8.3" text-anchor="middle" fill="#5a5a5a">Position within Chr4</text><text transform="translate(26.6 426.6) rotate(-90)" font-size="8.3" text-anchor="middle" fill="#5a5a5a">KZFP gene cluster (Mb)</text><text x="222" y="392" font-size="8.3" text-anchor="middle" font-style="italic">Mus musculus</text><text x="221" y="401.9" font-size="8.3" text-anchor="middle">BL6J</text><rect x="194" y="415" width="11" height="5" fill="#96d6da"/><rect x="204.9" y="415" width="11" height="5" fill="#25b7b9"/><rect x="215.8" y="415" width="11" height="5" fill="#0f7d7e"/><rect x="226.7" y="415" width="11" height="5" fill="#0a4646"/><rect x="237.6" y="415" width="11" height="5" fill="#062828"/><line x1="194" y1="420" x2="194" y2="421.6" stroke="#333" stroke-width="0.6"/><text x="194" y="429.7" font-size="6.8" text-anchor="middle" fill="#333">85</text><line x1="212.2" y1="420" x2="212.2" y2="421.6" stroke="#333" stroke-width="0.6"/><text x="212.2" y="429.7" font-size="6.8" text-anchor="middle" fill="#333">90</text><line x1="230.3" y1="420" x2="230.3" y2="421.6" stroke="#333" stroke-width="0.6"/><text x="230.3" y="429.7" font-size="6.8" text-anchor="middle" fill="#333">95</text><line x1="248.5" y1="420" x2="248.5" y2="421.6" stroke="#333" stroke-width="0.6"/><text x="248.5" y="429.7" font-size="6.8" text-anchor="middle" fill="#333">100</text><text x="221.6" y="438.6" font-size="6.8" text-anchor="middle" fill="#333">% Identity Estimate</text><rect x="51.5" y="503.7" width="123" height="123" fill="url(#pP)"/><line x1="52" y1="626.2" x2="174.5" y2="503.7" stroke="#5b2a60" stroke-width="0.7" stroke-opacity="0.7"/><line x1="45.9" y1="498.3" x2="45.9" y2="633.8" stroke="#222" stroke-width="1.2"/><line x1="45.3" y1="633.2" x2="180.5" y2="633.2" stroke="#222" stroke-width="1.2"/><line x1="52" y1="633.2" x2="52" y2="635.2" stroke="#333" stroke-width="0.8"/><line x1="43.9" y1="626.2" x2="45.9" y2="626.2" stroke="#333" stroke-width="0.8"/><text x="52" y="643.5" font-size="6.5" text-anchor="middle" fill="#444">0</text><text x="42.7" y="628.5" font-size="6.5" text-anchor="end" fill="#444">0</text><line x1="87" y1="633.2" x2="87" y2="635.2" stroke="#333" stroke-width="0.8"/><line x1="43.9" y1="591.2" x2="45.9" y2="591.2" stroke="#333" stroke-width="0.8"/><text x="87" y="643.5" font-size="6.5" text-anchor="middle" fill="#444">2</text><text x="42.7" y="593.5" font-size="6.5" text-anchor="end" fill="#444">2</text><line x1="122" y1="633.2" x2="122" y2="635.2" stroke="#333" stroke-width="0.8"/><line x1="43.9" y1="556.2" x2="45.9" y2="556.2" stroke="#333" stroke-width="0.8"/><text x="122" y="643.5" font-size="6.5" text-anchor="middle" fill="#444">4</text><text x="42.7" y="558.5" font-size="6.5" text-anchor="end" fill="#444">4</text><line x1="157" y1="633.2" x2="157" y2="635.2" stroke="#333" stroke-width="0.8"/><line x1="43.9" y1="521.2" x2="45.9" y2="521.2" stroke="#333" stroke-width="0.8"/><text x="157" y="643.5" font-size="6.5" text-anchor="middle" fill="#444">6</text><text x="42.7" y="523.5" font-size="6.5" text-anchor="end" fill="#444">6</text><text transform="translate(16.2 566.4) rotate(-90)" font-size="8.3" text-anchor="middle" fill="#5a5a5a">Position within Chr4</text><text transform="translate(26.6 566.4) rotate(-90)" font-size="8.3" text-anchor="middle" fill="#5a5a5a">KZFP gene cluster (Mb)</text><text x="222" y="531.3" font-size="8.3" text-anchor="middle" font-style="italic">Mus musculus</text><text x="221" y="541" font-size="8.3" text-anchor="middle">129S1</text><rect x="194" y="553.9" width="11" height="5" fill="#d7a7dc"/><rect x="204.9" y="553.9" width="11" height="5" fill="#b673bd"/><rect x="215.8" y="553.9" width="11" height="5" fill="#8c4492"/><rect x="226.7" y="553.9" width="11" height="5" fill="#5a2460"/><rect x="237.6" y="553.9" width="11" height="5" fill="#381438"/><line x1="194" y1="558.9" x2="194" y2="560.5" stroke="#333" stroke-width="0.6"/><text x="194" y="568.6" font-size="6.8" text-anchor="middle" fill="#333">85</text><line x1="212.2" y1="558.9" x2="212.2" y2="560.5" stroke="#333" stroke-width="0.6"/><text x="212.2" y="568.6" font-size="6.8" text-anchor="middle" fill="#333">90</text><line x1="230.3" y1="558.9" x2="230.3" y2="560.5" stroke="#333" stroke-width="0.6"/><text x="230.3" y="568.6" font-size="6.8" text-anchor="middle" fill="#333">95</text><line x1="248.5" y1="558.9" x2="248.5" y2="560.5" stroke="#333" stroke-width="0.6"/><text x="248.5" y="568.6" font-size="6.8" text-anchor="middle" fill="#333">100</text><text x="221.6" y="577.7" font-size="6.8" text-anchor="middle" fill="#333">% Identity Estimate</text><rect x="51.9" y="657.4" width="117.4" height="117.4" fill="url(#pO)"/><line x1="52.4" y1="774.3" x2="169.3" y2="657.4" stroke="#7a3a12" stroke-width="0.7" stroke-opacity="0.7"/><line x1="46.4" y1="652.1" x2="46.4" y2="782.4" stroke="#222" stroke-width="1.2"/><line x1="45.8" y1="781.8" x2="175.4" y2="781.8" stroke="#222" stroke-width="1.2"/><line x1="52.4" y1="781.8" x2="52.4" y2="783.8" stroke="#333" stroke-width="0.8"/><line x1="44.4" y1="774.3" x2="46.4" y2="774.3" stroke="#333" stroke-width="0.8"/><text x="52.4" y="792.1" font-size="6.5" text-anchor="middle" fill="#444">0</text><text x="43.2" y="776.6" font-size="6.5" text-anchor="end" fill="#444">0</text><line x1="87.4" y1="781.8" x2="87.4" y2="783.8" stroke="#333" stroke-width="0.8"/><line x1="44.4" y1="739.3" x2="46.4" y2="739.3" stroke="#333" stroke-width="0.8"/><text x="87.4" y="792.1" font-size="6.5" text-anchor="middle" fill="#444">2</text><text x="43.2" y="741.6" font-size="6.5" text-anchor="end" fill="#444">2</text><line x1="122.4" y1="781.8" x2="122.4" y2="783.8" stroke="#333" stroke-width="0.8"/><line x1="44.4" y1="704.3" x2="46.4" y2="704.3" stroke="#333" stroke-width="0.8"/><text x="122.4" y="792.1" font-size="6.5" text-anchor="middle" fill="#444">4</text><text x="43.2" y="706.6" font-size="6.5" text-anchor="end" fill="#444">4</text><line x1="157.4" y1="781.8" x2="157.4" y2="783.8" stroke="#333" stroke-width="0.8"/><line x1="44.4" y1="669.3" x2="46.4" y2="669.3" stroke="#333" stroke-width="0.8"/><text x="157.4" y="792.1" font-size="6.5" text-anchor="middle" fill="#444">6</text><text x="43.2" y="671.6" font-size="6.5" text-anchor="end" fill="#444">6</text><text transform="translate(16.2 718) rotate(-90)" font-size="8.3" text-anchor="middle" fill="#5a5a5a">Position within Chr4</text><text transform="translate(26.6 718) rotate(-90)" font-size="8.3" text-anchor="middle" fill="#5a5a5a">KZFP gene cluster (Mb)</text><text x="222" y="684.8" font-size="8.3" text-anchor="middle" font-style="italic">Mus musculus</text><text x="221" y="694.6" font-size="8.3" text-anchor="middle">CAST</text><rect x="194" y="705.9" width="11" height="5" fill="#f8a35a"/><rect x="204.9" y="705.9" width="11" height="5" fill="#ee8428"/><rect x="215.8" y="705.9" width="11" height="5" fill="#c55a1e"/><rect x="226.7" y="705.9" width="11" height="5" fill="#8e3c14"/><rect x="237.6" y="705.9" width="11" height="5" fill="#5a2a0e"/><line x1="194" y1="710.9" x2="194" y2="712.5" stroke="#333" stroke-width="0.6"/><text x="194" y="720.4" font-size="6.8" text-anchor="middle" fill="#333">85</text><line x1="212.2" y1="710.9" x2="212.2" y2="712.5" stroke="#333" stroke-width="0.6"/><text x="212.2" y="720.4" font-size="6.8" text-anchor="middle" fill="#333">90</text><line x1="230.3" y1="710.9" x2="230.3" y2="712.5" stroke="#333" stroke-width="0.6"/><text x="230.3" y="720.4" font-size="6.8" text-anchor="middle" fill="#333">95</text><line x1="248.5" y1="710.9" x2="248.5" y2="712.5" stroke="#333" stroke-width="0.6"/><text x="248.5" y="720.4" font-size="6.8" text-anchor="middle" fill="#333">100</text><text x="221.6" y="729.4" font-size="6.8" text-anchor="middle" fill="#333">% Identity Estimate</text><text x="105.6" y="803.9" font-size="8.3" text-anchor="middle">Position within Chr4</text><text x="105.6" y="813.8" font-size="8.3" text-anchor="middle">KZFP gene cluster (Mb)</text><path class="r0" d="M376.4 417C376.4 447.2 376.4 447.2 376.4 477.4L394 477.4C394 447.2 394 447.2 394 417Z"/><path class="r3" d="M396.1 417C396.1 447.2 397.3 447.2 397.3 477.4L418.2 477.4C418.2 447.2 414.1 447.2 414.1 417Z"/><path class="r4" d="M510.6 417C510.6 447.2 607.2 447.2 607.2 477.4L615.3 477.4C615.3 447.2 514.7 447.2 514.7 417Z"/><path class="r5" d="M510.6 417C510.6 447.2 564.3 447.2 564.3 477.4L563.2 477.4C563.2 447.2 512.9 447.2 512.9 417Z"/><path class="r5" d="M587.6 417C587.6 447.2 536.3 447.2 536.3 477.4L534.9 477.4C534.9 447.2 589.1 447.2 589.1 417Z"/><path class="r5" d="M445.6 417C445.6 447.2 534.2 447.2 534.2 477.4L531.8 477.4C531.8 447.2 447.5 447.2 447.5 417Z"/><path class="r4" d="M541 417C541 447.2 653.9 447.2 653.9 477.4L664.6 477.4C664.6 447.2 549.8 447.2 549.8 417Z"/><path class="r4" d="M553.3 417C553.3 447.2 469.1 447.2 469.1 477.4L476 477.4C476 447.2 560.6 447.2 560.6 417Z"/><path class="r4" d="M427.3 417C427.3 447.2 428.9 447.2 428.9 477.4L431.2 477.4C431.2 447.2 429.2 447.2 429.2 417Z"/><path class="r5" d="M541 417C541 447.2 581.8 447.2 581.8 477.4L577.1 477.4C577.1 447.2 547.4 447.2 547.4 417Z"/><path class="r4" d="M538.7 417C538.7 447.2 583.5 447.2 583.5 477.4L585.3 477.4C585.3 447.2 540.4 447.2 540.4 417Z"/><path class="r5" d="M519.2 417C519.2 447.2 481.3 447.2 481.3 477.4L479.5 477.4C479.5 447.2 521 447.2 521 417Z"/><path class="r4" d="M503 417C503 447.2 660 447.2 660 477.4L662 477.4C662 447.2 504.7 447.2 504.7 417Z"/><path class="r4" d="M566.2 417C566.2 447.2 500.6 447.2 500.6 477.4L510 477.4C510 447.2 575 447.2 575 417Z"/><path class="r4" d="M579.4 417C579.4 447.2 560.4 447.2 560.4 477.4L561.9 477.4C561.9 447.2 580.9 447.2 580.9 417Z"/><path class="r5" d="M494.9 417C494.9 447.2 414.4 447.2 414.4 477.4L412.1 477.4C412.1 447.2 496.7 447.2 496.7 417Z"/><path class="r5" d="M459.5 417C459.5 447.2 578.8 447.2 578.8 477.4L571.2 477.4C571.2 447.2 463.6 447.2 463.6 417Z"/><path class="r4" d="M494.9 417C494.9 447.2 520.1 447.2 520.1 477.4L523 477.4C523 447.2 496.7 447.2 496.7 417Z"/><path class="r5" d="M536.7 417C536.7 447.2 618.4 447.2 618.4 477.4L615.9 477.4C615.9 447.2 538.7 447.2 538.7 417Z"/><path class="r5" d="M483.3 417C483.3 447.2 502.1 447.2 502.1 477.4L493.4 477.4C493.4 447.2 488.5 447.2 488.5 417Z"/><path class="r4" d="M577.3 417C577.3 447.2 490.3 447.2 490.3 477.4L494.8 477.4C494.8 447.2 580.8 447.2 580.8 417Z"/><path class="r4" d="M587.6 417C587.6 447.2 632.2 447.2 632.2 477.4L633.5 477.4C633.5 447.2 589.1 447.2 589.1 417Z"/><path class="r5" d="M510.6 417C510.6 447.2 657.4 447.2 657.4 477.4L653.9 477.4C653.9 447.2 512.9 447.2 512.9 417Z"/><path class="r5" d="M503 417C503 447.2 478.9 447.2 478.9 477.4L474.3 477.4C474.3 447.2 507.7 447.2 507.7 417Z"/><path class="r5" d="M459.5 417C459.5 447.2 566.7 447.2 566.7 477.4L560.3 477.4C560.3 447.2 465.9 447.2 465.9 417Z"/><path class="r4" d="M475.2 417C475.2 447.2 403.9 447.2 403.9 477.4L405.7 477.4C405.7 447.2 476.9 447.2 476.9 417Z"/><path class="r4" d="M497.2 417C497.2 447.2 551 447.2 551 477.4L562 477.4C562 447.2 507.7 447.2 507.7 417Z"/><path class="r4" d="M437 417C437 447.2 426.6 447.2 426.6 477.4L431.2 477.4C431.2 447.2 442.6 447.2 442.6 417Z"/><path class="r5" d="M466.5 417C466.5 447.2 523 447.2 523 477.4L520.1 477.4C520.1 447.2 468.3 447.2 468.3 417Z"/><path class="r5" d="M494.9 417C494.9 447.2 465.6 447.2 465.6 477.4L446.9 477.4C446.9 447.2 504.7 447.2 504.7 417Z"/><path class="r4" d="M548.8 417C548.8 447.2 577.7 447.2 577.7 477.4L584.6 477.4C584.6 447.2 558.7 447.2 558.7 417Z"/><path class="r4" d="M514.7 417C514.7 447.2 489.9 447.2 489.9 477.4L495.2 477.4C495.2 447.2 521 447.2 521 417Z"/><path class="r5" d="M451.7 417C451.7 447.2 452.6 447.2 452.6 477.4L451 477.4C451 447.2 453.7 447.2 453.7 417Z"/><path class="r4" d="M590 417C590 447.2 643.4 447.2 643.4 477.4L645.1 477.4C645.1 447.2 591.4 447.2 591.4 417Z"/><path class="r4" d="M574.5 417C574.5 447.2 586.1 447.2 586.1 477.4L590.1 477.4C590.1 447.2 578.4 447.2 578.4 417Z"/><path class="r5" d="M541 417C541 447.2 485.8 447.2 485.8 477.4L483 477.4C483 447.2 542.8 447.2 542.8 417Z"/><path class="r5" d="M420 417C420 447.2 438.7 447.2 438.7 477.4L432.4 477.4C432.4 447.2 426.7 447.2 426.7 417Z"/><path class="r5" d="M466.5 417C466.5 447.2 585.3 447.2 585.3 477.4L579.4 477.4C579.4 447.2 472.2 447.2 472.2 417Z"/><path class="r5" d="M472.2 417C472.2 447.2 596.3 447.2 596.3 477.4L594.5 477.4C594.5 447.2 474 447.2 474 417Z"/><path class="r5" d="M443.5 417C443.5 447.2 495.2 447.2 495.2 477.4L483 477.4C483 447.2 450.3 447.2 450.3 417Z"/><path class="r4" d="M545.8 417C545.8 447.2 528.3 447.2 528.3 477.4L529.8 477.4C529.8 447.2 547.3 447.2 547.3 417Z"/><path class="r4" d="M574.2 417C574.2 447.2 532 447.2 532 477.4L534 477.4C534 447.2 575.7 447.2 575.7 417Z"/><path class="r5" d="M472.2 417C472.2 447.2 523 447.2 523 477.4L520.1 477.4C520.1 447.2 474 447.2 474 417Z"/><path class="r4" d="M431 417C431 447.2 554.4 447.2 554.4 477.4L556.7 477.4C556.7 447.2 432.8 447.2 432.8 417Z"/><path class="r4" d="M558 417C558 447.2 594.6 447.2 594.6 477.4L596.2 477.4C596.2 447.2 559.5 447.2 559.5 417Z"/><path class="r5" d="M538.7 417C538.7 447.2 452.6 447.2 452.6 477.4L451 477.4C451 447.2 540.4 447.2 540.4 417Z"/><path class="r4" d="M563.2 417C563.2 447.2 517.9 447.2 517.9 477.4L519.4 477.4C519.4 447.2 564.6 447.2 564.6 417Z"/><path class="r4" d="M570.3 417C570.3 447.2 543.8 447.2 543.8 477.4L547.7 477.4C547.7 447.2 572.7 447.2 572.7 417Z"/><path class="r4" d="M427.3 417C427.3 447.2 451 447.2 451 477.4L452.6 477.4C452.6 447.2 429.2 447.2 429.2 417Z"/><path class="r5" d="M574.2 417C574.2 447.2 587.4 447.2 587.4 477.4L585.9 477.4C585.9 447.2 575.7 447.2 575.7 417Z"/><path class="r4" d="M560 417C560 447.2 513.5 447.2 513.5 477.4L517 477.4C517 447.2 564.4 447.2 564.4 417Z"/><path class="r4" d="M583.8 417C583.8 447.2 636.7 447.2 636.7 477.4L642.7 477.4C642.7 447.2 588.8 447.2 588.8 417Z"/><path class="r5" d="M538.7 417C538.7 447.2 502.1 447.2 502.1 477.4L499.8 477.4C499.8 447.2 540.4 447.2 540.4 417Z"/><path class="r4" d="M548.5 417C548.5 447.2 549 447.2 549 477.4L552.4 477.4C552.4 447.2 554.4 447.2 554.4 417Z"/><path class="r4" d="M570.5 417C570.5 447.2 588.6 447.2 588.6 477.4L594 477.4C594 447.2 575.4 447.2 575.4 417Z"/><path class="r4" d="M592.7 417C592.7 447.2 626.9 447.2 626.9 477.4L636.8 477.4C636.8 447.2 599.7 447.2 599.7 417Z"/><path class="r4" d="M417.6 417C417.6 447.2 408.6 447.2 408.6 477.4L411.1 477.4C411.1 447.2 419.4 447.2 419.4 417Z"/><path class="r4" d="M461.8 417C461.8 447.2 426.6 447.2 426.6 477.4L434.7 477.4C434.7 447.2 468.3 447.2 468.3 417Z"/><path class="r4" d="M558.3 417C558.3 447.2 569.1 447.2 569.1 477.4L578 477.4C578 447.2 564.3 447.2 564.3 417Z"/><path class="r5" d="M455.2 417C455.2 447.2 534.2 447.2 534.2 477.4L531.8 477.4C531.8 447.2 457.2 447.2 457.2 417Z"/><path class="r5" d="M558 417C558 447.2 590.3 447.2 590.3 477.4L588.3 477.4C588.3 447.2 559.5 447.2 559.5 417Z"/><path class="r5" d="M479.3 417C479.3 447.2 481.3 447.2 481.3 477.4L477.2 477.4C477.2 447.2 486.2 447.2 486.2 417Z"/><path class="r5" d="M588 417C588 447.2 614.5 447.2 614.5 477.4L605.4 477.4C605.4 447.2 593.9 447.2 593.9 417Z"/><path class="r5" d="M479.3 417C479.3 447.2 449.2 447.2 449.2 477.4L446.9 477.4C446.9 447.2 481 447.2 481 417Z"/><path class="r5" d="M592.3 417C592.3 447.2 517.1 447.2 517.1 477.4L515.6 477.4C515.6 447.2 594.2 447.2 594.2 417Z"/><path class="r4" d="M470.5 417C470.5 447.2 432.4 447.2 432.4 477.4L438.7 477.4C438.7 447.2 474 447.2 474 417Z"/><path class="r4" d="M470.5 417C470.5 447.2 563.2 447.2 563.2 477.4L566.7 477.4C566.7 447.2 474 447.2 474 417Z"/><path class="r4" d="M548.8 417C548.8 447.2 621 447.2 621 477.4L627.4 477.4C627.4 447.2 558.7 447.2 558.7 417Z"/><path class="r5" d="M510.6 417C510.6 447.2 604.1 447.2 604.1 477.4L602.2 477.4C602.2 447.2 512.9 447.2 512.9 417Z"/><path class="r4" d="M598.6 417C598.6 447.2 641.4 447.2 641.4 477.4L643.1 477.4C643.1 447.2 600.1 447.2 600.1 417Z"/><path class="r5" d="M536.7 417C536.7 447.2 604.1 447.2 604.1 477.4L594.5 477.4C594.5 447.2 542.8 447.2 542.8 417Z"/><path class="r5" d="M417.6 417C417.6 447.2 449.2 447.2 449.2 477.4L446.9 477.4C446.9 447.2 419.4 447.2 419.4 417Z"/><path class="r5" d="M417.6 417C417.6 447.2 434.7 447.2 434.7 477.4L432.4 477.4C432.4 447.2 419.4 447.2 419.4 417Z"/><path class="r4" d="M583.6 417C583.6 447.2 632.2 447.2 632.2 477.4L633.5 477.4C633.5 447.2 586 447.2 586 417Z"/><path class="r5" d="M427.3 417C427.3 447.2 434.7 447.2 434.7 477.4L428.9 477.4C428.9 447.2 432.8 447.2 432.8 417Z"/><path class="r5" d="M466.5 417C466.5 447.2 405.7 447.2 405.7 477.4L401.6 477.4C401.6 447.2 472.2 447.2 472.2 417Z"/><path class="r5" d="M529.4 417C529.4 447.2 519.5 447.2 519.5 477.4L517.8 477.4C517.8 447.2 530.6 447.2 530.6 417Z"/><path class="r4" d="M580 417C580 447.2 632.9 447.2 632.9 477.4L642.4 477.4C642.4 447.2 588.5 447.2 588.5 417Z"/><path class="r5" d="M521.6 417C521.6 447.2 604.1 447.2 604.1 477.4L596.8 477.4C596.8 447.2 525.6 447.2 525.6 417Z"/><path class="r4" d="M596.5 417C596.5 447.2 660.3 447.2 660.3 477.4L664.2 477.4C664.2 447.2 600 447.2 600 417Z"/><path class="r5" d="M443.5 417C443.5 447.2 431.2 447.2 431.2 477.4L428.9 477.4C428.9 447.2 445 447.2 445 417Z"/><path class="r5" d="M494.9 417C494.9 447.2 564.3 447.2 564.3 477.4L554.4 477.4C554.4 447.2 504.7 447.2 504.7 417Z"/><path class="r5" d="M583.6 417C583.6 447.2 578.7 447.2 578.7 477.4L577.2 477.4C577.2 447.2 586 447.2 586 417Z"/><path class="r5" d="M552.8 417C552.8 447.2 633.5 447.2 633.5 477.4L632.2 477.4C632.2 447.2 554.8 447.2 554.8 417Z"/><path class="r5" d="M459.5 417C459.5 447.2 478.9 447.2 478.9 477.4L477.2 477.4C477.2 447.2 461.2 447.2 461.2 417Z"/><path class="r5" d="M475.2 417C475.2 447.2 562 447.2 562 477.4L560.3 477.4C560.3 447.2 476.9 447.2 476.9 417Z"/><path class="r4" d="M466.5 417C466.5 447.2 565.5 447.2 565.5 477.4L566.7 477.4C566.7 447.2 468.3 447.2 468.3 417Z"/><path class="r5" d="M521.6 417C521.6 447.2 562 447.2 562 477.4L551 477.4C551 447.2 530.6 447.2 530.6 417Z"/><path class="r4" d="M503 417C503 447.2 539.3 447.2 539.3 477.4L540.5 477.4C540.5 447.2 504.7 447.2 504.7 417Z"/><path class="r4" d="M459.5 417C459.5 447.2 417.3 447.2 417.3 477.4L419.6 477.4C419.6 447.2 461.2 447.2 461.2 417Z"/><path class="r5" d="M451.7 417C451.7 447.2 519.5 447.2 519.5 477.4L517.8 477.4C517.8 447.2 453.7 447.2 453.7 417Z"/><path class="r5" d="M514.7 417C514.7 447.2 566.7 447.2 566.7 477.4L560.3 477.4C560.3 447.2 523.3 447.2 523.3 417Z"/><path class="r4" d="M592.6 417C592.6 447.2 607.8 447.2 607.8 477.4L614.7 477.4C614.7 447.2 598 447.2 598 417Z"/><path class="r4" d="M538.7 417C538.7 447.2 502.1 447.2 502.1 477.4L504.4 477.4C504.4 447.2 540.4 447.2 540.4 417Z"/><path class="r5" d="M510.6 417C510.6 447.2 530 447.2 530 477.4L520.1 477.4C520.1 447.2 515.8 447.2 515.8 417Z"/><path class="r5" d="M548.5 417C548.5 447.2 556.3 447.2 556.3 477.4L551.4 477.4C551.4 447.2 554.4 447.2 554.4 417Z"/><path class="r5" d="M596.4 417C596.4 447.2 637.5 447.2 637.5 477.4L636.3 477.4C636.3 447.2 598.3 447.2 598.3 417Z"/><path class="r4" d="M596.5 417C596.5 447.2 623.3 447.2 623.3 477.4L627.6 477.4C627.6 447.2 600 447.2 600 417Z"/><path class="r5" d="M529.4 417C529.4 447.2 426 447.2 426 477.4L420.1 477.4C420.1 447.2 534.7 447.2 534.7 417Z"/><path class="r5" d="M417.6 417C417.6 447.2 405.7 447.2 405.7 477.4L401.6 477.4C401.6 447.2 421.8 447.2 421.8 417Z"/><path class="r4" d="M529.4 417C529.4 447.2 579.4 447.2 579.4 477.4L585.3 477.4C585.3 447.2 534.7 447.2 534.7 417Z"/><path class="r5" d="M431 417C431 447.2 419.6 447.2 419.6 477.4L408.6 477.4C408.6 447.2 442.6 447.2 442.6 417Z"/><path class="r5" d="M512.9 417C512.9 447.2 646.8 447.2 646.8 477.4L643.2 477.4C643.2 447.2 515.8 447.2 515.8 417Z"/><path class="r5" d="M470.5 417C470.5 447.2 510.8 447.2 510.8 477.4L507.9 477.4C507.9 447.2 472.2 447.2 472.2 417Z"/><path class="r4" d="M505.3 417C505.3 447.2 626 447.2 626 477.4L633.6 477.4C633.6 447.2 512.9 447.2 512.9 417Z"/><path class="r5" d="M523.9 417C523.9 447.2 523 447.2 523 477.4L515.5 477.4C515.5 447.2 534.7 447.2 534.7 417Z"/><path class="r5" d="M417.6 417C417.6 447.2 419.6 447.2 419.6 477.4L417.3 477.4C417.3 447.2 419.4 447.2 419.4 417Z"/><path class="r4" d="M420 417C420 447.2 428.9 447.2 428.9 477.4L431.2 477.4C431.2 447.2 421.8 447.2 421.8 417Z"/><path class="r5" d="M479.3 417C479.3 447.2 478.9 447.2 478.9 477.4L474.3 477.4C474.3 447.2 486.2 447.2 486.2 417Z"/><path class="r4" d="M437 417C437 447.2 502.1 447.2 502.1 477.4L514.9 477.4C514.9 447.2 445 447.2 445 417Z"/><path class="r4" d="M546.4 417C546.4 447.2 540.2 447.2 540.2 477.4L549.5 477.4C549.5 447.2 554.2 447.2 554.2 417Z"/><path class="r5" d="M505.3 417C505.3 447.2 574.2 447.2 574.2 477.4L565.5 477.4C565.5 447.2 514.7 447.2 514.7 417Z"/><path class="r4" d="M546.4 417C546.4 447.2 602.7 447.2 602.7 477.4L608.7 477.4C608.7 447.2 554.2 447.2 554.2 417Z"/><path class="r4" d="M459.5 417C459.5 447.2 515.5 447.2 515.5 477.4L517.3 477.4C517.3 447.2 461.2 447.2 461.2 417Z"/><path class="r4" d="M461.8 417C461.8 447.2 517.8 447.2 517.8 477.4L519.5 477.4C519.5 447.2 463.6 447.2 463.6 417Z"/><path class="r5" d="M451.7 417C451.7 447.2 452.6 447.2 452.6 477.4L451 477.4C451 447.2 453.7 447.2 453.7 417Z"/><path class="r4" d="M459.5 417C459.5 447.2 439.3 447.2 439.3 477.4L441.1 477.4C441.1 447.2 461.2 447.2 461.2 417Z"/><path class="r4" d="M443.5 417C443.5 447.2 420.1 447.2 420.1 477.4L422.5 477.4C422.5 447.2 445 447.2 445 417Z"/><path class="r5" d="M466.5 417C466.5 447.2 502.1 447.2 502.1 477.4L493.4 477.4C493.4 447.2 472.2 447.2 472.2 417Z"/><path class="r4" d="M529.4 417C529.4 447.2 507.9 447.2 507.9 477.4L514.9 477.4C514.9 447.2 534.7 447.2 534.7 417Z"/><path class="r4" d="M548.1 417C548.1 447.2 470.9 447.2 470.9 477.4L472.9 477.4C472.9 447.2 549.6 447.2 549.6 417Z"/><path class="r5" d="M536.7 417C536.7 447.2 645.3 447.2 645.3 477.4L643.2 477.4C643.2 447.2 538.7 447.2 538.7 417Z"/><path class="r0" d="M376.4 480.9C376.4 511.1 376.4 511.1 376.4 541.3L398.2 541.3C398.2 511.1 398.2 511.1 398.2 480.9Z"/><path class="r3" d="M400.7 480.9C400.7 511.1 402.3 511.1 402.3 541.3L423.3 541.3C423.3 511.1 416.2 511.1 416.2 480.9Z"/><path class="r0" d="M635.9 480.9C635.9 511.1 626.7 511.1 626.7 541.3L653.4 541.3C653.4 511.1 665.2 511.1 665.2 480.9Z"/><path class="r5" d="M577.1 480.9C577.1 511.1 616.5 511.1 616.5 541.3L609.2 541.3C609.2 511.1 585.3 511.1 585.3 480.9Z"/><path class="r5" d="M420.1 480.9C420.1 511.1 449.6 511.1 449.6 541.3L442.4 541.3C442.4 511.1 428.9 511.1 428.9 480.9Z"/><path class="r5" d="M596.8 480.9C596.8 511.1 590.3 511.1 590.3 541.3L580.8 541.3C580.8 511.1 606.1 511.1 606.1 480.9Z"/><path class="r5" d="M596.8 480.9C596.8 511.1 552.4 511.1 552.4 541.3L546.8 541.3C546.8 511.1 604.1 511.1 604.1 480.9Z"/><path class="r5" d="M525.9 480.9C525.9 511.1 564 511.1 564 541.3L561.8 541.3C561.8 511.1 527.7 511.1 527.7 480.9Z"/><path class="r5" d="M428.9 480.9C428.9 511.1 462.6 511.1 462.6 541.3L460.9 541.3C460.9 511.1 431.2 511.1 431.2 480.9Z"/><path class="r5" d="M568.4 480.9C568.4 511.1 596.5 511.1 596.5 541.3L588.6 541.3C588.6 511.1 578.8 511.1 578.8 480.9Z"/><path class="r5" d="M507.9 480.9C507.9 511.1 513.3 511.1 513.3 541.3L511.1 541.3C511.1 511.1 510.8 511.1 510.8 480.9Z"/><path class="r5" d="M602.2 480.9C602.2 511.1 531.2 511.1 531.2 541.3L525.6 541.3C525.6 511.1 606.1 511.1 606.1 480.9Z"/><path class="r4" d="M426.6 480.9C426.6 511.1 477.6 511.1 477.6 541.3L479.3 541.3C479.3 511.1 428.9 511.1 428.9 480.9Z"/><path class="r5" d="M426.6 480.9C426.6 511.1 427.9 511.1 427.9 541.3L426.2 541.3C426.2 511.1 428.9 511.1 428.9 480.9Z"/><path class="r5" d="M502.1 480.9C502.1 511.1 552.4 511.1 552.4 541.3L550.7 541.3C550.7 511.1 504.4 511.1 504.4 480.9Z"/><path class="r5" d="M585.7 480.9C585.7 511.1 613.6 511.1 613.6 541.3L611.7 541.3C611.7 511.1 587.5 511.1 587.5 480.9Z"/><path class="r5" d="M579.4 480.9C579.4 511.1 571.3 511.1 571.3 541.3L569.7 541.3C569.7 511.1 581.8 511.1 581.8 480.9Z"/><path class="r5" d="M563.2 480.9C563.2 511.1 507.7 511.1 507.7 541.3L506 541.3C506 511.1 564.3 511.1 564.3 480.9Z"/><path class="r5" d="M531.8 480.9C531.8 511.1 486.5 511.1 486.5 541.3L484.8 541.3C484.8 511.1 534.2 511.1 534.2 480.9Z"/><path class="r5" d="M525.9 480.9C525.9 511.1 527.3 511.1 527.3 541.3L525.6 541.3C525.6 511.1 527.7 511.1 527.7 480.9Z"/><path class="r5" d="M479.5 480.9C479.5 511.1 423.5 511.1 423.5 541.3L421.7 541.3C421.7 511.1 481.3 511.1 481.3 480.9Z"/><path class="r5" d="M499.8 480.9C499.8 511.1 432.9 511.1 432.9 541.3L431.3 541.3C431.3 511.1 502.1 511.1 502.1 480.9Z"/><path class="r5" d="M426.6 480.9C426.6 511.1 475.4 511.1 475.4 541.3L473.7 541.3C473.7 511.1 428.9 511.1 428.9 480.9Z"/><path class="r5" d="M604.6 480.9C604.6 511.1 569.7 511.1 569.7 541.3L561.8 541.3C561.8 511.1 615.3 511.1 615.3 480.9Z"/><path class="r5" d="M451 480.9C451 511.1 444.6 511.1 444.6 541.3L442.4 541.3C442.4 511.1 452.6 511.1 452.6 480.9Z"/><path class="r5" d="M437 480.9C437 511.1 459.2 511.1 459.2 541.3L450.3 541.3C450.3 511.1 445.7 511.1 445.7 480.9Z"/><path class="r4" d="M543.4 480.9C543.4 511.1 408.4 511.1 408.4 541.3L411.2 541.3C411.2 511.1 548.1 511.1 548.1 480.9Z"/><path class="r5" d="M426.6 480.9C426.6 511.1 407.9 511.1 407.9 541.3L406.2 541.3C406.2 511.1 428.9 511.1 428.9 480.9Z"/><path class="r5" d="M515.5 480.9C515.5 511.1 430.7 511.1 430.7 541.3L428.4 541.3C428.4 511.1 517.3 511.1 517.3 480.9Z"/><path class="r5" d="M489.9 480.9C489.9 511.1 550.1 511.1 550.1 541.3L542.8 541.3C542.8 511.1 495.2 511.1 495.2 480.9Z"/><path class="r5" d="M622.9 480.9C622.9 511.1 533.4 511.1 533.4 541.3L525.6 541.3C525.6 511.1 633.6 511.1 633.6 480.9Z"/><path class="r5" d="M420.1 480.9C420.1 511.1 462.6 511.1 462.6 541.3L460.9 541.3C460.9 511.1 422.5 511.1 422.5 480.9Z"/><path class="r4" d="M585.7 480.9C585.7 511.1 530.1 511.1 530.1 541.3L531.2 541.3C531.2 511.1 587.5 511.1 587.5 480.9Z"/><path class="r5" d="M479.5 480.9C479.5 511.1 550.1 511.1 550.1 541.3L546.8 541.3C546.8 511.1 481.3 511.1 481.3 480.9Z"/><path class="r4" d="M554.4 480.9C554.4 511.1 493.8 511.1 493.8 541.3L499.9 541.3C499.9 511.1 564.3 511.1 564.3 480.9Z"/><path class="r4" d="M502.1 480.9C502.1 511.1 561.8 511.1 561.8 541.3L564 541.3C564 511.1 504.4 511.1 504.4 480.9Z"/><path class="r4" d="M632.1 480.9C632.1 511.1 553 511.1 553 541.3L554.6 541.3C554.6 511.1 633.6 511.1 633.6 480.9Z"/><path class="r5" d="M626 480.9C626 511.1 582.5 511.1 582.5 541.3L571.9 541.3C571.9 511.1 633.6 511.1 633.6 480.9Z"/><path class="r5" d="M583.5 480.9C583.5 511.1 571.3 511.1 571.3 541.3L569.7 541.3C569.7 511.1 585.3 511.1 585.3 480.9Z"/><path class="r5" d="M534.8 480.9C534.8 511.1 430.7 511.1 430.7 541.3L428.4 541.3C428.4 511.1 536.4 511.1 536.4 480.9Z"/><path class="r5" d="M528.2 480.9C528.2 511.1 447.4 511.1 447.4 541.3L445.2 541.3C445.2 511.1 530 511.1 530 480.9Z"/><path class="r5" d="M442.2 480.9C442.2 511.1 484.2 511.1 484.2 541.3L482.6 541.3C482.6 511.1 445.7 511.1 445.7 480.9Z"/><path class="r5" d="M446.9 480.9C446.9 511.1 554.6 511.1 554.6 541.3L553 541.3C553 511.1 449.2 511.1 449.2 480.9Z"/><path class="r4" d="M446.9 480.9C446.9 511.1 479.9 511.1 479.9 541.3L481.5 541.3C481.5 511.1 449.2 511.1 449.2 480.9Z"/><path class="r5" d="M479.5 480.9C479.5 511.1 426.2 511.1 426.2 541.3L424 541.3C424 511.1 481.3 511.1 481.3 480.9Z"/><path class="r5" d="M507.9 480.9C507.9 511.1 590.3 511.1 590.3 541.3L588.6 541.3C588.6 511.1 510.8 511.1 510.8 480.9Z"/><path class="r4" d="M499.8 480.9C499.8 511.1 495.4 511.1 495.4 541.3L502.7 541.3C502.7 511.1 510.8 511.1 510.8 480.9Z"/><path class="r5" d="M426.6 480.9C426.6 511.1 407.9 511.1 407.9 541.3L406.2 541.3C406.2 511.1 428.9 511.1 428.9 480.9Z"/><path class="r5" d="M470.7 480.9C470.7 511.1 497.1 511.1 497.1 541.3L487.6 541.3C487.6 511.1 478.9 511.1 478.9 480.9Z"/><path class="r4" d="M423.6 480.9C423.6 511.1 457.5 511.1 457.5 541.3L459.2 541.3C459.2 511.1 426 511.1 426 480.9Z"/><path class="r4" d="M446.9 480.9C446.9 511.1 473.7 511.1 473.7 541.3L479.3 541.3C479.3 511.1 452.6 511.1 452.6 480.9Z"/><path class="r5" d="M604.6 480.9C604.6 511.1 582.5 511.1 582.5 541.3L580.8 541.3C580.8 511.1 606.1 511.1 606.1 480.9Z"/><path class="r5" d="M442.2 480.9C442.2 511.1 459.2 511.1 459.2 541.3L457.5 541.3C457.5 511.1 445.7 511.1 445.7 480.9Z"/><path class="r4" d="M474.3 480.9C474.3 511.1 424 511.1 424 541.3L426.2 541.3C426.2 511.1 476.6 511.1 476.6 480.9Z"/><path class="r4" d="M554.4 480.9C554.4 511.1 415.1 511.1 415.1 541.3L419 541.3C419 511.1 562 511.1 562 480.9Z"/><path class="r5" d="M499.8 480.9C499.8 511.1 447.4 511.1 447.4 541.3L445.2 541.3C445.2 511.1 502.1 511.1 502.1 480.9Z"/><path class="r5" d="M622.9 480.9C622.9 511.1 613.6 511.1 613.6 541.3L604.3 541.3C604.3 511.1 633.6 511.1 633.6 480.9Z"/><path class="r4" d="M531.8 480.9C531.8 511.1 445.2 511.1 445.2 541.3L453 541.3C453 511.1 538.7 511.1 538.7 480.9Z"/><path class="r5" d="M588.1 480.9C588.1 511.1 561.3 511.1 561.3 541.3L559.1 541.3C559.1 511.1 590.4 511.1 590.4 480.9Z"/><path class="r5" d="M554.4 480.9C554.4 511.1 610.6 511.1 610.6 541.3L601.9 541.3C601.9 511.1 564.3 511.1 564.3 480.9Z"/><path class="r5" d="M602.2 480.9C602.2 511.1 564 511.1 564 541.3L561.8 541.3C561.8 511.1 604.1 511.1 604.1 480.9Z"/><path class="r4" d="M502.1 480.9C502.1 511.1 482.6 511.1 482.6 541.3L490.4 541.3C490.4 511.1 514.9 511.1 514.9 480.9Z"/><path class="r5" d="M534.8 480.9C534.8 511.1 544.6 511.1 544.6 541.3L536.7 541.3C536.7 511.1 540.5 511.1 540.5 480.9Z"/><path class="r5" d="M537 480.9C537 511.1 574.1 511.1 574.1 541.3L567.4 541.3C567.4 511.1 548.1 511.1 548.1 480.9Z"/><path class="r5" d="M537 480.9C537 511.1 525.1 511.1 525.1 541.3L522.8 541.3C522.8 511.1 538.7 511.1 538.7 480.9Z"/><path class="r5" d="M568.4 480.9C568.4 511.1 484.2 511.1 484.2 541.3L479.9 541.3C479.9 511.1 574.2 511.1 574.2 480.9Z"/><path class="r4" d="M426.6 480.9C426.6 511.1 546.8 511.1 546.8 541.3L552.4 541.3C552.4 511.1 431.2 511.1 431.2 480.9Z"/><path class="r5" d="M507.9 480.9C507.9 511.1 499.9 511.1 499.9 541.3L498.2 541.3C498.2 511.1 510.8 511.1 510.8 480.9Z"/><path class="r5" d="M579.4 480.9C579.4 511.1 550.1 511.1 550.1 541.3L542.8 541.3C542.8 511.1 585.3 511.1 585.3 480.9Z"/><path class="r5" d="M579.4 480.9C579.4 511.1 527.3 511.1 527.3 541.3L522.8 541.3C522.8 511.1 585.3 511.1 585.3 480.9Z"/><path class="r5" d="M537 480.9C537 511.1 610.6 511.1 610.6 541.3L609.2 541.3C609.2 511.1 538.7 511.1 538.7 480.9Z"/><path class="r4" d="M428.9 480.9C428.9 511.1 517.2 511.1 517.2 541.3L518.8 541.3C518.8 511.1 431.2 511.1 431.2 480.9Z"/><path class="r5" d="M420.1 480.9C420.1 511.1 427.9 511.1 427.9 541.3L426.2 541.3C426.2 511.1 422.5 511.1 422.5 480.9Z"/><path class="r5" d="M560.3 480.9C560.3 511.1 582.5 511.1 582.5 541.3L580.8 541.3C580.8 511.1 562 511.1 562 480.9Z"/><path class="r5" d="M513.2 480.9C513.2 511.1 527.3 511.1 527.3 541.3L525.6 541.3C525.6 511.1 514.9 511.1 514.9 480.9Z"/><path class="r4" d="M585.7 480.9C585.7 511.1 479.9 511.1 479.9 541.3L481.5 541.3C481.5 511.1 587.5 511.1 587.5 480.9Z"/><path class="r5" d="M602.2 480.9C602.2 511.1 527.3 511.1 527.3 541.3L522.8 541.3C522.8 511.1 606.1 511.1 606.1 480.9Z"/><path class="r5" d="M632.1 480.9C632.1 511.1 596.5 511.1 596.5 541.3L594.1 541.3C594.1 511.1 633.6 511.1 633.6 480.9Z"/><path class="r5" d="M592.2 480.9C592.2 511.1 596.5 511.1 596.5 541.3L591.1 541.3C591.1 511.1 596.3 511.1 596.3 480.9Z"/><path class="r4" d="M517.8 480.9C517.8 511.1 550.7 511.1 550.7 541.3L557.4 541.3C557.4 511.1 527.7 511.1 527.7 480.9Z"/><path class="r5" d="M571.2 480.9C571.2 511.1 566.9 511.1 566.9 541.3L565.2 541.3C565.2 511.1 574.2 511.1 574.2 480.9Z"/><path class="r5" d="M594.5 480.9C594.5 511.1 566.9 511.1 566.9 541.3L561.8 541.3C561.8 511.1 599.8 511.1 599.8 480.9Z"/><path class="r4" d="M602.2 480.9C602.2 511.1 599.4 511.1 599.4 541.3L605.7 541.3C605.7 511.1 609.2 511.1 609.2 480.9Z"/><path class="r5" d="M437 480.9C437 511.1 479.3 511.1 479.3 541.3L477.6 541.3C477.6 511.1 438.7 511.1 438.7 480.9Z"/><path class="r5" d="M537 480.9C537 511.1 569.7 511.1 569.7 541.3L567.4 541.3C567.4 511.1 538.7 511.1 538.7 480.9Z"/><path class="r5" d="M626 480.9C626 511.1 569.7 511.1 569.7 541.3L567.4 541.3C567.4 511.1 628 511.1 628 480.9Z"/><path class="r5" d="M483 480.9C483 511.1 481.5 511.1 481.5 541.3L479.9 541.3C479.9 511.1 485.8 511.1 485.8 480.9Z"/><path class="r5" d="M412.1 480.9C412.1 511.1 457 511.1 457 541.3L448 541.3C448 511.1 422.5 511.1 422.5 480.9Z"/><path class="r5" d="M493.4 480.9C493.4 511.1 444.6 511.1 444.6 541.3L442.4 541.3C442.4 511.1 495.2 511.1 495.2 480.9Z"/><path class="r5" d="M588.1 480.9C588.1 511.1 499.9 511.1 499.9 541.3L495.4 541.3C495.4 511.1 594.5 511.1 594.5 480.9Z"/><path class="r5" d="M534.8 480.9C534.8 511.1 566.9 511.1 566.9 541.3L565.2 541.3C565.2 511.1 536.4 511.1 536.4 480.9Z"/><path class="r5" d="M513.2 480.9C513.2 511.1 444.6 511.1 444.6 541.3L442.4 541.3C442.4 511.1 514.9 511.1 514.9 480.9Z"/><path class="r4" d="M474.3 480.9C474.3 511.1 511.1 511.1 511.1 541.3L513.3 541.3C513.3 511.1 476.6 511.1 476.6 480.9Z"/><path class="r4" d="M489.9 480.9C489.9 511.1 469.8 511.1 469.8 541.3L475.4 541.3C475.4 511.1 502.1 511.1 502.1 480.9Z"/><path class="r4" d="M437 480.9C437 511.1 426.2 511.1 426.2 541.3L427.9 541.3C427.9 511.1 438.7 511.1 438.7 480.9Z"/><path class="r5" d="M470.7 480.9C470.7 511.1 495.4 511.1 495.4 541.3L493.8 541.3C493.8 511.1 473.1 511.1 473.1 480.9Z"/><path class="r5" d="M446.9 480.9C446.9 511.1 518.8 511.1 518.8 541.3L517.2 541.3C517.2 511.1 449.2 511.1 449.2 480.9Z"/><path class="r5" d="M528.2 480.9C528.2 511.1 479.3 511.1 479.3 541.3L477.6 541.3C477.6 511.1 530 511.1 530 480.9Z"/><path class="r4" d="M426.6 480.9C426.6 511.1 431.3 511.1 431.3 541.3L441.9 541.3C441.9 511.1 434.7 511.1 434.7 480.9Z"/><path class="r5" d="M604.6 480.9C604.6 511.1 579.7 511.1 579.7 541.3L576.3 541.3C576.3 511.1 606.1 511.1 606.1 480.9Z"/><path class="r5" d="M551 480.9C551 511.1 533.4 511.1 533.4 541.3L530.1 541.3C530.1 511.1 556.7 511.1 556.7 480.9Z"/><path class="r4" d="M539.3 480.9C539.3 511.1 501 511.1 501 541.3L502.7 541.3C502.7 511.1 540.5 511.1 540.5 480.9Z"/><path class="r5" d="M588.1 480.9C588.1 511.1 552.4 511.1 552.4 541.3L550.7 541.3C550.7 511.1 590.4 511.1 590.4 480.9Z"/><path class="r5" d="M479.5 480.9C479.5 511.1 427.9 511.1 427.9 541.3L426.2 541.3C426.2 511.1 481.3 511.1 481.3 480.9Z"/><path class="r4" d="M585.7 480.9C585.7 511.1 550.7 511.1 550.7 541.3L554.6 541.3C554.6 511.1 590.4 511.1 590.4 480.9Z"/><path class="r5" d="M493.4 480.9C493.4 511.1 447.4 511.1 447.4 541.3L445.2 541.3C445.2 511.1 495.2 511.1 495.2 480.9Z"/><path class="r5" d="M607.2 480.9C607.2 511.1 574.1 511.1 574.1 541.3L571.9 541.3C571.9 511.1 609.2 511.1 609.2 480.9Z"/><path class="r5" d="M596.8 480.9C596.8 511.1 542.4 511.1 542.4 541.3L536.7 541.3C536.7 511.1 604.1 511.1 604.1 480.9Z"/><path class="r4" d="M632.1 480.9C632.1 511.1 604.3 511.1 604.3 541.3L610.6 541.3C610.6 511.1 633.6 511.1 633.6 480.9Z"/><path class="r5" d="M483 480.9C483 511.1 561.3 511.1 561.3 541.3L553 541.3C553 511.1 495.2 511.1 495.2 480.9Z"/><path class="r5" d="M517.8 480.9C517.8 511.1 521.1 511.1 521.1 541.3L511.1 541.3C511.1 511.1 527.7 511.1 527.7 480.9Z"/><path class="r5" d="M513.2 480.9C513.2 511.1 495.4 511.1 495.4 541.3L493.8 541.3C493.8 511.1 514.9 511.1 514.9 480.9Z"/><path class="r4" d="M442.2 480.9C442.2 511.1 508.2 511.1 508.2 541.3L509.9 541.3C509.9 511.1 445.7 511.1 445.7 480.9Z"/><path class="r5" d="M483 480.9C483 511.1 464.8 511.1 464.8 541.3L462.6 541.3C462.6 511.1 485.8 511.1 485.8 480.9Z"/><path class="r5" d="M602.2 480.9C602.2 511.1 596.5 511.1 596.5 541.3L591.1 541.3C591.1 511.1 606.1 511.1 606.1 480.9Z"/><path class="r5" d="M420.1 480.9C420.1 511.1 416.8 511.1 416.8 541.3L415.1 541.3C415.1 511.1 422.5 511.1 422.5 480.9Z"/><path class="r5" d="M528.2 480.9C528.2 511.1 509.9 511.1 509.9 541.3L508.2 541.3C508.2 511.1 530 511.1 530 480.9Z"/><path class="r5" d="M446.9 480.9C446.9 511.1 473.2 511.1 473.2 541.3L471.5 541.3C471.5 511.1 449.2 511.1 449.2 480.9Z"/><path class="r6" d="M525.6 544.8C525.6 574.8 397.8 574.8 397.8 604.9L394.6 604.9C394.6 574.8 531.2 574.8 531.2 544.8Z"/><path class="r6" d="M583 544.8C583 574.8 428.1 574.8 428.1 604.9L425.9 604.9C425.9 574.8 585.2 574.8 585.2 544.8Z"/><path class="r1" d="M580.8 544.8C580.8 574.8 459.9 574.8 459.9 604.9L462.2 604.9C462.2 574.8 582.5 574.8 582.5 544.8Z"/><path class="r6" d="M649.2 544.8C649.2 574.8 400.9 574.8 400.9 604.9L398.4 604.9C398.4 574.8 651.6 574.8 651.6 544.8Z"/><path class="r6" d="M565.2 544.8C565.2 574.8 416.7 574.8 416.7 604.9L414.9 604.9C414.9 574.8 566.9 574.8 566.9 544.8Z"/><path class="r6" d="M522.8 544.8C522.8 574.8 430.5 574.8 430.5 604.9L428.3 604.9C428.3 574.8 525.1 574.8 525.1 544.8Z"/><path class="r1" d="M634.1 544.8C634.1 574.8 477.4 574.8 477.4 604.9L479.3 604.9C479.3 574.8 635.5 574.8 635.5 544.8Z"/><path class="r1" d="M495.4 544.8C495.4 574.8 397.7 574.8 397.7 604.9L400.9 604.9C400.9 574.8 499.9 574.8 499.9 544.8Z"/><path class="r1" d="M620.9 544.8C620.9 574.8 395.8 574.8 395.8 604.9L397.8 604.9C397.8 574.8 622.3 574.8 622.3 544.8Z"/><path class="r6" d="M580.8 544.8C580.8 574.8 424.8 574.8 424.8 604.9L423.2 604.9C423.2 574.8 582.5 574.8 582.5 544.8Z"/><path class="r6" d="M457.5 544.8C457.5 574.8 462.9 574.8 462.9 604.9L460.8 604.9C460.8 574.8 459.2 574.8 459.2 544.8Z"/><path class="r1" d="M630.2 544.8C630.2 574.8 433.3 574.8 433.3 604.9L434.9 604.9C434.9 574.8 631.6 574.8 631.6 544.8Z"/><path class="r1" d="M591.1 544.8C591.1 574.8 460.4 574.8 460.4 604.9L462.4 604.9C462.4 574.8 592.6 574.8 592.6 544.8Z"/><path class="r6" d="M588.6 544.8C588.6 574.8 462.4 574.8 462.4 604.9L460.2 604.9C460.2 574.8 590.3 574.8 590.3 544.8Z"/><path class="r6" d="M531.2 544.8C531.2 574.8 479.3 574.8 479.3 604.9L477.4 604.9C477.4 574.8 533.4 574.8 533.4 544.8Z"/><path class="r6" d="M522.8 544.8C522.8 574.8 439.2 574.8 439.2 604.9L436.6 604.9C436.6 574.8 527.3 574.8 527.3 544.8Z"/><path class="r6" d="M580.8 544.8C580.8 574.8 464.4 574.8 464.4 604.9L463.1 604.9C463.1 574.8 582.5 574.8 582.5 544.8Z"/><path class="r1" d="M631.6 544.8C631.6 574.8 439.6 574.8 439.6 604.9L442.9 604.9C442.9 574.8 635.5 574.8 635.5 544.8Z"/><path class="r6" d="M508.2 544.8C508.2 574.8 397.7 574.8 397.7 604.9L396.2 604.9C396.2 574.8 509.9 574.8 509.9 544.8Z"/><path class="r6" d="M495.4 544.8C495.4 574.8 416.7 574.8 416.7 604.9L414.9 604.9C414.9 574.8 497.1 574.8 497.1 544.8Z"/><path class="r6" d="M569.7 544.8C569.7 574.8 415.7 574.8 415.7 604.9L404.1 604.9C404.1 574.8 574.1 574.8 574.1 544.8Z"/><path class="r6" d="M477.6 544.8C477.6 574.8 472.7 574.8 472.7 604.9L470.4 604.9C470.4 574.8 479.3 574.8 479.3 544.8Z"/><path class="r6" d="M546.8 544.8C546.8 574.8 477.7 574.8 477.7 604.9L476.3 604.9C476.3 574.8 550.1 574.8 550.1 544.8Z"/><path class="r6" d="M565.2 544.8C565.2 574.8 472.7 574.8 472.7 604.9L470.4 604.9C470.4 574.8 566.9 574.8 566.9 544.8Z"/><path class="r6" d="M649.2 544.8C649.2 574.8 439.2 574.8 439.2 604.9L437.2 604.9C437.2 574.8 651.6 574.8 651.6 544.8Z"/><path class="r6" d="M530.1 544.8C530.1 574.8 479.3 574.8 479.3 604.9L477.4 604.9C477.4 574.8 531.2 574.8 531.2 544.8Z"/><path class="r1" d="M620.9 544.8C620.9 574.8 460.4 574.8 460.4 604.9L462.4 604.9C462.4 574.8 622.3 574.8 622.3 544.8Z"/><path class="r6" d="M531.2 544.8C531.2 574.8 423.8 574.8 423.8 604.9L421.6 604.9C421.6 574.8 533.4 574.8 533.4 544.8Z"/><path class="r6" d="M542.8 544.8C542.8 574.8 426.6 574.8 426.6 604.9L423.2 604.9C423.2 574.8 550.1 574.8 550.1 544.8Z"/><path class="r6" d="M501 544.8C501 574.8 435.1 574.8 435.1 604.9L428.3 604.9C428.3 574.8 505.4 574.8 505.4 544.8Z"/><path class="r1" d="M614.5 544.8C614.5 574.8 460.8 574.8 460.8 604.9L462.9 604.9C462.9 574.8 616.5 574.8 616.5 544.8Z"/><path class="r6" d="M571.9 544.8C571.9 574.8 423.8 574.8 423.8 604.9L422 604.9C422 574.8 574.1 574.8 574.1 544.8Z"/><path class="r6" d="M534 544.8C534 574.8 392 574.8 392 604.9L381.3 604.9C381.3 574.8 538.5 574.8 538.5 544.8Z"/><path class="r6" d="M576.3 544.8C576.3 574.8 398.1 574.8 398.1 604.9L396.1 604.9C396.1 574.8 579.7 574.8 579.7 544.8Z"/><path class="r6" d="M559.1 544.8C559.1 574.8 421.7 574.8 421.7 604.9L419.7 604.9C419.7 574.8 561.3 574.8 561.3 544.8Z"/><path class="r6" d="M517.2 544.8C517.2 574.8 416.7 574.8 416.7 604.9L414.9 604.9C414.9 574.8 518.8 574.8 518.8 544.8Z"/><path class="r6" d="M591.1 544.8C591.1 574.8 397.8 574.8 397.8 604.9L394.6 604.9C394.6 574.8 596.5 574.8 596.5 544.8Z"/><path class="r6" d="M576.3 544.8C576.3 574.8 477.7 574.8 477.7 604.9L476.3 604.9C476.3 574.8 579.7 574.8 579.7 544.8Z"/><path class="r6" d="M473.7 544.8C473.7 574.8 396.3 574.8 396.3 604.9L394.6 604.9C394.6 574.8 475.4 574.8 475.4 544.8Z"/><path class="r6" d="M599.4 544.8C599.4 574.8 435.4 574.8 435.4 604.9L433 604.9C433 574.8 601.3 574.8 601.3 544.8Z"/><path class="r6" d="M530.1 544.8C530.1 574.8 400.9 574.8 400.9 604.9L398.4 604.9C398.4 574.8 531.2 574.8 531.2 544.8Z"/><path class="r6" d="M465.3 544.8C465.3 574.8 458.6 574.8 458.6 604.9L456.4 604.9C456.4 574.8 467.5 574.8 467.5 544.8Z"/><path class="r1" d="M391.7 544.8C391.7 574.8 396.1 574.8 396.1 604.9L398.1 604.9C398.1 574.8 393 574.8 393 544.8Z"/><path class="r1" d="M634.1 544.8C634.1 574.8 459.7 574.8 459.7 604.9L462 604.9C462 574.8 635.5 574.8 635.5 544.8Z"/><path class="r6" d="M484.8 544.8C484.8 574.8 463.7 574.8 463.7 604.9L460.8 604.9C460.8 574.8 490.4 574.8 490.4 544.8Z"/><path class="r6" d="M501 544.8C501 574.8 455.8 574.8 455.8 604.9L454.2 604.9C454.2 574.8 502.7 574.8 502.7 544.8Z"/><path class="r6" d="M484.8 544.8C484.8 574.8 478.4 574.8 478.4 604.9L476.1 604.9C476.1 574.8 486.5 574.8 486.5 544.8Z"/><path class="r6" d="M553 544.8C553 574.8 415.7 574.8 415.7 604.9L414.2 604.9C414.2 574.8 554.6 574.8 554.6 544.8Z"/><path class="r1" d="M637.4 544.8C637.4 574.8 398.4 574.8 398.4 604.9L400.9 604.9C400.9 574.8 639 574.8 639 544.8Z"/><path class="r1" d="M651.6 544.8C651.6 574.8 404.1 574.8 404.1 604.9L406.1 604.9C406.1 574.8 653.6 574.8 653.6 544.8Z"/><path class="r1" d="M639.9 544.8C639.9 574.8 433 574.8 433 604.9L434.9 604.9C434.9 574.8 646.2 574.8 646.2 544.8Z"/><path class="r6" d="M495.4 544.8C495.4 574.8 430.5 574.8 430.5 604.9L428.3 604.9C428.3 574.8 497.1 574.8 497.1 544.8Z"/><path class="r1" d="M546.8 544.8C546.8 574.8 454.2 574.8 454.2 604.9L458.6 604.9C458.6 574.8 552.4 574.8 552.4 544.8Z"/><path class="r6" d="M569.7 544.8C569.7 574.8 478.4 574.8 478.4 604.9L475.9 604.9C475.9 574.8 574.1 574.8 574.1 544.8Z"/><path class="r1" d="M460.9 544.8C460.9 574.8 476.3 574.8 476.3 604.9L477.7 604.9C477.7 574.8 462.6 574.8 462.6 544.8Z"/><path class="r6" d="M643.3 544.8C643.3 574.8 477.4 574.8 477.4 604.9L475.9 604.9C475.9 574.8 646.2 574.8 646.2 544.8Z"/><path class="r6" d="M583 544.8C583 574.8 452.6 574.8 452.6 604.9L443.1 604.9C443.1 574.8 590.3 574.8 590.3 544.8Z"/><path class="r1" d="M415.1 544.8C415.1 574.8 454.1 574.8 454.1 604.9L455.8 604.9C455.8 574.8 416.8 574.8 416.8 544.8Z"/><path class="r1" d="M611.7 544.8C611.7 574.8 476.3 574.8 476.3 604.9L479.3 604.9C479.3 574.8 616.5 574.8 616.5 544.8Z"/><path class="r1" d="M542.8 544.8C542.8 574.8 456.4 574.8 456.4 604.9L458.6 604.9C458.6 574.8 544.6 574.8 544.6 544.8Z"/><path class="r6" d="M553 544.8C553 574.8 441.8 574.8 441.8 604.9L439.6 604.9C439.6 574.8 554.6 574.8 554.6 544.8Z"/><path class="r1" d="M639.9 544.8C639.9 574.8 460.4 574.8 460.4 604.9L462.9 604.9C462.9 574.8 646.2 574.8 646.2 544.8Z"/><path class="r6" d="M465.3 544.8C465.3 574.8 416.7 574.8 416.7 604.9L414.9 604.9C414.9 574.8 467.5 574.8 467.5 544.8Z"/><path class="r1" d="M631.6 544.8C631.6 574.8 459.9 574.8 459.9 604.9L462.2 604.9C462.2 574.8 633.6 574.8 633.6 544.8Z"/><path class="r6" d="M484.8 544.8C484.8 574.8 455.8 574.8 455.8 604.9L454.2 604.9C454.2 574.8 486.5 574.8 486.5 544.8Z"/><path class="r6" d="M604.3 544.8C604.3 574.8 383.2 574.8 383.2 604.9L381.3 604.9C381.3 574.8 605.7 574.8 605.7 544.8Z"/><path class="r6" d="M576.3 544.8C576.3 574.8 438.7 574.8 438.7 604.9L436.6 604.9C436.6 574.8 579.7 574.8 579.7 544.8Z"/><path class="r6" d="M455.3 544.8C455.3 574.8 439.2 574.8 439.2 604.9L437.2 604.9C437.2 574.8 457 574.8 457 544.8Z"/><path class="r6" d="M487.6 544.8C487.6 574.8 428.1 574.8 428.1 604.9L425.9 604.9C425.9 574.8 490.4 574.8 490.4 544.8Z"/><path class="r6" d="M508.2 544.8C508.2 574.8 438.7 574.8 438.7 604.9L433.3 604.9C433.3 574.8 513.3 574.8 513.3 544.8Z"/><path class="r6" d="M542.8 544.8C542.8 574.8 415.7 574.8 415.7 604.9L414.2 604.9C414.2 574.8 544.6 574.8 544.6 544.8Z"/><path class="r6" d="M471.5 544.8C471.5 574.8 421 574.8 421 604.9L417.9 604.9C417.9 574.8 475.4 574.8 475.4 544.8Z"/><path class="r6" d="M482.6 544.8C482.6 574.8 462.9 574.8 462.9 604.9L460.8 604.9C460.8 574.8 484.2 574.8 484.2 544.8Z"/><path class="r1" d="M518.8 544.8C518.8 574.8 394.6 574.8 394.6 604.9L396.3 604.9C396.3 574.8 521.1 574.8 521.1 544.8Z"/><path class="r1" d="M649.2 544.8C649.2 574.8 380.1 574.8 380.1 604.9L383.2 604.9C383.2 574.8 653.6 574.8 653.6 544.8Z"/><path class="r6" d="M580.8 544.8C580.8 574.8 472.6 574.8 472.6 604.9L468.4 604.9C468.4 574.8 585.2 574.8 585.2 544.8Z"/><path class="r6" d="M473.7 544.8C473.7 574.8 421.7 574.8 421.7 604.9L419.7 604.9C419.7 574.8 475.4 574.8 475.4 544.8Z"/><path class="r6" d="M471.5 544.8C471.5 574.8 462.4 574.8 462.4 604.9L460.4 604.9C460.4 574.8 473.2 574.8 473.2 544.8Z"/><path class="r1" d="M614.5 544.8C614.5 574.8 460.8 574.8 460.8 604.9L463.7 604.9C463.7 574.8 622.3 574.8 622.3 544.8Z"/><path class="r6" d="M506 544.8C506 574.8 421 574.8 421 604.9L418.6 604.9C418.6 574.8 507.7 574.8 507.7 544.8Z"/><path class="r6" d="M518.8 544.8C518.8 574.8 464.4 574.8 464.4 604.9L463.1 604.9C463.1 574.8 521.1 574.8 521.1 544.8Z"/><path class="r1" d="M517.2 544.8C517.2 574.8 459.7 574.8 459.7 604.9L462 604.9C462 574.8 518.8 574.8 518.8 544.8Z"/><path class="r1" d="M428.4 544.8C428.4 574.8 459.9 574.8 459.9 604.9L462.2 604.9C462.2 574.8 430.7 574.8 430.7 544.8Z"/><path class="r6" d="M580.8 544.8C580.8 574.8 423.8 574.8 423.8 604.9L422 604.9C422 574.8 582.5 574.8 582.5 544.8Z"/><path class="r6" d="M542.8 544.8C542.8 574.8 428.1 574.8 428.1 604.9L425.9 604.9C425.9 574.8 544.6 574.8 544.6 544.8Z"/><path class="r6" d="M435.1 544.8C435.1 574.8 434.9 574.8 434.9 604.9L433.3 604.9C433.3 574.8 436.8 574.8 436.8 544.8Z"/><path class="r1" d="M651.6 544.8C651.6 574.8 476.3 574.8 476.3 604.9L477.7 604.9C477.7 574.8 653.6 574.8 653.6 544.8Z"/><path class="r6" d="M498.2 544.8C498.2 574.8 399.7 574.8 399.7 604.9L397.7 604.9C397.7 574.8 499.9 574.8 499.9 544.8Z"/><path class="r6" d="M555.2 544.8C555.2 574.8 383.2 574.8 383.2 604.9L380.1 604.9C380.1 574.8 561.3 574.8 561.3 544.8Z"/><path class="r6" d="M555.2 544.8C555.2 574.8 470.4 574.8 470.4 604.9L468.4 604.9C468.4 574.8 557.4 574.8 557.4 544.8Z"/><path class="r6" d="M530.1 544.8C530.1 574.8 415.7 574.8 415.7 604.9L414 604.9C414 574.8 531.2 574.8 531.2 544.8Z"/><path class="r6" d="M487.6 544.8C487.6 574.8 424.8 574.8 424.8 604.9L423.2 604.9C423.2 574.8 490.4 574.8 490.4 544.8Z"/><path class="r6" d="M639.9 544.8C639.9 574.8 478.4 574.8 478.4 604.9L476.1 604.9C476.1 574.8 641.3 574.8 641.3 544.8Z"/><path class="r6" d="M469.8 544.8C469.8 574.8 477.7 574.8 477.7 604.9L476.3 604.9C476.3 574.8 471.2 574.8 471.2 544.8Z"/><path class="r6" d="M517.2 544.8C517.2 574.8 423.8 574.8 423.8 604.9L422 604.9C422 574.8 518.8 574.8 518.8 544.8Z"/><path class="r1" d="M487.6 544.8C487.6 574.8 404.1 574.8 404.1 604.9L415.7 604.9C415.7 574.8 495.4 574.8 495.4 544.8Z"/><path class="r6" d="M536.7 544.8C536.7 574.8 404.6 574.8 404.6 604.9L402.6 604.9C402.6 574.8 538.5 574.8 538.5 544.8Z"/><path class="r6" d="M536.7 544.8C536.7 574.8 470.2 574.8 470.2 604.9L463.1 604.9C463.1 574.8 542.4 574.8 542.4 544.8Z"/><path class="r6" d="M503.8 544.8C503.8 574.8 421.7 574.8 421.7 604.9L419.7 604.9C419.7 574.8 505.4 574.8 505.4 544.8Z"/><path class="r1" d="M594.1 544.8C594.1 574.8 459.3 574.8 459.3 604.9L461.2 604.9C461.2 574.8 596.5 574.8 596.5 544.8Z"/><path class="r6" d="M601.9 544.8C601.9 574.8 400.9 574.8 400.9 604.9L398.4 604.9C398.4 574.8 603.8 574.8 603.8 544.8Z"/><path class="r6" d="M542.8 544.8C542.8 574.8 382.2 574.8 382.2 604.9L380.1 604.9C380.1 574.8 544.6 574.8 544.6 544.8Z"/><path class="r6" d="M571.9 544.8C571.9 574.8 399.7 574.8 399.7 604.9L397.7 604.9C397.7 574.8 574.1 574.8 574.1 544.8Z"/><path class="r6" d="M553 544.8C553 574.8 424.8 574.8 424.8 604.9L423.2 604.9C423.2 574.8 554.6 574.8 554.6 544.8Z"/><path class="r1" d="M643.3 544.8C643.3 574.8 422 574.8 422 604.9L423.8 604.9C423.8 574.8 646.2 574.8 646.2 544.8Z"/><path class="r7" d="M390.6 608.4C390.6 638.5 399.1 638.5 399.1 668.6L399.5 668.6C399.5 638.5 391.1 638.5 391.1 608.4Z"/><path class="r7" d="M437.5 608.4C437.5 638.5 382.7 638.5 382.7 668.6L383.2 668.6C383.2 638.5 437.9 638.5 437.9 608.4Z"/><path class="r8" d="M454.8 608.4C454.8 638.5 496.1 638.5 496.1 668.6L495.6 668.6C495.6 638.5 455.1 638.5 455.1 608.4Z"/><path class="r8" d="M471.3 608.4C471.3 638.5 483.8 638.5 483.8 668.6L483.5 668.6C483.5 638.5 471.8 638.5 471.8 608.4Z"/><path class="r7" d="M399.4 608.4C399.4 638.5 400.5 638.5 400.5 668.6L400.8 668.6C400.8 638.5 399.9 638.5 399.9 608.4Z"/><path class="r8" d="M425.4 608.4C425.4 638.5 383.9 638.5 383.9 668.6L383.4 668.6C383.4 638.5 425.8 638.5 425.8 608.4Z"/><path class="r7" d="M391.1 608.4C391.1 638.5 383.4 638.5 383.4 668.6L383.9 668.6C383.9 638.5 391.5 638.5 391.5 608.4Z"/><path class="r8" d="M469 608.4C469 638.5 484.7 638.5 484.7 668.6L484.3 668.6C484.3 638.5 469.4 638.5 469.4 608.4Z"/><path class="r8" d="M454.8 608.4C454.8 638.5 455.9 638.5 455.9 668.6L455.6 668.6C455.6 638.5 455.1 638.5 455.1 608.4Z"/><path class="r7" d="M471.3 608.4C471.3 638.5 449.4 638.5 449.4 668.6L449.8 668.6C449.8 638.5 471.7 638.5 471.7 608.4Z"/><path class="r8" d="M418.5 608.4C418.5 638.5 386.1 638.5 386.1 668.6L385.7 668.6C385.7 638.5 418.7 638.5 418.7 608.4Z"/><path class="r7" d="M475.3 608.4C475.3 638.5 460.8 638.5 460.8 668.6L461.3 668.6C461.3 638.5 475.6 638.5 475.6 608.4Z"/><path class="r7" d="M390.6 608.4C390.6 638.5 394 638.5 394 668.6L394.3 668.6C394.3 638.5 391.1 638.5 391.1 608.4Z"/><path class="r8" d="M474.6 608.4C474.6 638.5 483.8 638.5 483.8 668.6L483.5 668.6C483.5 638.5 475 638.5 475 608.4Z"/><path class="r8" d="M441.7 608.4C441.7 638.5 380.5 638.5 380.5 668.6L380 668.6C380 638.5 442.1 638.5 442.1 608.4Z"/><path class="r8" d="M382.1 608.4C382.1 638.5 425.1 638.5 425.1 668.6L424.6 668.6C424.6 638.5 382.5 638.5 382.5 608.4Z"/><path class="r7" d="M440.4 608.4C440.4 638.5 441.1 638.5 441.1 668.6L441.5 668.6C441.5 638.5 440.9 638.5 440.9 608.4Z"/><path class="r7" d="M425.9 608.4C425.9 638.5 482.3 638.5 482.3 668.6L482.8 668.6C482.8 638.5 426.2 638.5 426.2 608.4Z"/><path class="r8" d="M471.3 608.4C471.3 638.5 491.8 638.5 491.8 668.6L491.4 668.6C491.4 638.5 471.7 638.5 471.7 608.4Z"/><path class="r8" d="M454.4 608.4C454.4 638.5 484.7 638.5 484.7 668.6L484.3 668.6C484.3 638.5 454.7 638.5 454.7 608.4Z"/><path class="r7" d="M391.1 608.4C391.1 638.5 382.7 638.5 382.7 668.6L383.2 668.6C383.2 638.5 391.5 638.5 391.5 608.4Z"/><path class="r7" d="M476.9 608.4C476.9 638.5 443.5 638.5 443.5 668.6L443.9 668.6C443.9 638.5 477.2 638.5 477.2 608.4Z"/><path class="r8" d="M478.1 608.4C478.1 638.5 441.3 638.5 441.3 668.6L441 668.6C441 638.5 478.5 638.5 478.5 608.4Z"/><path class="r7" d="M382.1 608.4C382.1 638.5 411.4 638.5 411.4 668.6L411.9 668.6C411.9 638.5 382.5 638.5 382.5 608.4Z"/><path class="r8" d="M415.6 608.4C415.6 638.5 425.1 638.5 425.1 668.6L424.6 668.6C424.6 638.5 416 638.5 416 608.4Z"/><path class="r8" d="M414.7 608.4C414.7 638.5 456 638.5 456 668.6L455.7 668.6C455.7 638.5 415 638.5 415 608.4Z"/><path class="r7" d="M429.2 608.4C429.2 638.5 443.5 638.5 443.5 668.6L443.9 668.6C443.9 638.5 429.6 638.5 429.6 608.4Z"/><path class="r8" d="M441.7 608.4C441.7 638.5 425.1 638.5 425.1 668.6L424.6 668.6C424.6 638.5 442.1 638.5 442.1 608.4Z"/><path class="r7" d="M390.6 608.4C390.6 638.5 393.6 638.5 393.6 668.6L393.9 668.6C393.9 638.5 391.1 638.5 391.1 608.4Z"/><path class="r7" d="M422.7 608.4C422.7 638.5 449.4 638.5 449.4 668.6L449.8 668.6C449.8 638.5 423.1 638.5 423.1 608.4Z"/><path class="r7" d="M433.9 608.4C433.9 638.5 442.5 638.5 442.5 668.6L442.8 668.6C442.8 638.5 434.3 638.5 434.3 608.4Z"/><path class="r7" d="M478.1 608.4C478.1 638.5 449.4 638.5 449.4 668.6L449.8 668.6C449.8 638.5 478.5 638.5 478.5 608.4Z"/><path class="r7" d="M454.7 608.4C454.7 638.5 460.8 638.5 460.8 668.6L461.3 668.6C461.3 638.5 455.1 638.5 455.1 608.4Z"/><path class="r7" d="M460.6 608.4C460.6 638.5 455.6 638.5 455.6 668.6L455.9 668.6C455.9 638.5 461.1 638.5 461.1 608.4Z"/><path class="r8" d="M382.1 608.4C382.1 638.5 444.6 638.5 444.6 668.6L444.1 668.6C444.1 638.5 382.5 638.5 382.5 608.4Z"/><path class="r8" d="M403.4 608.4C403.4 638.5 470.5 638.5 470.5 668.6L470.1 668.6C470.1 638.5 403.8 638.5 403.8 608.4Z"/><path class="r7" d="M437.5 608.4C437.5 638.5 406.3 638.5 406.3 668.6L406.8 668.6C406.8 638.5 437.9 638.5 437.9 608.4Z"/><path class="r8" d="M437.5 608.4C437.5 638.5 406.8 638.5 406.8 668.6L406.3 668.6C406.3 638.5 437.9 638.5 437.9 608.4Z"/><path class="r7" d="M423.8 608.4C423.8 638.5 435.8 638.5 435.8 668.6L436.2 668.6C436.2 638.5 424.1 638.5 424.1 608.4Z"/><path class="r8" d="M404.9 608.4C404.9 638.5 406.8 638.5 406.8 668.6L406.3 668.6C406.3 638.5 405.3 638.5 405.3 608.4Z"/><path class="r7" d="M478.2 608.4C478.2 638.5 478.9 638.5 478.9 668.6L479.3 668.6C479.3 638.5 478.6 638.5 478.6 608.4Z"/><path class="r8" d="M420.5 608.4C420.5 638.5 427.5 638.5 427.5 668.6L427.3 668.6C427.3 638.5 420.9 638.5 420.9 608.4Z"/><path class="r8" d="M402.2 608.4C402.2 638.5 456 638.5 456 668.6L455.7 668.6C455.7 638.5 402.5 638.5 402.5 608.4Z"/><path class="r7" d="M437.5 608.4C437.5 638.5 474.8 638.5 474.8 668.6L475.1 668.6C475.1 638.5 437.9 638.5 437.9 608.4Z"/><path class="r7" d="M469.2 608.4C469.2 638.5 478.9 638.5 478.9 668.6L479.3 668.6C479.3 638.5 469.6 638.5 469.6 608.4Z"/><path class="r8" d="M420.5 608.4C420.5 638.5 474.8 638.5 474.8 668.6L474.3 668.6C474.3 638.5 420.9 638.5 420.9 608.4Z"/><path class="r7" d="M451.7 608.4C451.7 638.5 455.6 638.5 455.6 668.6L455.9 668.6C455.9 638.5 452 638.5 452 608.4Z"/><path class="r7" d="M441.7 608.4C441.7 638.5 489.9 638.5 489.9 668.6L490.2 668.6C490.2 638.5 442.1 638.5 442.1 608.4Z"/><path class="r7" d="M437.5 608.4C437.5 638.5 464 638.5 464 668.6L464.4 668.6C464.4 638.5 437.9 638.5 437.9 608.4Z"/><path class="r7" d="M396.6 608.4C396.6 638.5 400.5 638.5 400.5 668.6L400.8 668.6C400.8 638.5 397 638.5 397 608.4Z"/><path class="r8" d="M476.9 608.4C476.9 638.5 456 638.5 456 668.6L455.7 668.6C455.7 638.5 477.2 638.5 477.2 608.4Z"/><path class="r7" d="M443.7 608.4C443.7 638.5 442.5 638.5 442.5 668.6L442.8 668.6C442.8 638.5 444 638.5 444 608.4Z"/><path class="r8" d="M404.9 608.4C404.9 638.5 387.8 638.5 387.8 668.6L387.4 668.6C387.4 638.5 405.3 638.5 405.3 608.4Z"/><path class="r8" d="M396.9 608.4C396.9 638.5 386.1 638.5 386.1 668.6L385.7 668.6C385.7 638.5 397.3 638.5 397.3 608.4Z"/><path class="r7" d="M462.4 608.4C462.4 638.5 457.4 638.5 457.4 668.6L457.7 668.6C457.7 638.5 462.8 638.5 462.8 608.4Z"/><path class="r8" d="M438 608.4C438 638.5 479.6 638.5 479.6 668.6L479.2 668.6C479.2 638.5 438.4 638.5 438.4 608.4Z"/><path class="r7" d="M425.9 608.4C425.9 638.5 455.6 638.5 455.6 668.6L455.9 668.6C455.9 638.5 426.2 638.5 426.2 608.4Z"/><path class="r7" d="M426.8 608.4C426.8 638.5 455.7 638.5 455.7 668.6L456 668.6C456 638.5 427.2 638.5 427.2 608.4Z"/><path class="r7" d="M434 608.4C434 638.5 426.6 638.5 426.6 668.6L426.9 668.6C426.9 638.5 434.4 638.5 434.4 608.4Z"/><path class="r8" d="M440.4 608.4C440.4 638.5 466.7 638.5 466.7 668.6L466.3 668.6C466.3 638.5 440.9 638.5 440.9 608.4Z"/><path class="r8" d="M451.7 608.4C451.7 638.5 453.3 638.5 453.3 668.6L452.9 668.6C452.9 638.5 452 638.5 452 608.4Z"/><path class="r8" d="M382.1 608.4C382.1 638.5 415.7 638.5 415.7 668.6L415.3 668.6C415.3 638.5 382.5 638.5 382.5 608.4Z"/><path class="r8" d="M461.6 608.4C461.6 638.5 442.8 638.5 442.8 668.6L442.5 668.6C442.5 638.5 462.1 638.5 462.1 608.4Z"/><path class="r7" d="M476.5 608.4C476.5 638.5 479.2 638.5 479.2 668.6L479.6 668.6C479.6 638.5 476.8 638.5 476.8 608.4Z"/><path class="r7" d="M390.6 608.4C390.6 638.5 396.8 638.5 396.8 668.6L397.2 668.6C397.2 638.5 391.1 638.5 391.1 608.4Z"/><path class="r8" d="M478.2 608.4C478.2 638.5 474.8 638.5 474.8 668.6L474.3 668.6C474.3 638.5 478.6 638.5 478.6 608.4Z"/><path class="r7" d="M457.4 608.4C457.4 638.5 455.7 638.5 455.7 668.6L456 668.6C456 638.5 457.9 638.5 457.9 608.4Z"/><path class="r7" d="M391.1 608.4C391.1 638.5 397.9 638.5 397.9 668.6L398.3 668.6C398.3 638.5 391.5 638.5 391.5 608.4Z"/><path class="r8" d="M441.7 608.4C441.7 638.5 420.1 638.5 420.1 668.6L419.7 668.6C419.7 638.5 442.1 638.5 442.1 608.4Z"/><path class="r8" d="M418.5 608.4C418.5 638.5 415.7 638.5 415.7 668.6L415.3 668.6C415.3 638.5 418.7 638.5 418.7 608.4Z"/><path class="r8" d="M461.2 608.4C461.2 638.5 433.1 638.5 433.1 668.6L432.7 668.6C432.7 638.5 461.6 638.5 461.6 608.4Z"/><path class="r7" d="M396.9 608.4C396.9 638.5 396.8 638.5 396.8 668.6L397.2 668.6C397.2 638.5 397.3 638.5 397.3 608.4Z"/><path class="r8" d="M433.7 608.4C433.7 638.5 441.5 638.5 441.5 668.6L441.1 668.6C441.1 638.5 434.2 638.5 434.2 608.4Z"/><path class="r8" d="M454.8 608.4C454.8 638.5 428.3 638.5 428.3 668.6L427.9 668.6C427.9 638.5 455.1 638.5 455.1 608.4Z"/><path class="r7" d="M396.9 608.4C396.9 638.5 449.4 638.5 449.4 668.6L449.8 668.6C449.8 638.5 397.3 638.5 397.3 608.4Z"/><path class="r7" d="M462.4 608.4C462.4 638.5 470.4 638.5 470.4 668.6L470.8 668.6C470.8 638.5 462.8 638.5 462.8 608.4Z"/><path class="r8" d="M471.3 608.4C471.3 638.5 433.1 638.5 433.1 668.6L432.7 668.6C432.7 638.5 471.8 638.5 471.8 608.4Z"/><path class="r8" d="M422.7 608.4C422.7 638.5 444.6 638.5 444.6 668.6L444.1 668.6C444.1 638.5 423.1 638.5 423.1 608.4Z"/><path class="r7" d="M454.4 608.4C454.4 638.5 380.4 638.5 380.4 668.6L380.7 668.6C380.7 638.5 454.7 638.5 454.7 608.4Z"/><path class="r7" d="M420.5 608.4C420.5 638.5 455.6 638.5 455.6 668.6L455.9 668.6C455.9 638.5 420.9 638.5 420.9 608.4Z"/><path class="r7" d="M438 608.4C438 638.5 484.3 638.5 484.3 668.6L484.7 668.6C484.7 638.5 438.4 638.5 438.4 608.4Z"/><path class="r8" d="M461.2 608.4C461.2 638.5 457.7 638.5 457.7 668.6L457.4 668.6C457.4 638.5 461.6 638.5 461.6 608.4Z"/><path class="r7" d="M463.6 608.4C463.6 638.5 460.8 638.5 460.8 668.6L461.3 668.6C461.3 638.5 463.9 638.5 463.9 608.4Z"/><path class="r7" d="M396.6 608.4C396.6 638.5 400.5 638.5 400.5 668.6L401 668.6C401 638.5 397 638.5 397 608.4Z"/><path class="r7" d="M457.3 608.4C457.3 638.5 470.4 638.5 470.4 668.6L470.8 668.6C470.8 638.5 457.7 638.5 457.7 608.4Z"/><path class="r7" d="M460 608.4C460 638.5 452.9 638.5 452.9 668.6L453.3 668.6C453.3 638.5 460.4 638.5 460.4 608.4Z"/><path class="r8" d="M399.4 608.4C399.4 638.5 390.6 638.5 390.6 668.6L390.2 668.6C390.2 638.5 399.9 638.5 399.9 608.4Z"/><path class="r8" d="M478.2 608.4C478.2 638.5 482.8 638.5 482.8 668.6L482.3 668.6C482.3 638.5 478.6 638.5 478.6 608.4Z"/><path class="r7" d="M476.8 608.4C476.8 638.5 444.1 638.5 444.1 668.6L444.6 668.6C444.6 638.5 477.1 638.5 477.1 608.4Z"/><path class="r7" d="M422.7 608.4C422.7 638.5 442.5 638.5 442.5 668.6L442.8 668.6C442.8 638.5 423.1 638.5 423.1 608.4Z"/><path class="r7" d="M380.9 608.4C380.9 638.5 383.4 638.5 383.4 668.6L383.9 668.6C383.9 638.5 381.3 638.5 381.3 608.4Z"/><path class="r8" d="M454.4 608.4C454.4 638.5 464.4 638.5 464.4 668.6L464 668.6C464 638.5 454.7 638.5 454.7 608.4Z"/><path class="r7" d="M414.8 608.4C414.8 638.5 406.3 638.5 406.3 668.6L406.8 668.6C406.8 638.5 415.1 638.5 415.1 608.4Z"/><path class="r8" d="M460.6 608.4C460.6 638.5 464.4 638.5 464.4 668.6L464 668.6C464 638.5 461.1 638.5 461.1 608.4Z"/><path class="r7" d="M478.2 608.4C478.2 638.5 479.2 638.5 479.2 668.6L479.6 668.6C479.6 638.5 478.6 638.5 478.6 608.4Z"/><path class="r7" d="M422.5 608.4C422.5 638.5 466.3 638.5 466.3 668.6L466.7 668.6C466.7 638.5 422.9 638.5 422.9 608.4Z"/><path class="r7" d="M471.3 608.4C471.3 638.5 427.9 638.5 427.9 668.6L428.3 668.6C428.3 638.5 471.7 638.5 471.7 608.4Z"/><path class="r7" d="M395.3 608.4C395.3 638.5 424.6 638.5 424.6 668.6L425.1 668.6C425.1 638.5 395.6 638.5 395.6 608.4Z"/><path class="r7" d="M469 608.4C469 638.5 424.6 638.5 424.6 668.6L425.1 668.6C425.1 638.5 469.4 638.5 469.4 608.4Z"/><path class="r7" d="M471.3 608.4C471.3 638.5 484.3 638.5 484.3 668.6L484.7 668.6C484.7 638.5 471.7 638.5 471.7 608.4Z"/><path class="r7" d="M476.9 608.4C476.9 638.5 479.2 638.5 479.2 668.6L479.6 668.6C479.6 638.5 477.2 638.5 477.2 608.4Z"/><path class="r8" d="M433.9 608.4C433.9 638.5 490.2 638.5 490.2 668.6L489.9 668.6C489.9 638.5 434.3 638.5 434.3 608.4Z"/><path class="r7" d="M425.9 608.4C425.9 638.5 491.4 638.5 491.4 668.6L491.8 668.6C491.8 638.5 426.2 638.5 426.2 608.4Z"/><path class="r7" d="M461.1 608.4C461.1 638.5 479.2 638.5 479.2 668.6L479.6 668.6C479.6 638.5 461.6 638.5 461.6 608.4Z"/><path class="r8" d="M477 608.4C477 638.5 484.7 638.5 484.7 668.6L484.3 668.6C484.3 638.5 477.5 638.5 477.5 608.4Z"/><path class="r7" d="M402.2 608.4C402.2 638.5 427.9 638.5 427.9 668.6L428.3 668.6C428.3 638.5 402.5 638.5 402.5 608.4Z"/><path class="r7" d="M396.8 608.4C396.8 638.5 406.3 638.5 406.3 668.6L406.8 668.6C406.8 638.5 397.1 638.5 397.1 608.4Z"/><path class="r7" d="M457.3 608.4C457.3 638.5 411.4 638.5 411.4 668.6L411.9 668.6C411.9 638.5 457.7 638.5 457.7 608.4Z"/><path class="r7" d="M422.5 608.4C422.5 638.5 444.1 638.5 444.1 668.6L444.6 668.6C444.6 638.5 422.9 638.5 422.9 608.4Z"/><path class="r8" d="M440.4 608.4C440.4 638.5 484.7 638.5 484.7 668.6L484.3 668.6C484.3 638.5 440.9 638.5 440.9 608.4Z"/><path class="r7" d="M475.3 608.4C475.3 638.5 455.7 638.5 455.7 668.6L456 668.6C456 638.5 475.6 638.5 475.6 608.4Z"/><path class="r7" d="M438 608.4C438 638.5 466.3 638.5 466.3 668.6L466.7 668.6C466.7 638.5 438.4 638.5 438.4 608.4Z"/><path class="r7" d="M443.7 608.4C443.7 638.5 493.3 638.5 493.3 668.6L493.5 668.6C493.5 638.5 444 638.5 444 608.4Z"/><path class="r7" d="M425.4 608.4C425.4 638.5 400.5 638.5 400.5 668.6L400.8 668.6C400.8 638.5 425.8 638.5 425.8 608.4Z"/><path class="r8" d="M398.5 608.4C398.5 638.5 401 638.5 401 668.6L400.5 668.6C400.5 638.5 398.9 638.5 398.9 608.4Z"/><path class="r8" d="M415.6 608.4C415.6 638.5 383.9 638.5 383.9 668.6L383.4 668.6C383.4 638.5 416 638.5 416 608.4Z"/><path class="r7" d="M476.5 608.4C476.5 638.5 455.7 638.5 455.7 668.6L456 668.6C456 638.5 476.8 638.5 476.8 608.4Z"/><path class="r8" d="M382.1 608.4C382.1 638.5 399.7 638.5 399.7 668.6L399.3 668.6C399.3 638.5 382.5 638.5 382.5 608.4Z"/><path class="r7" d="M419.5 608.4C419.5 638.5 479.2 638.5 479.2 668.6L479.6 668.6C479.6 638.5 420 638.5 420 608.4Z"/><path class="r7" d="M457.4 608.4C457.4 638.5 470.1 638.5 470.1 668.6L470.5 668.6C470.5 638.5 457.9 638.5 457.9 608.4Z"/><path class="r8" d="M478.1 608.4C478.1 638.5 461.3 638.5 461.3 668.6L460.8 668.6C460.8 638.5 478.5 638.5 478.5 608.4Z"/><path class="r8" d="M415.6 608.4C415.6 638.5 400.3 638.5 400.3 668.6L400 668.6C400 638.5 416 638.5 416 608.4Z"/><path class="r8" d="M460.9 608.4C460.9 638.5 470.8 638.5 470.8 668.6L470.4 668.6C470.4 638.5 461.3 638.5 461.3 608.4Z"/><path class="r8" d="M425.4 608.4C425.4 638.5 470.8 638.5 470.8 668.6L470.4 668.6C470.4 638.5 425.8 638.5 425.8 608.4Z"/><path class="r8" d="M420.5 608.4C420.5 638.5 415.7 638.5 415.7 668.6L415.3 668.6C415.3 638.5 420.9 638.5 420.9 608.4Z"/><path class="r8" d="M426.8 608.4C426.8 638.5 415.7 638.5 415.7 668.6L415.3 668.6C415.3 638.5 427.2 638.5 427.2 608.4Z"/><path class="r8" d="M471.3 608.4C471.3 638.5 455.9 638.5 455.9 668.6L455.6 668.6C455.6 638.5 471.7 638.5 471.7 608.4Z"/><path class="r8" d="M402.2 608.4C402.2 638.5 387.8 638.5 387.8 668.6L387.4 668.6C387.4 638.5 402.5 638.5 402.5 608.4Z"/><path class="r7" d="M461.2 608.4C461.2 638.5 466.3 638.5 466.3 668.6L466.7 668.6C466.7 638.5 461.6 638.5 461.6 608.4Z"/><path class="r8" d="M398.5 608.4C398.5 638.5 411.9 638.5 411.9 668.6L411.4 668.6C411.4 638.5 398.9 638.5 398.9 608.4Z"/><path class="r7" d="M391.1 608.4C391.1 638.5 385.7 638.5 385.7 668.6L386.1 668.6C386.1 638.5 391.5 638.5 391.5 608.4Z"/><path class="r8" d="M418.5 608.4C418.5 638.5 493.5 638.5 493.5 668.6L493.3 668.6C493.3 638.5 418.7 638.5 418.7 608.4Z"/><path class="r7" d="M418.5 608.4C418.5 638.5 446.5 638.5 446.5 668.6L446.9 668.6C446.9 638.5 418.7 638.5 418.7 608.4Z"/><path class="r7" d="M420.5 608.4C420.5 638.5 446.5 638.5 446.5 668.6L446.9 668.6C446.9 638.5 420.9 638.5 420.9 608.4Z"/><path class="r7" d="M460.9 608.4C460.9 638.5 474.8 638.5 474.8 668.6L475.1 668.6C475.1 638.5 461.3 638.5 461.3 608.4Z"/><path class="r7" d="M419.5 608.4C419.5 638.5 400.5 638.5 400.5 668.6L400.8 668.6C400.8 638.5 420 638.5 420 608.4Z"/><path class="r8" d="M423.8 608.4C423.8 638.5 386.1 638.5 386.1 668.6L385.7 668.6C385.7 638.5 424.1 638.5 424.1 608.4Z"/><path class="r7" d="M396.8 608.4C396.8 638.5 397.9 638.5 397.9 668.6L398.3 668.6C398.3 638.5 397.1 638.5 397.1 608.4Z"/><path class="r7" d="M425.4 608.4C425.4 638.5 424.6 638.5 424.6 668.6L425.1 668.6C425.1 638.5 425.8 638.5 425.8 608.4Z"/><path class="r8" d="M429.2 608.4C429.2 638.5 446.9 638.5 446.9 668.6L446.5 668.6C446.5 638.5 429.6 638.5 429.6 608.4Z"/><path class="r8" d="M402.2 608.4C402.2 638.5 397.2 638.5 397.2 668.6L396.8 668.6C396.8 638.5 402.5 638.5 402.5 608.4Z"/><path class="r7" d="M438 608.4C438 638.5 466.3 638.5 466.3 668.6L466.7 668.6C466.7 638.5 438.4 638.5 438.4 608.4Z"/><path class="r8" d="M460 608.4C460 638.5 491.8 638.5 491.8 668.6L491.4 668.6C491.4 638.5 460.4 638.5 460.4 608.4Z"/><path class="r7" d="M399.4 608.4C399.4 638.5 435.8 638.5 435.8 668.6L436.2 668.6C436.2 638.5 399.9 638.5 399.9 608.4Z"/><path class="r7" d="M460 608.4C460 638.5 394 638.5 394 668.6L394.3 668.6C394.3 638.5 460.4 638.5 460.4 608.4Z"/><path class="r7" d="M443.7 608.4C443.7 638.5 411.4 638.5 411.4 668.6L411.9 668.6C411.9 638.5 444 638.5 444 608.4Z"/><path class="r7" d="M471.3 608.4C471.3 638.5 489.9 638.5 489.9 668.6L490.2 668.6C490.2 638.5 471.7 638.5 471.7 608.4Z"/><path class="r7" d="M460.6 608.4C460.6 638.5 474.3 638.5 474.3 668.6L474.8 668.6C474.8 638.5 461.1 638.5 461.1 608.4Z"/><path class="r7" d="M476.9 608.4C476.9 638.5 495.6 638.5 495.6 668.6L496.1 668.6C496.1 638.5 477.2 638.5 477.2 608.4Z"/><path class="r7" d="M425.4 608.4C425.4 638.5 383.4 638.5 383.4 668.6L383.9 668.6C383.9 638.5 425.8 638.5 425.8 608.4Z"/><path class="r7" d="M396.8 608.4C396.8 638.5 444.1 638.5 444.1 668.6L444.6 668.6C444.6 638.5 397.1 638.5 397.1 608.4Z"/><path class="r8" d="M469.2 608.4C469.2 638.5 420.1 638.5 420.1 668.6L419.7 668.6C419.7 638.5 469.6 638.5 469.6 608.4Z"/><path class="r8" d="M419.5 608.4C419.5 638.5 427.5 638.5 427.5 668.6L427.3 668.6C427.3 638.5 420 638.5 420 608.4Z"/><path class="r7" d="M414.8 608.4C414.8 638.5 479.2 638.5 479.2 668.6L479.6 668.6C479.6 638.5 415.1 638.5 415.1 608.4Z"/><path class="r8" d="M441.7 608.4C441.7 638.5 470.8 638.5 470.8 668.6L470.4 668.6C470.4 638.5 442.1 638.5 442.1 608.4Z"/><path class="r7" d="M478.2 608.4C478.2 638.5 479.2 638.5 479.2 668.6L479.6 668.6C479.6 638.5 478.6 638.5 478.6 608.4Z"/><path class="r8" d="M414.7 608.4C414.7 638.5 436.2 638.5 436.2 668.6L435.8 668.6C435.8 638.5 415 638.5 415 608.4Z"/><path class="r8" d="M396.9 608.4C396.9 638.5 470.5 638.5 470.5 668.6L470.1 668.6C470.1 638.5 397.3 638.5 397.3 608.4Z"/><path class="r7" d="M434 608.4C434 638.5 474.8 638.5 474.8 668.6L475.1 668.6C475.1 638.5 434.4 638.5 434.4 608.4Z"/><path class="r8" d="M433.7 608.4C433.7 638.5 386.1 638.5 386.1 668.6L385.7 668.6C385.7 638.5 434.2 638.5 434.2 608.4Z"/><path class="r8" d="M429.2 608.4C429.2 638.5 420.1 638.5 420.1 668.6L419.7 668.6C419.7 638.5 429.6 638.5 429.6 608.4Z"/><path class="r7" d="M460.6 608.4C460.6 638.5 493.3 638.5 493.3 668.6L493.5 668.6C493.5 638.5 461.1 638.5 461.1 608.4Z"/><path class="r7" d="M454.4 608.4C454.4 638.5 482.3 638.5 482.3 668.6L482.8 668.6C482.8 638.5 454.7 638.5 454.7 608.4Z"/><path class="r8" d="M380.9 608.4C380.9 638.5 383.2 638.5 383.2 668.6L382.7 668.6C382.7 638.5 381.3 638.5 381.3 608.4Z"/><path class="r7" d="M396.8 608.4C396.8 638.5 449.4 638.5 449.4 668.6L449.8 668.6C449.8 638.5 397.1 638.5 397.1 608.4Z"/><path class="r8" d="M437.5 608.4C437.5 638.5 483.8 638.5 483.8 668.6L483.5 668.6C483.5 638.5 437.9 638.5 437.9 608.4Z"/><path class="r8" d="M454.4 608.4C454.4 638.5 491.8 638.5 491.8 668.6L491.4 668.6C491.4 638.5 454.7 638.5 454.7 608.4Z"/><path class="r8" d="M418.5 608.4C418.5 638.5 393.9 638.5 393.9 668.6L393.6 668.6C393.6 638.5 418.7 638.5 418.7 608.4Z"/><path class="r7" d="M429.2 608.4C429.2 638.5 442.5 638.5 442.5 668.6L442.8 668.6C442.8 638.5 429.6 638.5 429.6 608.4Z"/><path class="r8" d="M433.7 608.4C433.7 638.5 400.3 638.5 400.3 668.6L400 668.6C400 638.5 434.2 638.5 434.2 608.4Z"/><path class="r7" d="M454.8 608.4C454.8 638.5 470.1 638.5 470.1 668.6L470.5 668.6C470.5 638.5 455.1 638.5 455.1 608.4Z"/><path class="r7" d="M420.5 608.4C420.5 638.5 419.7 638.5 419.7 668.6L420.1 668.6C420.1 638.5 420.9 638.5 420.9 608.4Z"/><path class="r7" d="M460.6 608.4C460.6 638.5 460.8 638.5 460.8 668.6L461.3 668.6C461.3 638.5 461.1 638.5 461.1 608.4Z"/><path class="r8" d="M438 608.4C438 638.5 420.1 638.5 420.1 668.6L419.7 668.6C419.7 638.5 438.4 638.5 438.4 608.4Z"/><path class="r8" d="M396.9 608.4C396.9 638.5 420.1 638.5 420.1 668.6L419.7 668.6C419.7 638.5 397.3 638.5 397.3 608.4Z"/><path class="r7" d="M461.2 608.4C461.2 638.5 428.9 638.5 428.9 668.6L429.2 668.6C429.2 638.5 461.6 638.5 461.6 608.4Z"/><path class="r7" d="M457.4 608.4C457.4 638.5 406.3 638.5 406.3 668.6L406.8 668.6C406.8 638.5 457.9 638.5 457.9 608.4Z"/><path class="r8" d="M433.7 608.4C433.7 638.5 466.7 638.5 466.7 668.6L466.3 668.6C466.3 638.5 434.2 638.5 434.2 608.4Z"/><path class="r8" d="M415.6 608.4C415.6 638.5 429.6 638.5 429.6 668.6L429.2 668.6C429.2 638.5 416 638.5 416 608.4Z"/><path class="r7" d="M380.9 608.4C380.9 638.5 470.1 638.5 470.1 668.6L470.5 668.6C470.5 638.5 381.3 638.5 381.3 608.4Z"/><path class="r8" d="M414.7 608.4C414.7 638.5 398.3 638.5 398.3 668.6L397.9 668.6C397.9 638.5 415 638.5 415 608.4Z"/><path class="r7" d="M396.8 608.4C396.8 638.5 394 638.5 394 668.6L394.3 668.6C394.3 638.5 397.1 638.5 397.1 608.4Z"/><path class="r8" d="M423.8 608.4C423.8 638.5 415.7 638.5 415.7 668.6L415.3 668.6C415.3 638.5 424.1 638.5 424.1 608.4Z"/><path class="r8" d="M460 608.4C460 638.5 483.8 638.5 483.8 668.6L483.5 668.6C483.5 638.5 460.4 638.5 460.4 608.4Z"/><path class="r8" d="M423.8 608.4C423.8 638.5 390.6 638.5 390.6 668.6L390.2 668.6C390.2 638.5 424.1 638.5 424.1 608.4Z"/><path class="r7" d="M398.5 608.4C398.5 638.5 380 638.5 380 668.6L380.5 668.6C380.5 638.5 398.9 638.5 398.9 608.4Z"/><path class="r8" d="M474.6 608.4C474.6 638.5 455.9 638.5 455.9 668.6L455.6 668.6C455.6 638.5 475 638.5 475 608.4Z"/><path class="r8" d="M415.6 608.4C415.6 638.5 484.7 638.5 484.7 668.6L484.3 668.6C484.3 638.5 416 638.5 416 608.4Z"/><path class="r7" d="M419.5 608.4C419.5 638.5 400 638.5 400 668.6L400.3 668.6C400.3 638.5 420 638.5 420 608.4Z"/><path class="r7" d="M461.1 608.4C461.1 638.5 474.8 638.5 474.8 668.6L475.1 668.6C475.1 638.5 461.6 638.5 461.6 608.4Z"/><path class="r8" d="M403.4 608.4C403.4 638.5 470.8 638.5 470.8 668.6L470.4 668.6C470.4 638.5 403.8 638.5 403.8 608.4Z"/><path class="r8" d="M391.1 608.4C391.1 638.5 401.4 638.5 401.4 668.6L401 668.6C401 638.5 391.5 638.5 391.5 608.4Z"/><path class="r7" d="M434 608.4C434 638.5 466.3 638.5 466.3 668.6L466.7 668.6C466.7 638.5 434.4 638.5 434.4 608.4Z"/><path class="r7" d="M476.5 608.4C476.5 638.5 491.4 638.5 491.4 668.6L491.8 668.6C491.8 638.5 476.8 638.5 476.8 608.4Z"/><path class="r7" d="M471.3 608.4C471.3 638.5 489.1 638.5 489.1 668.6L489.5 668.6C489.5 638.5 471.8 638.5 471.8 608.4Z"/><path class="r7" d="M460.6 608.4C460.6 638.5 400 638.5 400 668.6L400.3 668.6C400.3 638.5 461.1 638.5 461.1 608.4Z"/><path class="r7" d="M475.3 608.4C475.3 638.5 452.9 638.5 452.9 668.6L453.3 668.6C453.3 638.5 475.6 638.5 475.6 608.4Z"/><path class="r7" d="M476.5 608.4C476.5 638.5 482.3 638.5 482.3 668.6L482.8 668.6C482.8 638.5 476.8 638.5 476.8 608.4Z"/><path class="r7" d="M426.8 608.4C426.8 638.5 441 638.5 441 668.6L441.3 668.6C441.3 638.5 427.2 638.5 427.2 608.4Z"/><path class="r7" d="M476.8 608.4C476.8 638.5 452.9 638.5 452.9 668.6L453.3 668.6C453.3 638.5 477.1 638.5 477.1 608.4Z"/><path class="r8" d="M463.6 608.4C463.6 638.5 427.5 638.5 427.5 668.6L427.3 668.6C427.3 638.5 463.9 638.5 463.9 608.4Z"/><path class="r7" d="M418.5 608.4C418.5 638.5 380.4 638.5 380.4 668.6L380.7 668.6C380.7 638.5 418.7 638.5 418.7 608.4Z"/><path class="r7" d="M457.4 608.4C457.4 638.5 482.3 638.5 482.3 668.6L482.8 668.6C482.8 638.5 457.9 638.5 457.9 608.4Z"/><path class="r7" d="M461.2 608.4C461.2 638.5 486.4 638.5 486.4 668.6L486.7 668.6C486.7 638.5 461.6 638.5 461.6 608.4Z"/><path class="r7" d="M454.4 608.4C454.4 638.5 486.4 638.5 486.4 668.6L486.7 668.6C486.7 638.5 454.7 638.5 454.7 608.4Z"/><path class="r7" d="M437.5 608.4C437.5 638.5 464 638.5 464 668.6L464.4 668.6C464.4 638.5 437.9 638.5 437.9 608.4Z"/><path class="r7" d="M469 608.4C469 638.5 474.8 638.5 474.8 668.6L475.1 668.6C475.1 638.5 469.4 638.5 469.4 608.4Z"/><path class="r7" d="M425.9 608.4C425.9 638.5 390.2 638.5 390.2 668.6L390.6 668.6C390.6 638.5 426.2 638.5 426.2 608.4Z"/><path class="r7" d="M443.7 608.4C443.7 638.5 428.9 638.5 428.9 668.6L429.2 668.6C429.2 638.5 444 638.5 444 608.4Z"/><path class="r7" d="M457.3 608.4C457.3 638.5 479.2 638.5 479.2 668.6L479.6 668.6C479.6 638.5 457.7 638.5 457.7 608.4Z"/><path class="r7" d="M438 608.4C438 638.5 400.5 638.5 400.5 668.6L400.8 668.6C400.8 638.5 438.4 638.5 438.4 608.4Z"/><path class="r7" d="M415.6 608.4C415.6 638.5 479.2 638.5 479.2 668.6L479.6 668.6C479.6 638.5 416 638.5 416 608.4Z"/><path class="r8" d="M396.9 608.4C396.9 638.5 446.9 638.5 446.9 668.6L446.5 668.6C446.5 638.5 397.3 638.5 397.3 608.4Z"/><path class="r7" d="M420.5 608.4C420.5 638.5 415.3 638.5 415.3 668.6L415.7 668.6C415.7 638.5 420.9 638.5 420.9 608.4Z"/><path class="r7" d="M423.8 608.4C423.8 638.5 444.1 638.5 444.1 668.6L444.6 668.6C444.6 638.5 424.1 638.5 424.1 608.4Z"/><path class="r8" d="M469.2 608.4C469.2 638.5 490.2 638.5 490.2 668.6L489.9 668.6C489.9 638.5 469.6 638.5 469.6 608.4Z"/><path class="r7" d="M419.5 608.4C419.5 638.5 446.5 638.5 446.5 668.6L446.9 668.6C446.9 638.5 420 638.5 420 608.4Z"/><path class="r8" d="M451.7 608.4C451.7 638.5 399.7 638.5 399.7 668.6L399.3 668.6C399.3 638.5 452 638.5 452 608.4Z"/><path class="r8" d="M396.8 608.4C396.8 638.5 449.8 638.5 449.8 668.6L449.4 668.6C449.4 638.5 397.1 638.5 397.1 608.4Z"/><path class="r7" d="M396.6 608.4C396.6 638.5 385.7 638.5 385.7 668.6L386.1 668.6C386.1 638.5 397 638.5 397 608.4Z"/><path class="r7" d="M382.1 608.4C382.1 638.5 415.3 638.5 415.3 668.6L415.7 668.6C415.7 638.5 382.5 638.5 382.5 608.4Z"/><path class="r8" d="M423.8 608.4C423.8 638.5 442.8 638.5 442.8 668.6L442.5 668.6C442.5 638.5 424.1 638.5 424.1 608.4Z"/><path class="r7" d="M454.8 608.4C454.8 638.5 435.8 638.5 435.8 668.6L436.2 668.6C436.2 638.5 455.1 638.5 455.1 608.4Z"/><path class="r7" d="M440.4 608.4C440.4 638.5 457.4 638.5 457.4 668.6L457.7 668.6C457.7 638.5 440.9 638.5 440.9 608.4Z"/><path class="r7" d="M475.3 608.4C475.3 638.5 397.9 638.5 397.9 668.6L398.3 668.6C398.3 638.5 475.6 638.5 475.6 608.4Z"/><path class="r8" d="M390.6 608.4C390.6 638.5 440.6 638.5 440.6 668.6L440.2 668.6C440.2 638.5 391.1 638.5 391.1 608.4Z"/><path class="r8" d="M461.6 608.4C461.6 638.5 466.7 638.5 466.7 668.6L466.3 668.6C466.3 638.5 462.1 638.5 462.1 608.4Z"/><path class="r7" d="M402.2 608.4C402.2 638.5 387.4 638.5 387.4 668.6L387.8 668.6C387.8 638.5 402.5 638.5 402.5 608.4Z"/><path class="r7" d="M433.7 608.4C433.7 638.5 400.5 638.5 400.5 668.6L400.8 668.6C400.8 638.5 434.2 638.5 434.2 608.4Z"/><path class="r8" d="M403.4 608.4C403.4 638.5 475.1 638.5 475.1 668.6L474.8 668.6C474.8 638.5 403.8 638.5 403.8 608.4Z"/><path class="r0" d="M376.4 608.4C376.4 638.5 376.4 638.5 376.4 668.6L377.7 668.6C377.7 638.5 377.7 638.5 377.7 608.4Z"/><path class="r9" d="M419.7 672.1C419.7 702.2 397.6 702.2 397.6 732.3L398 732.3C398 702.2 420.1 702.2 420.1 672.1Z"/><path class="r9" d="M400.5 672.1C400.5 702.2 389.9 702.2 389.9 732.3L390.2 732.3C390.2 702.2 401 702.2 401 672.1Z"/><path class="r10" d="M455.6 672.1C455.6 702.2 420.1 702.2 420.1 732.3L419.8 732.3C419.8 702.2 455.9 702.2 455.9 672.1Z"/><path class="r9" d="M491.4 672.1C491.4 702.2 409.5 702.2 409.5 732.3L409.8 732.3C409.8 702.2 491.8 702.2 491.8 672.1Z"/><path class="r10" d="M484.3 672.1C484.3 702.2 409.8 702.2 409.8 732.3L409.5 732.3C409.5 702.2 484.7 702.2 484.7 672.1Z"/><path class="r10" d="M440.2 672.1C440.2 702.2 401 702.2 401 732.3L400.7 732.3C400.7 702.2 440.6 702.2 440.6 672.1Z"/><path class="r9" d="M424.6 672.1C424.6 702.2 406.7 702.2 406.7 732.3L407.1 732.3C407.1 702.2 425.1 702.2 425.1 672.1Z"/><path class="r10" d="M470.1 672.1C470.1 702.2 400.6 702.2 400.6 732.3L400.2 732.3C400.2 702.2 470.5 702.2 470.5 672.1Z"/><path class="r10" d="M387.4 672.1C387.4 702.2 394.3 702.2 394.3 732.3L394 732.3C394 702.2 387.8 702.2 387.8 672.1Z"/><path class="r10" d="M483.5 672.1C483.5 702.2 401 702.2 401 732.3L400.7 732.3C400.7 702.2 483.8 702.2 483.8 672.1Z"/><path class="r9" d="M466.3 672.1C466.3 702.2 414.6 702.2 414.6 732.3L414.9 732.3C414.9 702.2 466.7 702.2 466.7 672.1Z"/><path class="r9" d="M401 672.1C401 702.2 405.9 702.2 405.9 732.3L406.2 732.3C406.2 702.2 401.4 702.2 401.4 672.1Z"/><path class="r10" d="M489.1 672.1C489.1 702.2 407.1 702.2 407.1 732.3L406.7 732.3C406.7 702.2 489.5 702.2 489.5 672.1Z"/><path class="r9" d="M442.5 672.1C442.5 702.2 400.2 702.2 400.2 732.3L400.6 732.3C400.6 702.2 442.8 702.2 442.8 672.1Z"/><path class="r10" d="M449.4 672.1C449.4 702.2 394.3 702.2 394.3 732.3L394 732.3C394 702.2 449.8 702.2 449.8 672.1Z"/><path class="r10" d="M446.5 672.1C446.5 702.2 418.2 702.2 418.2 732.3L417.9 732.3C417.9 702.2 446.9 702.2 446.9 672.1Z"/><path class="r10" d="M493.3 672.1C493.3 702.2 410.6 702.2 410.6 732.3L410.1 732.3C410.1 702.2 493.5 702.2 493.5 672.1Z"/><path class="r9" d="M440.2 672.1C440.2 702.2 406.7 702.2 406.7 732.3L407.1 732.3C407.1 702.2 440.6 702.2 440.6 672.1Z"/><path class="r9" d="M428.9 672.1C428.9 702.2 416 702.2 416 732.3L416.3 732.3C416.3 702.2 429.2 702.2 429.2 672.1Z"/><path class="r9" d="M484.3 672.1C484.3 702.2 410.1 702.2 410.1 732.3L410.6 732.3C410.6 702.2 484.7 702.2 484.7 672.1Z"/><path class="r9" d="M452.9 672.1C452.9 702.2 419.8 702.2 419.8 732.3L420.1 732.3C420.1 702.2 453.3 702.2 453.3 672.1Z"/><path class="r10" d="M399.1 672.1C399.1 702.2 393.2 702.2 393.2 732.3L392.7 732.3C392.7 702.2 399.5 702.2 399.5 672.1Z"/><path class="r9" d="M489.1 672.1C489.1 702.2 397.9 702.2 397.9 732.3L398.2 732.3C398.2 702.2 489.5 702.2 489.5 672.1Z"/><path class="r10" d="M443.5 672.1C443.5 702.2 406.2 702.2 406.2 732.3L405.9 732.3C405.9 702.2 443.9 702.2 443.9 672.1Z"/><path class="r10" d="M380 672.1C380 702.2 385.5 702.2 385.5 732.3L385.1 732.3C385.1 702.2 380.5 702.2 380.5 672.1Z"/><path class="r10" d="M400.5 672.1C400.5 702.2 386.6 702.2 386.6 732.3L386.2 732.3C386.2 702.2 401 702.2 401 672.1Z"/><path class="r9" d="M470.4 672.1C470.4 702.2 408.7 702.2 408.7 732.3L409.1 732.3C409.1 702.2 470.8 702.2 470.8 672.1Z"/><path class="r9" d="M380 672.1C380 702.2 380.7 702.2 380.7 732.3L381 732.3C381 702.2 380.5 702.2 380.5 672.1Z"/><path class="r9" d="M415.3 672.1C415.3 702.2 410.1 702.2 410.1 732.3L410.6 732.3C410.6 702.2 415.7 702.2 415.7 672.1Z"/><path class="r10" d="M424.6 672.1C424.6 702.2 381 702.2 381 732.3L380.7 732.3C380.7 702.2 425.1 702.2 425.1 672.1Z"/><path class="r9" d="M441.1 672.1C441.1 702.2 392.7 702.2 392.7 732.3L393.2 732.3C393.2 702.2 441.5 702.2 441.5 672.1Z"/><path class="r9" d="M470.1 672.1C470.1 702.2 409.5 702.2 409.5 732.3L409.8 732.3C409.8 702.2 470.5 702.2 470.5 672.1Z"/><path class="r10" d="M415.3 672.1C415.3 702.2 385.5 702.2 385.5 732.3L385.1 732.3C385.1 702.2 415.7 702.2 415.7 672.1Z"/><path class="r9" d="M419.7 672.1C419.7 702.2 392.7 702.2 392.7 732.3L393.2 732.3C393.2 702.2 420.1 702.2 420.1 672.1Z"/><path class="r9" d="M383.4 672.1C383.4 702.2 392.7 702.2 392.7 732.3L393.2 732.3C393.2 702.2 383.9 702.2 383.9 672.1Z"/><path class="r9" d="M429.2 672.1C429.2 702.2 380.7 702.2 380.7 732.3L381 732.3C381 702.2 429.6 702.2 429.6 672.1Z"/><path class="r9" d="M401 672.1C401 702.2 400.7 702.2 400.7 732.3L401 732.3C401 702.2 401.4 702.2 401.4 672.1Z"/><path class="r10" d="M419.7 672.1C419.7 702.2 393.2 702.2 393.2 732.3L392.7 732.3C392.7 702.2 420.1 702.2 420.1 672.1Z"/><path class="r9" d="M387.4 672.1C387.4 702.2 389.9 702.2 389.9 732.3L390.2 732.3C390.2 702.2 387.8 702.2 387.8 672.1Z"/><path class="r9" d="M452.9 672.1C452.9 702.2 409.5 702.2 409.5 732.3L409.8 732.3C409.8 702.2 453.3 702.2 453.3 672.1Z"/><path class="r9" d="M397.9 672.1C397.9 702.2 400.2 702.2 400.2 732.3L400.6 732.3C400.6 702.2 398.3 702.2 398.3 672.1Z"/><path class="r9" d="M441.1 672.1C441.1 702.2 400.2 702.2 400.2 732.3L400.6 732.3C400.6 702.2 441.5 702.2 441.5 672.1Z"/><path class="r9" d="M460.8 672.1C460.8 702.2 409.6 702.2 409.6 732.3L410.1 732.3C410.1 702.2 461.3 702.2 461.3 672.1Z"/><path class="r9" d="M427.3 672.1C427.3 702.2 406.7 702.2 406.7 732.3L407.1 732.3C407.1 702.2 427.5 702.2 427.5 672.1Z"/><path class="r10" d="M387.4 672.1C387.4 702.2 410.6 702.2 410.6 732.3L410.1 732.3C410.1 702.2 387.8 702.2 387.8 672.1Z"/><path class="r9" d="M411.4 672.1C411.4 702.2 409.6 702.2 409.6 732.3L410.1 732.3C410.1 702.2 411.9 702.2 411.9 672.1Z"/><path class="r10" d="M387.4 672.1C387.4 702.2 398 702.2 398 732.3L397.6 732.3C397.6 702.2 387.8 702.2 387.8 672.1Z"/><path class="r9" d="M415.3 672.1C415.3 702.2 410.1 702.2 410.1 732.3L410.6 732.3C410.6 702.2 415.7 702.2 415.7 672.1Z"/><path class="r10" d="M400.5 672.1C400.5 702.2 386.8 702.2 386.8 732.3L386.4 732.3C386.4 702.2 400.8 702.2 400.8 672.1Z"/><path class="r10" d="M455.6 672.1C455.6 702.2 414.9 702.2 414.9 732.3L414.6 732.3C414.6 702.2 455.9 702.2 455.9 672.1Z"/><path class="r10" d="M470.4 672.1C470.4 702.2 404.9 702.2 404.9 732.3L404.6 732.3C404.6 702.2 470.8 702.2 470.8 672.1Z"/><path class="r9" d="M432.7 672.1C432.7 702.2 380.7 702.2 380.7 732.3L381 732.3C381 702.2 433.1 702.2 433.1 672.1Z"/><path class="r10" d="M446.5 672.1C446.5 702.2 414.9 702.2 414.9 732.3L414.6 732.3C414.6 702.2 446.9 702.2 446.9 672.1Z"/><path class="r10" d="M393.6 672.1C393.6 702.2 386.6 702.2 386.6 732.3L386.2 732.3C386.2 702.2 393.9 702.2 393.9 672.1Z"/><path class="r10" d="M491.4 672.1C491.4 702.2 409.8 702.2 409.8 732.3L409.5 732.3C409.5 702.2 491.8 702.2 491.8 672.1Z"/><path class="r9" d="M380.4 672.1C380.4 702.2 394 702.2 394 732.3L394.3 732.3C394.3 702.2 380.7 702.2 380.7 672.1Z"/><path class="r9" d="M486.4 672.1C486.4 702.2 410.1 702.2 410.1 732.3L410.6 732.3C410.6 702.2 486.7 702.2 486.7 672.1Z"/><path class="r10" d="M396.8 672.1C396.8 702.2 401 702.2 401 732.3L400.7 732.3C400.7 702.2 397.2 702.2 397.2 672.1Z"/><path class="r10" d="M489.1 672.1C489.1 702.2 410.5 702.2 410.5 732.3L410.1 732.3C410.1 702.2 489.5 702.2 489.5 672.1Z"/><path class="r10" d="M399.3 672.1C399.3 702.2 386.6 702.2 386.6 732.3L386.2 732.3C386.2 702.2 399.7 702.2 399.7 672.1Z"/><path class="r10" d="M394 672.1C394 702.2 381 702.2 381 732.3L380.7 732.3C380.7 702.2 394.3 702.2 394.3 672.1Z"/><path class="r9" d="M435.8 672.1C435.8 702.2 400.2 702.2 400.2 732.3L400.6 732.3C400.6 702.2 436.2 702.2 436.2 672.1Z"/><path class="r10" d="M440.2 672.1C440.2 702.2 386.8 702.2 386.8 732.3L386.4 732.3C386.4 702.2 440.6 702.2 440.6 672.1Z"/><path class="r9" d="M484.3 672.1C484.3 702.2 394 702.2 394 732.3L394.3 732.3C394.3 702.2 484.7 702.2 484.7 672.1Z"/><path class="r10" d="M435.8 672.1C435.8 702.2 400.6 702.2 400.6 732.3L400.2 732.3C400.2 702.2 436.2 702.2 436.2 672.1Z"/><path class="r10" d="M440.2 672.1C440.2 702.2 400.6 702.2 400.6 732.3L400.2 732.3C400.2 702.2 440.6 702.2 440.6 672.1Z"/><path class="r10" d="M479.2 672.1C479.2 702.2 398 702.2 398 732.3L397.6 732.3C397.6 702.2 479.6 702.2 479.6 672.1Z"/><path class="r10" d="M452.9 672.1C452.9 702.2 398 702.2 398 732.3L397.6 732.3C397.6 702.2 453.3 702.2 453.3 672.1Z"/><path class="r9" d="M380.4 672.1C380.4 702.2 394 702.2 394 732.3L394.3 732.3C394.3 702.2 380.7 702.2 380.7 672.1Z"/><path class="r9" d="M440.2 672.1C440.2 702.2 392.7 702.2 392.7 732.3L393.2 732.3C393.2 702.2 440.6 702.2 440.6 672.1Z"/><path class="r3" d="M376.4 672.1C376.4 702.2 376.4 702.2 376.4 732.3L377.7 732.3C377.7 702.2 377.7 702.2 377.7 672.1Z"/><line x1="376.4" y1="415.2" x2="601.1" y2="415.2" stroke="#1f5f58" stroke-width="1.8"/><line x1="376.4" y1="479.1" x2="665.2" y2="479.1" stroke="#7a3d78" stroke-width="1.8"/><line x1="376.4" y1="543" x2="653.4" y2="543" stroke="#a4503c" stroke-width="1.8"/><line x1="376.4" y1="606.6" x2="480.2" y2="606.6" stroke="#c3923c" stroke-width="1.8"/><line x1="376.4" y1="670.3" x2="497.8" y2="670.3" stroke="#4d6a34" stroke-width="1.8"/><line x1="376.4" y1="734" x2="422.4" y2="734" stroke="#4a4a4a" stroke-width="1.8"/><line x1="327" y1="417.7" x2="327" y2="541.7" stroke="#333" stroke-width="1"/><line x1="319" y1="480.5" x2="327" y2="480.5" stroke="#333" stroke-width="1"/><line x1="319" y1="480" x2="319" y2="606.8" stroke="#333" stroke-width="1"/><line x1="319" y1="606.3" x2="327.3" y2="606.3" stroke="#333" stroke-width="1"/><line x1="305.5" y1="541.9" x2="319" y2="541.9" stroke="#333" stroke-width="1"/><line x1="305.5" y1="541.4" x2="305.5" y2="671" stroke="#333" stroke-width="1"/><line x1="305.5" y1="670.5" x2="327.3" y2="670.5" stroke="#333" stroke-width="1"/><line x1="292" y1="603.7" x2="305.5" y2="603.7" stroke="#333" stroke-width="1"/><line x1="292" y1="603.2" x2="292" y2="734.7" stroke="#333" stroke-width="1"/><line x1="292" y1="734.2" x2="327.2" y2="734.2" stroke="#333" stroke-width="1"/><text x="332.6" y="406.9" font-size="8.3" font-style="italic" fill="#222">Mus</text><text x="332.6" y="416.7" font-size="8.3" font-style="italic" fill="#222">musculus</text><text x="332.6" y="426.5" font-size="8.3" fill="#222">BL6J</text><text x="332.6" y="473.1" font-size="8.3" font-style="italic" fill="#222">Mus</text><text x="332.6" y="482.9" font-size="8.3" font-style="italic" fill="#222">musculus</text><text x="332.6" y="492.7" font-size="8.3" fill="#222">129S1</text><text x="332.6" y="536.1" font-size="8.3" font-style="italic" fill="#222">Mus</text><text x="332.6" y="545.9" font-size="8.3" font-style="italic" fill="#222">musculus</text><text x="332.6" y="555.7" font-size="8.3" fill="#222">CAST</text><text x="332.6" y="606.9" font-size="8.3" font-style="italic" fill="#222">Mus</text><text x="332.6" y="616.7" font-size="8.3" font-style="italic" fill="#222">spretus</text><text x="332.6" y="670.5" font-size="8.3" font-style="italic" fill="#222">Mus</text><text x="332.6" y="680.3" font-size="8.3" font-style="italic" fill="#222">pahari</text><text x="332.6" y="730.1" font-size="8.3" font-style="italic" fill="#222">Rattus</text><text x="332.6" y="739.9" font-size="8.3" font-style="italic" fill="#222">norvegicus</text><line x1="290.1" y1="743.5" x2="328.8" y2="743.5" stroke="#333" stroke-width="1"/><line x1="290.7" y1="743.5" x2="290.7" y2="745.8" stroke="#333" stroke-width="0.8"/><line x1="300" y1="743.5" x2="300" y2="745.8" stroke="#333" stroke-width="0.8"/><line x1="308.9" y1="743.5" x2="308.9" y2="745.8" stroke="#333" stroke-width="0.8"/><line x1="318" y1="743.5" x2="318" y2="745.8" stroke="#333" stroke-width="0.8"/><line x1="327" y1="743.5" x2="327" y2="745.8" stroke="#333" stroke-width="0.8"/><text x="291.2" y="755.2" font-size="6.5" text-anchor="middle" fill="#444">12</text><text x="309.1" y="755.2" font-size="6.5" text-anchor="middle" fill="#444">6</text><text x="327.2" y="755.2" font-size="6.5" text-anchor="middle" fill="#444">0</text><text x="309" y="772.6" font-size="8.3" text-anchor="middle" fill="#222">Million Years</text><line x1="376.4" y1="743.5" x2="665.6" y2="743.5" stroke="#333" stroke-width="1"/><line x1="376.4" y1="743.5" x2="376.4" y2="745.5" stroke="#333" stroke-width="0.8"/><text x="376.4" y="755.8" font-size="6.8" text-anchor="middle" fill="#444">0</text><line x1="460.1" y1="743.5" x2="460.1" y2="745.5" stroke="#333" stroke-width="0.8"/><text x="460.1" y="755.8" font-size="6.8" text-anchor="middle" fill="#444">2,000,000</text><line x1="543.8" y1="743.5" x2="543.8" y2="745.5" stroke="#333" stroke-width="0.8"/><text x="543.8" y="755.8" font-size="6.8" text-anchor="middle" fill="#444">4,000,000</text><line x1="627.5" y1="743.5" x2="627.5" y2="745.5" stroke="#333" stroke-width="0.8"/><text x="627.5" y="755.8" font-size="6.8" text-anchor="middle" fill="#444">6,000,000</text><text x="520.5" y="772.6" font-size="8.3" text-anchor="middle" fill="#222">Chr4 KZFP gene cluster locus size (bp)</text><text x="604.7" y="629.6" font-size="8.3">Alignment</text><text x="604.7" y="638.9" font-size="8.3">direction</text><rect x="604.9" y="645.7" width="13.8" height="13.5" fill="#dcdcdc"/><rect x="604.9" y="661" width="13.8" height="13.4" fill="#f7ecd9"/><line x1="624.3" y1="652.5" x2="628.1" y2="652.5" stroke="#222" stroke-width="0.8"/><line x1="624.3" y1="667.4" x2="628.1" y2="667.4" stroke="#222" stroke-width="0.8"/><line x1="626.2" y1="665.5" x2="626.2" y2="669.3" stroke="#222" stroke-width="0.8"/></svg></body></html>
